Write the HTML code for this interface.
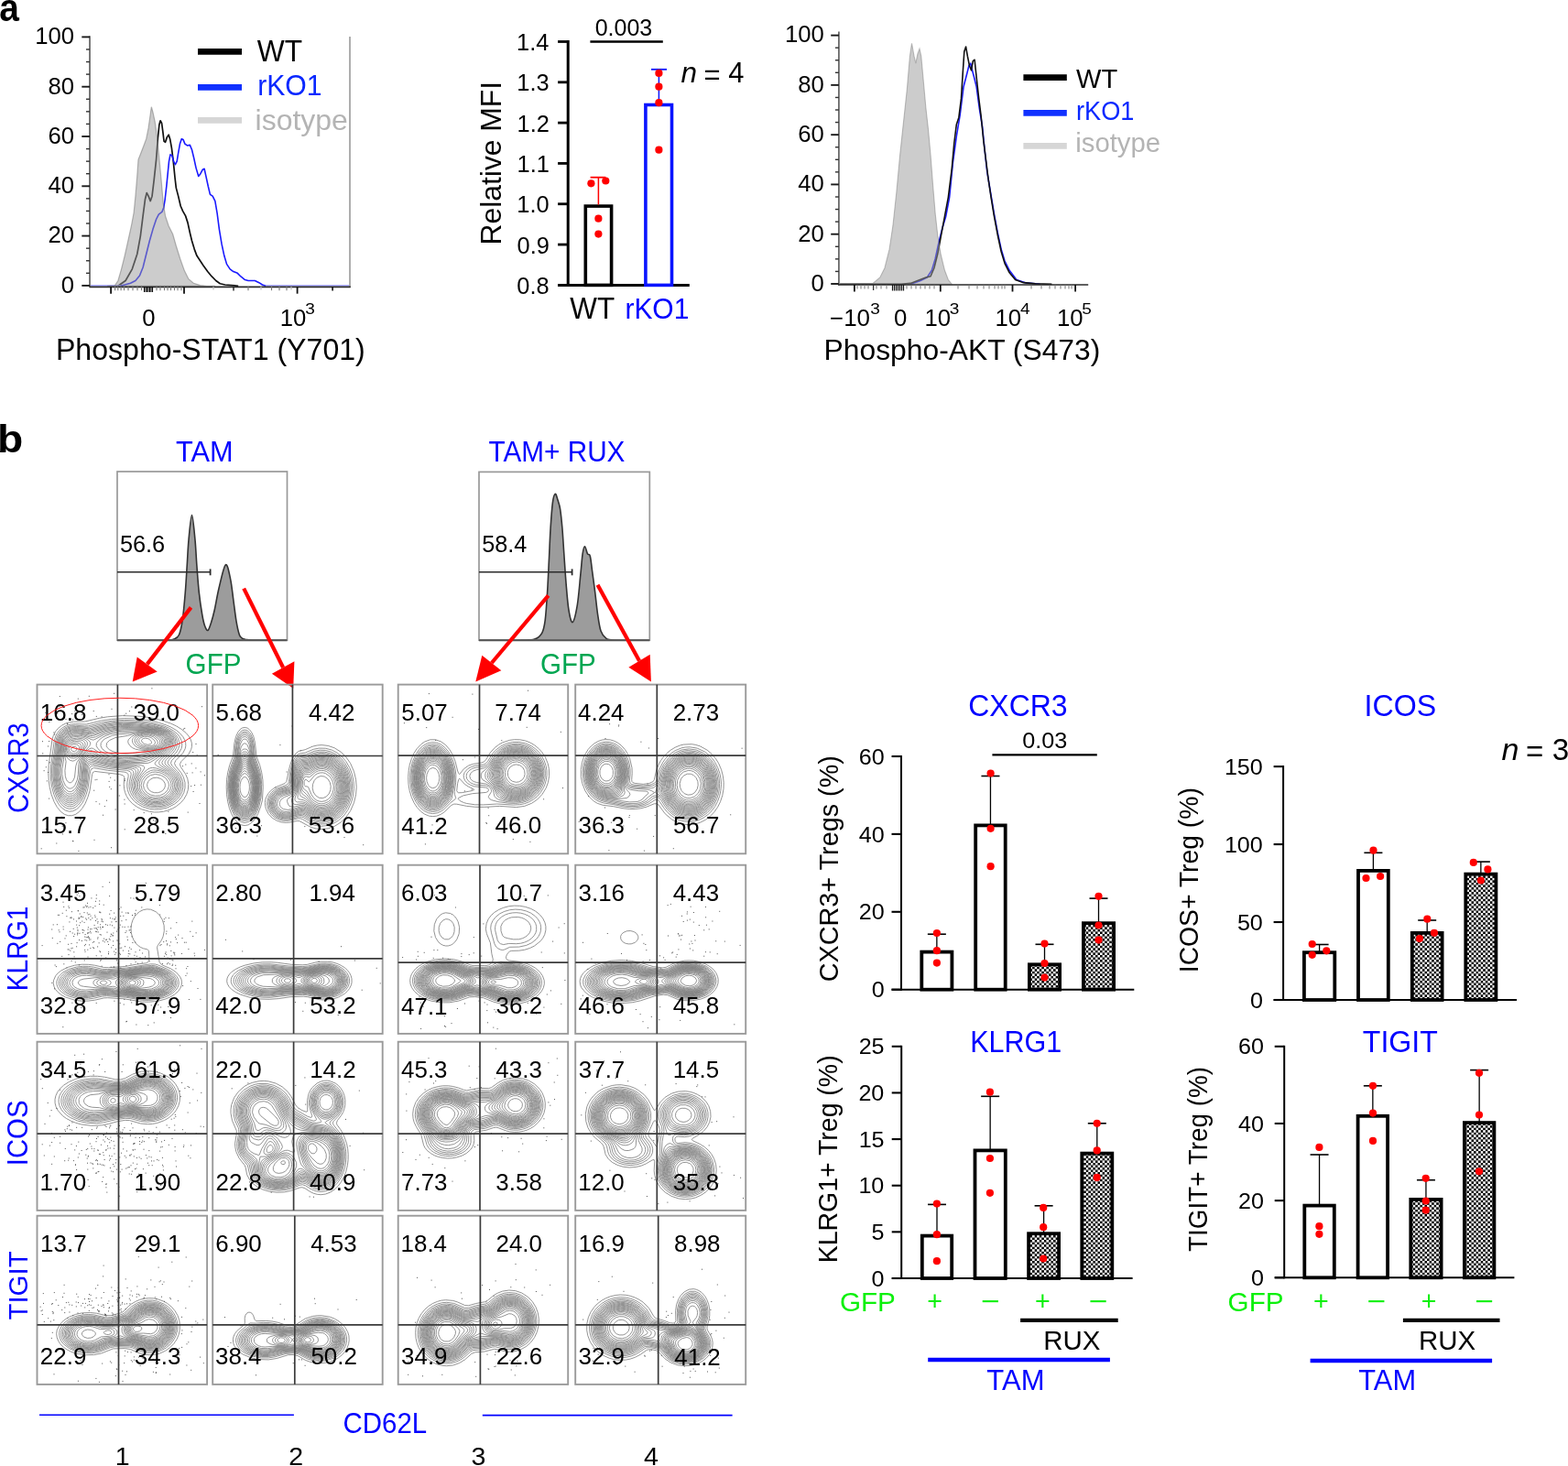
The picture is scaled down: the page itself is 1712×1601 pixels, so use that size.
<!DOCTYPE html>
<html><head><meta charset="utf-8"><title>Figure</title>
<style>
html,body{margin:0;padding:0;background:#fff;}
svg{display:block;}
text{font-family:"Liberation Sans", Arial, Helvetica, sans-serif;}
</style></head>
<body>
<svg width="1712" height="1601" viewBox="0 0 1712 1601">
<defs>
<pattern id="chk" x="0" y="0" width="5.1" height="5.1" patternUnits="userSpaceOnUse">
<rect width="5.1" height="5.1" fill="#fff"/>
<rect width="2.55" height="2.55" fill="#000"/>
<rect x="2.55" y="2.55" width="2.55" height="2.55" fill="#000"/>
</pattern>
</defs>
<rect width="1712" height="1601" fill="#fff"/>
<text transform="translate(-0.85,22.55) scale(0.9259,1)" font-size="42.000" font-weight="bold">a</text>
<path d="M128.93,312.29 L137.08,306.49 L144.32,293.82 L149.75,277.52 L153.37,257.61 L156.09,235.88 L158.44,217.77 L160.25,210.53 L162.06,214.15 L164.24,219.58 L166.05,214.15 L168.22,196.05 L170.57,174.32 L172.38,150.78 L173.83,136.3 L175.1,131.77 L176.55,134.48 L177.81,143.54 L179.08,154.4 L180.53,155.31 L182.34,149.88 L184.15,147.16 L185.6,151.69 L187.41,161.64 L189.22,176.13 L191.03,194.24 L192.3,205.1 L194.65,214.15 L197.19,225.02 L199.54,230.45 L202.62,235.88 L204.97,243.12 L207.33,253.99 L209.5,263.04 L212.22,272.09 L214.93,279.33 L218.55,284.77 L222.17,290.2 L226.7,296.53 L231.23,301.97 L235.75,306.49 L240.28,309.75 L245.71,311.02 L252.95,311.56 L260.2,312.29" fill="none" stroke="#111" stroke-width="1.7" stroke-linejoin="round"/>
<line x1="97.5" y1="311.9" x2="131.64" y2="311.9" stroke="#8c8cff" stroke-width="1.3"/>
<line x1="290.07" y1="311.9" x2="381.5" y2="311.9" stroke="#8c8cff" stroke-width="1.3"/>
<path d="M131.64,312.29 L142.51,309.21 L147.94,306.49 L152.47,301.06 L156.09,292.01 L159.71,277.52 L163.33,263.04 L166.95,250.36 L170.57,239.5 L173.29,234.07 L176.91,231.35 L178.72,226.83 L180.17,217.77 L181.8,203.29 L183.25,188.8 L184.51,176.13 L185.96,168.89 L187.77,169.79 L189.58,176.13 L191.39,179.75 L193.2,176.13 L194.65,167.08 L196.46,157.12 L198.27,151.69 L200.09,152.59 L201.9,157.12 L204.43,158.93 L207.33,158.38 L209.5,163.45 L211.67,172.51 L214.03,183.37 L216.74,192.42 L218.92,189.71 L221.27,185.18 L223.08,184.28 L224.89,192.42 L227.24,203.29 L229.42,212.34 L232.13,214.15 L234.85,219.58 L237.02,232.26 L239.38,250.36 L242.09,266.66 L244.81,279.33 L247.52,288.39 L251.14,293.82 L254.77,296.53 L259.29,298.35 L262.91,301.97 L267.44,305.59 L271.06,306.49 L278.3,306.49 L282.83,308.67 L286.45,311.02 L290.07,312.29" fill="none" stroke="#1a1aff" stroke-width="1.6" stroke-linejoin="round"/>
<path d="M117.16,312.29 L125.31,311.92 L128.93,306.49 L132.55,293.82 L136.17,279.33 L139.79,263.04 L143.41,246.74 L146.13,232.26 L147.94,214.15 L149.75,192.42 L151.02,174.32 L153.73,167.44 L156.99,158.93 L159.71,151.69 L162.06,139.92 L163.87,127.24 L165.32,116.74 L166.95,122.72 L169.12,132.67 L171.48,148.97 L173.65,170.7 L176,196.05 L178.18,221.39 L180.53,235.88 L184.15,246.74 L188.68,255.8 L192.3,268.47 L196.83,282.95 L201.35,295.63 L205.88,304.68 L211.31,309.21 L218.55,311.56 L225.8,312.29 L234.85,312.29 Z" fill="#9a9a9a" fill-opacity="0.5" stroke="#707070" stroke-opacity="0.5" stroke-width="1.2"/>
<line x1="98" y1="39.2" x2="98" y2="313.4" stroke="#6a6a6a" stroke-width="1.8"/>
<line x1="89.3" y1="311.9" x2="98" y2="311.9" stroke="#1a1a1a" stroke-width="1.9"/>
<text transform="translate(66.75,319.77)" font-size="25.700">0</text>
<line x1="94" y1="298.32" x2="98" y2="298.32" stroke="#333" stroke-width="1.4"/>
<line x1="94" y1="284.75" x2="98" y2="284.75" stroke="#333" stroke-width="1.4"/>
<line x1="94" y1="271.17" x2="98" y2="271.17" stroke="#333" stroke-width="1.4"/>
<line x1="89.3" y1="257.6" x2="98" y2="257.6" stroke="#1a1a1a" stroke-width="1.9"/>
<text transform="translate(52.50,265.47)" font-size="25.700">20</text>
<line x1="94" y1="244.02" x2="98" y2="244.02" stroke="#333" stroke-width="1.4"/>
<line x1="94" y1="230.45" x2="98" y2="230.45" stroke="#333" stroke-width="1.4"/>
<line x1="94" y1="216.88" x2="98" y2="216.88" stroke="#333" stroke-width="1.4"/>
<line x1="89.3" y1="203.3" x2="98" y2="203.3" stroke="#1a1a1a" stroke-width="1.9"/>
<text transform="translate(52.50,211.17)" font-size="25.700">40</text>
<line x1="94" y1="189.72" x2="98" y2="189.72" stroke="#333" stroke-width="1.4"/>
<line x1="94" y1="176.15" x2="98" y2="176.15" stroke="#333" stroke-width="1.4"/>
<line x1="94" y1="162.57" x2="98" y2="162.57" stroke="#333" stroke-width="1.4"/>
<line x1="89.3" y1="149" x2="98" y2="149" stroke="#1a1a1a" stroke-width="1.9"/>
<text transform="translate(52.50,156.88)" font-size="25.700">60</text>
<line x1="94" y1="135.42" x2="98" y2="135.42" stroke="#333" stroke-width="1.4"/>
<line x1="94" y1="121.85" x2="98" y2="121.85" stroke="#333" stroke-width="1.4"/>
<line x1="94" y1="108.27" x2="98" y2="108.27" stroke="#333" stroke-width="1.4"/>
<line x1="89.3" y1="94.7" x2="98" y2="94.7" stroke="#1a1a1a" stroke-width="1.9"/>
<text transform="translate(52.50,102.57)" font-size="25.700">80</text>
<line x1="94" y1="81.12" x2="98" y2="81.12" stroke="#333" stroke-width="1.4"/>
<line x1="94" y1="67.55" x2="98" y2="67.55" stroke="#333" stroke-width="1.4"/>
<line x1="94" y1="53.97" x2="98" y2="53.97" stroke="#333" stroke-width="1.4"/>
<line x1="89.3" y1="40.4" x2="98" y2="40.4" stroke="#1a1a1a" stroke-width="1.9"/>
<text transform="translate(38.25,48.27)" font-size="25.700">100</text>
<line x1="382" y1="40" x2="382" y2="314" stroke="#a0a0a0" stroke-width="1.7"/>
<line x1="97.5" y1="313.3" x2="382.8" y2="313.3" stroke="#2a2a2a" stroke-width="1.7"/>
<line x1="121.1" y1="313" x2="121.1" y2="320.7" stroke="#111" stroke-width="1.8"/>
<line x1="201" y1="313" x2="201" y2="320.7" stroke="#111" stroke-width="1.8"/>
<line x1="324.6" y1="313" x2="324.6" y2="320.7" stroke="#111" stroke-width="1.8"/>
<line x1="363.1" y1="313" x2="363.1" y2="317.5" stroke="#111" stroke-width="1.6"/>
<line x1="255" y1="313" x2="255" y2="317.5" stroke="#222" stroke-width="1.4"/>
<line x1="125.6" y1="313" x2="125.6" y2="317.2" stroke="#777" stroke-width="1.1"/>
<line x1="128.8" y1="313" x2="128.8" y2="317.2" stroke="#777" stroke-width="1.1"/>
<line x1="132.1" y1="313" x2="132.1" y2="317.2" stroke="#777" stroke-width="1.1"/>
<line x1="135.5" y1="313" x2="135.5" y2="317.2" stroke="#777" stroke-width="1.1"/>
<line x1="140" y1="313" x2="140" y2="317.2" stroke="#777" stroke-width="1.1"/>
<line x1="145" y1="313" x2="145" y2="317.2" stroke="#777" stroke-width="1.1"/>
<line x1="150" y1="313" x2="150" y2="317.2" stroke="#777" stroke-width="1.1"/>
<line x1="154.5" y1="313" x2="154.5" y2="317.2" stroke="#777" stroke-width="1.1"/>
<line x1="171" y1="313" x2="171" y2="317.2" stroke="#777" stroke-width="1.1"/>
<line x1="175" y1="313" x2="175" y2="317.2" stroke="#777" stroke-width="1.1"/>
<line x1="179.5" y1="313" x2="179.5" y2="317.2" stroke="#777" stroke-width="1.1"/>
<line x1="183" y1="313" x2="183" y2="317.2" stroke="#777" stroke-width="1.1"/>
<line x1="186.5" y1="313" x2="186.5" y2="317.2" stroke="#777" stroke-width="1.1"/>
<line x1="190.5" y1="313" x2="190.5" y2="317.2" stroke="#777" stroke-width="1.1"/>
<line x1="194" y1="313" x2="194" y2="317.2" stroke="#777" stroke-width="1.1"/>
<line x1="198" y1="313" x2="198" y2="317.2" stroke="#777" stroke-width="1.1"/>
<line x1="271" y1="313" x2="271" y2="317.2" stroke="#777" stroke-width="1.1"/>
<line x1="296.5" y1="313" x2="296.5" y2="317.2" stroke="#777" stroke-width="1.1"/>
<line x1="305" y1="313" x2="305" y2="317.2" stroke="#777" stroke-width="1.1"/>
<line x1="313" y1="313" x2="313" y2="317.2" stroke="#777" stroke-width="1.1"/>
<line x1="157.5" y1="313" x2="157.5" y2="319" stroke="#111" stroke-width="1.1"/>
<line x1="159" y1="313" x2="159" y2="319" stroke="#111" stroke-width="1.1"/>
<line x1="160.5" y1="313" x2="160.5" y2="319" stroke="#111" stroke-width="1.1"/>
<line x1="162" y1="313" x2="162" y2="319" stroke="#111" stroke-width="1.1"/>
<line x1="163.5" y1="313" x2="163.5" y2="319" stroke="#111" stroke-width="1.1"/>
<line x1="165" y1="313" x2="165" y2="319" stroke="#111" stroke-width="1.1"/>
<line x1="166.5" y1="313" x2="166.5" y2="319" stroke="#111" stroke-width="1.1"/>
<line x1="233" y1="313" x2="233" y2="316.5" stroke="#bbb" stroke-width="1.1"/>
<line x1="285" y1="313" x2="285" y2="316.5" stroke="#bbb" stroke-width="1.1"/>
<line x1="318" y1="313" x2="318" y2="316.5" stroke="#bbb" stroke-width="1.1"/>
<text transform="translate(155.18,355.95)" font-size="25.700">0</text>
<text transform="translate(305.70,355.95)" font-size="25.700">10</text>
<text transform="translate(333.25,342.85) scale(1.1200,1)" font-size="17.000">3</text>
<text transform="translate(60.92,393.25) scale(0.9771,1)" font-size="32.872">Phospho-STAT1 (Y701)</text>
<line x1="216" y1="56.4" x2="264" y2="56.4" stroke="#000" stroke-width="6.7"/>
<line x1="216" y1="95.4" x2="264" y2="95.4" stroke="#1030ff" stroke-width="6.7"/>
<line x1="216" y1="131.4" x2="264" y2="131.4" stroke="#d6d6d6" stroke-width="6.7"/>
<text transform="translate(280.73,66.65) scale(0.9685,1)" font-size="32.752">WT</text>
<text transform="translate(281.15,104.42) scale(0.9392,1)" font-size="32.141" fill="#0a28ff">rKO1</text>
<text transform="translate(278.55,141.68) scale(1.0351,1)" font-size="30.895" fill="#b4b4b4">isotype</text>
<line x1="620.2" y1="44" x2="620.2" y2="312.8" stroke="#000" stroke-width="3"/>
<line x1="609" y1="311.4" x2="752.8" y2="311.4" stroke="#000" stroke-width="3"/>
<line x1="609.1" y1="311.4" x2="620.2" y2="311.4" stroke="#000" stroke-width="2.8"/>
<text transform="translate(564.35,320.90) scale(0.9730,1)" font-size="26.100">0.8</text>
<line x1="609.1" y1="267.08" x2="620.2" y2="267.08" stroke="#000" stroke-width="2.8"/>
<text transform="translate(564.60,276.58) scale(0.9730,1)" font-size="26.100">0.9</text>
<line x1="609.1" y1="222.76" x2="620.2" y2="222.76" stroke="#000" stroke-width="2.8"/>
<text transform="translate(564.35,232.26) scale(0.9730,1)" font-size="26.100">1.0</text>
<line x1="609.1" y1="178.44" x2="620.2" y2="178.44" stroke="#000" stroke-width="2.8"/>
<text transform="translate(564.60,187.94) scale(0.9730,1)" font-size="26.100">1.1</text>
<line x1="609.1" y1="134.12" x2="620.2" y2="134.12" stroke="#000" stroke-width="2.8"/>
<text transform="translate(564.60,143.75) scale(0.9730,1)" font-size="26.100">1.2</text>
<line x1="609.1" y1="89.8" x2="620.2" y2="89.8" stroke="#000" stroke-width="2.8"/>
<text transform="translate(564.35,99.30) scale(0.9730,1)" font-size="26.100">1.3</text>
<line x1="609.1" y1="45.48" x2="620.2" y2="45.48" stroke="#000" stroke-width="2.8"/>
<text transform="translate(564.10,54.98) scale(0.9730,1)" font-size="26.100">1.4</text>
<rect x="639.3" y="225.1" width="28.3" height="86.3" fill="#fff" stroke="#000" stroke-width="3.6"/>
<rect x="704.9" y="114.5" width="28.6" height="196.9" fill="#fff" stroke="#0a14ff" stroke-width="3.6"/>
<line x1="653.4" y1="223.5" x2="653.4" y2="193.7" stroke="#f00" stroke-width="1.5"/>
<line x1="644.6" y1="193.7" x2="661.3" y2="193.7" stroke="#f00" stroke-width="1.8"/>
<line x1="719.4" y1="112.7" x2="719.4" y2="75.8" stroke="#0a14ff" stroke-width="1.5"/>
<line x1="711" y1="75.8" x2="728" y2="75.8" stroke="#0a14ff" stroke-width="1.8"/>
<circle cx="645.4" cy="200.3" r="4.1" fill="#f00"/>
<circle cx="661.3" cy="197.5" r="4.1" fill="#f00"/>
<circle cx="653.4" cy="238.7" r="4.1" fill="#f00"/>
<circle cx="653.4" cy="255.6" r="4.1" fill="#f00"/>
<circle cx="719.4" cy="79.9" r="4.1" fill="#f00"/>
<circle cx="719.4" cy="94.7" r="4.1" fill="#f00"/>
<circle cx="719.4" cy="112.2" r="4.1" fill="#f00"/>
<circle cx="719.4" cy="163.7" r="4.1" fill="#f00"/>
<line x1="644.4" y1="45.5" x2="723.8" y2="45.5" stroke="#000" stroke-width="2.6"/>
<text transform="translate(649.65,38.98) scale(0.9925,1)" font-size="25.203">0.003</text>
<text transform="translate(546.92,267.40) rotate(-90) scale(1.0199,1)" font-size="31.204">Relative MFI</text>
<text transform="translate(622.27,348.35) scale(0.9595,1)" font-size="32.752">WT</text>
<text transform="translate(682.40,347.98) scale(0.9476,1)" font-size="31.643" fill="#0000ff">rKO1</text>
<text transform="translate(743.40,89.50)" font-size="31.500" font-style="italic">n</text>
<text transform="translate(768.50,91.75)" font-size="31.000">=</text>
<text transform="translate(795.35,89.50)" font-size="30.900">4</text>
<path d="M994.2,310.18 L1004.48,306.84 L1012.19,302.98 L1017.33,295.27 L1021.19,282.42 L1025.04,264.43 L1028.9,249.01 L1032.75,236.16 L1036.61,215.6 L1040.46,177.05 L1044.32,148.78 L1048.17,125.65 L1052.03,94.81 L1055.37,81.96 L1057.94,71.68 L1059.74,69.11 L1061.54,76.82 L1063.59,84.53 L1066.16,94.81 L1069.25,117.94 L1072.59,138.5 L1075.16,164.2 L1077.73,187.33 L1081.58,210.46 L1085.44,233.59 L1089.29,254.15 L1093.15,272.14 L1097,284.99 L1102.14,295.27 L1109.85,305.55 L1120.13,308.89 L1135.55,310.18" fill="none" stroke="#1a1aff" stroke-width="1.6" stroke-linejoin="round"/>
<path d="M917.1,310.18 L983.92,310.18 L994.2,309.41 L1004.48,305.55 L1010.91,302.98 L1016.05,301.7 L1019.9,292.7 L1023.76,277.28 L1027.61,256.72 L1031.47,236.16 L1035.32,215.6 L1039.18,184.76 L1041.75,156.49 L1044.32,135.93 L1046.89,128.22 L1049.46,107.66 L1051.26,79.39 L1052.8,56.26 L1054.6,51.12 L1056.4,61.4 L1058.45,71.68 L1060.51,76.82 L1062.31,66.54 L1064.11,65.26 L1066.16,84.53 L1068.73,107.66 L1071.3,128.22 L1073.87,153.92 L1076.44,174.48 L1079.01,195.04 L1082.1,215.6 L1085.44,236.16 L1089.29,256.72 L1093.15,274.71 L1097,287.56 L1102.14,297.84 L1108.57,305.55 L1117.56,308.64 L1130.41,309.92 L1148.4,310.18" fill="none" stroke="#111" stroke-width="1.6" stroke-linejoin="round"/>
<path d="M917.1,310.18 L953.08,309.41 L960.79,302.98 L965.93,292.7 L971.07,272.14 L974.93,246.44 L978.78,210.46 L982.64,169.34 L986.49,133.36 L990.35,97.38 L993.43,61.4 L995.49,47.27 L998.06,61.4 L999.86,69.11 L1001.91,58.83 L1003.97,53.18 L1005.77,61.4 L1008.34,89.67 L1010.91,117.94 L1013.48,141.07 L1016.05,169.34 L1018.62,202.75 L1021.19,233.59 L1023.76,256.72 L1027.1,277.28 L1031.47,295.27 L1035.32,305.55 L1039.18,310.18 Z" fill="#9a9a9a" fill-opacity="0.5" stroke="#808080" stroke-opacity="0.5" stroke-width="1.1"/>
<line x1="915.9" y1="34.6" x2="915.9" y2="311.5" stroke="#6a6a6a" stroke-width="1.8"/>
<line x1="907.2" y1="310" x2="915.9" y2="310" stroke="#1a1a1a" stroke-width="1.9"/>
<text transform="translate(885.55,317.88)" font-size="25.700">0</text>
<line x1="911.9" y1="296.43" x2="915.9" y2="296.43" stroke="#333" stroke-width="1.4"/>
<line x1="911.9" y1="282.86" x2="915.9" y2="282.86" stroke="#333" stroke-width="1.4"/>
<line x1="911.9" y1="269.29" x2="915.9" y2="269.29" stroke="#333" stroke-width="1.4"/>
<line x1="907.2" y1="255.72" x2="915.9" y2="255.72" stroke="#1a1a1a" stroke-width="1.9"/>
<text transform="translate(871.30,263.60)" font-size="25.700">20</text>
<line x1="911.9" y1="242.15" x2="915.9" y2="242.15" stroke="#333" stroke-width="1.4"/>
<line x1="911.9" y1="228.58" x2="915.9" y2="228.58" stroke="#333" stroke-width="1.4"/>
<line x1="911.9" y1="215.01" x2="915.9" y2="215.01" stroke="#333" stroke-width="1.4"/>
<line x1="907.2" y1="201.44" x2="915.9" y2="201.44" stroke="#1a1a1a" stroke-width="1.9"/>
<text transform="translate(871.30,209.31)" font-size="25.700">40</text>
<line x1="911.9" y1="187.87" x2="915.9" y2="187.87" stroke="#333" stroke-width="1.4"/>
<line x1="911.9" y1="174.3" x2="915.9" y2="174.3" stroke="#333" stroke-width="1.4"/>
<line x1="911.9" y1="160.73" x2="915.9" y2="160.73" stroke="#333" stroke-width="1.4"/>
<line x1="907.2" y1="147.16" x2="915.9" y2="147.16" stroke="#1a1a1a" stroke-width="1.9"/>
<text transform="translate(871.30,155.03)" font-size="25.700">60</text>
<line x1="911.9" y1="133.59" x2="915.9" y2="133.59" stroke="#333" stroke-width="1.4"/>
<line x1="911.9" y1="120.02" x2="915.9" y2="120.02" stroke="#333" stroke-width="1.4"/>
<line x1="911.9" y1="106.45" x2="915.9" y2="106.45" stroke="#333" stroke-width="1.4"/>
<line x1="907.2" y1="92.88" x2="915.9" y2="92.88" stroke="#1a1a1a" stroke-width="1.9"/>
<text transform="translate(871.30,100.75)" font-size="25.700">80</text>
<line x1="911.9" y1="79.31" x2="915.9" y2="79.31" stroke="#333" stroke-width="1.4"/>
<line x1="911.9" y1="65.74" x2="915.9" y2="65.74" stroke="#333" stroke-width="1.4"/>
<line x1="911.9" y1="52.17" x2="915.9" y2="52.17" stroke="#333" stroke-width="1.4"/>
<line x1="907.2" y1="38.6" x2="915.9" y2="38.6" stroke="#1a1a1a" stroke-width="1.9"/>
<text transform="translate(857.05,46.48)" font-size="25.700">100</text>
<line x1="915" y1="311" x2="1188.2" y2="311" stroke="#2a2a2a" stroke-width="1.7"/>
<line x1="932.9" y1="311" x2="932.9" y2="318.5" stroke="#111" stroke-width="1.8"/>
<line x1="1026.8" y1="311" x2="1026.8" y2="318.5" stroke="#111" stroke-width="1.8"/>
<line x1="1105.5" y1="311" x2="1105.5" y2="318.5" stroke="#111" stroke-width="1.8"/>
<line x1="1174.1" y1="311" x2="1174.1" y2="318.5" stroke="#111" stroke-width="1.8"/>
<line x1="953.6" y1="311" x2="953.6" y2="317" stroke="#333" stroke-width="1.3"/>
<line x1="936" y1="311" x2="936" y2="315.5" stroke="#777" stroke-width="1"/>
<line x1="940" y1="311" x2="940" y2="315.5" stroke="#777" stroke-width="1"/>
<line x1="944" y1="311" x2="944" y2="315.5" stroke="#777" stroke-width="1"/>
<line x1="948" y1="311" x2="948" y2="315.5" stroke="#777" stroke-width="1"/>
<line x1="957" y1="311" x2="957" y2="315.5" stroke="#777" stroke-width="1"/>
<line x1="962" y1="311" x2="962" y2="315.5" stroke="#777" stroke-width="1"/>
<line x1="968" y1="311" x2="968" y2="315.5" stroke="#777" stroke-width="1"/>
<line x1="990" y1="311" x2="990" y2="315.5" stroke="#777" stroke-width="1"/>
<line x1="995" y1="311" x2="995" y2="315.5" stroke="#777" stroke-width="1"/>
<line x1="1000" y1="311" x2="1000" y2="315.5" stroke="#777" stroke-width="1"/>
<line x1="1005" y1="311" x2="1005" y2="315.5" stroke="#777" stroke-width="1"/>
<line x1="1010" y1="311" x2="1010" y2="315.5" stroke="#777" stroke-width="1"/>
<line x1="1015" y1="311" x2="1015" y2="315.5" stroke="#777" stroke-width="1"/>
<line x1="1020" y1="311" x2="1020" y2="315.5" stroke="#777" stroke-width="1"/>
<line x1="1046" y1="311" x2="1046" y2="315.5" stroke="#777" stroke-width="1"/>
<line x1="1058" y1="311" x2="1058" y2="315.5" stroke="#777" stroke-width="1"/>
<line x1="1067" y1="311" x2="1067" y2="315.5" stroke="#777" stroke-width="1"/>
<line x1="1074" y1="311" x2="1074" y2="315.5" stroke="#777" stroke-width="1"/>
<line x1="1080" y1="311" x2="1080" y2="315.5" stroke="#777" stroke-width="1"/>
<line x1="1086" y1="311" x2="1086" y2="315.5" stroke="#777" stroke-width="1"/>
<line x1="1090" y1="311" x2="1090" y2="315.5" stroke="#777" stroke-width="1"/>
<line x1="1094" y1="311" x2="1094" y2="315.5" stroke="#777" stroke-width="1"/>
<line x1="1097" y1="311" x2="1097" y2="315.5" stroke="#777" stroke-width="1"/>
<line x1="1126" y1="311" x2="1126" y2="315.5" stroke="#777" stroke-width="1"/>
<line x1="1137" y1="311" x2="1137" y2="315.5" stroke="#777" stroke-width="1"/>
<line x1="1146" y1="311" x2="1146" y2="315.5" stroke="#777" stroke-width="1"/>
<line x1="1152" y1="311" x2="1152" y2="315.5" stroke="#777" stroke-width="1"/>
<line x1="1158" y1="311" x2="1158" y2="315.5" stroke="#777" stroke-width="1"/>
<line x1="1163" y1="311" x2="1163" y2="315.5" stroke="#777" stroke-width="1"/>
<line x1="1167" y1="311" x2="1167" y2="315.5" stroke="#777" stroke-width="1"/>
<line x1="1170" y1="311" x2="1170" y2="315.5" stroke="#777" stroke-width="1"/>
<line x1="974.5" y1="311" x2="974.5" y2="317.5" stroke="#111" stroke-width="1.2"/>
<line x1="976.5" y1="311" x2="976.5" y2="317.5" stroke="#111" stroke-width="1.2"/>
<line x1="978.5" y1="311" x2="978.5" y2="317.5" stroke="#111" stroke-width="1.2"/>
<line x1="980.5" y1="311" x2="980.5" y2="317.5" stroke="#111" stroke-width="1.2"/>
<line x1="982.5" y1="311" x2="982.5" y2="317.5" stroke="#111" stroke-width="1.2"/>
<line x1="984.5" y1="311" x2="984.5" y2="317.5" stroke="#111" stroke-width="1.2"/>
<line x1="986.5" y1="311" x2="986.5" y2="317.5" stroke="#111" stroke-width="1.2"/>
<text transform="translate(906.02,355.70) scale(1.0185,1)" font-size="25.496">−10</text>
<text transform="translate(950.35,343.05) scale(1.1200,1)" font-size="17.000">3</text>
<text transform="translate(976.08,355.70) scale(1.0103,1)" font-size="25.496">0</text>
<text transform="translate(1009.50,355.65)" font-size="25.700">10</text>
<text transform="translate(1036.75,343.05) scale(1.1200,1)" font-size="17.000">3</text>
<text transform="translate(1086.50,355.65)" font-size="25.700">10</text>
<text transform="translate(1114.00,343.30) scale(1.1200,1)" font-size="17.000">4</text>
<text transform="translate(1154.00,355.65)" font-size="25.700">10</text>
<text transform="translate(1181.25,343.05) scale(1.1200,1)" font-size="17.000">5</text>
<text transform="translate(899.58,393.08) scale(1.0123,1)" font-size="31.429">Phospho-AKT (S473)</text>
<line x1="1117.4" y1="84.6" x2="1164.8" y2="84.6" stroke="#000" stroke-width="6.7"/>
<line x1="1117.4" y1="123.4" x2="1164.8" y2="123.4" stroke="#1030ff" stroke-width="6.7"/>
<line x1="1117.4" y1="159.3" x2="1164.8" y2="159.3" stroke="#d6d6d6" stroke-width="6.7"/>
<text transform="translate(1175.03,95.92) scale(0.9569,1)" font-size="30.379">WT</text>
<text transform="translate(1175.03,130.80) scale(0.9169,1)" font-size="29.638" fill="#0a28ff">rKO1</text>
<text transform="translate(1174.22,166.30) scale(1.0156,1)" font-size="28.893" fill="#b4b4b4">isotype</text>
<text transform="translate(-2.97,493.73) scale(1.1066,1)" font-size="41.799" font-weight="bold">b</text>
<path d="M128.5,699.2 C137.08,699.17 169.8,699.18 180,699 C190.2,698.82 187.12,699.05 189.7,698.1 C192.28,697.15 193.88,697.02 195.5,693.3 C197.12,689.58 198.27,683.55 199.4,675.8 C200.53,668.05 201.5,656.47 202.3,646.8 C203.1,637.13 203.57,627.48 204.2,617.8 C204.83,608.12 205.22,597.9 206.1,588.7 C206.98,579.5 208.37,562.6 209.5,562.6 C210.63,562.6 212,579.5 212.9,588.7 C213.8,597.9 214.17,608.12 214.9,617.8 C215.63,627.48 216.33,637.93 217.3,646.8 C218.27,655.67 219.65,664.87 220.7,671 C221.75,677.13 222.55,680.7 223.6,683.6 C224.65,686.5 225.88,688.88 227,688.4 C228.12,687.92 229.1,684.4 230.3,680.7 C231.5,677 232.73,672.65 234.2,666.2 C235.67,659.75 237.08,650.23 239.1,642 C241.12,633.77 244.22,618.42 246.3,616.8 C248.38,615.18 250.15,625.68 251.6,632.3 C253.05,638.92 253.87,648.43 255,656.5 C256.13,664.57 257.18,674.25 258.4,680.7 C259.62,687.15 260.52,692.22 262.3,695.2 C264.08,698.18 266.15,697.95 269.1,698.6 C272.05,699.25 272.68,699 280,699.1 C287.32,699.2 307.5,699.18 313,699.2" fill="#9c9c9c" stroke="#333" stroke-width="1.6"/>
<rect x="128" y="515" width="185.5" height="184.2" fill="none" stroke="#999" stroke-width="1.7"/>
<line x1="128" y1="699.2" x2="313.5" y2="699.2" stroke="#555" stroke-width="2"/>
<line x1="128" y1="624.7" x2="229.6" y2="624.7" stroke="#2a2a2a" stroke-width="1.5"/>
<line x1="229.6" y1="621.4" x2="229.6" y2="628.3" stroke="#2a2a2a" stroke-width="1.8"/>
<text transform="translate(130.88,602.58) scale(0.9797,1)" font-size="25.848">56.6</text>
<text transform="translate(191.93,503.70) scale(0.9859,1)" font-size="31.175" fill="#0000ff">TAM</text>
<text transform="translate(202.62,736.35) scale(0.9508,1)" font-size="31.122" fill="#00a651">GFP</text>
<path d="M523.3,699.3 C529.42,699.3 552.3,699.33 560,699.3 C567.7,699.27 565.57,699.3 569.5,699.1 C573.43,698.9 579.9,699.4 583.6,698.1 C587.3,696.8 589.77,694.77 591.7,691.3 C593.63,687.83 594.22,684.7 595.2,677.3 C596.18,669.9 596.9,657.8 597.6,646.9 C598.3,636 598.82,623.58 599.4,611.9 C599.98,600.22 600.43,587.32 601.1,576.8 C601.77,566.28 602.55,555.03 603.4,548.8 C604.25,542.57 605.27,539.87 606.2,539.4 C607.13,538.93 608.1,543.27 609,546 C609.9,548.73 610.78,550.67 611.6,555.8 C612.42,560.93 613.2,568.62 613.9,576.8 C614.6,584.98 615.1,594.77 615.8,604.9 C616.5,615.03 617.25,627.48 618.1,637.6 C618.95,647.72 619.73,658.6 620.9,665.6 C622.07,672.6 623.53,680.38 625.1,679.6 C626.67,678.82 628.85,669.47 630.3,660.9 C631.75,652.33 632.83,637.53 633.8,628.2 C634.77,618.87 635.32,610.15 636.1,604.9 C636.88,599.65 637.6,596.7 638.5,596.7 C639.4,596.7 640.53,603.15 641.5,604.9 C642.47,606.65 643.45,604.08 644.3,607.2 C645.15,610.32 645.7,616.98 646.6,623.6 C647.5,630.22 648.72,639.12 649.7,646.9 C650.68,654.68 651.45,663.28 652.5,670.3 C653.55,677.32 654.45,684.53 656,689 C657.55,693.47 659.47,695.42 661.8,697.1 C664.13,698.78 662.17,698.73 670,699.1 C677.83,699.47 702.33,699.27 708.8,699.3" fill="#9c9c9c" stroke="#333" stroke-width="1.6"/>
<rect x="523" y="515.4" width="186.3" height="183.8" fill="none" stroke="#999" stroke-width="1.7"/>
<line x1="523" y1="699.2" x2="709.3" y2="699.2" stroke="#555" stroke-width="2"/>
<line x1="523" y1="624.7" x2="624.6" y2="624.7" stroke="#2a2a2a" stroke-width="1.5"/>
<line x1="624.6" y1="621.4" x2="624.6" y2="628.3" stroke="#2a2a2a" stroke-width="1.8"/>
<text transform="translate(526.20,602.85) scale(0.9966,1)" font-size="25.352">58.4</text>
<text transform="translate(533.55,503.52) scale(0.9480,1)" font-size="31.364" fill="#0000ff">TAM+ RUX</text>
<text transform="translate(590.12,736.35) scale(0.9491,1)" font-size="31.122" fill="#00a651">GFP</text>
<line x1="208.5" y1="663.4" x2="160.7" y2="725.4" stroke="#ff0000" stroke-width="4.2"/>
<path d="M144.7,744.4 L149.7,717.4 L171.7,733.4Z" fill="#ff0000"/>
<line x1="266.2" y1="642.6" x2="309.15" y2="729.05" stroke="#ff0000" stroke-width="4.2"/>
<path d="M320.2,751.8 L296.9,735.8 L321.4,722.3Z" fill="#ff0000"/>
<line x1="598.7" y1="650.4" x2="536.8" y2="724" stroke="#ff0000" stroke-width="4.2"/>
<path d="M519.3,744.6 L526.3,715.8 L547.3,732.2Z" fill="#ff0000"/>
<line x1="652.5" y1="638.7" x2="698.05" y2="721.7" stroke="#ff0000" stroke-width="4.2"/>
<path d="M710.9,744.6 L686.4,728.7 L709.7,714.7Z" fill="#ff0000"/>
<g fill="none" stroke="#777" stroke-width="0.8"><path d="M78.5,890.7 74.5,890.7 70.5,889.4 66.5,886.5 62.4,881.6 59.1,875.6 56.1,867.6 54.2,859.6 53.3,852.6 52.8,844.6 53.2,835.6 57.0,807.6 58.2,803.6 60.8,798.6 63.5,795.4 67.5,792.2 71.5,790.1 75.5,788.9 80.5,788.2 92.5,788.0 108.5,784.3 117.5,782.8 133.5,781.6 151.5,782.2 160.5,783.2 170.5,785.1 178.5,787.3 186.5,790.1 192.5,792.9 198.5,796.6 203.3,800.6 206.6,804.6 208.2,807.6 209.4,811.6 209.4,815.6 208.6,818.6 205.9,823.6 197.9,831.6 196.4,834.6 197.4,837.6 202.7,845.6 204.8,850.6 205.8,856.6 205.3,862.6 203.7,867.6 200.9,872.6 197.4,876.6 192.5,880.6 188.5,882.9 183.5,884.9 178.5,886.3 173.5,886.9 168.5,887.0 163.5,886.4 154.5,883.8 149.5,881.2 144.6,877.6 140.9,873.6 138.3,869.6 136.6,865.6 135.6,861.6 135.2,856.6 135.8,849.6 135.5,848.1 134.5,846.9 130.5,845.6 103.5,842.4 101.5,843.5 100.6,845.6 98.0,863.6 95.9,870.6 93.0,877.6 89.9,882.6 86.5,886.5 82.5,889.4 78.5,890.7"/><path d="M79.5,885.8 75.5,886.2 71.5,885.1 67.5,882.3 64.5,878.9 61.3,873.6 58.8,867.6 56.9,860.6 55.7,853.6 55.2,845.6 55.4,837.6 59.3,808.6 60.9,803.6 62.5,800.6 64.8,797.6 68.5,794.5 72.5,792.4 77.5,791.0 82.5,790.7 94.5,791.0 110.5,787.1 121.5,785.4 135.5,784.6 148.5,784.9 165.5,787.3 173.5,789.3 181.5,791.9 186.5,794.0 192.5,797.5 196.3,800.6 199.8,804.6 201.9,808.6 202.7,811.6 202.8,814.6 202.2,817.6 199.6,822.6 191.8,830.6 190.5,833.6 191.7,836.6 197.5,843.6 200.3,848.6 202.0,854.6 202.0,860.6 200.8,865.6 198.1,870.6 194.8,874.6 190.5,878.1 182.5,882.1 173.5,883.9 168.5,884.0 163.5,883.4 155.5,880.9 150.5,878.1 146.5,874.9 142.9,870.6 140.7,866.6 139.3,862.6 138.8,858.6 138.9,854.6 140.2,847.6 139.9,845.6 139.3,844.6 137.7,843.6 135.5,843.1 117.5,841.3 102.5,838.6 99.9,839.6 98.5,842.4 96.1,860.6 94.2,867.6 91.7,873.6 89.4,877.6 86.2,881.6 83.5,883.9 79.5,885.8"/><path d="M79.5,882.9 75.5,883.3 72.5,882.5 68.5,880.0 65.5,876.6 62.4,871.6 60.0,865.6 58.1,858.6 57.1,852.6 56.6,844.6 56.9,836.6 59.5,820.8 60.9,808.6 62.2,804.6 63.7,801.6 66.5,798.1 69.5,795.7 73.5,793.7 78.5,792.4 82.5,792.2 92.5,793.0 96.5,792.8 110.5,789.2 122.5,787.2 135.5,786.4 147.5,786.8 164.5,789.1 179.5,793.1 184.5,795.2 189.5,798.2 193.6,801.6 196.0,804.6 198.0,808.6 198.7,811.6 198.7,814.6 198.0,817.6 195.2,822.6 187.4,830.6 186.5,833.6 188.2,836.6 193.9,842.6 197.4,847.6 199.6,853.6 199.9,859.6 198.8,864.6 196.2,869.6 192.9,873.6 188.5,877.1 181.5,880.4 172.5,882.1 164.5,881.6 156.5,879.2 152.5,877.1 148.1,873.6 144.8,869.6 142.6,865.6 141.6,862.6 141.0,858.6 141.4,853.6 143.2,845.6 142.8,843.6 142.0,842.6 138.5,841.3 118.5,839.5 101.5,836.2 99.5,836.7 98.5,837.5 97.4,839.6 94.9,858.6 93.0,865.6 91.1,870.6 88.5,875.2 85.5,879.0 82.5,881.5 79.5,882.9"/><path d="M171.5,880.6 163.5,879.9 156.5,877.5 150.6,873.6 146.2,868.6 143.8,863.6 142.9,858.6 143.2,853.6 145.8,844.6 145.6,842.6 144.5,841.2 142.5,840.3 139.5,839.7 118.5,837.9 100.5,834.2 98.5,834.8 97.5,835.6 96.4,837.6 95.5,841.6 94.4,854.6 93.1,860.6 90.8,867.6 87.5,873.8 83.5,878.2 80.5,880.1 78.5,880.7 75.5,880.9 73.5,880.5 69.5,878.2 65.4,873.6 61.8,866.6 59.2,857.6 57.9,847.6 58.2,835.6 60.6,821.6 61.7,810.6 63.1,805.6 65.5,801.2 67.9,798.6 70.5,796.6 73.5,795.0 77.5,793.9 83.5,793.5 96.5,794.4 117.5,789.4 126.5,788.3 135.5,787.9 150.5,788.5 167.5,791.2 174.5,792.9 180.5,794.9 188.5,799.4 192.0,802.6 194.6,806.6 195.7,810.6 195.6,814.6 194.8,817.6 193.2,820.6 190.9,823.6 184.6,829.6 183.4,831.6 183.2,833.6 185.2,836.6 192.5,843.6 196.0,848.6 197.9,854.6 198.1,858.6 197.7,861.6 196.4,865.6 194.8,868.6 192.5,871.6 188.5,875.1 184.5,877.5 180.5,879.1 176.5,880.1 171.5,880.6"/><path d="M176.5,878.7 168.5,879.2 161.5,878.0 154.5,874.7 151.5,872.4 148.8,869.6 145.9,864.6 144.5,858.6 145.1,852.6 148.3,843.6 148.2,841.6 146.5,839.7 141.5,838.5 128.5,837.7 119.5,836.7 100.5,832.4 97.5,833.1 95.5,836.0 94.7,839.6 93.7,851.6 92.5,858.6 90.3,865.6 87.2,871.6 83.5,876.0 79.5,878.4 76.5,878.9 74.5,878.7 70.5,876.8 66.4,872.6 62.7,865.6 60.1,856.6 59.0,847.6 59.2,836.6 61.6,822.6 62.6,811.6 63.9,806.6 65.9,802.6 68.4,799.6 71.0,797.6 74.5,795.8 77.5,795.0 83.5,794.6 97.5,795.8 116.5,791.0 125.5,789.7 134.5,789.2 149.5,789.7 167.5,792.4 178.5,795.3 186.5,799.4 190.1,802.6 192.1,805.6 193.4,809.6 193.4,813.6 192.6,816.6 191.0,819.6 187.8,823.6 181.5,829.6 180.2,831.6 180.1,833.6 181.3,835.6 189.5,842.6 193.6,847.6 196.1,853.6 196.4,859.6 194.7,865.6 192.9,868.6 190.4,871.6 184.5,875.9 180.5,877.6 176.5,878.7"/><path d="M175.5,877.6 167.5,877.9 160.5,876.3 153.8,872.6 149.1,867.6 146.7,862.6 146.0,857.6 147.0,851.6 150.8,842.6 150.9,840.6 149.1,838.6 144.5,837.4 128.5,836.6 119.5,835.5 99.5,830.6 96.5,831.7 94.5,834.9 93.7,838.6 92.9,849.6 91.9,856.6 89.9,863.6 87.0,869.6 83.5,873.9 79.5,876.4 75.5,876.9 71.5,875.4 67.5,871.7 64.0,865.6 61.4,857.6 60.0,848.6 60.1,837.6 62.5,823.2 63.4,812.6 64.5,807.6 66.5,803.6 68.5,801.0 71.4,798.6 74.5,797.0 77.5,796.1 83.5,795.6 94.5,797.0 98.5,797.0 116.5,792.2 124.5,791.0 133.5,790.3 148.5,790.8 167.5,793.3 177.5,795.9 185.0,799.6 188.5,802.6 191.0,806.6 191.8,809.6 191.5,813.6 189.9,817.6 187.8,820.6 177.7,830.6 176.9,832.6 177.0,833.6 178.2,835.6 187.5,842.7 191.9,847.6 194.6,853.6 194.9,859.6 193.1,865.6 191.2,868.6 188.5,871.5 182.5,875.4 175.5,877.6"/><path d="M173.5,876.7 166.5,876.5 159.5,874.5 153.5,870.6 149.5,865.6 147.7,860.6 147.5,855.6 148.9,850.6 153.8,840.6 153.5,838.6 152.3,837.6 146.5,836.2 130.5,835.6 120.5,834.5 111.5,832.6 99.5,829.0 96.5,829.6 94.6,831.6 93.7,833.6 92.8,837.6 92.0,849.6 91.1,855.6 89.1,862.6 86.5,868.0 83.5,871.8 79.5,874.5 75.5,875.1 71.5,873.5 67.5,869.5 64.3,863.6 62.1,856.6 60.9,847.6 61.0,837.6 63.4,823.6 64.2,812.6 65.5,807.6 67.5,803.8 69.5,801.4 72.5,799.1 78.5,796.9 84.5,796.7 98.5,798.3 117.5,793.2 125.5,792.0 133.5,791.4 146.5,791.7 167.5,794.1 176.5,796.3 183.5,799.7 187.0,802.6 189.2,805.6 190.3,809.6 189.8,813.6 188.5,816.6 186.5,819.4 183.5,822.6 175.5,829.6 174.0,831.6 173.5,833.6 174.7,835.6 185.5,842.8 190.2,847.6 192.0,850.6 193.1,853.6 193.4,859.6 191.5,865.6 187.5,870.6 181.3,874.6 177.5,875.9 173.5,876.7"/><path d="M177.5,874.6 173.5,875.4 169.5,875.6 165.5,875.1 161.5,874.0 155.5,870.5 152.5,867.6 150.6,864.6 149.0,859.6 149.2,854.6 151.5,848.6 157.4,839.6 157.7,837.6 156.8,836.6 153.8,835.6 150.5,835.2 131.5,834.6 121.5,833.6 112.5,831.7 101.5,827.8 98.5,827.2 96.5,827.6 95.1,828.6 92.8,832.6 91.8,837.6 90.5,853.6 88.7,860.6 86.5,865.6 83.5,869.8 79.5,872.7 75.5,873.2 72.5,872.2 68.5,868.6 65.5,863.5 63.2,856.6 61.8,847.6 61.9,838.6 64.2,824.6 64.9,813.6 65.8,809.6 67.5,805.6 69.5,802.8 72.1,800.6 75.5,798.8 78.5,797.9 84.5,797.6 95.5,799.3 99.5,799.5 116.5,794.6 131.5,792.6 143.5,792.6 165.5,794.5 174.5,796.4 181.8,799.6 185.7,802.6 187.9,805.6 189.0,809.6 188.4,813.6 186.5,817.0 183.5,820.5 170.3,831.6 169.2,833.6 169.2,834.6 171.5,836.6 182.5,842.3 187.5,846.5 189.8,849.6 191.2,852.6 192.0,855.6 192.1,858.6 190.9,863.6 187.6,868.6 183.5,872.0 177.5,874.6"/><path d="M79.5,870.7 76.5,871.4 73.5,870.7 70.5,868.7 68.7,866.6 66.5,862.9 64.8,858.6 62.8,848.6 62.8,838.6 65.0,825.6 66.1,811.6 68.6,805.6 70.5,803.2 73.5,800.9 77.5,799.2 82.5,798.6 87.5,798.9 97.5,800.7 100.5,800.7 113.1,796.6 121.5,794.7 131.5,793.6 142.5,793.6 163.5,795.0 172.5,796.6 177.5,798.3 181.5,800.3 184.4,802.6 186.7,805.6 187.7,808.6 187.7,811.6 186.5,814.6 184.4,817.6 179.5,822.1 169.5,829.2 164.5,832.3 161.5,833.4 138.5,833.8 126.5,833.2 113.1,830.6 99.5,825.6 97.5,825.5 95.5,826.3 92.7,829.6 91.3,833.6 89.8,851.6 87.5,860.6 85.5,864.8 83.5,867.6 79.5,870.7"/><path d="M175.5,873.8 171.5,874.3 167.5,874.1 160.5,872.1 157.5,870.3 154.5,867.7 151.4,862.6 150.6,859.6 150.5,856.6 151.0,853.6 152.2,850.6 154.5,846.9 157.5,843.4 160.5,840.7 163.5,838.9 166.5,838.4 170.5,838.9 179.5,842.2 185.6,846.6 188.1,849.6 189.6,852.6 190.5,856.4 190.4,859.6 189.6,862.6 188.1,865.6 185.6,868.6 183.1,870.6 179.5,872.5 175.5,873.8"/><path d="M79.5,868.7 76.5,869.4 74.5,869.1 71.8,867.6 69.5,865.3 67.5,862.1 65.7,857.6 63.8,847.6 63.8,839.6 66.0,825.6 66.7,812.6 69.1,806.6 71.5,803.7 73.5,802.1 78.5,800.1 83.5,799.6 100.5,802.1 103.5,801.5 113.5,797.8 120.5,796.1 130.5,794.8 140.5,794.5 161.5,795.5 171.5,797.0 176.5,798.6 180.5,800.6 183.1,802.6 185.6,805.6 186.6,808.6 186.5,811.6 185.2,814.6 182.5,817.9 177.5,821.9 168.5,827.6 163.5,830.2 159.5,831.4 153.5,832.2 142.5,832.7 127.5,832.2 120.5,831.1 113.5,829.4 99.5,823.8 97.5,823.8 95.5,824.5 92.5,827.6 90.4,832.6 89.0,849.6 87.0,858.6 83.5,865.3 81.5,867.4 79.5,868.7"/><path d="M173.5,872.7 166.5,872.5 160.5,870.4 155.5,866.4 153.6,863.6 152.5,860.7 152.3,855.6 153.1,852.6 154.5,849.8 156.5,847.1 159.5,844.2 164.5,841.5 167.5,840.9 171.5,841.2 175.5,842.2 179.5,844.0 182.5,845.9 185.4,848.6 187.4,851.6 188.5,854.5 188.9,857.6 188.5,860.6 187.4,863.6 185.5,866.4 183.3,868.6 180.2,870.6 173.5,872.7"/><path d="M78.5,866.9 75.5,867.1 73.5,866.4 71.5,865.0 69.5,862.6 66.3,855.6 64.8,846.6 65.0,838.6 67.0,826.6 66.9,817.6 67.5,812.6 68.5,809.6 70.2,806.6 74.5,802.8 79.5,801.0 84.5,800.7 90.5,801.5 98.5,803.5 101.5,803.6 115.1,798.6 125.5,796.4 136.5,795.6 158.5,796.0 167.5,796.8 174.7,798.6 180.6,801.6 184.4,805.6 185.5,808.6 185.3,811.6 184.0,814.6 181.3,817.6 176.5,821.1 166.5,826.8 161.5,828.9 156.5,830.2 140.5,831.6 126.5,830.9 118.9,829.6 112.5,827.8 100.5,822.1 97.5,822.0 95.5,822.8 91.7,826.6 89.4,831.6 88.7,835.6 87.9,849.6 85.6,858.6 82.5,863.9 80.5,865.8 78.5,866.9"/><path d="M175.5,870.7 169.5,871.3 163.5,870.0 158.5,867.0 155.2,862.6 154.1,857.6 155.2,852.6 158.5,847.8 163.5,844.3 166.5,843.3 169.5,843.1 173.5,843.6 176.5,844.5 181.8,847.6 183.9,849.6 185.8,852.6 186.8,855.6 186.9,858.6 185.3,863.6 181.5,867.8 178.5,869.6 175.5,870.7"/><path d="M76.5,864.6 74.5,864.2 72.5,863.0 69.5,859.3 67.0,852.6 66.0,844.6 66.4,837.6 68.2,827.6 67.7,818.6 68.1,813.6 69.0,810.6 70.7,807.6 72.5,805.6 75.5,803.6 80.5,802.1 85.5,801.9 90.5,802.6 98.5,805.1 101.5,805.5 104.5,804.7 115.5,799.9 125.5,797.6 135.5,796.8 159.5,796.7 167.5,797.4 174.5,799.3 179.5,801.8 183.2,805.6 184.4,808.6 184.2,811.6 182.7,814.6 179.5,817.8 174.5,821.0 163.5,826.3 158.5,828.1 153.5,829.2 138.5,830.5 125.5,829.6 119.5,828.4 113.4,826.6 108.8,824.6 100.5,819.9 98.5,819.8 96.5,820.5 94.5,821.9 91.9,824.6 88.4,830.6 87.4,835.6 86.6,849.6 84.5,857.2 82.7,860.6 81.0,862.6 78.5,864.2 76.5,864.6"/><path d="M174.5,868.8 169.5,869.2 164.5,868.1 160.3,865.6 157.4,861.6 156.5,857.6 157.5,853.2 160.5,849.2 164.4,846.6 169.5,845.5 175.5,846.5 180.5,849.4 183.6,853.6 184.4,856.6 184.4,858.6 183.1,862.6 179.5,866.5 174.5,868.8"/><path d="M78.5,860.7 76.5,861.2 74.5,860.7 71.5,858.1 69.0,852.6 67.8,845.6 67.9,839.6 69.6,829.6 68.6,819.6 68.8,814.6 69.6,811.6 71.3,808.6 73.5,806.3 75.5,805.0 80.5,803.4 87.5,803.3 93.0,804.6 100.5,807.9 102.5,808.0 113.5,802.3 123.5,799.3 133.5,798.1 159.5,797.3 166.5,797.9 173.5,799.6 179.1,802.6 181.3,804.6 182.6,806.6 183.3,809.6 182.7,812.6 180.6,815.6 177.5,818.1 171.5,821.3 160.5,825.7 154.5,827.4 148.5,828.5 135.5,829.1 122.5,827.7 115.5,825.7 110.6,823.6 101.5,817.3 99.5,817.1 97.5,817.9 94.5,820.1 91.5,823.4 86.9,830.6 85.9,834.6 85.3,845.6 84.3,851.6 81.8,857.6 80.5,859.3 78.5,860.7"/><path d="M172.5,865.7 168.5,865.7 165.2,864.6 162.5,862.5 160.9,859.6 160.6,856.6 161.8,853.6 163.5,851.6 167.1,849.6 171.5,849.2 175.5,850.4 178.4,852.6 180.1,855.6 180.4,857.6 180.1,859.6 178.5,862.5 175.8,864.6 172.5,865.7"/><path d="M140.5,827.6 133.5,827.6 126.5,826.8 120.8,825.6 115.1,823.6 110.0,820.6 106.9,817.6 105.2,814.6 105.3,811.6 107.6,808.6 111.4,805.6 115.1,803.6 120.8,801.6 130.5,799.9 144.5,799.2 155.5,798.1 164.5,798.2 171.5,799.7 177.7,802.6 180.0,804.6 181.4,806.6 182.2,809.6 181.5,812.6 179.2,815.6 174.5,818.8 168.5,821.3 154.5,825.6 148.5,826.9 140.5,827.6"/><path d="M77.5,854.7 75.5,854.7 73.5,853.1 72.5,851.6 71.3,847.6 70.9,841.6 72.1,831.6 69.5,820.2 69.4,816.6 69.9,813.6 72.5,808.8 76.5,806.0 79.5,805.0 83.5,804.5 90.5,805.3 93.9,806.6 96.8,808.6 98.4,810.6 98.7,812.6 97.7,814.6 87.8,826.6 84.0,832.6 82.8,836.6 81.5,848.9 79.5,853.1 77.5,854.7"/><path d="M142.5,825.7 130.5,825.5 124.5,824.4 118.8,822.6 114.9,820.6 111.4,817.6 110.0,814.6 110.2,811.6 112.3,808.6 114.9,806.6 122.5,803.3 129.5,801.9 141.5,801.0 156.5,798.7 164.5,798.9 171.5,800.5 176.5,802.9 178.5,804.6 180.1,806.6 181.0,809.6 180.3,812.6 177.8,815.6 174.5,817.8 165.5,821.1 149.9,824.6 142.5,825.7"/><path d="M81.5,830.6 79.5,831.1 76.5,830.4 74.5,828.8 72.5,826.1 71.0,822.6 70.4,819.6 70.3,816.6 70.9,813.6 73.5,809.5 77.5,807.1 84.5,806.0 90.5,806.9 93.6,808.6 95.2,810.6 95.5,812.6 94.9,814.6 87.5,825.2 84.5,828.5 81.5,830.6"/><path d="M144.5,822.6 138.5,823.1 132.5,822.8 127.5,822.0 123.0,820.6 119.3,818.6 117.2,816.6 116.2,814.6 116.6,811.6 119.5,808.5 125.9,805.6 139.5,803.4 150.5,800.4 157.5,799.4 164.7,799.6 171.5,801.3 176.5,804.2 179.2,807.6 179.6,810.6 178.5,813.3 176.3,815.6 172.5,817.8 164.5,820.2 144.5,822.6"/><path d="M82.5,827.7 80.5,828.2 77.5,827.8 75.5,826.8 73.5,824.8 72.2,822.6 71.4,819.6 71.7,814.6 73.5,811.3 75.5,809.6 77.5,808.6 83.5,807.5 88.5,808.1 90.5,808.9 92.4,810.6 93.1,812.6 92.8,814.6 91.0,818.6 88.3,822.6 85.5,825.7 82.5,827.7"/><path d="M159.5,819.6 151.5,819.0 147.5,818.0 144.5,816.6 142.0,814.6 140.1,811.6 139.7,809.6 140.4,807.6 143.5,804.6 147.2,802.6 153.5,800.6 159.5,800.0 164.5,800.3 169.7,801.6 173.8,803.6 177.0,806.6 178.2,809.6 177.9,811.6 176.8,813.6 174.6,815.6 171.5,817.3 167.5,818.6 159.5,819.6"/><path d="M82.5,825.9 78.5,826.2 76.5,825.4 74.5,823.8 72.5,819.7 72.6,815.6 74.5,812.2 77.5,810.2 81.5,809.3 86.5,809.5 88.5,810.3 90.1,811.6 90.8,813.6 90.7,815.6 89.5,818.6 87.5,821.8 85.5,824.0 82.5,825.9"/><path d="M167.5,817.7 163.5,818.3 158.5,818.4 154.5,817.8 150.5,816.5 147.5,814.6 145.1,811.6 144.4,808.6 145.0,806.6 146.8,804.6 149.5,802.9 156.5,801.0 163.5,801.0 166.5,801.6 170.5,803.1 173.0,804.6 175.1,806.6 176.3,808.6 176.5,810.9 175.9,812.6 174.2,814.6 170.7,816.6 167.5,817.7"/><path d="M80.5,824.7 77.5,824.1 74.7,821.6 73.8,819.6 73.6,817.6 74.5,814.6 76.5,812.5 79.5,811.3 83.5,811.0 86.5,811.7 87.7,812.6 88.7,814.6 88.0,818.6 86.5,821.1 84.5,823.2 82.5,824.3 80.5,824.7"/><path d="M167.5,816.7 163.5,817.3 159.5,817.4 155.5,816.7 152.5,815.6 149.5,813.6 147.8,811.6 147.0,808.6 147.5,806.6 149.3,804.6 150.9,803.6 156.5,801.9 162.5,801.9 168.6,803.6 172.8,806.6 174.3,808.6 174.7,810.6 174.1,812.6 172.5,814.3 167.5,816.7"/><path d="M82.5,822.6 80.5,823.0 78.5,822.7 76.8,821.6 75.5,819.7 75.2,817.6 75.5,816.3 76.6,814.6 78.5,813.4 80.5,812.9 83.5,813.0 85.5,813.9 86.5,815.3 86.6,817.6 85.8,819.6 84.5,821.3 82.5,822.6"/><path d="M166.5,815.8 163.5,816.3 159.5,816.2 156.4,815.6 153.5,814.4 151.1,812.6 149.7,810.6 149.2,808.6 149.9,806.6 152.5,804.3 157.5,802.9 162.5,803.0 167.2,804.6 171.0,807.6 172.4,810.6 171.8,812.6 171.0,813.6 166.5,815.8"/><path d="M81.5,820.7 79.3,820.6 77.5,818.6 78.0,816.6 79.5,815.5 82.5,815.4 83.9,816.6 84.1,817.6 83.5,819.3 81.5,820.7"/><path d="M165.5,814.6 160.5,815.0 155.4,813.6 153.5,812.3 152.1,810.6 151.6,808.6 151.8,807.6 153.5,805.6 157.5,804.2 161.5,804.3 165.1,805.6 168.5,808.5 169.5,810.6 169.0,812.6 167.9,813.6 165.5,814.6"/><path d="M164.5,812.6 161.5,813.3 157.8,812.6 155.1,810.6 154.5,808.6 155.0,807.6 156.5,806.5 158.5,806.1 161.6,806.6 163.5,807.7 165.2,809.6 165.5,811.6 164.5,812.6"/></g>
<g fill="#555"><rect x="104.8" y="781.9" width="1" height="1"/><rect x="46.2" y="822.3" width="1" height="1"/><rect x="208.7" y="833.4" width="1" height="1"/><rect x="201.2" y="794.9" width="1" height="1"/><rect x="220.0" y="771.2" width="1" height="1"/><rect x="167.0" y="895.3" width="1" height="1"/><rect x="130.4" y="857.3" width="1" height="1"/><rect x="104.5" y="874.9" width="1" height="1"/><rect x="84.8" y="762.6" width="1" height="1"/><rect x="73.2" y="789.8" width="1" height="1"/><rect x="129.8" y="868.5" width="1" height="1"/><rect x="96.8" y="759.8" width="1" height="1"/><rect x="49.8" y="837.3" width="1" height="1"/><rect x="223.0" y="846.3" width="1" height="1"/><rect x="89.2" y="779.9" width="1" height="1"/><rect x="73.1" y="790.4" width="1" height="1"/><rect x="218.6" y="842.4" width="1" height="1"/><rect x="204.7" y="886.6" width="1" height="1"/><rect x="203.7" y="843.9" width="1" height="1"/><rect x="125.6" y="883.5" width="1" height="1"/><rect x="135.4" y="780.6" width="1" height="1"/><rect x="52.1" y="843.0" width="1" height="1"/><rect x="121.5" y="773.8" width="1" height="1"/><rect x="59.8" y="776.3" width="1" height="1"/><rect x="212.1" y="857.0" width="1" height="1"/><rect x="140.9" y="776.1" width="1" height="1"/><rect x="103.6" y="851.2" width="1" height="1"/><rect x="46.0" y="809.2" width="1" height="1"/><rect x="44.7" y="926.3" width="1" height="1"/><rect x="124.7" y="851.6" width="1" height="1"/><rect x="156.6" y="778.5" width="1" height="1"/><rect x="61.3" y="920.5" width="1" height="1"/><rect x="202.3" y="834.5" width="1" height="1"/><rect x="49.9" y="905.0" width="1" height="1"/><rect x="102.5" y="916.8" width="1" height="1"/><rect x="62.3" y="778.6" width="1" height="1"/><rect x="112.0" y="889.7" width="1" height="1"/><rect x="165.4" y="751.3" width="1" height="1"/><rect x="199.0" y="836.2" width="1" height="1"/><rect x="183.4" y="885.8" width="1" height="1"/><rect x="81.4" y="776.1" width="1" height="1"/><rect x="76.3" y="784.3" width="1" height="1"/><rect x="209.6" y="843.4" width="1" height="1"/><rect x="49.3" y="777.8" width="1" height="1"/><rect x="156.7" y="887.1" width="1" height="1"/><rect x="214.7" y="824.4" width="1" height="1"/><rect x="101.7" y="776.0" width="1" height="1"/><rect x="166.4" y="780.0" width="1" height="1"/><rect x="137.2" y="778.7" width="1" height="1"/><rect x="53.2" y="785.4" width="1" height="1"/><rect x="64.6" y="770.9" width="1" height="1"/><rect x="68.0" y="910.4" width="1" height="1"/><rect x="50.6" y="829.9" width="1" height="1"/><rect x="169.1" y="896.3" width="1" height="1"/><rect x="53.7" y="832.2" width="1" height="1"/><rect x="78.1" y="779.1" width="1" height="1"/><rect x="110.6" y="782.4" width="1" height="1"/><rect x="116.0" y="873.7" width="1" height="1"/><rect x="210.2" y="821.1" width="1" height="1"/><rect x="178.1" y="783.7" width="1" height="1"/><rect x="147.6" y="895.8" width="1" height="1"/><rect x="180.3" y="910.0" width="1" height="1"/><rect x="102.2" y="862.7" width="1" height="1"/><rect x="143.3" y="771.5" width="1" height="1"/><rect x="218.9" y="856.7" width="1" height="1"/><rect x="135.7" y="852.0" width="1" height="1"/><rect x="120.2" y="848.7" width="1" height="1"/><rect x="59.1" y="801.6" width="1" height="1"/><rect x="67.7" y="901.8" width="1" height="1"/><rect x="87.4" y="894.1" width="1" height="1"/><rect x="217.5" y="877.0" width="1" height="1"/><rect x="88.7" y="776.4" width="1" height="1"/><rect x="135.4" y="872.7" width="1" height="1"/><rect x="108.2" y="877.5" width="1" height="1"/><rect x="79.4" y="918.2" width="1" height="1"/><rect x="113.8" y="880.1" width="1" height="1"/><rect x="58.4" y="799.5" width="1" height="1"/><rect x="81.5" y="778.4" width="1" height="1"/><rect x="79.0" y="785.5" width="1" height="1"/><rect x="118.5" y="845.2" width="1" height="1"/><rect x="124.1" y="756.8" width="1" height="1"/><rect x="53.3" y="787.9" width="1" height="1"/><rect x="64.8" y="760.0" width="1" height="1"/><rect x="53.1" y="809.1" width="1" height="1"/><rect x="135.7" y="850.4" width="1" height="1"/><rect x="50.8" y="852.4" width="1" height="1"/><rect x="79.0" y="917.9" width="1" height="1"/><rect x="213.5" y="812.0" width="1" height="1"/><rect x="213.4" y="838.4" width="1" height="1"/><rect x="210.6" y="864.0" width="1" height="1"/><rect x="121.0" y="925.2" width="1" height="1"/><rect x="135.6" y="877.5" width="1" height="1"/><rect x="164.9" y="888.3" width="1" height="1"/><rect x="208.2" y="858.1" width="1" height="1"/><rect x="85.4" y="928.9" width="1" height="1"/><rect x="105.4" y="850.8" width="1" height="1"/><rect x="135.7" y="905.3" width="1" height="1"/><rect x="185.7" y="785.7" width="1" height="1"/><rect x="118.6" y="852.9" width="1" height="1"/><rect x="53.1" y="871.6" width="1" height="1"/><rect x="120.8" y="861.2" width="1" height="1"/><rect x="66.8" y="891.8" width="1" height="1"/><rect x="145.7" y="884.1" width="1" height="1"/><rect x="71.5" y="785.0" width="1" height="1"/><rect x="199.9" y="795.7" width="1" height="1"/><rect x="71.4" y="898.2" width="1" height="1"/><rect x="52.0" y="814.5" width="1" height="1"/><rect x="47.6" y="841.2" width="1" height="1"/><rect x="50.5" y="908.0" width="1" height="1"/><rect x="119.2" y="858.9" width="1" height="1"/></g>
<rect x="40.5" y="747.6" width="185.6" height="184.7" fill="none" stroke="#9a9a9a" stroke-width="1.9"/>
<line x1="128.4" y1="747.6" x2="128.4" y2="932.3" stroke="#3a3a3a" stroke-width="1.7"/>
<line x1="40.5" y1="825.5" x2="226.1" y2="825.5" stroke="#3a3a3a" stroke-width="1.7"/>
<text transform="translate(43.85,786.55) scale(0.9750,1)" font-size="26.600">16.8</text>
<text transform="translate(145.50,786.55) scale(0.9750,1)" font-size="26.600">39.0</text>
<text transform="translate(44.10,910.35) scale(0.9750,1)" font-size="26.600">15.7</text>
<text transform="translate(145.75,910.35) scale(0.9750,1)" font-size="26.600">28.5</text>
<g fill="none" stroke="#777" stroke-width="0.8"><path d="M267.2,901.6 263.2,900.8 259.2,898.1 255.4,893.6 252.7,888.6 250.4,882.6 248.7,875.6 247.5,867.6 247.2,859.6 247.5,851.6 248.7,843.6 250.7,835.6 254.5,825.6 255.9,811.6 257.5,804.6 259.8,799.6 262.2,796.6 264.2,795.1 267.2,794.4 270.2,795.1 272.2,796.6 274.6,799.6 276.9,804.6 278.5,811.6 279.9,825.6 283.7,835.6 285.7,843.6 286.9,851.6 287.2,859.6 286.5,873.6 284.7,880.6 281.7,888.6 279.0,893.6 275.2,898.1 271.2,900.8 267.2,901.6"/><path d="M351.2,905.6 345.2,905.0 339.2,903.3 326.9,896.6 324.2,896.5 316.2,898.1 312.2,898.4 307.2,897.9 302.2,896.2 297.2,893.2 293.0,888.6 290.5,883.6 289.7,880.6 289.4,876.6 289.7,873.6 290.7,870.6 293.0,866.6 295.5,863.6 300.2,860.0 310.9,855.6 312.8,853.6 315.7,839.6 317.7,832.6 320.3,826.6 323.2,822.6 326.2,820.4 333.2,818.7 341.2,815.2 346.2,814.0 351.2,813.6 358.2,814.4 365.2,816.8 372.2,821.2 377.7,826.6 382.6,833.6 386.5,842.6 388.6,851.6 389.2,859.6 388.6,867.6 386.5,876.6 382.6,885.6 377.7,892.6 372.2,898.0 365.2,902.4 358.2,904.8 351.2,905.6"/><path d="M271.2,897.6 267.2,898.6 263.2,897.6 259.2,894.8 256.0,890.6 253.0,884.6 250.7,877.6 249.4,870.6 248.7,862.6 248.8,854.6 249.7,846.6 251.5,838.6 255.9,826.6 256.9,814.6 257.9,808.6 259.6,803.6 261.4,800.6 264.2,797.9 267.2,797.0 270.2,797.9 272.2,799.6 274.3,802.6 275.9,806.6 277.4,813.6 278.3,825.6 283.7,841.6 285.0,848.6 285.7,856.6 285.1,870.6 282.6,881.6 280.6,886.6 277.8,891.6 274.3,895.6 271.2,897.6"/><path d="M357.2,901.6 350.2,902.3 343.2,901.2 338.2,899.3 330.3,894.6 328.2,893.9 325.2,894.0 314.2,896.4 309.2,896.3 305.2,895.3 300.2,892.9 296.2,889.5 293.1,884.6 291.7,879.6 291.7,875.6 292.7,871.6 294.1,868.6 296.3,865.6 299.2,863.0 302.2,861.1 312.2,857.6 314.7,855.6 315.4,853.6 316.8,842.6 318.5,835.6 320.8,829.6 323.2,825.9 325.2,824.1 327.2,823.0 333.2,822.1 342.2,818.3 348.2,817.1 355.2,817.2 362.2,819.0 368.2,822.2 373.2,826.3 377.8,831.6 381.9,838.6 384.5,845.6 386.1,853.6 386.4,861.6 385.5,869.6 383.5,876.6 379.8,884.6 375.2,890.9 369.2,896.3 363.2,899.7 357.2,901.6"/><path d="M270.2,896.0 266.2,896.5 263.2,895.6 259.3,892.6 256.3,888.6 253.8,883.6 251.6,876.6 250.4,870.6 249.6,861.6 249.7,854.6 250.7,846.6 252.7,838.6 256.7,827.6 257.9,814.6 259.0,808.6 260.5,804.6 262.2,801.9 264.2,800.0 267.2,799.0 270.2,800.0 272.2,801.9 273.9,804.6 275.4,808.6 276.5,814.6 277.5,826.6 282.8,842.6 284.0,848.6 284.8,857.6 284.7,864.6 283.9,871.6 281.0,882.6 278.7,887.6 276.2,891.3 273.2,894.3 270.2,896.0"/><path d="M355.2,899.8 349.2,900.0 343.2,898.9 339.2,897.4 331.2,892.7 329.2,892.1 326.2,892.1 318.2,894.4 314.2,895.1 309.2,894.9 305.2,893.9 300.2,891.3 296.5,887.6 294.2,883.6 293.1,878.6 293.3,874.6 294.2,871.6 295.8,868.6 298.3,865.6 303.2,862.1 313.9,858.6 316.0,856.6 316.7,853.6 317.7,843.6 319.0,837.6 321.3,831.6 324.2,827.2 327.2,825.2 334.2,824.1 343.2,820.3 349.2,819.2 355.2,819.4 361.2,821.0 367.2,824.1 372.7,828.6 376.8,833.6 380.7,840.6 383.1,847.6 384.5,855.6 384.5,862.6 383.4,870.6 380.7,878.6 377.5,884.6 372.7,890.6 367.2,895.1 361.2,898.2 355.2,899.8"/><path d="M269.2,894.7 266.2,894.9 262.2,893.3 259.2,890.7 256.4,886.6 253.7,880.6 252.0,874.6 250.8,867.6 250.4,861.6 250.6,853.6 251.5,846.6 253.3,839.6 257.4,828.6 258.8,814.6 259.8,809.6 261.2,805.8 263.2,802.8 265.2,801.2 267.2,800.7 269.2,801.2 271.2,802.8 273.2,805.8 274.6,809.6 275.6,814.6 276.8,827.6 282.4,844.6 283.6,851.6 284.0,857.6 283.9,864.6 283.0,871.6 281.7,877.6 280.0,882.6 277.5,887.6 275.2,890.7 272.2,893.3 269.2,894.7"/><path d="M356.2,897.8 350.2,898.3 344.2,897.4 339.2,895.5 332.2,891.3 329.2,890.4 326.2,890.7 315.2,893.9 310.2,893.9 306.2,893.1 302.2,891.2 298.2,887.9 295.5,883.6 294.4,879.6 294.4,875.6 295.1,872.6 296.5,869.6 299.2,866.3 302.2,864.0 305.2,862.4 314.9,859.6 316.9,857.6 319.4,839.6 321.5,833.6 324.2,829.2 326.2,827.5 328.2,826.6 335.2,825.6 342.2,822.5 348.2,821.1 354.2,821.1 360.2,822.5 366.2,825.4 371.2,829.4 375.6,834.6 379.0,840.6 381.6,847.6 382.9,854.6 383.1,862.6 382.1,869.6 379.9,876.6 376.9,882.6 373.2,887.7 368.2,892.4 362.2,895.9 356.2,897.8"/><path d="M270.2,893.0 266.2,893.5 263.2,892.5 260.2,890.2 257.2,886.3 254.9,881.6 252.9,875.6 251.6,868.6 251.1,861.6 251.2,854.6 252.1,847.6 253.8,840.6 258.2,828.6 260.5,810.6 261.6,807.6 263.2,804.8 265.2,803.1 267.2,802.5 269.2,803.1 271.2,804.8 272.8,807.6 273.9,810.6 276.2,828.4 281.7,844.6 282.8,850.6 283.3,857.6 282.7,869.6 279.9,880.6 277.6,885.6 275.6,888.6 273.2,891.1 270.2,893.0"/><path d="M353.2,896.7 348.2,896.6 343.2,895.5 339.2,893.8 332.2,889.7 330.2,889.1 326.2,889.5 315.2,892.8 311.2,893.0 307.2,892.3 303.1,890.6 299.2,887.4 296.7,883.6 295.4,878.6 295.7,874.6 296.7,871.6 298.2,869.0 300.4,866.6 305.2,863.5 315.2,860.7 317.2,859.2 318.2,856.6 318.9,846.6 320.3,839.6 322.2,834.3 325.2,830.0 328.2,828.1 335.2,827.2 343.2,823.7 350.2,822.4 356.2,822.9 362.2,824.9 367.2,827.9 372.2,832.5 376.0,837.6 378.9,843.6 381.0,850.6 381.9,857.6 381.6,864.6 380.3,871.6 377.6,878.6 374.2,884.2 369.3,889.6 364.2,893.3 359.2,895.5 353.2,896.7"/><path d="M270.2,891.7 266.2,892.2 263.2,891.2 260.2,888.8 257.7,885.6 255.7,881.6 253.6,875.6 252.4,869.6 251.6,861.6 251.8,854.6 252.7,847.6 254.5,840.6 258.6,829.6 261.2,812.0 262.2,809.1 263.7,806.6 265.2,805.1 267.2,804.5 269.2,805.1 270.7,806.6 272.2,809.1 273.2,812.0 275.6,828.6 281.0,844.6 282.3,851.6 282.8,857.6 282.0,869.6 279.5,879.6 277.8,883.6 275.2,887.7 273.2,889.8 270.2,891.7"/><path d="M357.2,894.7 351.2,895.4 345.2,894.7 341.2,893.3 333.2,888.8 330.2,887.8 326.2,888.3 319.2,890.9 315.2,891.9 311.2,892.1 308.2,891.6 304.2,890.1 300.2,887.0 297.8,883.6 296.6,879.6 296.4,876.6 297.0,873.6 298.4,870.6 300.8,867.6 305.2,864.6 315.7,861.6 318.1,859.6 319.0,856.6 319.5,847.6 320.5,841.6 322.6,835.6 325.2,831.7 328.2,829.6 335.2,828.7 343.2,825.1 348.2,824.0 354.2,824.0 359.2,825.1 364.2,827.4 369.2,831.2 373.2,835.6 376.8,841.6 379.1,847.6 380.5,854.6 380.8,861.6 380.0,867.6 378.4,873.6 375.8,879.6 372.2,884.8 367.4,889.6 362.2,892.9 357.2,894.7"/><path d="M269.2,890.9 266.2,891.1 263.2,890.0 260.2,887.5 257.4,883.6 255.6,879.6 253.7,873.6 252.6,867.6 252.2,860.6 252.4,853.6 253.5,846.6 254.8,841.6 259.0,830.6 262.2,813.1 264.2,808.8 265.5,807.6 267.2,807.0 268.9,807.6 270.2,808.8 272.2,813.1 275.4,830.6 279.6,841.6 280.9,846.6 281.9,852.6 282.2,858.6 281.5,869.6 278.8,879.6 277.0,883.6 274.2,887.5 272.2,889.4 269.2,890.9"/><path d="M356.2,893.6 350.2,894.2 345.2,893.4 340.2,891.5 333.2,887.4 330.2,886.6 326.2,887.2 316.2,890.8 312.2,891.2 308.2,890.6 304.2,889.0 301.2,886.6 298.5,882.6 297.5,878.6 297.6,875.6 298.5,872.6 300.2,869.7 302.2,867.6 307.2,864.8 316.2,862.5 318.5,860.6 319.5,857.6 320.2,847.6 321.2,842.0 323.2,836.5 326.0,832.6 329.2,830.6 335.2,830.0 343.2,826.4 348.2,825.2 354.2,825.2 359.2,826.4 364.2,828.8 369.0,832.6 373.2,837.5 376.1,842.6 378.3,848.6 379.5,854.6 379.7,861.6 379.0,867.6 377.3,873.6 374.5,879.6 370.9,884.6 366.2,889.0 361.2,892.0 356.2,893.6"/><path d="M269.2,889.8 266.2,890.0 263.2,888.9 260.5,886.6 258.2,883.5 255.8,878.6 254.3,873.6 253.2,867.6 252.7,861.6 253.1,852.6 254.8,843.6 259.2,832.3 263.2,815.9 265.2,812.7 267.2,811.7 269.2,812.7 270.2,813.9 272.2,818.8 275.0,831.6 280.1,845.6 281.2,851.6 281.7,857.6 281.1,868.6 278.6,878.6 276.7,882.6 274.2,886.3 272.2,888.2 269.2,889.8"/><path d="M355.2,892.6 350.2,893.0 345.2,892.2 340.2,890.2 333.2,886.1 330.2,885.4 326.2,886.2 316.2,889.8 312.2,890.2 308.2,889.6 304.2,887.8 301.7,885.6 299.6,882.6 298.6,878.6 298.7,875.6 299.6,872.6 301.2,870.1 303.2,868.1 307.8,865.6 317.2,863.1 319.2,861.1 320.2,857.8 320.7,848.6 321.8,842.6 323.7,837.6 326.2,834.0 329.2,831.9 336.2,830.9 343.2,827.6 349.2,826.3 354.2,826.4 359.2,827.6 364.2,830.1 368.5,833.6 372.2,837.9 375.4,843.6 377.5,849.6 378.6,855.6 378.7,862.6 377.8,868.6 375.9,874.6 373.2,879.8 369.5,884.6 365.2,888.4 360.2,891.2 355.2,892.6"/><path d="M269.2,888.8 266.2,889.0 263.2,887.8 260.2,885.1 258.2,882.2 256.1,877.6 254.6,872.6 253.2,861.6 253.7,851.6 255.7,842.6 259.4,833.6 263.2,820.5 265.2,818.3 267.2,818.0 269.2,818.3 270.2,819.0 272.2,822.9 274.6,832.6 279.5,845.6 280.7,851.6 281.2,857.6 280.6,868.6 278.2,877.9 276.2,882.2 274.2,885.1 272.2,887.1 269.2,888.8"/><path d="M354.2,891.7 349.2,891.8 344.2,890.7 340.2,889.0 333.2,884.9 330.2,884.3 326.2,885.1 316.2,888.7 312.2,889.1 309.2,888.8 305.2,887.1 302.2,884.6 300.4,881.6 299.7,878.6 300.4,873.6 302.2,870.6 304.2,868.7 308.2,866.5 317.2,864.2 319.3,862.6 320.8,858.6 321.3,849.6 322.4,843.6 324.3,838.6 327.2,834.6 330.2,832.9 336.2,832.2 343.2,828.8 349.2,827.4 354.2,827.5 359.2,828.8 364.2,831.4 368.2,834.7 372.1,839.6 374.8,844.6 376.8,850.6 377.7,856.6 377.7,862.6 376.8,868.6 374.8,874.6 372.1,879.6 368.2,884.5 364.2,887.8 359.2,890.4 354.2,891.7"/><path d="M269.2,887.7 266.2,888.0 263.2,886.8 260.7,884.6 258.6,881.6 256.7,877.6 255.1,872.6 253.7,861.6 254.1,852.6 256.0,843.6 260.1,833.6 263.2,823.5 265.2,821.3 267.2,820.9 269.2,821.3 270.2,822.1 272.2,826.0 274.3,833.6 279.0,845.6 280.2,851.6 280.7,857.6 280.1,868.6 277.7,877.6 274.2,884.0 272.2,886.1 269.2,887.7"/><path d="M353.2,890.7 348.2,890.6 344.2,889.6 340.2,887.8 334.2,884.1 331.2,883.1 327.2,883.6 316.0,887.6 312.2,888.0 309.2,887.5 306.2,886.3 303.2,883.8 301.5,880.6 301.0,877.6 301.2,875.5 302.2,872.9 305.1,869.6 309.2,867.4 317.2,865.3 319.2,864.1 320.2,862.8 321.3,859.6 322.0,849.6 323.0,844.6 324.9,839.6 327.2,836.3 330.2,834.1 336.2,833.4 344.2,829.6 350.2,828.5 355.2,828.8 360.2,830.4 364.2,832.7 368.6,836.6 372.2,841.6 374.6,846.6 376.1,851.6 376.9,857.6 376.7,863.6 375.6,869.6 373.8,874.6 370.9,879.6 367.2,884.0 363.2,887.2 358.2,889.6 353.2,890.7"/><path d="M269.2,886.7 266.2,887.0 264.2,886.3 261.2,884.0 259.2,881.3 257.2,877.3 255.7,872.6 254.2,861.6 254.6,852.6 256.6,843.6 260.4,834.6 263.2,826.0 265.2,823.5 267.2,823.0 269.2,823.5 270.2,824.4 271.8,827.6 274.0,834.6 278.5,845.6 279.7,851.6 280.2,857.6 279.7,867.6 277.5,876.6 274.2,882.8 272.2,885.0 269.2,886.7"/><path d="M352.2,889.7 348.2,889.5 344.2,888.5 340.2,886.6 334.2,882.8 331.2,881.9 327.2,882.4 316.2,886.1 313.2,886.5 310.2,886.2 308.1,885.6 305.2,883.6 303.2,880.6 302.6,877.6 303.7,873.6 306.2,870.6 310.0,868.6 318.2,866.1 320.7,863.6 322.0,859.6 322.6,850.6 323.6,845.6 325.5,840.6 328.2,836.8 331.2,835.0 336.2,834.5 344.2,830.7 350.2,829.5 355.2,829.9 360.2,831.6 364.2,834.0 368.1,837.6 371.7,842.6 374.0,847.6 375.4,852.6 376.0,858.6 375.7,864.6 374.3,870.6 372.2,875.6 369.2,880.3 365.2,884.5 361.2,887.1 357.2,888.8 352.2,889.7"/><path d="M269.2,885.7 266.2,886.0 264.2,885.3 261.2,882.9 259.2,880.1 257.2,875.7 256.0,871.6 254.6,861.6 255.2,851.6 257.2,843.6 263.5,827.6 265.2,825.5 267.2,824.8 269.2,825.5 270.9,827.6 276.9,842.6 278.9,849.6 279.8,857.6 279.2,867.6 277.2,875.7 275.5,879.6 273.4,882.6 271.2,884.7 269.2,885.7"/><path d="M357.2,887.7 352.2,888.6 346.2,888.0 341.2,886.0 334.2,881.5 331.2,880.6 328.2,880.9 319.2,883.6 314.2,884.4 309.4,883.6 307.8,882.6 306.0,880.6 305.3,878.6 305.3,876.6 306.0,874.6 307.2,872.9 310.4,870.6 318.2,867.5 321.2,864.6 322.6,860.6 323.2,851.6 324.5,845.6 327.2,839.8 330.2,836.7 332.2,836.0 337.2,835.4 342.5,832.6 346.2,831.2 350.2,830.6 354.2,830.8 359.2,832.3 364.2,835.2 368.2,839.2 371.2,843.6 373.7,849.6 375.0,856.6 374.9,863.6 373.7,869.6 371.2,875.6 367.2,881.2 362.2,885.4 357.2,887.7"/><path d="M269.2,884.7 266.2,885.0 264.2,884.3 262.0,882.6 259.7,879.6 258.2,876.6 256.5,871.6 255.1,861.6 255.5,852.6 257.4,844.6 264.1,828.6 265.2,827.3 267.2,826.5 269.2,827.3 270.3,828.6 276.6,843.6 278.4,849.6 279.3,857.6 278.7,867.6 276.6,875.6 273.2,881.7 271.2,883.7 269.2,884.7"/><path d="M356.2,886.8 350.2,887.5 345.2,886.5 341.2,884.8 334.2,880.2 331.2,879.2 328.2,879.4 321.2,881.1 317.2,880.9 315.2,879.6 313.6,875.6 313.6,873.6 314.1,872.6 320.2,867.7 322.3,864.6 323.4,860.6 324.6,848.6 326.3,843.6 328.6,839.6 331.2,837.5 337.2,836.7 343.2,833.4 348.2,831.9 353.2,831.8 357.2,832.7 361.2,834.5 365.2,837.4 368.2,840.8 371.1,845.6 372.7,849.6 373.9,854.6 374.2,860.6 373.7,865.6 372.4,870.6 370.2,875.4 367.3,879.6 364.2,882.6 360.2,885.3 356.2,886.8"/><path d="M269.2,883.7 266.2,884.0 264.2,883.2 262.2,881.7 260.2,879.1 257.1,871.6 255.6,861.6 256.0,852.6 258.0,844.6 264.2,830.4 265.2,829.1 267.2,828.2 269.2,829.1 270.2,830.4 276.2,844.1 278.0,850.6 278.8,857.6 278.4,866.6 276.4,874.6 273.2,880.6 271.2,882.6 269.2,883.7"/><path d="M356.2,885.7 351.2,886.4 346.2,885.7 341.4,883.6 335.2,879.3 332.2,877.8 329.2,877.7 323.2,878.6 321.2,878.3 319.2,876.8 318.4,874.6 318.7,872.6 322.2,867.2 323.4,864.6 324.1,861.6 325.3,849.6 326.9,844.6 329.2,840.6 331.7,838.6 337.2,837.9 343.3,834.6 348.2,833.1 352.2,832.8 356.2,833.5 360.2,835.1 364.2,837.9 367.6,841.6 370.1,845.6 371.7,849.6 372.9,854.6 373.3,859.6 372.9,864.6 371.7,869.6 369.5,874.6 366.8,878.6 363.8,881.6 360.2,884.1 356.2,885.7"/><path d="M269.2,882.6 266.2,882.9 264.2,882.1 262.2,880.5 260.2,877.8 257.4,870.6 256.1,861.6 256.4,853.6 258.2,845.8 264.2,832.5 265.2,831.0 267.2,829.9 269.2,831.0 270.2,832.5 275.7,844.6 277.5,850.6 278.3,857.6 278.0,865.6 276.1,873.6 273.2,879.3 271.2,881.4 269.2,882.6"/><path d="M355.2,884.8 350.2,885.2 345.2,884.2 341.2,882.2 333.2,876.5 330.2,875.8 324.2,875.9 322.4,874.6 322.0,873.6 322.1,871.6 324.7,863.6 326.0,850.6 327.5,845.6 329.2,842.3 330.7,840.6 332.2,839.7 337.2,839.3 344.2,835.4 349.2,834.1 353.2,834.1 357.2,835.0 361.2,837.0 364.2,839.4 367.2,842.8 369.4,846.6 371.2,851.2 372.1,855.6 372.4,860.6 371.8,865.6 370.3,870.6 368.4,874.6 365.4,878.6 362.2,881.5 358.6,883.6 355.2,884.8"/><path d="M268.2,881.8 266.2,881.8 264.2,881.0 262.2,879.3 260.2,876.4 257.7,869.6 256.6,860.6 257.1,852.6 258.9,845.6 265.2,833.0 267.2,831.8 269.2,833.0 275.2,844.9 277.1,851.6 277.8,858.6 277.2,867.1 275.2,874.2 272.2,879.3 270.2,881.0 268.2,881.8"/><path d="M354.2,883.7 349.2,883.9 344.2,882.5 340.2,880.1 333.2,874.5 331.2,873.7 326.2,872.8 325.2,871.7 325.0,870.6 326.5,852.6 328.2,846.6 330.2,842.7 332.2,841.1 337.2,840.7 344.2,836.7 349.2,835.3 353.2,835.3 357.2,836.3 360.2,837.8 363.9,840.6 366.4,843.6 368.8,847.6 370.3,851.6 371.2,856.6 371.3,861.6 370.7,865.6 369.2,870.6 367.2,874.5 364.2,878.3 361.2,880.8 357.9,882.6 354.2,883.7"/><path d="M268.2,880.6 266.2,880.6 264.2,879.7 262.2,877.9 260.7,875.6 258.2,869.0 257.2,860.6 257.6,853.6 259.2,846.8 265.2,835.4 267.2,833.9 269.2,835.4 274.7,845.6 276.5,851.6 277.2,858.6 276.8,865.6 275.1,872.6 272.2,877.9 270.2,879.7 268.2,880.6"/><path d="M352.2,882.7 346.2,881.9 341.2,879.3 333.2,872.1 328.4,869.6 327.4,867.6 327.1,864.6 326.9,857.6 327.4,852.6 329.2,846.6 331.0,843.6 333.2,842.2 338.2,841.9 344.2,838.1 350.2,836.5 353.2,836.6 357.2,837.7 360.8,839.6 364.1,842.6 366.4,845.6 368.4,849.6 369.6,853.6 370.3,858.6 370.1,862.6 369.1,867.6 367.5,871.6 365.2,875.3 362.2,878.5 359.2,880.6 356.2,881.9 352.2,882.7"/><path d="M269.2,879.0 267.2,879.4 265.2,879.0 263.2,877.5 261.7,875.6 259.1,869.6 257.8,861.6 258.2,853.7 260.1,846.6 265.2,837.8 267.2,836.4 269.2,837.8 274.2,846.3 275.8,851.6 276.6,857.6 276.3,864.6 275.0,870.6 272.2,876.4 269.2,879.0"/><path d="M355.2,880.7 351.2,881.3 348.2,881.0 345.2,880.0 342.2,878.4 338.9,875.6 334.2,870.2 330.2,867.1 329.2,865.6 328.2,861.8 327.9,856.6 328.3,852.6 329.4,848.6 331.2,845.2 333.2,843.8 338.2,843.7 344.2,839.6 349.2,838.0 353.2,838.0 356.2,838.8 359.2,840.2 362.2,842.5 366.2,847.7 367.9,851.6 368.8,855.6 369.1,859.6 368.8,863.6 367.9,867.6 366.2,871.5 364.2,874.6 361.2,877.6 358.2,879.6 355.2,880.7"/><path d="M268.2,877.8 266.2,877.8 264.2,876.8 261.2,872.9 259.2,867.0 258.5,860.6 258.8,854.6 260.2,848.6 262.2,844.4 264.2,841.5 266.2,839.4 267.2,839.1 268.2,839.4 270.2,841.5 273.2,846.2 275.2,852.2 275.9,858.6 275.6,864.6 274.2,870.6 271.2,875.9 268.2,877.8"/><path d="M352.2,879.7 349.2,879.6 345.8,878.6 343.2,877.2 340.2,874.8 334.8,867.6 330.4,863.6 329.3,860.6 328.9,857.6 329.2,853.6 329.9,850.6 331.1,847.6 332.2,846.2 334.2,845.5 337.2,846.0 338.2,845.8 344.2,841.4 347.2,840.1 350.2,839.5 353.2,839.6 356.6,840.6 359.2,842.0 362.2,844.5 364.5,847.6 366.2,851.0 367.3,854.6 367.8,858.6 367.6,862.6 366.8,866.6 365.2,870.4 363.2,873.5 361.2,875.7 358.2,877.8 355.2,879.1 352.2,879.7"/><path d="M353.2,877.7 350.2,877.8 347.2,877.2 342.2,874.2 339.2,870.8 335.5,864.6 331.2,861.0 330.2,857.6 330.6,852.6 332.3,848.6 334.2,847.8 337.2,848.7 338.2,848.5 344.2,843.5 347.2,842.0 350.2,841.4 353.2,841.5 356.2,842.4 360.8,845.6 364.3,850.6 365.4,853.6 366.2,857.6 365.7,864.6 363.2,870.6 361.2,873.2 358.4,875.6 353.2,877.7"/><path d="M269.2,875.7 266.2,876.1 264.2,875.0 262.9,873.6 261.3,870.6 260.3,867.6 259.3,861.6 259.7,854.6 261.2,848.7 264.2,843.8 266.2,842.1 267.2,841.8 269.2,842.8 272.2,846.6 274.2,851.8 275.1,857.6 274.9,863.6 273.8,868.6 272.1,872.6 269.2,875.7"/><path d="M355.2,874.7 351.2,875.4 348.2,875.0 345.2,873.7 342.7,871.6 339.9,867.6 336.6,859.6 336.2,859.1 333.2,858.7 332.2,857.5 332.1,853.6 333.2,851.5 334.2,851.3 337.2,853.8 338.2,853.2 343.7,846.6 346.2,845.0 349.2,844.0 352.2,843.8 355.2,844.5 359.7,847.6 362.2,851.0 363.6,854.6 364.3,858.6 364.0,862.6 363.2,865.9 361.2,869.8 358.7,872.6 355.2,874.7"/><path d="M268.2,873.9 266.2,873.9 265.2,873.4 263.2,871.4 261.2,866.7 260.3,860.6 260.8,854.6 262.2,849.6 264.2,846.4 266.2,844.9 267.2,844.7 268.2,844.9 270.2,846.4 272.2,849.6 273.4,853.6 274.1,858.6 273.6,864.6 272.2,869.5 270.2,872.6 268.2,873.9"/><path d="M352.2,871.7 348.2,871.2 344.5,868.6 342.2,865.0 341.2,860.6 341.5,856.6 343.2,852.3 346.2,849.1 350.2,847.5 354.2,848.0 357.9,850.6 360.2,854.3 361.2,858.6 360.9,862.6 359.2,866.9 356.2,870.1 352.2,871.7"/><path d="M267.2,870.7 265.2,869.8 263.2,866.8 262.2,863.1 262.0,859.6 262.2,856.1 263.2,852.4 265.2,849.3 267.2,848.4 269.2,849.3 271.2,852.4 272.2,856.1 272.4,859.6 272.2,863.1 271.2,866.8 269.2,869.8 267.2,870.7"/></g>
<g fill="#555"><rect x="257.0" y="904.0" width="1" height="1"/><rect x="327.8" y="819.2" width="1" height="1"/><rect x="237.7" y="823.9" width="1" height="1"/><rect x="300.4" y="859.5" width="1" height="1"/><rect x="312.6" y="842.5" width="1" height="1"/><rect x="305.4" y="813.1" width="1" height="1"/><rect x="332.3" y="902.1" width="1" height="1"/><rect x="285.0" y="901.2" width="1" height="1"/><rect x="318.5" y="792.5" width="1" height="1"/><rect x="280.3" y="912.5" width="1" height="1"/><rect x="375.5" y="914.0" width="1" height="1"/><rect x="396.2" y="922.2" width="1" height="1"/></g>
<rect x="232.2" y="747.6" width="185.5" height="184.7" fill="none" stroke="#9a9a9a" stroke-width="1.9"/>
<line x1="319.4" y1="747.6" x2="319.4" y2="932.3" stroke="#3a3a3a" stroke-width="1.7"/>
<line x1="232.2" y1="825.5" x2="417.7" y2="825.5" stroke="#3a3a3a" stroke-width="1.7"/>
<text transform="translate(235.55,786.55) scale(0.9750,1)" font-size="26.600">5.68</text>
<text transform="translate(337.00,786.80) scale(0.9750,1)" font-size="26.600">4.42</text>
<text transform="translate(235.55,910.35) scale(0.9750,1)" font-size="26.600">36.3</text>
<text transform="translate(336.75,910.35) scale(0.9750,1)" font-size="26.600">53.6</text>
<g fill="none" stroke="#777" stroke-width="0.8"><path d="M472.7,891.6 468.7,891.2 463.7,889.2 459.7,886.4 455.2,881.6 452.0,876.6 449.3,870.6 447.2,863.6 446.0,856.6 445.7,848.6 446.2,841.6 447.2,835.6 449.3,828.6 452.0,822.6 455.2,817.6 459.7,812.8 463.7,810.0 469.7,807.8 475.7,807.8 481.7,810.0 486.7,813.7 490.9,818.6 494.4,824.6 497.1,831.6 499.7,842.0 500.7,844.7 501.7,845.6 506.5,839.6 511.7,836.0 516.7,834.3 525.7,833.0 528.7,831.8 530.6,829.6 535.5,821.6 540.7,816.1 544.7,813.1 548.7,810.9 556.7,808.3 561.7,807.7 567.7,807.8 573.7,809.0 578.7,810.9 583.7,813.8 588.3,817.6 591.9,821.6 595.2,826.6 598.1,833.6 599.4,839.6 599.6,847.6 598.4,854.6 596.2,860.6 591.9,867.6 586.7,873.1 580.7,877.2 572.7,880.4 563.7,881.6 545.7,880.4 528.7,881.4 518.7,881.3 509.7,880.4 498.7,878.2 495.7,878.1 492.5,879.6 485.7,886.4 481.7,889.2 476.7,891.2 472.7,891.6"/><path d="M504.6,865.6 515.3,863.6 517.7,862.6 516.9,861.6 511.7,859.2 507.7,856.7 501.7,850.1 500.7,851.4 499.7,855.3 498.7,863.6 499.7,865.3 500.7,865.8 504.6,865.6"/><path d="M567.7,878.7 560.7,879.1 542.7,878.0 527.7,878.9 518.7,878.8 509.7,877.5 506.5,876.6 502.2,874.6 500.3,872.6 500.5,871.6 505.7,868.9 515.7,866.7 530.7,865.4 532.7,864.5 533.6,862.6 532.7,861.1 530.7,860.1 517.7,858.8 513.7,857.4 510.7,855.6 507.8,852.6 506.4,849.6 506.2,846.6 507.2,843.6 510.7,839.6 514.7,837.4 518.7,836.2 527.7,835.1 530.7,833.7 532.5,831.6 536.6,824.6 540.7,819.7 546.7,815.0 552.7,812.2 559.7,810.5 566.7,810.4 573.7,811.8 580.7,815.0 584.7,817.9 588.5,821.6 591.5,825.6 594.2,830.6 596.2,836.6 597.0,841.6 597.1,846.6 596.4,851.6 595.0,856.6 593.3,860.6 590.1,865.6 586.6,869.6 582.7,872.8 577.7,875.8 572.7,877.7 567.7,878.7"/><path d="M477.7,887.8 472.7,888.6 467.7,887.8 462.7,885.3 458.4,881.6 454.0,875.6 451.2,869.6 449.1,862.6 447.8,854.6 447.7,846.6 448.5,839.6 450.5,831.6 453.5,824.6 457.5,818.6 461.7,814.6 466.7,811.8 471.7,810.7 476.7,811.1 481.7,813.2 485.7,816.3 489.4,820.6 492.9,826.6 495.3,832.6 497.0,839.6 497.9,846.6 497.6,854.6 496.2,864.6 496.5,867.6 497.7,871.6 497.2,872.6 491.7,876.9 484.7,883.8 481.7,886.0 477.7,887.8"/><path d="M569.7,876.6 562.7,877.4 554.7,877.1 543.8,875.6 536.4,873.6 534.8,872.6 533.4,870.6 533.5,869.6 536.5,864.6 536.4,862.6 535.3,860.6 533.7,859.2 530.7,858.0 519.7,857.0 516.7,856.2 513.7,854.8 511.1,852.6 509.7,850.4 509.1,847.6 509.8,844.6 512.1,841.6 515.7,839.3 519.7,838.2 527.7,837.1 531.7,835.3 533.7,833.0 538.0,825.6 541.3,821.6 546.7,817.1 551.7,814.5 558.7,812.5 565.7,812.1 572.7,813.4 578.7,815.9 582.7,818.6 586.7,822.2 590.1,826.6 592.3,830.6 594.1,835.6 595.0,839.6 595.4,844.6 595.0,849.6 594.1,853.6 592.3,858.6 590.1,862.6 586.7,867.0 582.7,870.6 578.7,873.3 574.7,875.1 569.7,876.6"/><path d="M477.7,885.7 472.7,886.5 467.7,885.7 462.7,883.1 458.9,879.6 455.2,874.6 452.3,868.6 450.2,861.6 449.2,854.6 449.0,846.6 449.8,839.6 451.3,833.6 454.1,826.6 457.7,821.0 461.7,816.9 466.7,813.9 471.7,812.7 476.7,813.2 480.7,814.8 484.7,817.7 488.2,821.6 491.3,826.6 493.4,831.6 495.4,838.6 496.4,845.6 496.2,855.6 493.4,871.6 491.4,874.6 484.7,881.5 481.7,883.8 477.7,885.7"/><path d="M566.7,875.7 560.7,876.1 554.7,875.7 548.5,874.6 543.7,872.9 541.7,871.6 539.9,869.6 538.4,862.6 535.4,858.6 530.7,856.1 520.7,854.6 517.5,853.6 515.7,852.6 513.7,850.6 512.8,847.6 513.7,844.6 516.7,842.0 520.5,840.6 528.7,838.8 532.7,836.5 534.7,834.1 540.5,824.6 546.7,818.8 553.7,815.2 560.7,813.6 566.7,813.6 572.7,814.9 577.7,817.0 582.7,820.4 586.9,824.6 590.2,829.6 592.7,835.6 593.8,841.6 593.8,847.6 592.4,854.6 590.2,859.6 586.9,864.6 582.7,868.8 577.7,872.2 572.7,874.4 566.7,875.7"/><path d="M475.7,884.6 471.7,884.9 466.7,883.7 462.7,881.3 458.7,877.4 455.5,872.6 452.8,866.6 451.1,860.6 450.1,852.6 450.1,845.6 451.1,838.6 453.1,831.6 455.5,826.6 458.7,821.8 462.7,817.9 467.7,815.1 471.7,814.3 475.7,814.6 479.7,816.0 483.7,818.7 487.7,823.1 490.5,827.6 493.0,833.6 494.5,839.6 495.4,846.6 494.8,857.6 492.6,868.6 491.5,871.6 488.7,875.6 483.7,880.5 479.7,883.2 475.7,884.6"/><path d="M565.7,874.7 560.7,874.9 554.7,874.4 549.7,873.3 545.7,871.5 542.5,868.6 540.0,862.6 537.7,859.1 534.7,856.3 527.0,851.6 525.7,849.6 525.3,847.6 525.4,845.6 526.2,843.6 534.5,836.6 539.8,827.6 544.7,822.0 548.7,819.0 552.7,816.9 557.7,815.3 561.7,814.8 567.7,815.0 572.7,816.2 577.7,818.4 582.7,822.0 586.9,826.6 589.9,831.6 592.0,837.6 592.7,842.6 592.5,848.6 591.1,854.6 588.9,859.6 585.7,864.2 581.7,868.1 576.7,871.4 571.7,873.4 565.7,874.7"/><path d="M477.7,882.6 473.7,883.5 468.7,883.0 464.7,881.2 460.7,878.0 457.3,873.6 454.2,867.6 452.3,861.6 451.1,854.6 451.0,846.6 451.8,839.6 453.4,833.6 456.1,827.6 459.5,822.6 462.7,819.4 466.7,817.0 471.7,815.7 475.7,816.0 479.7,817.4 483.7,820.3 486.7,823.6 489.3,827.6 492.0,833.6 493.4,838.6 494.3,844.6 494.5,850.6 494.1,856.6 492.1,865.6 490.6,870.6 488.0,874.6 484.7,878.1 480.7,881.2 477.7,882.6"/><path d="M564.7,873.7 558.7,873.7 553.7,873.0 549.3,871.6 546.0,869.6 544.1,867.6 538.7,858.5 531.4,851.6 530.2,849.6 529.7,846.6 530.0,844.6 530.9,842.6 535.7,837.0 540.4,828.6 544.7,823.4 548.7,820.3 552.7,818.1 557.7,816.4 562.7,815.8 568.7,816.2 573.7,817.7 578.7,820.3 582.7,823.4 586.3,827.6 589.2,832.6 590.9,837.6 591.7,843.6 591.3,849.6 590.0,854.6 587.6,859.6 583.9,864.6 579.7,868.3 574.7,871.1 569.7,872.8 564.7,873.7"/><path d="M476.7,881.7 472.7,882.3 468.7,881.7 464.7,879.9 460.7,876.5 457.1,871.6 454.7,866.6 452.9,860.6 451.8,853.6 451.8,846.6 452.5,840.6 454.0,834.6 456.6,828.6 459.7,823.9 463.7,820.0 467.7,817.8 471.7,816.9 475.7,817.2 479.7,818.8 482.7,820.8 486.3,824.6 488.8,828.6 491.0,833.6 492.7,839.6 493.6,845.6 493.7,851.6 493.1,857.6 491.2,865.6 489.4,870.6 487.5,873.6 483.7,877.6 480.7,879.9 476.7,881.7"/><path d="M564.7,872.7 559.7,872.7 554.7,872.1 550.7,870.8 547.7,869.0 545.4,866.6 538.7,856.9 533.9,851.6 532.7,849.6 532.1,846.6 533.2,842.6 536.7,837.5 540.9,829.6 544.9,824.6 548.7,821.5 552.7,819.2 557.7,817.5 562.7,816.8 568.7,817.3 573.7,818.8 578.7,821.5 582.5,824.6 585.8,828.6 588.6,833.6 590.1,838.6 590.7,843.6 590.3,849.6 589.0,854.6 586.5,859.6 583.5,863.6 579.7,867.0 574.7,870.0 569.7,871.8 564.7,872.7"/><path d="M475.7,880.8 471.7,881.1 467.7,880.2 463.7,877.9 460.3,874.6 457.0,869.6 454.8,864.6 453.2,858.6 452.5,852.6 452.5,846.6 453.4,839.6 455.2,833.6 457.5,828.6 460.3,824.6 463.7,821.3 467.7,819.0 471.7,818.1 475.7,818.4 479.7,820.0 482.7,822.1 485.9,825.6 488.4,829.6 490.6,834.6 492.2,840.6 492.9,846.6 492.9,852.6 492.2,858.6 490.3,865.6 488.7,869.8 486.3,873.6 482.7,877.2 479.7,879.3 475.7,880.8"/><path d="M564.7,871.7 559.7,871.7 555.7,871.2 551.7,869.9 548.7,868.0 545.7,864.9 535.8,851.6 534.3,848.6 534.0,846.6 535.0,842.6 540.8,831.6 545.2,825.6 549.7,821.9 553.7,819.8 557.7,818.5 562.7,817.8 567.7,818.0 572.7,819.4 577.7,821.9 581.7,825.1 585.4,829.6 587.5,833.6 589.2,838.6 589.8,843.6 589.5,848.6 588.3,853.6 586.0,858.6 583.1,862.6 579.7,865.8 574.7,869.0 569.7,870.8 564.7,871.7"/><path d="M475.7,879.7 471.7,880.1 467.7,879.1 463.7,876.7 460.7,873.7 457.9,869.6 455.6,864.6 454.0,858.6 453.2,852.6 453.2,846.6 454.0,840.6 455.6,834.6 457.9,829.6 460.7,825.5 463.7,822.5 467.7,820.1 471.7,819.1 475.7,819.5 478.7,820.6 482.7,823.4 485.6,826.6 488.0,830.6 490.1,835.6 491.4,840.6 492.2,846.6 492.2,852.6 491.4,858.6 489.8,864.6 487.8,869.6 485.7,872.9 482.7,876.0 479.7,878.1 475.7,879.7"/><path d="M565.7,870.6 560.7,870.8 556.7,870.3 552.7,869.0 549.7,867.3 545.7,863.1 538.0,852.6 536.3,849.6 535.6,846.6 536.5,842.6 540.8,833.6 543.1,829.6 545.5,826.6 548.7,823.7 552.7,821.2 556.7,819.7 561.7,818.7 566.7,818.8 571.7,820.0 575.7,821.8 579.8,824.6 583.6,828.6 586.1,832.6 588.0,837.6 588.9,842.6 588.8,847.6 587.7,852.6 585.6,857.6 582.8,861.6 579.7,864.7 575.4,867.6 570.7,869.6 565.7,870.6"/><path d="M475.7,878.7 471.7,879.0 467.7,878.0 463.8,875.6 460.9,872.6 458.2,868.6 456.0,863.6 454.7,858.6 453.9,852.6 453.9,846.6 454.7,840.6 456.0,835.6 458.2,830.6 460.9,826.6 464.7,822.9 467.7,821.2 471.7,820.2 475.7,820.5 478.7,821.7 481.7,823.7 484.7,826.8 487.2,830.6 489.4,835.6 490.7,840.6 491.5,846.6 491.5,852.6 490.9,857.6 489.4,863.6 487.4,868.6 485.6,871.6 482.7,874.8 479.7,877.0 475.7,878.7"/><path d="M565.7,869.7 560.7,869.9 556.7,869.3 552.7,867.8 549.7,865.8 544.9,860.6 539.3,852.6 537.7,849.6 537.1,846.6 537.8,842.6 541.3,834.6 543.5,830.6 545.8,827.6 549.0,824.6 552.7,822.2 556.7,820.6 561.7,819.6 566.7,819.7 571.7,820.9 575.7,822.8 579.6,825.6 583.2,829.6 585.6,833.6 587.1,837.6 588.0,842.6 587.9,847.6 586.8,852.6 585.1,856.6 582.5,860.6 578.7,864.4 574.7,867.0 570.7,868.6 565.7,869.7"/><path d="M475.7,877.7 471.7,878.0 468.7,877.4 464.7,875.2 461.7,872.3 459.1,868.6 456.8,863.6 455.3,858.6 454.5,852.6 454.5,846.6 455.1,841.6 456.4,836.6 458.7,831.3 461.7,826.9 464.7,824.0 467.7,822.2 471.7,821.2 475.7,821.5 478.7,822.7 481.7,824.8 484.7,828.1 486.9,831.6 489.0,836.6 490.3,841.6 490.9,846.6 490.9,852.6 490.3,857.6 489.0,862.6 487.0,867.6 485.3,870.6 482.7,873.6 479.7,875.9 475.7,877.7"/><path d="M566.7,868.7 561.7,869.0 557.7,868.5 553.7,867.1 550.7,865.2 546.9,861.6 543.8,857.6 540.0,851.6 538.5,847.6 538.5,844.6 539.7,840.6 542.7,833.6 545.7,829.0 548.7,826.0 552.7,823.2 556.7,821.5 560.7,820.6 565.7,820.5 569.7,821.2 574.7,823.2 578.3,825.6 581.4,828.6 584.1,832.6 585.9,836.6 587.1,841.6 587.2,846.6 586.2,851.6 584.7,855.6 582.2,859.6 578.7,863.2 575.4,865.6 571.0,867.6 566.7,868.7"/><path d="M475.7,876.7 471.7,877.0 468.7,876.4 465.4,874.6 462.1,871.6 459.7,868.2 457.5,863.6 456.0,858.6 455.1,852.6 455.1,846.6 455.8,841.6 457.1,836.6 459.4,831.6 461.7,828.1 464.7,825.1 467.7,823.3 471.7,822.2 475.7,822.5 478.7,823.8 481.7,826.0 484.1,828.6 486.6,832.6 488.3,836.6 489.6,841.6 490.3,846.6 489.8,856.6 488.6,861.6 486.7,866.6 484.3,870.6 481.7,873.4 478.7,875.5 475.7,876.7"/><path d="M567.7,867.6 562.7,868.1 558.7,867.7 554.7,866.4 551.7,864.7 547.7,861.2 544.8,857.6 541.2,851.6 539.7,847.6 539.7,844.6 540.7,840.6 543.2,834.6 545.7,830.4 548.7,827.1 551.7,824.8 555.7,822.8 559.7,821.6 564.7,821.3 568.7,821.8 572.7,823.2 576.7,825.5 580.2,828.6 582.7,831.8 584.7,835.8 586.1,840.6 586.4,845.6 585.9,849.6 584.6,853.6 582.5,857.6 579.7,861.1 575.7,864.4 571.7,866.4 567.7,867.6"/><path d="M475.7,875.7 471.7,876.0 468.7,875.3 465.7,873.7 462.7,871.0 459.7,866.7 457.9,862.6 456.5,857.6 455.8,852.6 455.8,846.6 456.5,841.6 457.9,836.6 459.7,832.6 461.7,829.4 464.7,826.2 467.7,824.3 471.7,823.2 474.7,823.3 477.7,824.3 480.7,826.2 483.7,829.4 485.7,832.6 487.7,837.1 488.9,841.6 489.6,846.6 489.7,851.6 489.1,856.6 487.9,861.6 486.3,865.6 484.0,869.6 481.7,872.2 478.7,874.4 475.7,875.7"/><path d="M567.7,866.7 562.7,867.1 558.7,866.7 554.7,865.3 551.7,863.5 548.4,860.6 545.2,856.6 542.3,851.6 540.9,847.6 541.0,843.6 542.1,839.6 544.1,834.6 546.6,830.6 549.4,827.6 552.7,825.2 556.0,823.6 559.7,822.5 563.7,822.2 567.7,822.5 571.7,823.7 575.7,825.9 579.0,828.6 581.7,831.9 583.7,835.6 585.2,840.6 585.5,845.6 585.0,849.6 583.7,853.6 581.7,857.3 579.0,860.6 575.7,863.3 571.7,865.5 567.7,866.7"/><path d="M475.7,874.7 471.7,875.0 468.7,874.3 465.7,872.6 462.7,869.8 460.5,866.6 458.6,862.6 457.2,857.6 456.4,852.6 456.4,847.6 457.0,842.6 458.3,837.6 460.0,833.6 462.7,829.4 465.7,826.6 468.7,824.9 471.7,824.2 474.7,824.3 477.7,825.3 480.7,827.4 482.8,829.6 484.9,832.6 486.8,836.6 488.2,841.6 489.0,846.6 489.0,851.6 488.4,856.6 485.7,865.2 483.7,868.6 481.7,871.0 478.7,873.4 475.7,874.7"/><path d="M567.7,865.8 563.7,866.2 559.7,865.9 555.7,864.7 552.1,862.6 548.7,859.7 546.3,856.6 543.4,851.6 542.1,847.6 542.0,844.6 542.8,840.6 544.6,835.6 547.0,831.6 549.7,828.6 552.7,826.3 555.9,824.6 559.7,823.5 563.7,823.1 567.7,823.5 571.7,824.7 575.7,826.9 578.7,829.6 581.1,832.6 583.2,836.6 584.3,840.6 584.7,844.6 584.3,848.6 583.2,852.6 581.1,856.6 578.7,859.6 575.2,862.6 571.7,864.5 567.7,865.8"/><path d="M475.7,873.6 472.7,874.1 469.7,873.6 466.7,872.2 463.7,869.6 461.4,866.6 459.4,862.6 457.8,857.6 457.1,852.6 457.0,847.6 457.6,842.6 458.7,838.5 460.7,833.8 462.8,830.6 465.7,827.7 468.7,826.0 471.7,825.2 474.7,825.3 477.7,826.4 480.7,828.5 482.7,830.7 484.7,833.8 486.4,837.6 487.7,842.3 488.3,846.6 487.9,855.6 485.6,863.6 483.7,867.2 481.7,869.8 478.7,872.3 475.7,873.6"/><path d="M567.7,864.8 563.7,865.2 559.7,864.9 555.7,863.6 552.7,861.9 549.7,859.4 546.7,855.6 544.5,851.6 543.2,847.6 543.1,844.6 543.8,840.6 545.2,836.6 547.4,832.6 549.7,829.8 552.7,827.4 555.9,825.6 559.7,824.4 563.7,824.0 567.7,824.4 571.5,825.6 574.7,827.4 577.7,829.8 580.7,833.6 582.2,836.6 583.4,840.6 583.8,844.6 583.4,848.6 582.2,852.6 580.7,855.6 578.4,858.6 575.0,861.6 571.7,863.5 567.7,864.8"/><path d="M474.7,872.8 471.7,872.9 468.7,872.2 465.7,870.3 463.1,867.6 461.2,864.6 459.4,860.6 458.4,856.6 457.7,851.6 458.4,842.6 459.4,838.6 461.2,834.6 463.1,831.6 465.7,828.9 468.7,827.0 471.7,826.3 474.7,826.4 477.7,827.5 480.5,829.6 482.7,832.1 486.0,838.6 487.0,842.6 487.7,847.6 487.0,856.6 486.0,860.6 484.3,864.6 482.4,867.6 479.7,870.4 477.7,871.7 474.7,872.8"/><path d="M567.7,863.8 563.7,864.3 559.7,863.8 556.0,862.6 552.7,860.7 549.7,858.0 547.7,855.4 545.6,851.6 544.4,847.6 544.2,844.6 544.8,840.6 546.2,836.6 547.9,833.6 550.3,830.6 552.7,828.5 556.1,826.6 559.7,825.4 563.7,825.0 566.7,825.2 570.7,826.3 573.7,827.9 577.1,830.6 579.5,833.6 581.1,836.6 582.4,840.6 582.8,844.6 582.4,848.6 581.5,851.6 579.7,855.3 577.7,858.0 574.7,860.7 571.3,862.6 567.7,863.8"/><path d="M474.7,871.7 471.7,871.8 468.7,871.0 465.7,869.0 463.7,866.9 461.6,863.6 459.9,859.6 458.4,851.6 458.5,846.6 459.1,842.6 461.7,835.3 463.7,832.3 466.4,829.6 468.7,828.2 471.7,827.4 474.7,827.5 477.5,828.6 479.7,830.2 482.0,832.6 483.8,835.6 485.5,839.6 487.0,847.6 486.5,855.6 485.5,859.6 483.9,863.6 481.7,867.0 479.7,869.1 477.6,870.6 474.7,871.7"/><path d="M567.7,862.7 563.7,863.2 560.7,862.9 557.7,862.1 554.5,860.6 551.7,858.5 549.1,855.6 546.8,851.6 545.7,848.4 545.3,845.6 545.7,841.6 546.9,837.6 548.5,834.6 550.7,831.7 553.0,829.6 556.4,827.6 559.7,826.5 563.7,826.0 566.7,826.3 570.7,827.5 573.7,829.1 576.6,831.6 578.7,834.2 580.5,837.6 581.4,840.6 581.8,843.6 581.5,847.6 580.7,850.9 578.9,854.6 576.7,857.5 574.4,859.6 571.0,861.6 567.7,862.7"/><path d="M473.7,870.7 471.4,870.6 468.7,869.8 465.7,867.7 463.7,865.4 461.7,861.9 460.4,858.6 459.2,850.6 459.9,842.6 462.7,835.3 464.7,832.6 466.8,830.6 469.7,829.0 472.7,828.5 475.7,829.0 477.7,830.0 481.7,833.8 483.7,837.3 485.0,840.6 486.2,848.6 485.5,856.6 482.7,863.9 478.7,868.6 476.7,869.8 473.7,870.7"/><path d="M566.7,861.8 562.7,862.0 559.7,861.6 556.7,860.5 553.7,858.7 551.4,856.6 549.1,853.6 546.8,847.6 546.9,841.6 548.1,837.6 549.8,834.6 551.7,832.3 554.7,829.8 557.7,828.3 560.7,827.4 564.7,827.2 567.7,827.6 570.7,828.7 573.7,830.5 576.0,832.6 578.2,835.6 580.4,841.6 580.7,844.6 580.2,848.6 579.2,851.6 577.6,854.6 575.7,856.9 572.7,859.4 569.7,860.9 566.7,861.8"/><path d="M475.7,868.9 472.7,869.4 470.7,869.2 467.7,867.8 465.7,866.1 463.7,863.6 461.7,859.6 460.1,852.6 460.4,844.6 462.7,837.3 464.7,834.2 466.7,832.1 469.1,830.6 471.7,829.9 474.7,830.0 476.7,830.8 480.7,834.2 483.7,839.6 485.3,846.6 485.2,853.6 483.3,860.6 481.7,863.6 479.7,866.2 475.7,868.9"/><path d="M565.7,860.6 559.7,860.2 554.4,857.6 551.7,855.1 550.0,852.6 548.7,849.6 548.0,846.6 548.4,840.6 549.5,837.6 551.3,834.6 555.8,830.6 558.7,829.3 561.7,828.6 567.7,829.0 573.0,831.6 575.7,834.2 577.4,836.6 578.7,839.6 579.3,842.6 579.4,845.6 578.7,849.5 576.1,854.6 571.6,858.6 568.7,859.9 565.7,860.6"/><path d="M474.7,867.7 471.7,867.9 469.7,867.3 465.7,864.4 462.7,859.3 461.6,855.6 461.0,851.6 461.6,843.6 463.7,837.7 465.7,834.8 467.7,833.0 471.7,831.3 474.7,831.5 476.7,832.3 480.3,835.6 483.0,840.6 484.4,847.6 484.0,854.6 482.1,860.6 478.7,865.4 474.7,867.7"/><path d="M567.7,858.7 564.7,859.2 561.7,859.1 556.7,857.4 552.4,853.6 549.9,848.6 549.4,845.6 549.5,842.6 551.2,837.6 554.7,833.2 559.7,830.5 562.7,830.0 565.7,830.1 570.7,831.8 575.0,835.6 577.4,840.6 577.9,843.6 577.8,846.6 576.2,851.6 572.7,856.0 567.7,858.7"/><path d="M474.7,865.9 470.7,865.9 468.7,865.0 466.7,863.4 463.7,858.6 462.1,851.6 462.5,844.6 464.7,838.6 467.7,834.9 469.7,833.6 471.7,833.0 475.7,833.6 477.7,834.9 479.7,837.0 482.1,841.6 483.3,847.6 483.1,853.6 481.7,858.6 478.7,863.4 476.7,865.0 474.7,865.9"/><path d="M567.7,856.7 562.7,857.3 557.7,855.7 554.1,852.6 551.9,848.6 551.3,843.6 552.7,838.7 555.7,834.9 559.7,832.5 564.7,831.9 569.7,833.5 573.3,836.6 575.5,840.6 576.0,845.6 574.7,850.5 571.7,854.3 567.7,856.7"/><path d="M474.7,863.7 472.7,864.0 470.7,863.7 467.7,861.8 465.0,857.6 463.6,852.6 463.6,846.6 465.0,841.6 467.7,837.4 469.7,835.9 471.7,835.2 474.7,835.5 477.9,837.6 480.4,841.6 481.8,846.6 481.8,852.6 480.7,857.0 477.9,861.6 474.7,863.7"/><path d="M566.7,853.8 563.7,854.3 559.7,853.4 556.7,851.2 554.7,847.6 554.3,843.6 555.1,840.6 557.1,837.6 560.7,835.4 563.7,834.9 567.7,835.8 570.7,838.0 572.7,841.6 573.1,845.6 572.3,848.6 570.3,851.6 566.7,853.8"/><path d="M472.7,860.7 469.7,859.7 467.7,857.5 466.1,853.6 465.6,849.6 466.1,845.6 467.7,841.7 469.7,839.5 472.7,838.5 475.7,839.5 477.7,841.7 479.3,845.6 479.8,849.6 479.3,853.6 477.7,857.5 475.7,859.7 472.7,860.7"/></g>
<g fill="#555"><rect x="530.4" y="898.0" width="1" height="1"/><rect x="576.0" y="753.7" width="1" height="1"/><rect x="547.3" y="808.2" width="1" height="1"/><rect x="504.9" y="829.2" width="1" height="1"/><rect x="532.6" y="881.8" width="1" height="1"/><rect x="506.9" y="863.4" width="1" height="1"/><rect x="614.0" y="860.1" width="1" height="1"/><rect x="440.9" y="789.2" width="1" height="1"/><rect x="533.2" y="890.2" width="1" height="1"/><rect x="493.6" y="782.8" width="1" height="1"/><rect x="514.7" y="861.7" width="1" height="1"/><rect x="611.8" y="798.9" width="1" height="1"/><rect x="518.1" y="826.5" width="1" height="1"/><rect x="578.4" y="918.9" width="1" height="1"/><rect x="463.9" y="921.4" width="1" height="1"/><rect x="522.1" y="795.9" width="1" height="1"/><rect x="574.7" y="793.8" width="1" height="1"/><rect x="515.4" y="757.6" width="1" height="1"/><rect x="530.9" y="898.9" width="1" height="1"/><rect x="593.1" y="872.3" width="1" height="1"/><rect x="467.9" y="757.1" width="1" height="1"/><rect x="475.2" y="808.0" width="1" height="1"/><rect x="559.8" y="916.0" width="1" height="1"/><rect x="471.5" y="900.4" width="1" height="1"/><rect x="465.2" y="794.1" width="1" height="1"/></g>
<rect x="434.7" y="747.6" width="185.5" height="184.7" fill="none" stroke="#9a9a9a" stroke-width="1.9"/>
<line x1="523.5" y1="747.6" x2="523.5" y2="932.3" stroke="#3a3a3a" stroke-width="1.7"/>
<line x1="434.7" y1="825.1" x2="620.2" y2="825.1" stroke="#3a3a3a" stroke-width="1.7"/>
<text transform="translate(438.30,786.55) scale(0.9750,1)" font-size="26.600">5.07</text>
<text transform="translate(540.35,786.80) scale(0.9750,1)" font-size="26.600">7.74</text>
<text transform="translate(438.30,910.60) scale(0.9750,1)" font-size="26.600">41.2</text>
<text transform="translate(540.60,910.35) scale(0.9750,1)" font-size="26.600">46.0</text>
<g fill="none" stroke="#777" stroke-width="0.8"><path d="M752.2,900.6 747.2,900.2 742.2,899.1 737.2,897.0 733.2,894.7 726.2,888.7 719.2,879.2 717.2,877.7 714.2,877.8 706.2,881.1 699.2,882.9 693.2,883.5 687.2,883.5 681.2,882.9 669.2,880.6 658.2,879.3 652.2,877.3 648.2,874.8 642.8,869.6 638.9,863.6 635.8,855.6 634.4,848.6 634.3,840.6 635.5,832.6 637.9,825.6 642.0,818.6 645.2,815.0 649.2,811.7 653.2,809.5 657.2,808.1 661.2,807.6 666.2,807.9 670.2,809.1 674.2,811.0 678.2,814.0 682.4,818.6 685.5,823.6 687.7,828.6 690.0,838.6 690.2,844.6 689.7,851.6 690.0,853.6 690.9,854.6 693.2,855.4 702.2,856.4 708.5,855.6 713.2,853.5 714.3,851.6 716.8,840.6 718.8,835.6 721.5,830.6 724.4,826.6 728.2,822.5 732.2,819.2 737.2,816.2 742.2,814.1 746.2,813.1 755.2,812.7 759.2,813.3 764.2,814.8 772.2,819.2 777.2,823.5 781.5,828.6 784.6,833.6 787.6,840.6 789.4,847.6 790.2,854.6 790.0,861.6 788.8,868.6 786.5,875.6 783.5,881.6 780.0,886.6 775.2,891.6 770.2,895.4 764.2,898.4 758.2,900.1 752.2,900.6"/><path d="M758.2,896.8 753.2,897.4 747.2,897.0 741.2,895.4 736.2,893.0 732.2,890.2 728.3,886.6 725.0,882.6 720.2,875.3 718.3,873.6 717.2,873.3 715.2,873.6 708.2,878.0 703.2,880.0 697.2,881.4 690.2,881.9 682.2,881.2 669.8,878.6 659.2,877.0 654.2,875.4 650.2,873.2 645.2,868.9 641.4,863.6 638.6,857.6 636.8,850.6 636.2,843.6 636.8,836.6 638.6,829.6 642.0,822.6 645.0,818.6 648.2,815.5 652.2,812.8 656.2,811.1 661.2,810.2 665.2,810.4 669.2,811.4 673.2,813.3 677.2,816.3 681.0,820.6 683.6,824.6 685.8,829.6 687.0,833.6 688.0,839.6 688.1,845.6 687.4,852.6 688.2,855.5 689.9,856.6 692.2,857.1 702.2,858.0 707.2,857.6 711.2,856.7 714.2,855.4 716.2,853.8 717.2,851.6 718.0,846.6 719.8,840.6 723.7,832.6 726.5,828.6 730.2,824.7 737.2,819.7 744.2,816.8 748.2,816.0 753.2,815.8 761.2,817.1 769.2,820.8 774.1,824.6 777.9,828.6 780.7,832.6 783.8,838.6 785.9,844.6 787.1,850.6 787.5,856.6 786.9,863.6 785.6,869.6 783.4,875.6 780.7,880.6 777.0,885.6 773.2,889.4 768.2,893.0 763.2,895.4 758.2,896.8"/><path d="M758.2,894.7 753.2,895.3 747.2,894.9 742.2,893.5 737.2,891.2 733.2,888.4 729.2,884.7 726.0,880.6 721.2,872.8 719.9,871.6 718.2,870.8 716.2,870.7 713.3,871.6 708.2,875.8 703.2,878.4 697.2,880.0 691.2,880.5 683.2,880.0 660.2,875.5 655.2,874.0 651.2,871.9 647.1,868.6 643.1,863.6 640.5,858.6 638.4,851.6 637.6,844.6 638.0,837.6 639.7,830.6 642.5,824.6 645.2,820.7 648.2,817.6 652.2,814.7 656.2,812.9 660.2,812.0 664.2,812.0 668.2,812.9 672.2,814.7 676.2,817.6 679.9,821.6 682.5,825.6 684.7,830.6 686.0,835.6 686.7,840.6 686.7,846.6 685.9,853.6 686.2,855.6 686.8,856.6 688.2,857.6 691.2,858.4 702.2,859.3 712.2,858.3 715.2,856.8 717.8,854.6 718.8,852.6 721.0,842.6 724.7,834.6 730.2,827.5 737.2,822.0 744.2,819.0 752.2,817.9 760.2,819.0 767.2,822.0 771.2,824.8 775.3,828.6 779.1,833.6 781.8,838.6 783.7,843.6 785.1,849.6 785.6,855.6 785.3,861.6 784.5,866.6 782.6,872.6 779.7,878.6 776.2,883.5 772.2,887.6 768.2,890.6 763.2,893.1 758.2,894.7"/><path d="M752.2,893.6 747.2,893.2 743.2,892.1 739.2,890.4 735.2,887.9 732.2,885.5 728.6,881.6 722.2,871.4 720.2,869.9 718.2,869.1 715.2,868.9 712.2,869.9 706.2,875.0 701.2,877.5 696.2,878.8 691.2,879.2 683.2,878.6 661.2,874.4 656.2,873.0 652.2,871.0 647.8,867.6 643.9,862.6 640.9,856.6 639.3,850.6 638.6,843.6 639.3,836.6 640.9,830.6 643.9,824.6 646.2,821.4 649.2,818.4 652.2,816.2 656.2,814.3 660.2,813.4 664.2,813.4 668.2,814.3 671.2,815.6 675.2,818.4 678.4,821.6 681.7,826.6 683.8,831.6 685.6,840.6 685.6,846.6 684.6,854.6 685.7,857.6 688.2,859.1 692.2,859.9 699.2,860.5 711.2,860.7 714.2,860.0 719.5,854.6 722.3,843.6 725.3,836.6 730.2,829.8 736.2,824.6 743.2,821.1 747.2,820.0 751.2,819.6 759.2,820.5 763.2,821.9 767.2,823.9 772.0,827.6 775.8,831.6 779.1,836.6 781.4,841.6 783.2,847.6 784.1,853.6 784.1,859.6 783.2,865.6 781.4,871.6 779.1,876.6 775.8,881.6 772.0,885.6 767.2,889.3 763.2,891.3 758.2,893.0 752.2,893.6"/><path d="M694.2,877.6 685.7,877.6 659.2,872.8 655.2,871.4 651.2,869.0 645.8,863.6 642.8,858.6 640.7,852.6 639.7,846.6 639.8,839.6 641.2,832.6 643.8,826.6 647.2,821.8 651.2,818.2 656.2,815.5 662.2,814.5 668.2,815.5 673.2,818.2 676.2,820.7 679.3,824.6 681.6,828.6 683.5,833.6 684.5,838.6 684.8,843.6 683.6,855.6 684.7,858.6 687.2,860.3 690.2,861.0 708.2,862.4 711.4,863.6 714.7,865.6 708.2,870.1 703.2,874.7 699.1,876.6 694.2,877.6"/><path d="M757.2,891.7 752.2,892.2 747.2,891.7 742.2,890.2 738.2,888.3 734.2,885.4 730.4,881.6 727.4,877.6 723.2,870.5 721.2,868.9 715.5,865.6 717.6,859.6 721.3,853.6 722.7,846.6 724.8,840.6 729.2,833.0 733.2,828.7 738.2,824.9 744.2,822.3 749.2,821.2 755.2,821.2 760.2,822.3 766.2,824.9 771.2,828.7 775.6,833.6 778.7,838.6 781.1,844.6 782.6,851.6 782.9,858.6 781.9,865.6 780.0,871.6 777.0,877.6 773.1,882.6 768.2,887.0 763.2,889.8 757.2,891.7"/><path d="M695.2,875.6 687.2,875.9 660.2,872.0 653.2,869.2 650.2,867.0 646.9,863.6 643.8,858.6 641.5,852.6 640.5,846.6 640.5,840.6 641.5,834.6 643.8,828.6 646.9,823.6 650.9,819.6 654.2,817.5 658.2,816.0 662.2,815.6 665.2,815.8 669.2,817.0 672.2,818.7 677.5,823.6 681.5,830.6 683.5,837.6 684.0,845.6 682.5,855.6 682.8,857.6 683.8,859.6 685.2,861.0 688.2,862.4 697.2,863.7 705.2,864.1 706.9,864.6 708.0,865.6 707.9,866.6 704.3,869.6 701.2,873.0 698.5,874.6 695.2,875.6"/><path d="M755.2,890.7 750.2,890.8 745.2,889.9 740.2,887.9 736.2,885.4 730.2,879.5 724.7,870.6 719.8,865.6 719.3,863.6 719.5,859.6 722.2,854.6 724.8,843.6 727.0,838.6 729.5,834.6 734.0,829.6 739.2,825.8 744.2,823.6 750.2,822.4 756.2,822.6 761.2,824.0 766.2,826.4 771.5,830.6 775.6,835.6 778.4,840.6 780.5,846.6 781.7,853.6 781.6,860.6 780.5,866.6 778.4,872.6 774.9,878.6 771.2,882.9 766.2,886.8 761.2,889.2 755.2,890.7"/><path d="M675.2,872.6 663.2,871.7 658.2,870.4 654.2,868.7 650.2,865.8 647.2,862.6 644.7,858.6 642.6,853.6 641.4,847.6 641.2,841.6 642.1,835.6 643.7,830.6 646.2,826.0 649.2,822.3 653.2,819.1 657.2,817.3 661.2,816.6 665.2,816.8 669.2,818.1 672.2,819.8 675.2,822.3 677.9,825.6 680.2,829.6 681.8,833.6 682.9,838.6 683.2,843.6 681.6,857.6 683.2,861.3 687.1,865.6 687.9,867.6 686.2,870.4 684.2,871.5 675.2,872.6"/><path d="M753.2,889.7 748.2,889.4 744.2,888.4 739.2,886.1 735.2,883.2 730.9,878.6 726.0,870.6 721.8,865.6 720.9,861.6 721.4,858.6 723.3,854.6 725.9,843.6 728.2,838.6 731.2,834.2 735.2,830.0 740.2,826.6 745.2,824.5 751.2,823.5 757.2,824.0 762.2,825.6 767.2,828.5 771.9,832.6 775.6,837.6 778.5,843.6 780.1,849.6 780.8,855.6 780.3,862.6 778.8,868.6 776.7,873.6 773.2,879.0 769.2,883.2 764.2,886.6 759.2,888.7 753.2,889.7"/><path d="M676.2,870.8 671.2,871.4 665.2,871.1 660.2,870.1 655.2,868.2 651.2,865.6 648.2,862.6 645.5,858.6 643.8,854.6 642.4,849.6 641.9,843.6 642.4,837.6 643.8,832.6 646.1,827.6 649.1,823.6 652.2,820.8 656.2,818.6 659.2,817.7 663.2,817.5 667.2,818.3 670.2,819.6 673.2,821.6 676.2,824.6 678.9,828.6 680.6,832.6 681.8,836.6 682.5,841.6 682.3,847.6 680.6,856.6 682.2,865.6 681.4,867.6 680.2,868.9 676.2,870.8"/><path d="M758.2,887.8 753.2,888.5 748.2,888.2 743.2,886.8 738.2,884.1 734.2,880.8 731.2,877.3 726.6,869.6 723.3,865.6 722.3,862.6 722.4,859.6 724.4,854.6 726.3,845.6 728.3,840.6 730.7,836.6 734.2,832.4 738.2,829.1 743.2,826.4 748.2,825.0 753.2,824.7 758.2,825.4 763.2,827.3 768.2,830.6 772.2,834.6 775.6,839.6 777.8,844.6 779.3,850.6 779.8,856.6 779.3,862.6 777.8,868.6 775.2,874.2 772.2,878.6 768.2,882.6 763.2,885.9 758.2,887.8"/><path d="M674.2,869.8 670.2,870.4 665.2,870.1 660.2,869.2 655.2,867.3 651.3,864.6 648.4,861.6 645.9,857.6 644.2,853.6 642.9,848.6 642.6,842.6 643.1,837.6 644.5,832.6 646.4,828.6 649.3,824.6 653.2,821.2 657.2,819.2 660.2,818.5 664.2,818.5 668.2,819.6 671.2,821.2 674.2,823.6 676.7,826.6 680.2,833.6 681.5,838.6 681.8,843.6 681.5,848.6 679.8,856.6 680.0,864.6 678.2,867.6 674.2,869.8"/><path d="M758.2,886.7 753.2,887.4 748.2,887.1 743.2,885.7 738.2,882.9 735.2,880.4 731.9,876.6 727.7,869.6 724.7,865.6 723.6,862.6 723.6,859.6 725.4,854.6 727.0,846.6 728.9,841.6 731.2,837.6 735.2,832.8 739.2,829.7 743.2,827.5 748.2,826.1 753.2,825.8 758.2,826.5 763.2,828.5 767.2,831.1 771.2,835.0 774.5,839.6 776.8,844.6 778.4,850.6 778.9,856.6 778.4,862.6 776.8,868.6 774.5,873.6 771.2,878.2 767.2,882.1 763.2,884.7 758.2,886.7"/><path d="M673.2,868.7 669.2,869.4 664.2,869.1 659.2,868.0 655.2,866.3 652.2,864.3 649.2,861.4 646.7,857.6 644.9,853.6 643.6,848.6 643.2,843.6 643.6,838.6 644.9,833.6 647.2,828.7 650.2,824.7 653.2,822.1 657.2,820.1 660.2,819.3 664.2,819.3 667.2,820.1 670.2,821.5 673.2,823.7 675.8,826.6 677.7,829.6 679.5,833.6 680.8,838.6 681.2,844.6 680.6,849.6 678.9,856.6 678.4,863.6 676.7,866.6 673.2,868.7"/><path d="M757.2,885.8 752.2,886.4 747.2,885.8 742.2,884.1 738.2,881.6 735.2,879.0 732.4,875.6 726.0,865.6 724.8,862.6 724.8,859.6 726.2,855.2 727.9,846.6 729.9,841.6 732.2,837.8 735.8,833.6 739.6,830.6 744.2,828.3 749.2,827.0 754.2,826.9 759.2,827.9 763.2,829.6 767.5,832.6 771.2,836.5 774.2,841.1 776.5,846.6 777.6,851.6 777.9,857.6 777.4,862.6 775.8,868.6 773.4,873.6 770.2,877.9 766.2,881.6 762.2,884.1 757.2,885.8"/><path d="M672.2,867.7 668.2,868.4 664.2,868.2 659.2,867.1 655.2,865.4 651.4,862.6 648.8,859.6 646.4,855.6 645.0,851.6 644.0,846.6 644.0,841.6 644.7,836.6 646.0,832.6 648.2,828.4 651.2,824.8 654.2,822.4 658.2,820.6 661.2,820.1 665.2,820.4 668.2,821.4 671.2,823.1 674.0,825.6 676.2,828.4 679.4,835.6 680.4,840.6 680.4,846.6 677.9,857.6 677.2,862.6 675.5,865.6 672.2,867.7"/><path d="M757.2,884.8 753.2,885.4 748.2,885.0 743.2,883.4 739.2,881.1 736.2,878.6 733.2,875.1 727.2,865.6 726.0,862.6 725.9,859.6 728.6,847.6 730.5,842.6 732.8,838.6 736.2,834.6 740.2,831.4 744.2,829.4 749.2,828.0 754.2,827.9 758.2,828.7 763.2,830.8 767.1,833.6 770.9,837.6 773.4,841.6 775.5,846.6 776.7,851.6 777.0,857.6 776.5,862.6 775.2,867.6 772.9,872.6 770.1,876.6 766.2,880.4 762.2,882.9 757.2,884.8"/><path d="M671.2,866.7 667.2,867.4 663.2,867.1 659.2,866.2 655.2,864.5 652.2,862.3 649.2,858.9 647.2,855.6 645.7,851.6 644.7,846.6 644.6,841.6 645.4,836.6 646.8,832.6 649.0,828.6 651.5,825.6 654.2,823.4 658.2,821.5 661.2,820.9 664.2,821.1 667.2,821.8 670.2,823.4 673.2,825.9 675.4,828.6 677.2,831.6 678.7,835.6 679.8,842.6 679.0,850.6 675.7,862.6 674.2,864.9 671.2,866.7"/><path d="M757.2,883.7 753.2,884.3 748.2,883.9 743.2,882.3 739.2,879.9 736.2,877.2 733.3,873.6 727.9,864.6 727.0,861.6 729.5,847.6 731.0,843.6 733.3,839.6 736.6,835.6 740.2,832.6 744.2,830.5 749.2,829.1 754.2,829.0 758.2,829.7 762.2,831.4 766.2,834.1 769.6,837.6 772.3,841.6 774.5,846.6 775.8,851.6 776.1,857.6 775.6,862.6 774.2,867.6 772.2,871.9 769.2,876.1 765.6,879.6 761.2,882.3 757.2,883.7"/><path d="M670.2,865.8 667.2,866.4 663.2,866.2 659.2,865.3 655.2,863.5 652.2,861.2 649.9,858.6 647.5,854.6 646.1,850.6 645.4,846.6 645.3,841.6 646.1,836.6 647.5,832.6 649.9,828.6 652.2,826.0 655.4,823.6 659.2,822.1 662.2,821.8 665.2,822.1 668.2,823.2 671.2,825.1 675.2,829.6 678.3,836.6 679.2,843.6 678.2,850.9 674.3,862.6 672.5,864.6 670.2,865.8"/><path d="M757.2,882.7 753.2,883.3 748.2,882.9 744.2,881.6 740.2,879.4 736.9,876.6 734.2,873.3 729.1,864.6 728.1,861.6 730.2,848.6 732.1,843.6 734.2,839.9 737.2,836.3 741.2,833.1 745.2,831.2 749.2,830.1 753.2,829.9 757.2,830.5 761.2,832.0 765.3,834.6 768.4,837.6 771.3,841.6 773.6,846.6 774.8,851.6 775.3,856.6 774.8,861.6 773.6,866.6 771.3,871.6 768.4,875.6 765.2,878.6 761.2,881.2 757.2,882.7"/><path d="M669.2,864.8 666.2,865.3 662.2,865.1 658.2,864.0 655.2,862.6 652.2,860.2 650.1,857.6 647.9,853.6 646.6,849.6 646.0,845.6 646.1,840.6 646.8,836.6 648.3,832.6 650.2,829.4 653.2,826.1 656.2,824.1 659.2,823.0 662.2,822.6 665.2,823.0 668.2,824.1 670.5,825.6 673.2,828.1 675.0,830.6 676.5,833.6 677.8,837.6 678.5,844.6 677.2,851.9 673.3,861.6 671.6,863.6 669.2,864.8"/><path d="M756.2,881.8 752.2,882.2 748.2,881.8 744.2,880.5 740.2,878.1 737.2,875.4 734.3,871.6 730.3,864.6 729.3,861.6 731.2,848.6 732.7,844.6 734.9,840.6 738.2,836.8 742.2,833.7 746.2,831.9 750.2,831.1 754.2,831.1 758.2,831.9 762.2,833.7 766.2,836.8 769.2,840.2 771.7,844.6 773.2,848.6 774.2,853.6 774.3,858.6 773.7,862.6 772.2,867.6 770.1,871.6 767.2,875.4 764.2,878.1 760.2,880.5 756.2,881.8"/><path d="M668.2,863.8 665.2,864.3 661.2,863.9 658.2,863.1 655.2,861.5 652.2,859.0 650.2,856.4 648.3,852.6 647.2,849.1 646.6,844.6 646.8,840.6 647.6,836.6 649.2,832.6 651.0,829.6 653.2,827.2 656.2,825.1 659.2,823.9 662.2,823.5 665.2,823.9 670.2,826.4 672.5,828.6 674.7,831.6 677.2,838.1 677.7,845.6 676.2,852.5 672.2,861.0 670.2,862.9 668.2,863.8"/><path d="M756.2,880.7 752.2,881.1 748.2,880.7 744.9,879.6 741.2,877.5 738.2,875.0 735.5,871.6 731.5,864.6 730.5,861.6 731.9,849.6 733.3,845.6 735.5,841.6 738.2,838.2 742.2,835.0 746.2,833.1 750.2,832.2 754.2,832.2 758.2,833.1 762.2,835.0 765.2,837.3 768.2,840.6 770.7,844.6 772.2,848.6 773.2,853.5 773.3,858.6 772.7,862.6 771.2,867.4 769.2,871.2 766.6,874.6 763.2,877.5 759.5,879.6 756.2,880.7"/><path d="M667.2,862.8 664.2,863.2 660.2,862.7 657.2,861.6 654.2,859.7 652.1,857.6 650.1,854.6 648.7,851.6 647.7,847.6 647.3,843.6 647.7,839.6 648.7,835.6 650.1,832.6 652.1,829.6 654.2,827.5 657.2,825.6 660.2,824.7 665.2,824.9 668.2,826.1 670.3,827.6 674.3,832.6 675.7,835.6 676.7,839.6 676.9,846.6 675.2,852.9 671.2,860.3 669.2,862.0 667.2,862.8"/><path d="M755.2,879.7 751.2,879.9 748.2,879.5 744.2,878.0 741.2,876.2 738.4,873.6 736.1,870.6 732.8,864.6 731.8,861.6 731.7,858.6 732.7,850.6 734.0,846.6 736.1,842.6 739.2,838.8 742.2,836.3 746.2,834.3 750.2,833.4 754.2,833.4 758.2,834.3 762.2,836.3 765.0,838.6 767.6,841.6 770.0,845.6 771.4,849.6 772.2,853.6 772.3,858.6 771.7,862.6 770.4,866.6 768.3,870.6 766.0,873.6 762.6,876.6 759.2,878.5 755.2,879.7"/><path d="M666.2,861.7 663.2,862.0 660.2,861.6 655.2,859.3 653.2,857.5 651.0,854.6 649.2,850.6 648.5,847.6 648.3,840.6 649.2,836.7 650.5,833.6 652.2,830.9 654.3,828.6 657.2,826.7 660.2,825.7 665.2,825.9 668.2,827.2 670.2,828.7 673.9,833.6 675.9,839.6 676.1,846.6 674.2,853.1 670.2,859.5 668.2,861.0 666.2,861.7"/><path d="M753.2,878.7 750.2,878.6 746.2,877.6 743.2,876.1 740.2,873.8 737.4,870.6 735.1,866.6 733.4,862.6 732.9,859.6 733.3,853.6 734.1,849.6 735.2,846.5 737.4,842.6 740.2,839.4 744.1,836.6 747.2,835.3 751.2,834.5 754.2,834.6 758.2,835.6 762.0,837.6 765.2,840.4 767.6,843.6 769.6,847.6 770.8,851.6 771.3,855.6 771.1,859.6 770.2,864.0 768.2,868.6 766.2,871.6 763.3,874.6 760.2,876.7 757.2,877.9 753.2,878.7"/><path d="M665.2,860.6 660.2,860.5 657.2,859.3 654.7,857.6 651.2,853.0 649.2,846.6 649.4,839.6 650.2,836.5 652.1,832.6 656.2,828.5 658.2,827.4 661.2,826.7 666.2,827.4 670.2,830.1 673.4,834.6 675.2,840.6 675.2,846.6 673.2,853.1 671.2,856.4 669.2,858.6 665.2,860.6"/><path d="M756.2,876.8 752.2,877.3 749.2,877.1 745.2,875.7 742.2,873.8 739.2,870.9 737.2,868.0 735.1,863.6 734.3,860.6 734.3,855.6 734.8,851.6 736.1,847.6 738.2,843.6 740.8,840.6 743.3,838.6 747.2,836.7 750.2,836.0 753.2,835.9 757.2,836.7 760.2,838.0 763.2,840.2 766.2,843.6 767.9,846.6 769.9,853.6 769.8,860.6 768.7,864.6 767.2,868.0 765.2,870.9 762.5,873.6 759.4,875.6 756.2,876.8"/><path d="M666.2,858.8 664.2,859.4 661.2,859.4 658.5,858.6 656.2,857.3 654.2,855.5 652.2,852.7 650.4,847.6 650.2,840.6 652.2,834.6 655.3,830.6 658.2,828.7 660.2,828.1 662.2,827.9 665.2,828.4 669.1,830.6 672.2,834.5 674.0,839.6 674.3,845.6 673.2,850.6 670.2,855.7 668.2,857.7 666.2,858.8"/><path d="M754.2,875.7 751.2,875.8 748.2,875.3 745.2,874.0 742.2,871.9 740.0,869.6 738.0,866.6 736.3,862.6 735.7,859.6 735.6,855.6 736.2,851.6 737.2,848.4 739.2,844.6 741.8,841.6 744.4,839.6 748.2,837.9 751.2,837.4 754.7,837.6 758.0,838.6 763.2,842.2 766.9,847.6 768.2,851.4 768.7,854.6 768.2,861.8 767.2,864.8 765.2,868.6 763.2,871.0 760.2,873.4 757.2,874.9 754.2,875.7"/><path d="M664.2,857.8 660.2,857.7 656.2,855.6 653.0,851.6 651.2,845.6 651.6,839.6 653.6,834.6 657.2,830.9 661.2,829.4 665.2,829.9 669.2,832.5 671.9,836.6 673.2,841.6 673.0,846.6 671.2,851.9 668.2,855.7 664.2,857.8"/><path d="M755.2,873.7 752.2,874.0 749.2,873.7 746.2,872.6 743.2,870.6 739.3,865.6 737.3,859.6 737.6,852.6 738.4,849.6 740.2,846.1 742.2,843.6 744.5,841.6 747.2,840.2 750.2,839.3 753.2,839.2 756.2,839.8 761.2,842.6 765.1,847.6 767.0,853.6 767.2,857.6 766.8,860.6 764.5,866.6 762.2,869.6 760.2,871.4 755.2,873.7"/><path d="M664.2,855.8 660.2,855.7 656.5,853.6 654.2,850.5 652.7,845.6 652.9,840.6 654.2,836.6 657.2,833.0 661.2,831.3 665.2,831.8 668.2,833.9 670.2,836.7 671.7,841.6 671.5,846.6 670.2,850.5 667.2,854.2 664.2,855.8"/><path d="M753.2,871.7 750.2,871.6 747.2,870.6 743.2,867.6 740.2,862.7 739.1,857.6 739.9,851.6 742.2,846.8 746.2,843.1 751.2,841.5 754.2,841.6 757.2,842.6 761.2,845.6 764.2,850.6 765.3,855.6 764.5,861.6 762.2,866.4 758.2,870.1 753.2,871.7"/><path d="M664.2,852.7 661.2,853.0 658.2,851.6 656.2,849.1 655.0,845.6 655.0,841.6 656.2,838.1 658.2,835.6 661.2,834.2 664.2,834.5 666.2,835.6 668.2,838.1 669.4,841.6 669.4,845.6 668.5,848.6 666.2,851.6 664.2,852.7"/><path d="M755.2,867.7 751.2,868.1 747.2,866.7 744.2,863.6 742.5,859.6 742.2,855.6 743.6,850.6 746.2,847.3 750.2,845.2 754.2,845.2 757.3,846.6 760.2,849.6 761.9,853.6 762.2,857.6 761.2,861.7 758.5,865.6 755.2,867.7"/></g>
<g fill="#555"><rect x="707.9" y="816.5" width="1" height="1"/><rect x="718.1" y="806.0" width="1" height="1"/><rect x="702.9" y="928.6" width="1" height="1"/><rect x="642.1" y="869.0" width="1" height="1"/><rect x="674.9" y="792.5" width="1" height="1"/><rect x="660.0" y="881.5" width="1" height="1"/><rect x="641.7" y="893.6" width="1" height="1"/><rect x="665.1" y="790.2" width="1" height="1"/><rect x="664.4" y="928.2" width="1" height="1"/><rect x="762.1" y="772.3" width="1" height="1"/><rect x="699.4" y="809.7" width="1" height="1"/><rect x="660.5" y="806.0" width="1" height="1"/><rect x="809.6" y="816.7" width="1" height="1"/><rect x="713.1" y="912.9" width="1" height="1"/><rect x="695.1" y="904.7" width="1" height="1"/><rect x="714.7" y="890.1" width="1" height="1"/><rect x="675.2" y="791.4" width="1" height="1"/><rect x="797.2" y="889.3" width="1" height="1"/><rect x="686.8" y="890.0" width="1" height="1"/><rect x="680.3" y="901.5" width="1" height="1"/><rect x="686.5" y="892.1" width="1" height="1"/><rect x="666.9" y="897.7" width="1" height="1"/><rect x="734.8" y="926.2" width="1" height="1"/><rect x="631.7" y="896.9" width="1" height="1"/><rect x="706.6" y="855.6" width="1" height="1"/></g>
<rect x="628.2" y="747.6" width="186" height="184.7" fill="none" stroke="#9a9a9a" stroke-width="1.9"/>
<line x1="717.3" y1="747.6" x2="717.3" y2="932.3" stroke="#3a3a3a" stroke-width="1.7"/>
<line x1="628.2" y1="825.1" x2="814.2" y2="825.1" stroke="#3a3a3a" stroke-width="1.7"/>
<text transform="translate(631.05,786.80) scale(0.9750,1)" font-size="26.600">4.24</text>
<text transform="translate(734.65,786.55) scale(0.9750,1)" font-size="26.600">2.73</text>
<text transform="translate(631.55,910.35) scale(0.9750,1)" font-size="26.600">36.3</text>
<text transform="translate(734.90,910.35) scale(0.9750,1)" font-size="26.600">56.7</text>
<g fill="none" stroke="#777" stroke-width="0.8"><path d="M168.5,1093.7 162.5,1094.2 155.5,1094.1 135.5,1090.8 117.5,1089.7 113.5,1089.9 103.5,1092.2 96.5,1093.1 89.5,1093.2 81.5,1092.2 71.5,1089.0 66.5,1086.2 63.3,1083.7 60.7,1080.7 59.1,1077.7 58.2,1073.7 58.5,1070.7 60.7,1065.7 63.3,1062.7 66.5,1060.2 73.5,1056.5 81.5,1054.2 89.5,1053.2 96.5,1053.3 103.5,1054.2 113.5,1056.5 118.5,1056.7 136.5,1055.5 149.5,1053.0 159.5,1051.8 161.5,1050.8 162.4,1049.7 162.9,1047.7 162.5,1038.5 161.5,1037.2 160.5,1036.7 156.5,1035.8 153.5,1034.5 150.5,1032.4 148.0,1029.7 146.0,1026.7 144.3,1022.7 143.3,1018.7 143.0,1013.7 143.7,1008.7 145.0,1004.7 147.2,1000.7 149.8,997.7 152.5,995.5 156.5,993.6 160.5,992.9 164.5,993.2 170.2,995.7 174.4,999.7 177.4,1004.7 179.1,1010.7 179.3,1016.7 178.1,1022.7 176.4,1026.7 172.2,1032.7 171.5,1034.7 174.1,1050.7 176.7,1053.7 186.5,1057.9 192.5,1061.9 196.6,1066.7 198.0,1069.7 198.5,1072.7 198.0,1076.7 196.6,1079.7 194.4,1082.7 190.5,1086.1 185.5,1089.0 180.5,1091.1 173.5,1093.0 168.5,1093.7"/><path d="M169.5,1091.7 162.5,1092.4 155.5,1092.2 137.5,1089.2 116.5,1087.7 111.5,1088.1 102.5,1090.2 96.5,1091.0 90.5,1091.1 83.5,1090.3 75.5,1088.1 71.5,1086.3 67.5,1083.6 64.6,1080.7 62.8,1077.7 61.9,1074.7 61.9,1071.7 63.9,1066.7 68.5,1062.0 75.5,1058.3 83.5,1056.1 90.5,1055.3 96.5,1055.4 102.5,1056.2 111.5,1058.3 117.5,1058.6 138.5,1057.0 164.5,1052.8 169.5,1053.0 172.5,1053.9 182.5,1058.3 188.5,1061.8 193.2,1066.7 194.7,1069.7 195.2,1072.7 195.0,1075.7 193.8,1078.7 191.7,1081.7 188.3,1084.7 184.5,1087.1 179.5,1089.3 169.5,1091.7"/><path d="M167.5,1090.8 161.5,1091.3 155.5,1091.1 137.5,1088.1 116.5,1086.5 111.5,1086.7 96.5,1089.5 90.5,1089.7 84.5,1089.0 75.5,1086.4 69.4,1082.7 67.3,1080.7 65.3,1077.7 64.3,1074.7 64.3,1071.7 65.3,1068.7 66.5,1066.7 70.7,1062.7 77.5,1059.2 85.5,1057.2 90.5,1056.7 96.5,1056.9 111.5,1059.7 116.5,1059.9 137.5,1058.3 155.5,1055.3 165.5,1054.4 169.5,1054.8 181.5,1059.4 187.5,1063.0 190.2,1065.7 192.1,1068.7 192.8,1070.7 193.2,1073.7 192.5,1076.7 191.0,1079.7 188.5,1082.5 185.5,1084.8 177.5,1088.6 167.5,1090.8"/><path d="M168.5,1089.8 162.5,1090.3 155.5,1090.1 138.5,1087.4 116.5,1085.5 110.5,1085.8 96.5,1088.4 90.5,1088.5 85.5,1088.0 77.3,1085.7 73.5,1083.8 70.6,1081.7 68.7,1079.7 66.9,1076.7 66.2,1073.7 66.3,1071.7 66.9,1069.7 68.5,1067.0 72.5,1063.3 78.5,1060.2 85.5,1058.4 90.5,1057.9 96.5,1058.0 110.5,1060.6 116.5,1060.9 138.5,1059.0 155.5,1056.3 164.5,1055.6 169.5,1056.0 180.5,1060.1 186.3,1063.7 188.5,1065.8 190.4,1068.7 191.2,1070.7 191.5,1073.7 190.9,1076.7 189.9,1078.7 187.5,1081.6 185.0,1083.7 177.5,1087.5 168.5,1089.8"/><path d="M169.5,1088.8 163.5,1089.5 156.5,1089.4 139.3,1086.7 116.5,1084.6 109.5,1084.9 95.5,1087.4 90.5,1087.4 85.5,1086.9 77.5,1084.5 71.7,1080.7 68.8,1076.7 68.2,1074.7 68.2,1071.7 69.9,1067.7 74.3,1063.7 79.5,1061.1 86.5,1059.4 95.5,1059.0 109.5,1061.5 116.5,1061.8 139.3,1059.7 155.5,1057.1 164.5,1056.5 168.5,1056.8 172.5,1057.8 178.5,1060.2 184.5,1063.6 188.4,1067.7 189.4,1069.7 190.1,1072.7 189.8,1075.7 189.0,1077.7 186.8,1080.7 184.6,1082.7 178.5,1086.2 169.5,1088.8"/><path d="M163.5,1088.8 154.5,1088.5 137.5,1085.8 117.5,1083.8 109.5,1084.0 94.5,1086.4 85.5,1085.8 78.7,1083.7 73.5,1080.4 70.5,1076.4 69.8,1073.7 70.0,1071.7 71.9,1067.7 73.8,1065.7 76.7,1063.7 83.5,1061.1 90.5,1060.0 97.5,1060.3 109.5,1062.4 117.5,1062.6 137.5,1060.6 154.5,1057.9 165.5,1057.3 169.5,1057.8 173.5,1059.0 179.7,1061.7 184.3,1064.7 187.0,1067.7 188.7,1071.7 188.5,1075.7 186.3,1079.7 182.5,1083.1 176.5,1086.1 170.5,1087.8 163.5,1088.8"/><path d="M166.5,1087.8 161.5,1088.2 155.5,1087.9 127.5,1083.9 118.5,1083.0 108.5,1083.2 94.5,1085.3 86.5,1084.9 79.5,1082.7 74.9,1079.7 72.1,1075.7 71.8,1071.7 73.9,1067.7 77.5,1064.7 81.9,1062.7 87.5,1061.4 94.5,1061.1 108.5,1063.2 118.5,1063.4 127.5,1062.5 155.5,1058.4 164.5,1058.0 168.5,1058.4 176.5,1061.1 182.8,1064.7 186.4,1068.7 187.2,1070.7 187.6,1073.7 186.9,1076.7 185.7,1078.7 181.5,1082.7 174.5,1086.0 166.5,1087.8"/><path d="M168.5,1086.9 162.5,1087.5 155.5,1087.3 126.5,1082.9 119.5,1082.2 107.5,1082.3 94.5,1084.2 87.5,1083.8 81.5,1082.2 77.2,1079.7 74.5,1076.7 73.8,1074.7 73.6,1072.7 74.5,1069.7 77.5,1066.5 82.5,1063.8 87.5,1062.6 94.5,1062.2 107.5,1064.1 120.5,1064.1 154.5,1059.2 162.5,1058.7 167.5,1058.9 174.5,1061.0 181.4,1064.7 185.2,1068.7 186.5,1072.7 186.1,1075.7 185.2,1077.7 181.5,1081.6 175.5,1084.9 168.5,1086.9"/><path d="M164.5,1086.8 154.5,1086.6 121.5,1081.4 106.5,1081.4 94.5,1082.9 88.5,1082.6 82.5,1081.0 78.8,1078.7 76.4,1075.7 75.9,1072.7 77.0,1069.7 80.1,1066.7 84.4,1064.7 88.5,1063.8 94.5,1063.5 106.5,1065.0 121.5,1065.0 154.5,1059.8 162.5,1059.4 167.5,1059.6 174.5,1061.8 178.5,1063.7 181.3,1065.7 184.5,1069.7 185.3,1073.7 184.0,1077.7 182.4,1079.7 179.5,1082.0 172.5,1085.2 164.5,1086.8"/><path d="M167.5,1085.7 161.5,1086.3 154.5,1085.9 136.5,1083.3 122.5,1080.4 103.5,1080.3 93.5,1081.1 88.5,1080.8 84.6,1079.7 81.2,1077.7 79.5,1075.7 78.9,1072.7 80.2,1069.7 82.5,1067.8 85.5,1066.4 89.5,1065.4 94.5,1065.3 103.5,1066.1 122.5,1066.0 136.5,1063.1 153.5,1060.6 161.5,1060.0 167.5,1060.3 173.5,1062.1 179.5,1065.4 182.8,1068.7 184.2,1072.7 183.4,1076.7 180.0,1080.7 174.5,1083.8 167.5,1085.7"/><path d="M168.5,1084.9 162.5,1085.6 155.5,1085.4 136.5,1082.7 124.5,1079.2 111.5,1079.5 91.5,1077.3 88.6,1076.7 86.8,1075.7 85.5,1073.9 85.4,1072.7 85.9,1071.7 87.5,1070.3 91.5,1069.1 111.5,1066.9 123.5,1067.3 134.5,1064.1 140.5,1063.0 156.5,1060.9 166.5,1060.9 172.5,1062.5 178.6,1065.7 181.6,1068.7 183.1,1072.7 182.2,1076.7 179.5,1079.9 175.2,1082.7 168.5,1084.9"/><path d="M165.5,1084.7 156.5,1084.9 139.5,1082.7 132.5,1080.9 125.5,1077.6 123.5,1077.2 114.5,1078.5 108.5,1078.1 105.5,1077.2 103.0,1075.7 102.2,1074.7 101.9,1072.7 103.0,1070.7 104.4,1069.7 109.5,1068.2 115.5,1067.9 123.5,1069.2 125.5,1068.8 132.5,1065.5 139.5,1063.7 157.5,1061.5 167.5,1061.7 173.4,1063.7 178.4,1066.7 181.0,1069.7 181.7,1071.7 181.9,1073.7 181.4,1075.7 180.3,1077.7 177.1,1080.7 171.5,1083.3 165.5,1084.7"/><path d="M166.5,1083.8 161.5,1084.3 156.5,1084.2 141.5,1082.5 135.5,1081.2 131.8,1079.7 127.9,1076.7 126.4,1073.7 126.7,1071.7 127.9,1069.7 130.1,1067.7 134.0,1065.7 138.5,1064.5 158.5,1062.1 165.5,1062.2 169.5,1063.0 174.5,1065.2 178.0,1067.7 180.2,1070.7 180.6,1073.7 179.6,1076.7 176.5,1080.0 171.5,1082.5 166.5,1083.8"/><path d="M116.5,1076.9 111.5,1077.2 107.5,1075.9 106.1,1074.7 105.7,1073.7 106.1,1071.7 108.5,1070.0 111.5,1069.2 115.5,1069.3 118.5,1070.2 120.6,1071.7 121.2,1073.7 119.5,1075.7 116.5,1076.9"/><path d="M167.5,1082.8 162.5,1083.5 157.5,1083.5 142.5,1082.1 136.5,1080.8 132.1,1078.7 130.1,1076.7 129.2,1074.7 129.2,1071.7 130.1,1069.7 132.1,1067.7 135.5,1065.9 139.5,1064.8 158.5,1062.8 164.5,1062.9 168.9,1063.7 173.5,1065.7 176.5,1067.7 178.8,1070.7 179.3,1073.7 178.2,1076.7 175.5,1079.5 171.5,1081.6 167.5,1082.8"/><path d="M115.5,1074.9 113.5,1075.4 111.5,1075.2 109.5,1073.9 109.4,1072.7 110.2,1071.7 111.5,1071.2 113.5,1071.0 115.5,1071.5 116.7,1072.7 116.7,1073.7 115.5,1074.9"/><path d="M162.5,1082.7 144.5,1081.7 136.5,1080.1 133.7,1078.7 131.7,1076.7 130.7,1073.7 131.2,1070.7 133.7,1067.7 138.3,1065.7 144.1,1064.7 156.5,1063.8 163.3,1063.7 167.5,1064.3 171.4,1065.7 174.6,1067.7 176.6,1069.7 177.6,1071.7 177.6,1074.7 176.5,1076.8 174.6,1078.7 171.2,1080.7 167.5,1081.9 162.5,1082.7"/><path d="M162.5,1081.7 144.5,1081.1 137.4,1079.7 134.1,1077.7 132.6,1075.7 132.1,1073.7 132.6,1070.7 134.1,1068.7 137.4,1066.7 141.1,1065.7 145.5,1065.2 163.5,1064.7 168.4,1065.7 172.4,1067.7 174.6,1069.7 175.7,1071.7 175.7,1074.7 174.6,1076.7 170.5,1079.7 167.5,1080.8 162.5,1081.7"/><path d="M165.5,1079.9 160.5,1080.5 148.5,1080.7 139.6,1079.7 137.1,1078.7 134.6,1076.7 133.6,1074.7 133.6,1071.7 134.6,1069.7 136.5,1068.0 139.5,1066.7 142.5,1066.1 159.5,1065.8 166.5,1066.7 169.2,1067.7 172.0,1069.7 173.3,1071.7 173.6,1073.7 172.8,1075.7 170.8,1077.7 165.5,1079.9"/><path d="M150.5,1079.7 143.0,1079.7 137.5,1077.9 136.0,1076.7 134.9,1074.7 134.7,1072.7 135.3,1070.7 137.1,1068.7 139.5,1067.5 143.0,1066.7 147.5,1066.5 164.3,1068.7 166.7,1069.7 168.9,1071.7 169.3,1073.7 168.9,1074.7 166.5,1076.8 162.5,1078.1 150.5,1079.7"/><path d="M149.5,1078.8 143.5,1079.0 138.5,1077.5 136.2,1074.7 136.0,1072.7 136.7,1070.7 139.5,1068.4 144.5,1067.3 150.4,1067.7 155.4,1069.7 156.4,1070.7 157.0,1072.7 156.4,1075.7 153.7,1077.7 149.5,1078.8"/><path d="M148.5,1077.9 143.5,1078.2 139.2,1076.7 138.2,1075.7 137.3,1073.7 138.2,1070.7 141.3,1068.7 144.5,1068.2 148.5,1068.5 151.5,1069.7 153.2,1071.7 153.2,1074.7 151.5,1076.7 148.5,1077.9"/><path d="M147.5,1076.9 143.5,1077.1 140.5,1076.0 138.9,1073.7 139.2,1071.7 141.5,1069.8 143.5,1069.3 146.5,1069.3 149.5,1070.5 150.5,1071.7 150.9,1073.7 149.7,1075.7 147.5,1076.9"/><path d="M145.5,1075.7 143.5,1075.7 141.5,1074.7 140.9,1073.7 141.5,1071.7 144.5,1070.6 147.6,1071.7 148.1,1073.7 147.5,1074.8 145.5,1075.7"/></g>
<g fill="#555"><rect x="157.9" y="1099.7" width="1" height="1"/><rect x="137.9" y="1114.9" width="1" height="1"/><rect x="184.8" y="1052.3" width="1" height="1"/><rect x="175.1" y="1099.5" width="1" height="1"/><rect x="161.3" y="1119.1" width="1" height="1"/><rect x="76.3" y="1037.7" width="1" height="1"/><rect x="185.2" y="1047.0" width="1" height="1"/><rect x="202.4" y="1064.9" width="1" height="1"/><rect x="169.1" y="1095.8" width="1" height="1"/><rect x="128.2" y="1051.5" width="1" height="1"/><rect x="60.9" y="1055.1" width="1" height="1"/><rect x="59.6" y="1053.5" width="1" height="1"/><rect x="124.3" y="1055.6" width="1" height="1"/><rect x="203.7" y="1062.5" width="1" height="1"/><rect x="120.7" y="1055.6" width="1" height="1"/><rect x="167.7" y="1116.4" width="1" height="1"/><rect x="215.5" y="1079.0" width="1" height="1"/><rect x="121.2" y="1034.4" width="1" height="1"/><rect x="59.0" y="1079.3" width="1" height="1"/><rect x="158.3" y="1098.0" width="1" height="1"/><rect x="218.4" y="1090.9" width="1" height="1"/><rect x="190.3" y="1042.4" width="1" height="1"/><rect x="110.3" y="1043.4" width="1" height="1"/><rect x="77.6" y="1048.9" width="1" height="1"/><rect x="56.3" y="1072.9" width="1" height="1"/><rect x="181.9" y="1052.3" width="1" height="1"/><rect x="104.7" y="1094.9" width="1" height="1"/><rect x="207.8" y="1071.1" width="1" height="1"/><rect x="191.2" y="1053.8" width="1" height="1"/><rect x="150.0" y="1051.7" width="1" height="1"/><rect x="134.7" y="1096.5" width="1" height="1"/><rect x="204.4" y="1055.0" width="1" height="1"/><rect x="68.3" y="1121.1" width="1" height="1"/><rect x="69.4" y="1090.0" width="1" height="1"/><rect x="110.0" y="1047.6" width="1" height="1"/><rect x="199.1" y="1076.1" width="1" height="1"/><rect x="164.7" y="1097.4" width="1" height="1"/><rect x="142.2" y="1091.7" width="1" height="1"/><rect x="124.4" y="1092.7" width="1" height="1"/><rect x="78.4" y="1094.7" width="1" height="1"/><rect x="148.9" y="1043.8" width="1" height="1"/><rect x="143.2" y="1094.4" width="1" height="1"/><rect x="203.1" y="1057.2" width="1" height="1"/><rect x="188.4" y="1048.4" width="1" height="1"/><rect x="180.6" y="1039.4" width="1" height="1"/><rect x="182.1" y="1030.3" width="1" height="1"/><rect x="109.0" y="1048.6" width="1" height="1"/><rect x="130.7" y="1094.9" width="1" height="1"/><rect x="81.8" y="1050.4" width="1" height="1"/><rect x="172.3" y="1096.8" width="1" height="1"/><rect x="205.9" y="1091.0" width="1" height="1"/><rect x="135.3" y="1091.0" width="1" height="1"/><rect x="81.4" y="1046.4" width="1" height="1"/><rect x="148.4" y="1118.5" width="1" height="1"/><rect x="186.0" y="1111.0" width="1" height="1"/><rect x="88.3" y="1099.8" width="1" height="1"/><rect x="159.0" y="1098.6" width="1" height="1"/><rect x="137.3" y="1115.3" width="1" height="1"/><rect x="172.1" y="1102.8" width="1" height="1"/><rect x="191.5" y="1057.3" width="1" height="1"/><rect x="119.2" y="997.7" width="1" height="1"/><rect x="101.1" y="1034.3" width="1" height="1"/><rect x="132.6" y="995.6" width="1" height="1"/><rect x="94.2" y="990.2" width="1" height="1"/><rect x="105.8" y="1014.8" width="1" height="1"/><rect x="94.1" y="1003.7" width="1" height="1"/><rect x="93.2" y="1002.5" width="1" height="1"/><rect x="115.2" y="1045.5" width="1" height="1"/><rect x="56.2" y="1014.5" width="1" height="1"/><rect x="92.5" y="1026.1" width="1" height="1"/><rect x="79.7" y="1013.9" width="1" height="1"/><rect x="77.5" y="1029.9" width="1" height="1"/><rect x="104.9" y="1013.6" width="1" height="1"/><rect x="111.4" y="1012.0" width="1" height="1"/><rect x="65.2" y="1028.0" width="1" height="1"/><rect x="109.4" y="1013.8" width="1" height="1"/><rect x="126.1" y="1039.9" width="1" height="1"/><rect x="76.3" y="1001.9" width="1" height="1"/><rect x="139.6" y="1043.7" width="1" height="1"/><rect x="84.8" y="994.3" width="1" height="1"/><rect x="87.2" y="1007.2" width="1" height="1"/><rect x="64.5" y="1017.3" width="1" height="1"/><rect x="71.8" y="993.7" width="1" height="1"/><rect x="124.5" y="1003.7" width="1" height="1"/><rect x="100.8" y="1028.7" width="1" height="1"/><rect x="122.0" y="1010.3" width="1" height="1"/><rect x="103.6" y="1001.0" width="1" height="1"/><rect x="144.4" y="1029.0" width="1" height="1"/><rect x="76.0" y="1016.8" width="1" height="1"/><rect x="119.6" y="1025.8" width="1" height="1"/><rect x="146.4" y="1042.8" width="1" height="1"/><rect x="89.6" y="1015.0" width="1" height="1"/><rect x="71.7" y="1021.4" width="1" height="1"/><rect x="104.8" y="976.9" width="1" height="1"/><rect x="86.4" y="1018.8" width="1" height="1"/><rect x="72.4" y="1000.2" width="1" height="1"/><rect x="93.7" y="1023.2" width="1" height="1"/><rect x="98.5" y="999.8" width="1" height="1"/><rect x="121.4" y="1006.4" width="1" height="1"/><rect x="90.5" y="990.5" width="1" height="1"/><rect x="83.6" y="1029.1" width="1" height="1"/><rect x="63.7" y="1015.3" width="1" height="1"/><rect x="119.7" y="1009.5" width="1" height="1"/><rect x="108.3" y="995.5" width="1" height="1"/><rect x="133.9" y="1037.6" width="1" height="1"/><rect x="108.2" y="983.4" width="1" height="1"/><rect x="77.4" y="1035.3" width="1" height="1"/><rect x="143.6" y="1022.3" width="1" height="1"/><rect x="132.4" y="1005.2" width="1" height="1"/><rect x="98.0" y="1016.7" width="1" height="1"/><rect x="112.7" y="987.7" width="1" height="1"/><rect x="125.1" y="1041.8" width="1" height="1"/><rect x="74.9" y="990.9" width="1" height="1"/><rect x="110.9" y="1004.3" width="1" height="1"/><rect x="45.6" y="1032.1" width="1" height="1"/><rect x="106.2" y="1007.6" width="1" height="1"/><rect x="84.4" y="1018.6" width="1" height="1"/><rect x="77.5" y="1002.2" width="1" height="1"/><rect x="111.8" y="1006.2" width="1" height="1"/><rect x="91.7" y="1048.4" width="1" height="1"/><rect x="123.1" y="1032.0" width="1" height="1"/><rect x="115.2" y="1025.9" width="1" height="1"/><rect x="137.5" y="1016.3" width="1" height="1"/><rect x="147.0" y="998.6" width="1" height="1"/><rect x="96.4" y="990.5" width="1" height="1"/><rect x="94.2" y="1026.6" width="1" height="1"/><rect x="137.3" y="1004.1" width="1" height="1"/><rect x="102.6" y="1009.9" width="1" height="1"/><rect x="84.8" y="994.1" width="1" height="1"/><rect x="104.0" y="983.8" width="1" height="1"/><rect x="105.2" y="1017.1" width="1" height="1"/><rect x="86.7" y="997.5" width="1" height="1"/><rect x="69.3" y="1052.3" width="1" height="1"/><rect x="70.3" y="1046.3" width="1" height="1"/><rect x="116.9" y="1009.8" width="1" height="1"/><rect x="74.7" y="1036.5" width="1" height="1"/><rect x="144.0" y="999.0" width="1" height="1"/><rect x="95.3" y="1036.7" width="1" height="1"/><rect x="110.6" y="1054.7" width="1" height="1"/><rect x="88.8" y="1027.0" width="1" height="1"/><rect x="72.5" y="1056.5" width="1" height="1"/><rect x="85.0" y="974.7" width="1" height="1"/><rect x="99.5" y="1014.1" width="1" height="1"/><rect x="102.2" y="1028.0" width="1" height="1"/><rect x="140.6" y="1015.5" width="1" height="1"/><rect x="127.4" y="1026.5" width="1" height="1"/><rect x="95.4" y="1018.2" width="1" height="1"/><rect x="103.2" y="999.3" width="1" height="1"/><rect x="131.6" y="990.4" width="1" height="1"/><rect x="130.6" y="1034.8" width="1" height="1"/><rect x="100.3" y="1002.2" width="1" height="1"/><rect x="97.1" y="1025.7" width="1" height="1"/><rect x="120.3" y="1022.2" width="1" height="1"/><rect x="126.3" y="1006.1" width="1" height="1"/><rect x="108.1" y="986.9" width="1" height="1"/><rect x="120.8" y="1019.6" width="1" height="1"/><rect x="92.5" y="1038.8" width="1" height="1"/><rect x="119.1" y="963.2" width="1" height="1"/><rect x="103.5" y="989.1" width="1" height="1"/><rect x="90.1" y="1018.1" width="1" height="1"/><rect x="96.5" y="1023.4" width="1" height="1"/><rect x="118.0" y="1041.2" width="1" height="1"/><rect x="78.8" y="1046.6" width="1" height="1"/><rect x="80.1" y="1022.0" width="1" height="1"/><rect x="130.3" y="1030.3" width="1" height="1"/><rect x="80.0" y="1003.4" width="1" height="1"/><rect x="91.4" y="1015.7" width="1" height="1"/><rect x="130.0" y="992.2" width="1" height="1"/><rect x="113.7" y="1028.3" width="1" height="1"/><rect x="115.9" y="1025.6" width="1" height="1"/><rect x="138.9" y="1026.0" width="1" height="1"/><rect x="123.1" y="1027.4" width="1" height="1"/><rect x="145.5" y="980.6" width="1" height="1"/><rect x="133.3" y="1011.7" width="1" height="1"/><rect x="95.8" y="998.3" width="1" height="1"/><rect x="57.7" y="1009.4" width="1" height="1"/><rect x="86.0" y="1026.1" width="1" height="1"/><rect x="67.2" y="1043.9" width="1" height="1"/><rect x="109.0" y="1012.0" width="1" height="1"/><rect x="85.5" y="1001.7" width="1" height="1"/><rect x="75.4" y="1006.4" width="1" height="1"/><rect x="102.6" y="1013.3" width="1" height="1"/><rect x="68.6" y="1011.6" width="1" height="1"/><rect x="81.1" y="1019.7" width="1" height="1"/><rect x="147.3" y="1028.6" width="1" height="1"/><rect x="95.0" y="985.8" width="1" height="1"/><rect x="68.5" y="984.7" width="1" height="1"/><rect x="119.9" y="1002.2" width="1" height="1"/><rect x="104.0" y="1004.9" width="1" height="1"/><rect x="104.7" y="1043.3" width="1" height="1"/><rect x="86.1" y="1010.2" width="1" height="1"/><rect x="83.1" y="1033.3" width="1" height="1"/><rect x="77.9" y="995.2" width="1" height="1"/><rect x="69.2" y="989.9" width="1" height="1"/><rect x="78.6" y="1034.8" width="1" height="1"/><rect x="108.5" y="995.8" width="1" height="1"/><rect x="95.9" y="1012.3" width="1" height="1"/><rect x="85.9" y="1053.4" width="1" height="1"/><rect x="56.8" y="1023.9" width="1" height="1"/><rect x="110.5" y="1005.7" width="1" height="1"/><rect x="106.1" y="1033.4" width="1" height="1"/><rect x="106.2" y="1024.6" width="1" height="1"/><rect x="119.1" y="978.1" width="1" height="1"/><rect x="126.0" y="1036.0" width="1" height="1"/><rect x="68.7" y="1014.4" width="1" height="1"/><rect x="83.0" y="1005.5" width="1" height="1"/><rect x="125.7" y="1001.4" width="1" height="1"/><rect x="99.4" y="980.4" width="1" height="1"/><rect x="98.7" y="1018.4" width="1" height="1"/><rect x="85.6" y="1003.0" width="1" height="1"/><rect x="147.8" y="993.7" width="1" height="1"/><rect x="77.3" y="1001.3" width="1" height="1"/><rect x="131.3" y="1056.6" width="1" height="1"/><rect x="110.5" y="1003.1" width="1" height="1"/><rect x="92.2" y="1036.9" width="1" height="1"/><rect x="80.6" y="1044.3" width="1" height="1"/><rect x="136.5" y="1018.0" width="1" height="1"/><rect x="118.0" y="1030.9" width="1" height="1"/><rect x="139.8" y="996.7" width="1" height="1"/><rect x="130.8" y="1009.6" width="1" height="1"/><rect x="84.1" y="1018.7" width="1" height="1"/><rect x="97.4" y="997.9" width="1" height="1"/><rect x="64.2" y="998.8" width="1" height="1"/><rect x="137.4" y="1054.0" width="1" height="1"/><rect x="118.1" y="1039.2" width="1" height="1"/><rect x="90.1" y="1015.2" width="1" height="1"/><rect x="109.3" y="996.2" width="1" height="1"/><rect x="78.7" y="1018.5" width="1" height="1"/><rect x="94.8" y="996.5" width="1" height="1"/><rect x="111.8" y="1011.7" width="1" height="1"/><rect x="127.0" y="1016.6" width="1" height="1"/><rect x="95.3" y="1019.1" width="1" height="1"/><rect x="98.4" y="1004.0" width="1" height="1"/><rect x="92.9" y="1030.9" width="1" height="1"/><rect x="118.0" y="1041.1" width="1" height="1"/><rect x="61.9" y="1009.2" width="1" height="1"/><rect x="92.6" y="1020.0" width="1" height="1"/><rect x="91.6" y="1006.9" width="1" height="1"/><rect x="121.3" y="1020.1" width="1" height="1"/><rect x="74.5" y="1042.1" width="1" height="1"/><rect x="126.4" y="1005.8" width="1" height="1"/><rect x="122.5" y="1002.7" width="1" height="1"/><rect x="129.5" y="1012.6" width="1" height="1"/><rect x="83.2" y="1009.6" width="1" height="1"/><rect x="84.1" y="1020.4" width="1" height="1"/><rect x="106.7" y="1017.4" width="1" height="1"/><rect x="104.7" y="980.7" width="1" height="1"/><rect x="108.4" y="1038.2" width="1" height="1"/><rect x="109.1" y="1009.3" width="1" height="1"/><rect x="98.2" y="1014.2" width="1" height="1"/><rect x="89.3" y="1005.6" width="1" height="1"/><rect x="80.3" y="1039.3" width="1" height="1"/><rect x="102.1" y="1034.9" width="1" height="1"/><rect x="96.5" y="1018.1" width="1" height="1"/><rect x="98.4" y="1025.5" width="1" height="1"/><rect x="122.3" y="1021.3" width="1" height="1"/><rect x="86.3" y="1001.9" width="1" height="1"/><rect x="142.3" y="1011.4" width="1" height="1"/><rect x="95.5" y="1044.5" width="1" height="1"/><rect x="128.6" y="1026.8" width="1" height="1"/><rect x="111.9" y="1027.1" width="1" height="1"/><rect x="98.4" y="989.8" width="1" height="1"/><rect x="70.5" y="1024.4" width="1" height="1"/><rect x="111.9" y="1012.1" width="1" height="1"/><rect x="74.4" y="989.3" width="1" height="1"/><rect x="94.6" y="989.0" width="1" height="1"/><rect x="124.1" y="1038.6" width="1" height="1"/><rect x="88.3" y="1000.1" width="1" height="1"/><rect x="98.3" y="1035.1" width="1" height="1"/><rect x="117.2" y="1027.9" width="1" height="1"/><rect x="107.6" y="1029.3" width="1" height="1"/><rect x="137.2" y="996.5" width="1" height="1"/><rect x="91.5" y="990.3" width="1" height="1"/><rect x="141.3" y="1041.3" width="1" height="1"/><rect x="120.6" y="993.9" width="1" height="1"/><rect x="106.7" y="1012.2" width="1" height="1"/><rect x="104.4" y="1013.1" width="1" height="1"/><rect x="115.0" y="1009.2" width="1" height="1"/><rect x="123.0" y="1021.3" width="1" height="1"/><rect x="95.5" y="1014.6" width="1" height="1"/><rect x="91.9" y="1032.2" width="1" height="1"/><rect x="96.0" y="1022.3" width="1" height="1"/><rect x="93.1" y="988.5" width="1" height="1"/><rect x="124.2" y="996.6" width="1" height="1"/><rect x="118.8" y="1024.7" width="1" height="1"/><rect x="62.8" y="998.8" width="1" height="1"/><rect x="90.2" y="1001.1" width="1" height="1"/><rect x="74.1" y="1030.8" width="1" height="1"/><rect x="96.8" y="1024.0" width="1" height="1"/><rect x="92.2" y="1022.5" width="1" height="1"/><rect x="84.5" y="1016.2" width="1" height="1"/><rect x="116.5" y="1017.6" width="1" height="1"/><rect x="91.5" y="996.1" width="1" height="1"/><rect x="106.5" y="1023.3" width="1" height="1"/><rect x="96.3" y="1002.1" width="1" height="1"/><rect x="95.2" y="1023.1" width="1" height="1"/><rect x="111.6" y="967.9" width="1" height="1"/><rect x="105.5" y="1003.3" width="1" height="1"/><rect x="135.7" y="1011.9" width="1" height="1"/><rect x="83.8" y="1012.5" width="1" height="1"/><rect x="106.5" y="1006.1" width="1" height="1"/><rect x="101.2" y="991.0" width="1" height="1"/><rect x="97.1" y="1031.4" width="1" height="1"/><rect x="109.0" y="1039.2" width="1" height="1"/><rect x="127.0" y="1048.3" width="1" height="1"/><rect x="128.5" y="1014.5" width="1" height="1"/><rect x="108.7" y="1020.1" width="1" height="1"/><rect x="109.8" y="1020.5" width="1" height="1"/><rect x="83.7" y="976.7" width="1" height="1"/><rect x="86.4" y="978.2" width="1" height="1"/><rect x="104.1" y="1016.8" width="1" height="1"/><rect x="62.3" y="1029.8" width="1" height="1"/><rect x="123.3" y="1018.5" width="1" height="1"/><rect x="142.5" y="1052.3" width="1" height="1"/><rect x="73.6" y="1036.4" width="1" height="1"/><rect x="113.1" y="1024.6" width="1" height="1"/><rect x="124.9" y="1003.0" width="1" height="1"/><rect x="88.3" y="1001.0" width="1" height="1"/><rect x="84.4" y="1014.8" width="1" height="1"/><rect x="67.7" y="996.8" width="1" height="1"/><rect x="178.2" y="1028.1" width="1" height="1"/><rect x="173.9" y="988.1" width="1" height="1"/><rect x="186.0" y="1028.4" width="1" height="1"/><rect x="181.1" y="1019.3" width="1" height="1"/><rect x="190.2" y="1039.8" width="1" height="1"/><rect x="176.9" y="1052.0" width="1" height="1"/><rect x="186.3" y="1038.0" width="1" height="1"/><rect x="184.8" y="1032.3" width="1" height="1"/><rect x="193.1" y="1029.1" width="1" height="1"/><rect x="211.7" y="1040.6" width="1" height="1"/><rect x="131.0" y="1041.7" width="1" height="1"/><rect x="142.3" y="980.3" width="1" height="1"/><rect x="156.3" y="982.6" width="1" height="1"/><rect x="123.5" y="1055.5" width="1" height="1"/><rect x="189.8" y="1041.3" width="1" height="1"/><rect x="152.5" y="1045.3" width="1" height="1"/><rect x="154.3" y="990.4" width="1" height="1"/><rect x="210.2" y="1022.0" width="1" height="1"/><rect x="152.1" y="1037.2" width="1" height="1"/><rect x="131.2" y="999.9" width="1" height="1"/><rect x="155.1" y="1040.5" width="1" height="1"/><rect x="178.7" y="1005.9" width="1" height="1"/><rect x="188.9" y="1039.7" width="1" height="1"/><rect x="181.0" y="1027.1" width="1" height="1"/><rect x="147.6" y="1050.1" width="1" height="1"/><rect x="181.4" y="1016.6" width="1" height="1"/><rect x="191.1" y="1023.1" width="1" height="1"/><rect x="198.5" y="1024.0" width="1" height="1"/><rect x="200.9" y="1028.7" width="1" height="1"/><rect x="194.2" y="1020.6" width="1" height="1"/><rect x="158.8" y="963.9" width="1" height="1"/><rect x="187.5" y="1047.7" width="1" height="1"/><rect x="183.1" y="1051.2" width="1" height="1"/><rect x="202.7" y="1028.7" width="1" height="1"/><rect x="186.1" y="1013.3" width="1" height="1"/><rect x="147.5" y="1039.3" width="1" height="1"/><rect x="132.2" y="1034.6" width="1" height="1"/><rect x="178.9" y="1043.8" width="1" height="1"/><rect x="138.5" y="1022.6" width="1" height="1"/><rect x="187.6" y="1054.0" width="1" height="1"/><rect x="174.4" y="1032.1" width="1" height="1"/><rect x="183.9" y="1002.2" width="1" height="1"/><rect x="141.1" y="1034.4" width="1" height="1"/><rect x="174.2" y="998.5" width="1" height="1"/><rect x="139.1" y="996.5" width="1" height="1"/><rect x="212.1" y="1043.3" width="1" height="1"/><rect x="146.3" y="1047.4" width="1" height="1"/><rect x="146.9" y="997.0" width="1" height="1"/><rect x="222.9" y="1036.9" width="1" height="1"/><rect x="181.2" y="1042.1" width="1" height="1"/><rect x="205.4" y="1036.0" width="1" height="1"/><rect x="192.3" y="1007.1" width="1" height="1"/><rect x="197.9" y="1040.9" width="1" height="1"/><rect x="180.0" y="1040.8" width="1" height="1"/><rect x="176.6" y="1046.1" width="1" height="1"/><rect x="139.8" y="1040.9" width="1" height="1"/><rect x="213.6" y="1018.3" width="1" height="1"/><rect x="162.7" y="1049.3" width="1" height="1"/><rect x="186.6" y="1043.4" width="1" height="1"/><rect x="129.9" y="1040.7" width="1" height="1"/><rect x="139.5" y="1011.6" width="1" height="1"/><rect x="183.3" y="1099.0" width="1" height="1"/><rect x="182.6" y="1045.6" width="1" height="1"/><rect x="142.1" y="1018.0" width="1" height="1"/><rect x="141.5" y="1015.2" width="1" height="1"/><rect x="134.3" y="999.7" width="1" height="1"/><rect x="175.5" y="1031.0" width="1" height="1"/><rect x="188.1" y="1052.7" width="1" height="1"/><rect x="158.0" y="1044.4" width="1" height="1"/><rect x="191.8" y="1025.0" width="1" height="1"/><rect x="139.9" y="1038.1" width="1" height="1"/><rect x="124.4" y="1012.6" width="1" height="1"/><rect x="182.0" y="1031.4" width="1" height="1"/><rect x="154.7" y="1050.6" width="1" height="1"/><rect x="142.7" y="1036.0" width="1" height="1"/><rect x="207.3" y="1016.8" width="1" height="1"/><rect x="209.3" y="1005.6" width="1" height="1"/><rect x="178.8" y="1003.3" width="1" height="1"/><rect x="136.0" y="1033.2" width="1" height="1"/><rect x="180.4" y="1001.7" width="1" height="1"/></g>
<rect x="40.5" y="944.7" width="185.6" height="184.2" fill="none" stroke="#9a9a9a" stroke-width="1.9"/>
<line x1="129.5" y1="944.7" x2="129.5" y2="1128.9" stroke="#3a3a3a" stroke-width="1.7"/>
<line x1="40.5" y1="1046.8" x2="226.1" y2="1046.8" stroke="#3a3a3a" stroke-width="1.7"/>
<text transform="translate(43.85,983.65) scale(0.9750,1)" font-size="26.600">3.45</text>
<text transform="translate(146.85,983.65) scale(0.9750,1)" font-size="26.600">5.79</text>
<text transform="translate(43.85,1107.45) scale(0.9750,1)" font-size="26.600">32.8</text>
<text transform="translate(146.85,1107.45) scale(0.9750,1)" font-size="26.600">57.9</text>
<g fill="none" stroke="#777" stroke-width="0.8"><path d="M359.2,1091.7 354.2,1092.0 348.2,1091.6 335.8,1088.7 331.2,1088.2 317.1,1088.7 304.2,1090.6 294.2,1091.3 284.2,1091.0 273.2,1089.4 262.2,1086.0 257.2,1083.5 253.2,1080.8 250.2,1077.7 248.4,1074.7 247.7,1071.7 248.0,1068.7 248.7,1066.7 250.7,1063.7 253.2,1061.2 257.2,1058.5 262.2,1056.0 267.2,1054.2 277.2,1051.9 286.2,1050.9 296.2,1050.8 303.2,1051.3 318.2,1053.3 330.2,1053.8 335.2,1053.4 344.2,1051.1 350.2,1050.1 357.2,1050.1 363.2,1050.9 368.2,1052.4 372.2,1054.2 376.2,1056.7 379.2,1059.4 381.8,1062.7 383.2,1065.7 384.0,1068.7 384.1,1072.7 383.5,1075.7 381.5,1079.7 379.1,1082.7 376.2,1085.3 369.2,1089.2 363.2,1091.1 359.2,1091.7"/><path d="M360.2,1089.7 355.2,1090.2 350.2,1090.0 335.2,1086.8 330.2,1086.4 316.2,1086.9 295.2,1089.3 286.2,1089.1 277.2,1088.0 266.2,1084.9 258.3,1080.7 255.9,1078.7 253.5,1075.7 252.3,1072.7 252.3,1069.7 252.8,1067.7 254.6,1064.7 257.2,1062.1 260.2,1060.0 268.2,1056.3 278.2,1053.9 286.2,1052.9 295.2,1052.8 315.2,1055.0 330.2,1055.6 336.2,1055.0 350.2,1052.0 356.2,1051.9 361.2,1052.4 369.2,1054.9 373.2,1057.2 376.3,1059.7 378.9,1062.7 380.5,1065.7 381.4,1068.7 381.6,1071.7 381.1,1074.7 379.9,1077.7 377.8,1080.7 375.2,1083.3 372.2,1085.5 368.2,1087.5 360.2,1089.7"/><path d="M358.2,1088.8 349.2,1088.7 335.5,1085.7 330.2,1085.2 315.2,1085.7 295.2,1087.9 287.2,1087.8 279.2,1086.9 269.2,1084.3 261.2,1080.3 258.2,1077.8 256.5,1075.7 255.3,1072.7 255.2,1069.7 255.8,1067.7 257.7,1064.7 262.7,1060.7 270.2,1057.3 280.2,1054.9 287.2,1054.2 295.2,1054.1 314.2,1056.2 330.2,1056.8 336.2,1056.2 350.2,1053.2 355.2,1053.0 360.2,1053.5 364.2,1054.4 369.2,1056.4 375.2,1060.6 378.8,1065.7 379.7,1068.7 379.9,1071.7 379.4,1074.7 378.1,1077.7 375.9,1080.7 373.2,1083.1 366.2,1086.9 358.2,1088.8"/><path d="M359.2,1087.7 350.2,1087.9 335.2,1084.8 329.2,1084.3 313.2,1084.9 294.2,1086.8 287.2,1086.7 280.2,1085.9 270.2,1083.3 263.1,1079.7 260.7,1077.7 258.4,1074.7 257.6,1072.7 257.6,1069.7 258.7,1066.7 260.2,1064.8 265.2,1061.0 272.2,1058.0 281.2,1055.9 288.2,1055.2 295.2,1055.2 313.2,1057.1 329.2,1057.8 336.2,1057.0 350.2,1054.1 355.2,1053.9 360.2,1054.4 368.2,1057.0 373.7,1060.7 377.4,1065.7 378.4,1068.7 378.6,1071.7 377.2,1076.7 375.2,1079.7 373.2,1081.7 367.2,1085.5 359.2,1087.7"/><path d="M360.2,1086.7 355.2,1087.3 350.2,1087.1 335.2,1084.0 329.2,1083.4 312.2,1084.1 294.2,1085.9 288.2,1085.8 281.2,1085.0 271.2,1082.4 264.3,1078.7 260.6,1074.7 259.8,1072.7 259.7,1069.7 261.7,1065.7 266.7,1061.7 273.8,1058.7 282.2,1056.8 288.2,1056.2 295.2,1056.2 311.2,1057.8 329.2,1058.6 336.2,1057.8 350.2,1054.9 355.2,1054.7 360.2,1055.2 367.2,1057.5 372.2,1060.7 374.2,1062.7 376.2,1065.7 377.5,1070.7 376.5,1075.7 374.7,1078.7 372.9,1080.7 367.2,1084.5 360.2,1086.7"/><path d="M361.2,1085.8 356.2,1086.5 350.2,1086.4 335.2,1083.3 329.2,1082.6 310.2,1083.4 294.2,1085.0 282.2,1084.2 273.2,1082.0 266.6,1078.7 262.7,1074.7 261.8,1072.7 261.7,1069.7 262.4,1067.7 263.9,1065.7 268.2,1062.3 275.2,1059.4 283.2,1057.6 295.2,1057.1 310.2,1058.6 329.2,1059.4 335.2,1058.7 350.2,1055.6 355.2,1055.4 359.2,1055.8 366.2,1057.9 371.2,1060.9 373.2,1062.9 375.1,1065.7 376.5,1070.7 375.4,1075.7 372.7,1079.7 368.2,1083.1 361.2,1085.8"/><path d="M357.2,1085.8 349.2,1085.6 335.2,1082.7 329.2,1081.9 309.2,1082.7 294.2,1084.0 282.2,1083.2 274.2,1081.2 267.6,1077.7 265.5,1075.7 264.2,1073.7 263.6,1071.7 263.7,1069.7 264.5,1067.7 266.0,1065.7 270.1,1062.7 276.2,1060.2 284.2,1058.4 295.2,1058.0 308.2,1059.2 328.2,1060.2 333.2,1059.7 350.2,1056.3 355.2,1056.1 359.2,1056.5 366.2,1058.7 371.2,1062.0 374.6,1066.7 375.5,1071.7 373.9,1076.7 370.2,1080.8 364.2,1084.2 357.2,1085.8"/><path d="M359.2,1084.8 355.2,1085.3 350.2,1085.1 333.2,1081.6 328.2,1081.1 294.2,1083.1 283.2,1082.4 276.2,1080.7 270.0,1077.7 267.7,1075.7 266.3,1073.7 265.6,1071.7 265.7,1069.7 267.3,1066.7 271.2,1063.5 277.2,1061.0 284.2,1059.4 294.2,1058.9 328.2,1060.9 333.2,1060.4 350.2,1056.9 355.2,1056.7 359.2,1057.2 365.2,1059.0 370.2,1062.2 373.2,1065.9 374.6,1070.7 374.2,1073.7 373.4,1075.7 370.3,1079.7 365.2,1083.0 359.2,1084.8"/><path d="M361.2,1083.7 356.2,1084.6 350.2,1084.4 328.2,1080.3 294.2,1082.1 285.2,1081.7 278.2,1080.1 272.7,1077.7 269.1,1074.7 268.0,1072.7 267.8,1070.7 268.9,1067.7 272.2,1064.6 278.2,1061.9 284.2,1060.5 294.2,1059.9 328.2,1061.7 349.2,1057.7 354.2,1057.4 358.2,1057.7 364.2,1059.3 368.4,1061.7 372.1,1065.7 373.6,1069.7 373.3,1073.7 371.2,1077.7 367.2,1081.1 361.2,1083.7"/><path d="M357.2,1083.8 353.2,1084.0 348.2,1083.6 328.2,1079.5 315.2,1080.5 304.2,1080.4 293.2,1081.0 286.2,1080.7 279.2,1079.1 274.1,1076.7 271.0,1073.7 270.2,1070.7 271.4,1067.7 275.1,1064.7 279.8,1062.7 285.2,1061.5 293.2,1061.0 304.2,1061.6 316.2,1061.6 328.2,1062.5 348.2,1058.4 353.2,1058.0 358.2,1058.3 364.2,1060.1 369.2,1063.4 372.2,1067.7 372.7,1071.7 371.5,1075.7 368.0,1079.7 363.2,1082.4 357.2,1083.8"/><path d="M359.2,1082.8 354.2,1083.4 348.2,1083.0 327.2,1078.5 314.2,1079.8 302.2,1079.3 291.2,1079.7 286.2,1079.2 280.2,1077.7 276.2,1075.7 274.2,1073.7 273.2,1070.7 274.7,1067.7 277.2,1065.7 282.0,1063.7 286.7,1062.7 314.2,1062.2 328.2,1063.4 347.2,1059.2 352.2,1058.6 357.2,1058.8 363.2,1060.4 367.3,1062.7 370.7,1066.7 371.8,1070.7 371.0,1074.7 368.2,1078.5 364.2,1081.2 359.2,1082.8"/><path d="M354.2,1082.7 349.2,1082.5 342.2,1081.4 327.2,1077.5 318.2,1078.8 313.2,1079.0 300.2,1077.8 287.2,1077.2 283.2,1076.1 280.2,1074.7 278.2,1072.7 277.8,1070.7 278.7,1068.7 281.2,1066.7 287.8,1064.7 299.2,1064.3 314.2,1062.9 327.2,1064.5 339.2,1061.3 346.2,1059.9 353.2,1059.3 358.2,1059.7 364.2,1061.7 368.2,1064.7 370.6,1068.7 370.7,1072.7 368.8,1076.7 365.2,1079.8 360.2,1081.9 354.2,1082.7"/><path d="M357.2,1081.8 351.2,1082.0 342.2,1080.8 337.2,1079.6 327.2,1076.2 316.2,1078.2 307.8,1077.7 303.7,1076.7 299.2,1074.7 297.4,1072.7 297.3,1069.7 298.6,1067.7 300.2,1066.7 304.2,1065.2 309.2,1064.1 317.2,1063.9 327.2,1065.8 337.2,1062.4 343.2,1061.0 352.2,1060.0 358.2,1060.4 363.2,1062.0 367.0,1064.7 369.1,1067.7 369.8,1071.7 368.9,1074.7 366.2,1078.0 362.2,1080.4 357.2,1081.8"/><path d="M358.2,1080.8 351.2,1081.3 341.2,1080.1 335.2,1078.3 327.2,1074.3 325.2,1074.5 320.2,1076.5 317.2,1077.2 310.2,1077.1 306.2,1076.0 303.8,1074.7 302.2,1072.7 301.9,1070.7 302.5,1068.7 304.7,1066.7 310.2,1064.9 317.2,1064.8 320.9,1065.7 325.2,1067.5 327.2,1067.6 335.3,1063.7 341.2,1061.9 350.2,1060.7 357.2,1061.0 362.2,1062.5 365.6,1064.7 367.9,1067.7 368.7,1070.7 368.2,1073.7 366.2,1076.7 362.2,1079.5 358.2,1080.8"/><path d="M358.2,1079.9 353.2,1080.5 348.2,1080.4 342.2,1079.7 338.2,1078.7 333.7,1076.7 331.0,1074.7 328.9,1071.7 329.1,1069.7 330.6,1067.7 333.0,1065.7 337.0,1063.7 340.3,1062.7 346.2,1061.7 352.2,1061.5 356.2,1061.7 360.2,1062.7 363.9,1064.7 365.9,1066.7 367.2,1069.2 367.4,1071.7 366.4,1074.7 364.7,1076.7 361.6,1078.7 358.2,1079.9"/><path d="M318.2,1075.9 313.2,1076.4 308.2,1075.3 306.2,1074.0 305.1,1072.7 304.9,1069.7 307.2,1067.2 311.2,1065.8 316.2,1065.7 319.8,1066.7 322.6,1068.7 323.6,1070.7 323.5,1071.7 321.2,1074.5 318.2,1075.9"/><path d="M351.2,1079.7 342.2,1079.1 338.2,1078.1 335.2,1076.7 332.7,1074.7 331.3,1072.7 331.0,1070.7 331.6,1068.7 333.3,1066.7 336.4,1064.7 340.2,1063.3 345.2,1062.5 351.2,1062.3 355.9,1062.7 359.6,1063.7 363.1,1065.7 365.2,1068.3 365.9,1070.7 365.6,1072.7 364.2,1075.2 361.2,1077.6 358.5,1078.7 351.2,1079.7"/><path d="M317.2,1074.7 313.2,1075.2 309.2,1074.0 307.4,1071.7 307.6,1069.7 309.8,1067.7 312.2,1066.9 315.2,1066.8 318.2,1067.7 320.2,1069.7 320.4,1071.7 319.1,1073.7 317.2,1074.7"/><path d="M351.2,1078.8 343.2,1078.6 336.8,1076.7 334.1,1074.7 332.8,1072.7 332.5,1070.7 333.1,1068.7 334.7,1066.7 338.1,1064.7 341.2,1063.7 345.2,1063.2 354.5,1063.7 358.1,1064.7 361.5,1066.7 363.2,1068.7 363.7,1070.7 363.4,1072.7 362.2,1074.7 359.4,1076.7 357.2,1077.6 351.2,1078.8"/><path d="M316.2,1072.8 314.2,1073.3 312.2,1073.0 310.5,1071.7 310.4,1070.7 310.9,1069.7 312.2,1068.9 315.2,1068.8 316.8,1069.7 317.3,1070.7 317.2,1071.7 316.2,1072.8"/><path d="M350.2,1077.8 343.2,1078.0 340.2,1077.3 337.2,1076.0 335.5,1074.7 334.2,1072.7 333.9,1070.7 334.4,1068.7 336.1,1066.7 337.7,1065.7 343.2,1064.1 349.2,1064.1 355.0,1065.7 356.7,1066.7 358.7,1068.7 359.4,1070.7 359.1,1072.7 356.1,1075.7 350.2,1077.8"/><path d="M349.2,1076.7 343.2,1077.2 338.3,1075.7 336.9,1074.7 335.5,1072.7 335.1,1070.7 335.8,1068.7 338.2,1066.4 342.2,1065.0 347.2,1064.9 351.2,1066.1 353.6,1068.7 353.8,1072.7 352.8,1074.7 349.2,1076.7"/><path d="M347.2,1076.0 342.2,1076.2 338.5,1074.7 337.2,1073.3 336.5,1071.7 337.1,1068.7 339.5,1066.7 343.0,1065.7 346.2,1065.8 349.2,1067.0 350.2,1067.9 351.1,1069.7 351.0,1072.7 349.7,1074.7 347.2,1076.0"/><path d="M346.2,1074.8 342.2,1075.1 339.2,1073.7 338.0,1071.7 338.1,1069.7 338.8,1068.7 340.2,1067.6 343.2,1066.8 345.2,1066.9 347.2,1067.7 348.7,1069.7 348.9,1071.7 347.9,1073.7 346.2,1074.8"/><path d="M343.2,1073.7 340.5,1072.7 339.8,1070.7 341.2,1068.8 343.2,1068.3 345.2,1068.8 346.4,1070.7 345.8,1072.7 343.2,1073.7"/></g>
<g fill="#555"><rect x="372.0" y="1033.2" width="1" height="1"/><rect x="276.5" y="1047.2" width="1" height="1"/><rect x="394.7" y="1080.7" width="1" height="1"/><rect x="264.2" y="1038.4" width="1" height="1"/><rect x="245.9" y="1025.8" width="1" height="1"/><rect x="316.9" y="1047.7" width="1" height="1"/><rect x="347.6" y="1049.6" width="1" height="1"/><rect x="410.7" y="1056.8" width="1" height="1"/><rect x="355.6" y="1102.5" width="1" height="1"/><rect x="414.7" y="1073.4" width="1" height="1"/><rect x="321.9" y="1094.1" width="1" height="1"/><rect x="387.0" y="1048.5" width="1" height="1"/><rect x="368.7" y="1108.0" width="1" height="1"/><rect x="332.8" y="1094.7" width="1" height="1"/><rect x="330.3" y="1103.8" width="1" height="1"/></g>
<rect x="232.2" y="944.7" width="185.5" height="184.2" fill="none" stroke="#9a9a9a" stroke-width="1.9"/>
<line x1="320.6" y1="944.7" x2="320.6" y2="1128.9" stroke="#3a3a3a" stroke-width="1.7"/>
<line x1="232.2" y1="1046.8" x2="417.7" y2="1046.8" stroke="#3a3a3a" stroke-width="1.7"/>
<text transform="translate(235.30,983.65) scale(0.9750,1)" font-size="26.600">2.80</text>
<text transform="translate(337.45,983.65) scale(0.9750,1)" font-size="26.600">1.94</text>
<text transform="translate(235.30,1107.45) scale(0.9750,1)" font-size="26.600">42.0</text>
<text transform="translate(338.20,1107.45) scale(0.9750,1)" font-size="26.600">53.2</text>
<g fill="none" stroke="#777" stroke-width="0.8"><path d="M561.7,1096.8 554.7,1097.0 546.7,1096.2 538.7,1094.1 527.6,1089.7 518.7,1088.6 512.7,1088.9 500.7,1093.1 490.7,1094.8 481.7,1094.9 470.7,1093.1 465.7,1091.4 460.7,1089.1 456.7,1086.5 452.5,1082.7 449.7,1078.7 448.1,1074.7 447.7,1070.7 448.3,1066.7 449.5,1063.7 451.4,1060.7 454.0,1057.7 457.7,1054.8 461.7,1052.4 466.7,1050.2 475.7,1047.8 485.7,1047.0 495.7,1047.8 504.7,1050.2 513.0,1053.7 517.7,1054.6 529.7,1054.6 533.7,1053.8 535.8,1052.7 537.7,1050.7 538.3,1047.7 536.9,1041.7 535.4,1029.7 531.4,1019.7 530.4,1014.7 531.1,1008.7 533.2,1003.7 536.2,999.7 539.7,996.5 544.7,993.4 549.7,991.3 555.7,989.7 561.7,989.1 567.7,989.3 573.7,990.4 579.7,992.4 584.7,995.1 589.2,998.7 592.6,1002.7 595.0,1007.7 595.9,1011.7 595.9,1015.7 594.7,1020.7 592.6,1024.7 590.2,1027.7 583.7,1032.9 578.7,1035.4 572.7,1037.3 566.7,1038.2 558.7,1038.4 556.7,1038.9 554.7,1040.6 553.4,1042.7 552.6,1044.7 552.6,1046.7 553.7,1048.1 555.7,1049.0 566.7,1050.2 574.7,1052.3 579.7,1054.4 584.7,1057.3 589.6,1061.7 592.4,1065.7 594.2,1070.7 594.3,1074.7 593.3,1078.7 591.2,1082.7 588.7,1085.7 584.7,1089.1 579.7,1092.0 574.7,1094.1 567.7,1096.0 561.7,1096.8"/><path d="M489.7,1032.9 486.7,1033.0 483.7,1032.3 480.8,1030.7 478.7,1028.8 475.5,1023.7 473.8,1016.7 474.3,1009.7 476.7,1003.7 480.7,999.2 483.7,997.5 486.7,996.8 491.7,997.5 494.7,999.2 496.7,1001.0 498.7,1003.7 500.2,1006.7 501.6,1012.7 501.2,1019.7 498.9,1025.7 496.8,1028.7 494.7,1030.6 492.7,1031.9 489.7,1032.9"/><path d="M550.7,1037.1 548.7,1037.5 546.7,1037.2 543.7,1035.8 541.7,1034.1 539.9,1030.7 536.5,1018.7 535.7,1013.7 536.2,1009.7 537.9,1005.7 540.9,1001.7 545.7,997.8 550.7,995.4 556.7,993.7 562.7,993.1 568.7,993.5 574.7,995.0 579.7,997.2 584.5,1000.7 587.2,1003.7 589.0,1006.7 590.2,1009.7 590.6,1012.7 590.4,1016.7 589.5,1019.7 587.9,1022.7 585.5,1025.7 580.7,1029.6 574.7,1032.4 566.7,1034.1 556.7,1034.3 550.7,1037.1"/><path d="M489.7,1025.8 485.7,1025.8 482.7,1024.0 480.3,1020.7 479.2,1016.7 479.2,1012.7 480.7,1008.3 483.7,1005.0 486.7,1003.7 489.7,1004.0 492.7,1005.7 494.9,1008.7 496.2,1012.7 496.0,1017.7 494.7,1021.5 492.7,1024.0 489.7,1025.8"/><path d="M563.7,1094.7 555.7,1095.2 547.7,1094.5 539.7,1092.4 528.7,1088.2 517.7,1086.9 510.7,1087.5 500.7,1091.2 491.7,1093.0 482.7,1093.2 473.7,1092.0 467.7,1090.2 463.7,1088.4 459.7,1086.0 455.7,1082.7 453.2,1079.7 451.2,1075.7 450.5,1071.7 450.8,1067.7 452.4,1063.7 454.4,1060.7 457.4,1057.7 460.7,1055.3 464.7,1053.1 469.7,1051.1 478.7,1049.1 486.7,1048.7 494.7,1049.5 501.7,1051.1 512.7,1055.5 518.7,1056.3 528.7,1056.3 533.7,1055.7 536.7,1054.7 542.7,1051.3 546.7,1050.2 561.7,1051.4 568.7,1052.5 573.7,1054.0 578.7,1056.1 585.7,1061.0 588.1,1063.7 590.4,1067.7 591.3,1070.7 591.4,1074.7 590.4,1078.7 588.8,1081.7 586.4,1084.7 582.7,1087.8 578.7,1090.3 573.7,1092.4 563.7,1094.7"/><path d="M563.7,1030.7 555.7,1030.4 549.7,1031.6 546.5,1030.7 544.7,1029.3 543.2,1026.7 540.6,1015.7 540.6,1012.7 541.2,1009.7 542.5,1006.7 544.9,1003.7 547.7,1001.3 551.7,999.0 555.7,997.6 559.7,996.9 563.9,996.7 568.7,997.2 572.7,998.3 576.7,1000.0 579.7,1002.0 582.7,1005.0 584.7,1008.3 585.7,1011.7 585.7,1015.7 584.9,1018.7 583.2,1021.7 580.5,1024.7 576.7,1027.4 572.7,1029.1 568.7,1030.2 563.7,1030.7"/><path d="M561.7,1093.7 554.7,1094.0 547.7,1093.2 540.7,1091.4 529.7,1087.2 516.7,1085.7 510.7,1086.3 499.7,1090.2 491.7,1091.8 483.7,1092.1 474.7,1090.9 468.7,1089.2 464.7,1087.4 460.7,1085.0 456.9,1081.7 454.6,1078.7 452.8,1074.7 452.3,1070.7 452.7,1067.7 453.8,1064.7 455.7,1061.7 458.5,1058.7 461.7,1056.3 469.7,1052.5 479.7,1050.2 487.7,1049.9 495.7,1050.9 501.7,1052.5 511.7,1056.5 517.7,1057.4 528.7,1057.4 533.7,1056.9 537.7,1055.8 543.7,1053.1 548.7,1052.2 560.7,1052.6 568.7,1053.8 577.7,1057.2 581.7,1059.7 585.1,1062.7 587.4,1065.7 588.8,1068.7 589.5,1071.7 589.4,1075.7 588.4,1078.7 586.7,1081.7 584.1,1084.7 580.7,1087.4 572.7,1091.4 566.7,1093.0 561.7,1093.7"/><path d="M566.7,1025.8 560.7,1025.9 554.3,1024.7 550.7,1023.6 548.7,1021.7 547.0,1016.7 546.9,1011.7 548.7,1007.7 551.8,1004.7 555.6,1002.7 558.7,1001.8 565.7,1001.5 569.7,1002.3 572.7,1003.6 575.7,1005.6 577.7,1007.8 579.2,1010.7 579.7,1013.3 579.5,1015.7 578.3,1018.7 576.7,1020.8 573.7,1023.2 570.7,1024.7 566.7,1025.8"/><path d="M561.7,1092.8 554.7,1093.0 547.7,1092.2 541.7,1090.6 530.7,1086.5 517.7,1084.8 513.7,1084.9 509.7,1085.5 499.7,1089.2 491.7,1090.8 482.7,1091.1 474.7,1090.0 469.7,1088.5 464.7,1086.2 460.9,1083.7 457.7,1080.7 455.6,1077.7 454.3,1074.7 453.8,1071.7 454.2,1067.7 455.3,1064.7 457.3,1061.7 462.7,1057.0 470.7,1053.2 479.7,1051.2 487.7,1050.8 494.7,1051.6 500.7,1053.2 511.7,1057.6 517.7,1058.4 533.7,1057.9 537.7,1056.9 544.7,1054.2 549.7,1053.4 559.7,1053.4 566.7,1054.4 575.7,1057.4 579.7,1059.7 582.7,1062.1 585.1,1064.7 586.9,1067.7 588.0,1071.7 588.0,1074.7 586.9,1078.7 585.1,1081.7 582.7,1084.3 579.7,1086.7 575.7,1089.0 571.7,1090.6 566.7,1092.0 561.7,1092.8"/><path d="M562.7,1091.8 555.7,1092.2 548.7,1091.5 542.7,1090.0 531.0,1085.7 517.7,1084.0 509.7,1084.6 499.7,1088.3 491.7,1090.0 483.7,1090.4 475.7,1089.4 466.7,1086.2 462.7,1083.9 459.7,1081.3 457.5,1078.7 455.9,1075.7 455.1,1072.7 455.2,1068.7 456.1,1065.7 457.9,1062.7 460.7,1059.7 463.3,1057.7 470.7,1054.1 479.7,1052.0 486.7,1051.6 494.7,1052.4 500.7,1054.1 510.7,1058.2 518.7,1059.3 533.9,1058.7 538.1,1057.7 544.7,1055.3 549.7,1054.4 558.7,1054.2 566.7,1055.3 575.7,1058.5 581.8,1062.7 584.4,1065.7 585.9,1068.7 586.7,1071.7 586.7,1074.7 585.9,1077.7 584.4,1080.7 579.4,1085.7 575.7,1087.9 571.7,1089.7 562.7,1091.8"/><path d="M564.7,1090.7 557.7,1091.5 549.7,1090.9 543.7,1089.5 531.7,1085.1 524.7,1083.8 517.7,1083.2 509.7,1083.9 498.7,1087.8 491.7,1089.3 483.7,1089.7 476.7,1088.8 467.7,1085.8 464.0,1083.7 460.7,1081.0 458.1,1077.7 456.7,1074.7 456.1,1071.7 456.3,1068.7 457.3,1065.7 459.2,1062.7 461.7,1060.1 464.7,1057.8 472.7,1054.2 480.7,1052.6 487.7,1052.3 494.7,1053.2 500.7,1054.9 510.7,1059.0 518.7,1060.0 527.7,1059.9 534.7,1059.3 545.7,1056.0 550.7,1055.1 558.7,1055.0 565.7,1055.8 573.7,1058.4 580.4,1062.7 584.3,1067.7 585.3,1070.7 585.6,1073.7 585.1,1076.7 583.7,1079.7 579.7,1084.3 572.7,1088.4 564.7,1090.7"/><path d="M558.7,1090.7 552.7,1090.6 547.7,1089.8 532.7,1084.7 524.7,1083.1 518.7,1082.5 509.7,1083.1 498.7,1087.1 491.7,1088.6 483.7,1089.0 476.7,1088.1 471.7,1086.7 467.7,1085.0 461.6,1080.7 459.2,1077.7 457.7,1074.7 457.2,1071.7 457.4,1068.7 459.6,1063.7 461.7,1061.2 464.8,1058.7 471.7,1055.3 480.7,1053.2 487.7,1053.0 494.7,1053.9 499.7,1055.3 510.7,1059.7 519.7,1060.9 534.7,1060.0 545.7,1056.8 550.7,1055.9 558.7,1055.7 565.7,1056.6 573.7,1059.3 576.7,1061.0 580.1,1063.7 582.5,1066.7 584.0,1069.7 584.5,1072.7 584.2,1075.7 583.1,1078.7 581.0,1081.7 575.7,1086.0 567.7,1089.3 558.7,1090.7"/><path d="M561.7,1089.8 554.7,1090.1 548.7,1089.3 543.7,1088.0 532.7,1084.0 523.7,1082.2 518.7,1081.7 513.7,1081.9 508.7,1082.7 498.7,1086.4 491.7,1088.0 483.7,1088.4 476.7,1087.5 471.7,1086.0 467.7,1084.2 464.7,1082.3 461.8,1079.7 458.7,1074.7 458.1,1071.7 458.3,1068.7 460.6,1063.7 465.7,1059.0 472.7,1055.6 480.7,1053.9 486.7,1053.6 493.7,1054.3 499.7,1056.0 509.7,1060.1 519.7,1061.6 534.7,1060.6 546.7,1057.3 551.7,1056.5 558.7,1056.3 564.7,1057.1 572.7,1059.6 578.7,1063.6 580.7,1065.7 582.5,1068.7 583.5,1073.7 582.9,1076.7 581.4,1079.7 576.7,1084.4 569.7,1088.0 561.7,1089.8"/><path d="M563.7,1088.9 556.7,1089.5 549.7,1088.9 544.7,1087.6 533.7,1083.6 523.7,1081.4 518.7,1080.9 508.7,1082.0 497.7,1086.0 491.7,1087.4 484.7,1087.8 477.7,1087.1 469.7,1084.5 465.7,1082.1 462.9,1079.7 461.2,1077.7 459.7,1074.7 459.1,1071.7 459.3,1068.7 461.7,1063.7 466.7,1059.2 473.7,1056.0 481.7,1054.3 487.7,1054.2 493.7,1054.9 498.7,1056.3 509.7,1060.8 520.7,1062.5 536.7,1060.9 550.7,1057.3 557.7,1056.9 563.7,1057.5 570.7,1059.5 576.7,1063.0 578.7,1064.7 580.9,1067.7 582.4,1072.7 581.5,1077.7 579.7,1080.5 577.6,1082.7 571.7,1086.4 563.7,1088.9"/><path d="M559.7,1088.7 553.7,1088.7 548.7,1088.0 534.7,1083.2 523.7,1080.6 519.7,1080.0 508.7,1081.4 497.7,1085.4 491.7,1086.8 484.7,1087.3 477.7,1086.5 469.7,1083.7 463.9,1079.7 462.2,1077.7 460.6,1074.7 460.0,1071.7 460.2,1068.7 461.4,1065.7 462.7,1063.7 467.2,1059.7 473.7,1056.6 481.7,1054.9 487.7,1054.8 493.7,1055.5 498.7,1057.0 508.7,1061.2 520.7,1063.4 524.7,1063.3 536.7,1061.6 547.7,1058.5 551.7,1057.8 558.7,1057.6 564.7,1058.4 571.7,1060.8 577.5,1064.7 579.2,1066.7 580.8,1069.7 581.3,1071.7 581.3,1074.7 580.4,1077.7 579.2,1079.7 574.7,1083.9 567.7,1087.2 559.7,1088.7"/><path d="M562.7,1087.7 555.7,1088.2 549.7,1087.5 535.7,1082.8 522.7,1079.3 519.7,1079.0 507.7,1081.0 497.7,1084.8 492.7,1086.1 485.7,1086.7 478.7,1086.1 471.1,1083.7 465.0,1079.7 463.2,1077.7 461.5,1074.7 461.0,1072.7 460.9,1069.7 461.7,1067.0 462.9,1064.7 464.7,1062.6 467.7,1060.2 473.7,1057.3 481.7,1055.5 487.7,1055.4 493.7,1056.1 498.7,1057.6 508.7,1061.8 521.7,1064.5 538.7,1061.8 550.7,1058.6 556.7,1058.2 562.8,1058.7 569.9,1060.7 575.7,1064.2 579.4,1068.7 580.1,1070.7 580.5,1073.7 579.8,1076.7 578.8,1078.7 575.1,1082.7 569.7,1085.8 562.7,1087.7"/><path d="M563.7,1086.9 556.7,1087.6 549.7,1086.9 537.7,1082.8 520.7,1077.8 506.7,1080.6 497.7,1084.1 492.7,1085.5 486.7,1086.1 479.7,1085.6 471.7,1083.3 466.1,1079.7 464.2,1077.7 462.5,1074.7 461.9,1072.7 461.8,1069.7 462.7,1066.8 463.9,1064.7 468.2,1060.7 474.3,1057.7 481.7,1056.1 488.7,1056.0 494.7,1057.0 507.7,1062.2 521.7,1065.9 530.9,1063.7 539.7,1062.2 550.7,1059.3 556.7,1058.8 562.7,1059.3 569.7,1061.4 574.7,1064.4 578.3,1068.7 579.4,1072.7 579.1,1075.7 578.3,1077.7 575.0,1081.7 570.3,1084.7 563.7,1086.9"/><path d="M559.7,1086.8 553.7,1086.8 547.7,1085.7 538.7,1082.4 529.0,1079.7 522.7,1076.3 520.7,1075.8 513.7,1078.2 505.7,1080.2 493.7,1084.7 486.7,1085.5 479.7,1085.1 472.0,1082.7 466.7,1079.2 463.4,1074.7 462.8,1072.7 462.7,1069.7 463.3,1067.7 464.7,1065.0 468.7,1061.2 474.7,1058.2 481.7,1056.7 488.7,1056.6 495.1,1057.7 505.7,1062.2 514.0,1064.7 521.7,1068.0 529.8,1064.7 540.7,1062.7 549.7,1060.2 556.7,1059.5 562.7,1060.0 568.7,1061.8 573.7,1064.7 577.2,1068.7 578.0,1070.7 578.4,1073.7 577.7,1076.7 576.6,1078.7 572.7,1082.5 566.7,1085.4 559.7,1086.8"/><path d="M489.7,1084.7 482.7,1084.8 476.7,1083.8 471.5,1081.7 467.2,1078.7 464.9,1075.7 463.6,1071.7 464.2,1067.7 466.7,1063.8 470.7,1060.7 476.7,1058.2 482.7,1057.2 489.7,1057.3 496.2,1058.7 505.7,1062.9 514.1,1065.7 517.2,1067.7 518.7,1069.7 519.2,1071.7 518.6,1073.7 515.0,1076.7 504.7,1079.9 495.7,1083.5 489.7,1084.7"/><path d="M561.7,1085.8 555.7,1086.2 550.7,1085.7 529.7,1079.1 527.0,1077.7 524.9,1075.7 523.9,1073.7 524.1,1070.7 526.2,1067.7 529.7,1065.6 541.7,1063.2 550.7,1060.7 559.7,1060.3 567.7,1062.2 572.3,1064.7 575.4,1067.7 577.2,1071.7 576.9,1075.7 574.7,1079.6 571.7,1082.1 566.7,1084.6 561.7,1085.8"/><path d="M491.7,1083.8 485.7,1084.4 479.7,1083.8 474.7,1082.4 469.7,1079.8 466.6,1076.7 464.7,1072.7 464.8,1068.7 466.3,1065.7 469.7,1062.3 474.7,1059.6 480.7,1058.0 487.7,1057.7 492.7,1058.4 497.0,1059.7 504.7,1063.3 512.7,1066.1 516.1,1068.7 516.8,1070.7 516.7,1072.7 515.6,1074.7 514.5,1075.7 511.7,1077.1 504.7,1079.1 496.0,1082.7 491.7,1083.8"/><path d="M562.7,1084.9 556.7,1085.5 550.7,1084.9 530.7,1078.7 528.7,1077.6 526.8,1075.7 526.0,1073.7 526.2,1070.7 528.2,1067.7 531.7,1065.8 541.7,1063.9 550.7,1061.5 558.7,1061.0 562.7,1061.5 566.8,1062.7 570.8,1064.7 574.1,1067.7 575.8,1070.7 576.0,1074.7 574.7,1077.9 571.7,1081.0 567.7,1083.3 562.7,1084.9"/><path d="M486.7,1083.7 480.7,1083.3 475.7,1082.0 471.0,1079.7 467.7,1076.7 466.0,1073.7 465.6,1069.7 466.7,1066.7 469.2,1063.7 473.7,1060.8 478.7,1059.1 483.7,1058.3 489.7,1058.5 495.7,1059.9 504.7,1064.1 510.7,1066.1 513.4,1067.7 514.9,1069.7 515.2,1071.7 514.6,1073.7 511.7,1076.1 502.7,1079.1 494.7,1082.4 486.7,1083.7"/><path d="M556.7,1084.7 549.3,1083.7 530.7,1077.7 529.2,1076.7 527.8,1074.7 527.5,1072.7 528.2,1069.7 529.9,1067.7 532.7,1066.3 542.7,1064.5 553.7,1061.9 557.7,1061.7 562.7,1062.4 567.0,1063.7 570.5,1065.7 573.4,1068.7 574.8,1071.7 574.8,1074.7 573.4,1077.7 570.5,1080.7 567.0,1082.7 561.7,1084.2 556.7,1084.7"/><path d="M489.7,1082.8 484.7,1083.0 479.7,1082.4 474.7,1080.9 470.7,1078.4 468.1,1075.7 466.8,1072.7 467.0,1068.7 468.6,1065.7 471.9,1062.7 476.7,1060.4 482.7,1059.1 488.7,1059.1 495.7,1060.7 503.7,1064.5 509.8,1066.7 511.7,1067.8 513.3,1069.7 513.4,1072.7 512.0,1074.7 510.7,1075.5 502.7,1078.2 494.7,1081.6 489.7,1082.8"/><path d="M558.7,1083.7 554.7,1083.7 550.7,1083.1 542.7,1080.3 532.6,1077.7 530.7,1076.5 529.3,1074.7 528.9,1072.7 529.2,1070.7 530.7,1068.5 533.7,1066.8 543.7,1065.2 552.7,1062.9 559.7,1062.8 566.7,1064.7 569.9,1066.7 572.5,1069.7 573.5,1072.7 573.0,1075.7 571.0,1078.7 567.7,1081.2 563.7,1082.8 558.7,1083.7"/><path d="M490.7,1081.9 485.7,1082.3 479.9,1081.7 475.7,1080.4 471.7,1078.1 468.8,1074.7 467.8,1071.7 468.2,1068.7 469.7,1065.9 473.5,1062.7 477.7,1060.9 482.7,1059.8 487.7,1059.8 491.7,1060.3 496.0,1061.7 502.7,1065.1 509.4,1067.7 511.7,1069.7 512.0,1070.7 511.8,1072.7 509.9,1074.7 502.7,1077.3 495.0,1080.7 490.7,1081.9"/><path d="M557.7,1082.7 551.7,1082.2 542.7,1079.2 533.7,1077.2 531.7,1075.9 530.7,1074.7 530.2,1072.7 530.6,1070.7 532.1,1068.7 534.7,1067.4 544.7,1066.1 553.7,1063.9 559.7,1063.9 566.0,1065.7 569.0,1067.7 570.7,1069.7 571.8,1072.7 571.2,1075.7 569.0,1078.7 566.0,1080.7 562.7,1081.9 557.7,1082.7"/><path d="M491.7,1080.8 486.7,1081.5 481.7,1081.2 476.7,1079.8 473.7,1078.2 470.9,1075.7 469.3,1072.7 469.2,1069.7 470.6,1066.7 473.7,1063.8 477.7,1061.8 482.7,1060.7 487.7,1060.6 491.7,1061.2 495.7,1062.6 502.7,1066.2 507.7,1068.2 509.7,1069.7 510.3,1071.7 508.7,1073.9 491.7,1080.8"/><path d="M560.7,1080.9 553.7,1081.1 544.7,1078.2 535.3,1076.7 532.3,1074.7 531.8,1073.7 531.7,1071.7 532.7,1069.9 533.7,1069.0 536.7,1067.9 545.7,1067.3 554.7,1065.2 561.7,1065.7 564.7,1066.9 567.4,1068.7 568.9,1070.7 569.5,1073.7 568.7,1076.1 566.7,1078.3 564.4,1079.7 560.7,1080.9"/><path d="M491.7,1079.7 486.7,1080.5 482.7,1080.3 478.7,1079.4 475.0,1077.7 472.6,1075.7 470.9,1072.7 470.7,1070.3 471.6,1067.7 474.4,1064.7 478.4,1062.7 482.7,1061.7 487.7,1061.6 491.7,1062.3 495.4,1063.7 506.7,1069.5 507.8,1070.7 507.8,1071.7 507.2,1072.7 505.7,1073.6 491.7,1079.7"/><path d="M558.7,1078.7 554.4,1078.7 545.7,1076.1 536.7,1075.8 534.7,1074.9 533.7,1073.9 533.5,1071.7 535.2,1069.7 537.7,1069.0 546.7,1069.5 554.7,1067.7 559.7,1067.9 563.8,1069.7 565.4,1071.7 565.7,1073.7 564.8,1075.7 563.7,1076.8 561.7,1077.9 558.7,1078.7"/><path d="M489.7,1078.9 482.7,1079.0 478.7,1078.0 476.2,1076.7 474.0,1074.7 472.9,1072.7 472.7,1070.2 473.7,1067.7 475.7,1065.7 479.6,1063.7 483.7,1062.8 487.7,1062.8 491.7,1063.7 494.2,1064.7 502.8,1070.7 502.8,1071.7 501.8,1072.7 497.1,1075.7 493.4,1077.7 489.7,1078.9"/><path d="M539.7,1074.0 536.7,1073.7 536.0,1072.7 536.3,1071.7 538.7,1070.9 541.0,1071.7 541.4,1072.7 539.7,1074.0"/><path d="M489.7,1076.8 483.7,1077.2 479.0,1075.7 477.6,1074.7 476.1,1072.7 475.7,1070.7 476.4,1068.7 479.7,1066.0 483.7,1064.8 488.7,1065.0 493.2,1066.7 496.3,1069.7 496.6,1071.7 494.1,1074.7 489.7,1076.8"/></g>
<g fill="#555"><rect x="516.7" y="1051.0" width="1" height="1"/><rect x="511.7" y="1042.1" width="1" height="1"/><rect x="528.6" y="1094.4" width="1" height="1"/><rect x="455.7" y="1038.8" width="1" height="1"/><rect x="584.9" y="1106.7" width="1" height="1"/><rect x="531.5" y="1096.6" width="1" height="1"/><rect x="603.1" y="1027.6" width="1" height="1"/><rect x="454.1" y="1047.5" width="1" height="1"/><rect x="615.7" y="1008.2" width="1" height="1"/><rect x="522.6" y="1092.6" width="1" height="1"/><rect x="546.3" y="1097.1" width="1" height="1"/><rect x="600.9" y="1081.4" width="1" height="1"/><rect x="458.9" y="1094.6" width="1" height="1"/><rect x="575.7" y="1094.9" width="1" height="1"/><rect x="612.3" y="1095.9" width="1" height="1"/><rect x="459.6" y="1103.8" width="1" height="1"/><rect x="483.1" y="1045.7" width="1" height="1"/><rect x="597.8" y="977.4" width="1" height="1"/><rect x="457.4" y="1088.4" width="1" height="1"/><rect x="485.0" y="1120.0" width="1" height="1"/><rect x="593.4" y="1099.6" width="1" height="1"/><rect x="596.8" y="1085.5" width="1" height="1"/><rect x="503.4" y="1041.1" width="1" height="1"/><rect x="525.2" y="1043.6" width="1" height="1"/><rect x="538.3" y="1121.6" width="1" height="1"/><rect x="503.3" y="1044.1" width="1" height="1"/><rect x="455.9" y="1043.8" width="1" height="1"/><rect x="590.7" y="1039.5" width="1" height="1"/><rect x="609.6" y="1012.5" width="1" height="1"/><rect x="540.9" y="1104.6" width="1" height="1"/><rect x="616.4" y="1070.0" width="1" height="1"/><rect x="516.7" y="1040.3" width="1" height="1"/><rect x="542.6" y="1123.1" width="1" height="1"/><rect x="563.4" y="1105.6" width="1" height="1"/><rect x="486.1" y="1120.8" width="1" height="1"/><rect x="492.5" y="1117.1" width="1" height="1"/><rect x="488.8" y="1046.8" width="1" height="1"/><rect x="459.1" y="1122.9" width="1" height="1"/><rect x="462.7" y="1039.8" width="1" height="1"/><rect x="532.0" y="1116.3" width="1" height="1"/><rect x="473.4" y="1037.1" width="1" height="1"/><rect x="490.6" y="1047.3" width="1" height="1"/><rect x="477.3" y="1037.1" width="1" height="1"/><rect x="591.8" y="1056.1" width="1" height="1"/><rect x="473.9" y="977.2" width="1" height="1"/><rect x="484.9" y="1109.2" width="1" height="1"/><rect x="498.9" y="1101.0" width="1" height="1"/><rect x="472.7" y="1045.9" width="1" height="1"/><rect x="449.5" y="1101.5" width="1" height="1"/><rect x="439.1" y="1045.1" width="1" height="1"/><rect x="571.7" y="978.0" width="1" height="1"/><rect x="527.4" y="1008.4" width="1" height="1"/><rect x="496.9" y="990.5" width="1" height="1"/><rect x="461.5" y="1098.8" width="1" height="1"/><rect x="539.4" y="1102.1" width="1" height="1"/><rect x="615.8" y="1040.4" width="1" height="1"/><rect x="507.0" y="1095.5" width="1" height="1"/><rect x="531.3" y="1103.1" width="1" height="1"/><rect x="516.8" y="1023.1" width="1" height="1"/><rect x="470.5" y="1022.7" width="1" height="1"/></g>
<rect x="434.7" y="944.7" width="185.5" height="184.2" fill="none" stroke="#9a9a9a" stroke-width="1.9"/>
<line x1="524" y1="944.7" x2="524" y2="1128.9" stroke="#3a3a3a" stroke-width="1.7"/>
<line x1="434.7" y1="1051.2" x2="620.2" y2="1051.2" stroke="#3a3a3a" stroke-width="1.7"/>
<text transform="translate(438.05,983.65) scale(0.9750,1)" font-size="26.600">6.03</text>
<text transform="translate(541.60,983.65) scale(0.9750,1)" font-size="26.600">10.7</text>
<text transform="translate(438.05,1107.70) scale(0.9750,1)" font-size="26.600">47.1</text>
<text transform="translate(541.60,1107.45) scale(0.9750,1)" font-size="26.600">36.2</text>
<g fill="none" stroke="#777" stroke-width="0.8"><path d="M689.2,1030.8 686.2,1030.9 683.2,1030.3 681.2,1029.4 679.1,1027.7 677.9,1025.7 677.6,1022.7 678.4,1020.7 680.2,1018.7 684.2,1016.8 688.2,1016.5 692.2,1017.5 695.3,1019.7 696.8,1022.7 696.8,1024.7 696.0,1026.7 693.2,1029.4 689.2,1030.8"/><path d="M690.2,1094.8 679.2,1095.6 668.2,1095.1 657.2,1092.9 647.2,1089.2 643.2,1086.9 639.2,1083.9 634.9,1078.7 633.6,1075.7 633.1,1071.7 633.6,1068.7 634.8,1065.7 636.9,1062.7 639.9,1059.7 647.2,1055.0 657.2,1051.3 667.2,1049.3 678.2,1048.6 689.2,1049.3 699.2,1051.3 713.2,1055.6 723.2,1056.9 727.2,1056.3 735.2,1052.3 741.2,1050.3 747.2,1049.2 752.2,1049.0 757.2,1049.2 763.2,1050.3 769.2,1052.3 773.2,1054.4 777.2,1057.2 779.7,1059.7 781.9,1062.7 783.6,1066.7 784.2,1069.7 784.0,1073.7 782.7,1077.7 780.9,1080.7 778.2,1083.8 774.2,1087.0 770.2,1089.2 765.2,1091.1 755.2,1092.9 746.2,1092.6 739.2,1091.1 728.8,1086.7 724.2,1086.2 715.0,1087.7 699.2,1092.9 690.2,1094.8"/><path d="M681.2,1093.7 671.2,1093.5 662.2,1092.1 653.2,1089.4 645.2,1085.3 640.1,1080.7 637.2,1075.7 636.7,1072.7 636.9,1069.7 639.2,1064.7 643.2,1060.4 650.2,1056.1 658.2,1053.1 668.2,1051.0 678.2,1050.4 688.2,1051.0 697.2,1052.8 709.8,1056.7 724.2,1058.5 728.7,1057.7 735.2,1054.2 741.2,1052.0 747.2,1050.9 753.2,1050.6 758.2,1051.0 763.2,1052.0 771.2,1055.3 774.7,1057.7 777.8,1060.7 779.9,1063.7 781.5,1067.7 781.9,1071.7 781.4,1074.7 779.7,1078.7 777.5,1081.7 774.2,1084.7 770.2,1087.3 762.2,1090.2 754.2,1091.4 746.2,1091.0 739.2,1089.4 729.2,1085.0 725.2,1084.6 711.7,1086.7 693.2,1092.3 681.2,1093.7"/><path d="M688.2,1091.9 678.2,1092.5 668.2,1091.9 659.2,1090.0 650.2,1086.4 644.2,1082.2 640.6,1077.7 639.4,1074.7 639.1,1071.7 640.5,1066.7 644.5,1061.7 651.2,1057.3 659.2,1054.2 668.2,1052.3 678.2,1051.7 687.2,1052.2 696.2,1054.0 708.8,1057.7 724.2,1059.6 729.2,1058.8 736.2,1055.1 741.2,1053.2 746.2,1052.1 752.2,1051.7 757.2,1051.9 762.2,1052.9 770.2,1056.1 773.9,1058.7 776.9,1061.7 778.8,1064.7 779.9,1067.7 780.3,1070.7 779.8,1074.7 778.6,1077.7 776.6,1080.7 773.4,1083.7 770.2,1085.9 762.2,1089.1 754.2,1090.3 746.2,1089.9 739.2,1088.2 730.2,1084.1 725.2,1083.5 709.2,1086.1 696.2,1090.2 688.2,1091.9"/><path d="M688.2,1090.8 679.2,1091.5 669.2,1091.0 660.2,1089.1 652.2,1086.0 645.9,1081.7 642.0,1076.7 641.0,1071.7 642.5,1066.7 646.2,1062.2 652.2,1058.2 660.2,1055.1 669.2,1053.2 678.2,1052.7 687.2,1053.2 694.2,1054.6 707.2,1058.3 725.2,1060.5 729.4,1059.7 736.2,1056.1 741.2,1054.1 746.2,1052.9 752.2,1052.5 761.2,1053.6 769.2,1056.7 772.3,1058.7 775.5,1061.7 777.5,1064.7 778.7,1067.7 779.1,1070.7 778.8,1073.7 777.8,1076.7 776.0,1079.7 773.2,1082.6 770.2,1084.8 766.2,1086.8 762.2,1088.2 754.2,1089.5 746.2,1089.1 739.2,1087.2 730.2,1083.2 725.2,1082.6 707.2,1085.5 696.2,1089.1 688.2,1090.8"/><path d="M689.2,1089.7 680.2,1090.6 670.2,1090.2 661.2,1088.4 654.2,1085.8 648.2,1082.0 644.3,1077.7 643.3,1075.7 642.7,1072.7 643.0,1069.7 643.7,1067.7 645.6,1064.7 647.6,1062.7 653.2,1058.9 660.2,1056.1 669.2,1054.2 678.2,1053.6 687.2,1054.2 694.2,1055.5 705.2,1058.8 725.2,1061.3 730.2,1060.3 737.2,1056.5 742.2,1054.6 747.2,1053.5 752.2,1053.2 760.2,1054.1 768.2,1057.0 771.2,1058.9 774.2,1061.7 776.4,1064.7 777.6,1067.7 778.1,1070.7 777.8,1073.7 776.7,1076.7 774.8,1079.7 771.7,1082.7 768.2,1085.0 760.2,1087.9 752.2,1088.8 745.2,1088.1 739.2,1086.4 731.2,1082.6 726.2,1081.8 706.9,1084.7 695.2,1088.4 689.2,1089.7"/><path d="M682.2,1089.7 673.2,1089.7 665.2,1088.5 658.2,1086.5 652.2,1083.5 647.5,1079.7 644.9,1075.7 644.3,1073.7 644.3,1070.7 645.8,1066.7 649.4,1062.7 655.2,1059.0 662.2,1056.4 670.2,1054.9 678.2,1054.3 686.2,1054.9 693.2,1056.2 705.2,1059.6 725.2,1062.0 730.2,1061.1 737.2,1057.3 742.2,1055.3 747.2,1054.2 753.2,1053.9 758.2,1054.4 762.2,1055.3 769.2,1058.5 774.2,1063.0 775.9,1065.7 776.9,1068.7 777.1,1071.7 776.5,1074.7 773.7,1079.7 768.2,1084.1 764.2,1086.0 760.2,1087.2 753.2,1088.1 746.2,1087.6 740.2,1086.0 730.7,1081.7 725.2,1081.1 706.2,1084.1 692.2,1088.3 682.2,1089.7"/><path d="M684.2,1088.8 675.2,1089.0 667.2,1088.1 659.2,1085.9 653.2,1083.0 649.1,1079.7 646.4,1075.7 645.8,1073.7 645.7,1070.7 647.3,1066.7 651.1,1062.7 656.2,1059.6 663.2,1057.0 671.2,1055.5 679.2,1055.1 686.2,1055.6 692.2,1056.8 703.2,1059.9 725.2,1062.8 730.5,1061.7 738.2,1057.5 742.2,1056.0 747.2,1054.8 753.2,1054.5 761.2,1055.7 768.2,1058.7 773.2,1062.9 775.0,1065.7 776.0,1068.7 776.2,1071.7 775.7,1074.7 772.7,1079.7 767.2,1083.9 763.2,1085.7 759.2,1086.8 753.2,1087.5 746.2,1087.0 740.2,1085.3 731.2,1081.1 725.2,1080.3 704.4,1083.7 692.2,1087.4 684.2,1088.8"/><path d="M686.2,1087.8 678.2,1088.4 670.2,1087.8 662.2,1086.1 656.2,1083.6 651.7,1080.7 648.2,1076.5 647.2,1073.7 647.0,1071.7 648.2,1067.7 651.5,1063.7 656.2,1060.6 663.2,1057.8 671.2,1056.2 679.2,1055.8 686.2,1056.4 692.2,1057.6 703.2,1060.7 724.2,1063.5 730.2,1062.5 738.2,1058.2 743.2,1056.3 747.2,1055.4 752.2,1055.0 760.2,1056.0 767.2,1058.8 770.2,1060.9 772.9,1063.7 775.2,1068.7 775.4,1071.7 774.8,1074.7 773.3,1077.7 771.7,1079.7 766.2,1083.7 759.2,1086.2 753.2,1087.0 746.2,1086.4 740.2,1084.7 731.2,1080.4 725.2,1079.6 703.2,1083.2 692.2,1086.6 686.2,1087.8"/><path d="M688.2,1086.8 680.2,1087.6 672.2,1087.3 665.2,1086.1 658.3,1083.7 653.3,1080.7 649.7,1076.7 648.4,1072.7 649.1,1068.7 651.9,1064.7 657.2,1061.0 663.2,1058.6 671.2,1057.0 679.2,1056.5 686.2,1057.1 691.2,1058.1 701.2,1061.0 724.2,1064.3 728.2,1063.8 731.2,1062.8 739.2,1058.4 743.2,1056.9 747.2,1056.0 752.2,1055.6 760.2,1056.6 767.2,1059.5 772.0,1063.7 773.3,1065.7 774.4,1068.7 774.6,1071.7 774.0,1074.7 772.4,1077.7 770.7,1079.7 765.2,1083.6 758.2,1085.9 751.2,1086.4 745.2,1085.7 740.2,1084.1 731.2,1079.8 725.2,1078.8 702.2,1082.7 688.2,1086.8"/><path d="M683.2,1086.7 675.2,1086.9 668.2,1086.0 662.2,1084.4 656.5,1081.7 652.7,1078.7 650.2,1074.7 649.8,1070.7 651.0,1067.7 654.2,1064.1 659.2,1061.0 665.2,1058.9 672.2,1057.6 679.2,1057.3 686.2,1057.8 700.2,1061.5 711.2,1062.8 723.2,1065.2 727.2,1064.7 731.2,1063.5 739.2,1059.1 743.2,1057.4 747.2,1056.5 752.2,1056.1 759.2,1056.9 766.2,1059.6 771.1,1063.7 772.5,1065.7 773.6,1068.7 773.5,1073.7 772.2,1076.7 770.8,1078.7 768.2,1081.1 765.2,1082.9 758.2,1085.3 751.2,1085.9 745.2,1085.1 740.2,1083.4 731.2,1079.1 724.2,1078.0 721.2,1078.3 712.2,1080.6 701.2,1082.2 690.2,1085.6 683.2,1086.7"/><path d="M685.2,1085.8 678.2,1086.2 671.2,1085.8 665.2,1084.5 659.2,1082.2 655.2,1079.6 652.0,1075.7 651.1,1072.7 651.9,1068.7 655.1,1064.7 659.2,1062.0 665.2,1059.7 672.2,1058.3 679.2,1058.0 686.2,1058.6 699.2,1062.0 711.2,1063.5 720.2,1066.0 723.2,1066.2 731.2,1064.2 739.2,1059.7 743.2,1058.0 747.2,1057.0 752.2,1056.6 760.2,1057.7 766.2,1060.3 770.2,1063.7 771.7,1065.7 772.9,1068.7 773.1,1071.7 772.8,1073.7 771.4,1076.7 769.9,1078.7 765.2,1082.3 758.2,1084.8 752.2,1085.4 745.8,1084.7 741.2,1083.2 731.2,1078.4 723.2,1076.9 720.2,1077.4 712.2,1080.0 700.2,1081.7 690.5,1084.7 685.2,1085.8"/><path d="M755.2,1084.7 749.2,1084.7 744.2,1083.7 732.2,1078.1 722.2,1075.4 720.2,1075.8 712.2,1079.2 699.2,1081.1 686.9,1084.7 679.2,1085.5 671.2,1085.0 663.2,1083.0 657.1,1079.7 653.5,1075.7 652.7,1073.7 652.7,1070.7 654.7,1066.7 659.2,1063.1 664.8,1060.7 672.2,1059.1 679.2,1058.7 686.2,1059.4 698.2,1062.6 712.2,1064.4 719.2,1067.3 722.2,1067.7 731.2,1064.9 740.2,1059.8 744.2,1058.3 750.2,1057.2 756.2,1057.4 763.2,1059.4 768.2,1062.6 771.4,1066.7 772.1,1068.7 772.3,1071.7 771.6,1074.7 770.6,1076.7 767.2,1080.3 762.2,1083.0 755.2,1084.7"/><path d="M757.2,1083.9 750.2,1084.3 742.9,1082.7 734.2,1078.3 725.7,1074.7 723.2,1072.7 722.7,1071.7 722.9,1070.7 723.6,1069.7 726.6,1067.7 733.2,1064.7 740.2,1060.5 744.7,1058.7 749.2,1057.8 753.2,1057.7 758.2,1058.3 762.2,1059.6 766.1,1061.7 769.3,1064.7 771.3,1068.7 771.5,1072.7 769.7,1076.7 766.9,1079.7 762.2,1082.4 757.2,1083.9"/><path d="M687.2,1083.8 680.2,1084.6 674.2,1084.5 668.2,1083.5 662.6,1081.7 659.0,1079.7 655.7,1076.7 654.3,1073.7 654.1,1071.7 654.5,1069.7 655.6,1067.7 657.4,1065.7 663.2,1062.3 671.2,1060.1 679.2,1059.5 687.2,1060.4 698.2,1063.4 711.2,1065.0 713.4,1065.7 716.6,1067.7 718.8,1070.7 718.9,1072.7 717.8,1074.7 715.7,1076.7 713.2,1078.0 708.2,1079.4 698.2,1080.5 687.2,1083.8"/><path d="M754.2,1083.7 748.2,1083.5 741.9,1081.7 728.2,1074.7 726.1,1072.7 725.9,1070.7 727.4,1068.7 728.9,1067.7 741.1,1060.7 745.2,1059.1 749.2,1058.4 754.2,1058.3 758.2,1058.9 762.2,1060.2 766.4,1062.7 769.2,1065.8 770.7,1069.7 770.4,1073.7 768.1,1077.7 764.4,1080.7 759.8,1082.7 754.2,1083.7"/><path d="M681.2,1083.7 675.2,1083.7 670.2,1083.0 665.3,1081.7 661.1,1079.7 658.2,1077.4 656.3,1074.7 655.8,1071.7 656.7,1068.7 659.4,1065.7 664.8,1062.7 672.2,1060.8 679.2,1060.4 686.2,1061.2 697.2,1064.2 709.2,1065.3 713.0,1066.7 714.3,1067.7 715.6,1069.7 716.0,1072.7 715.4,1074.7 713.5,1076.7 711.7,1077.7 707.2,1078.8 697.2,1079.8 687.8,1082.7 681.2,1083.7"/><path d="M757.2,1082.8 750.2,1083.2 743.2,1081.6 730.3,1074.7 728.1,1072.7 727.9,1070.7 729.2,1068.8 730.8,1067.7 740.5,1061.7 745.2,1059.7 749.2,1058.9 753.2,1058.8 757.2,1059.2 761.2,1060.4 765.3,1062.7 768.3,1065.7 769.7,1068.7 769.8,1072.7 768.7,1075.7 766.1,1078.7 762.2,1081.1 757.2,1082.8"/><path d="M681.2,1082.7 675.2,1082.7 670.2,1082.0 665.9,1080.7 662.2,1078.8 659.6,1076.7 657.9,1073.7 657.8,1070.7 658.7,1068.7 661.7,1065.7 666.2,1063.4 673.1,1061.7 679.2,1061.4 686.2,1062.2 696.2,1065.0 708.2,1065.8 712.2,1067.6 713.7,1069.7 714.0,1072.7 713.4,1074.7 712.2,1076.1 710.2,1077.3 706.2,1078.3 696.2,1079.0 687.4,1081.7 681.2,1082.7"/><path d="M758.2,1081.9 754.2,1082.6 750.2,1082.6 743.2,1080.9 730.8,1073.7 730.0,1072.7 729.7,1070.7 730.2,1069.7 732.5,1067.7 740.2,1062.7 744.2,1060.7 748.2,1059.7 752.2,1059.3 756.2,1059.7 760.2,1060.7 764.1,1062.7 767.2,1065.5 768.8,1068.7 769.2,1071.7 768.3,1074.7 766.1,1077.7 762.2,1080.4 758.2,1081.9"/><path d="M685.2,1080.9 680.2,1081.6 675.2,1081.5 670.3,1080.7 666.2,1079.3 663.2,1077.5 660.6,1074.7 660.0,1072.7 660.5,1069.7 663.1,1066.7 666.7,1064.7 672.2,1063.1 678.2,1062.6 685.2,1063.3 695.2,1066.1 703.2,1066.0 707.2,1066.5 710.3,1067.7 712.0,1069.7 712.4,1071.7 712.1,1073.7 710.8,1075.7 709.1,1076.7 704.4,1077.7 694.2,1078.1 685.2,1080.9"/><path d="M756.2,1081.7 749.2,1081.9 743.2,1080.2 732.7,1073.7 731.8,1072.7 731.5,1070.7 733.0,1068.7 739.9,1063.7 746.2,1060.7 753.2,1060.0 757.2,1060.5 760.9,1061.7 764.3,1063.7 767.0,1066.7 768.2,1069.7 768.1,1072.7 766.7,1075.7 763.7,1078.7 760.2,1080.6 756.2,1081.7"/><path d="M682.2,1079.7 674.2,1079.7 667.5,1077.7 664.7,1075.7 663.3,1073.7 663.0,1071.7 663.8,1069.7 665.6,1067.7 669.3,1065.7 673.2,1064.6 679.2,1064.2 684.2,1064.8 693.2,1067.6 702.2,1066.9 706.2,1067.2 709.4,1068.7 710.6,1070.7 710.7,1072.7 710.2,1074.1 708.6,1075.7 707.2,1076.3 703.2,1076.9 693.2,1076.4 682.2,1079.7"/><path d="M757.2,1080.8 750.2,1081.3 743.9,1079.7 734.7,1073.7 733.3,1071.7 733.3,1070.7 734.8,1068.7 739.9,1064.7 745.5,1061.7 749.2,1060.8 753.2,1060.6 757.2,1061.2 760.2,1062.2 763.2,1063.9 765.9,1066.7 767.2,1069.7 767.2,1072.1 766.2,1074.9 763.7,1077.7 760.4,1079.7 757.2,1080.8"/><path d="M683.2,1075.7 678.2,1076.5 673.2,1075.7 670.2,1073.7 669.7,1071.7 671.2,1069.6 675.2,1068.0 679.2,1067.7 683.2,1068.5 685.6,1069.7 687.5,1071.7 687.4,1072.7 686.6,1073.7 683.2,1075.7"/><path d="M704.2,1075.8 700.8,1075.7 697.1,1074.7 693.8,1072.7 693.6,1071.7 695.8,1069.7 699.2,1068.4 703.2,1067.9 706.2,1068.4 708.3,1069.7 708.8,1070.7 709.0,1072.7 707.6,1074.7 704.2,1075.8"/><path d="M757.2,1080.0 753.2,1080.6 750.2,1080.5 744.2,1078.9 740.5,1076.7 736.7,1073.7 735.4,1071.7 735.4,1070.7 736.7,1068.7 740.1,1065.7 743.0,1063.7 746.2,1062.3 749.2,1061.6 753.2,1061.4 759.3,1062.7 762.8,1064.7 764.7,1066.7 765.8,1068.7 766.1,1071.7 765.2,1074.5 763.5,1076.7 760.6,1078.7 757.2,1080.0"/><path d="M705.2,1074.1 703.2,1074.5 700.2,1073.9 698.7,1072.7 698.5,1071.7 699.0,1070.7 700.6,1069.7 703.2,1069.3 705.2,1069.6 706.6,1070.7 706.9,1071.7 706.8,1072.7 705.2,1074.1"/><path d="M752.2,1079.7 748.2,1079.2 744.2,1077.8 741.0,1075.7 738.0,1072.7 737.6,1070.7 738.7,1068.7 741.9,1065.7 745.2,1063.7 750.2,1062.4 756.2,1062.7 761.2,1064.9 763.2,1066.7 764.4,1068.7 764.9,1070.7 764.6,1072.7 763.7,1074.7 762.2,1076.3 758.1,1078.7 752.2,1079.7"/><path d="M757.2,1077.7 751.2,1078.5 748.2,1078.0 745.2,1076.9 742.1,1074.7 740.5,1072.7 740.1,1071.7 740.4,1069.7 741.9,1067.7 744.2,1065.7 748.2,1064.0 753.2,1063.5 758.3,1064.7 760.2,1065.8 762.1,1067.7 763.0,1069.7 763.2,1071.7 762.5,1073.7 761.2,1075.3 757.2,1077.7"/><path d="M753.2,1076.8 748.2,1076.1 744.5,1073.7 743.3,1071.7 743.3,1070.7 745.1,1067.7 748.8,1065.7 752.2,1065.2 755.6,1065.7 759.2,1067.8 760.6,1070.7 759.6,1073.7 757.2,1075.7 753.2,1076.8"/></g>
<g fill="#555"><rect x="807.6" y="1031.9" width="1" height="1"/><rect x="662.5" y="1096.2" width="1" height="1"/><rect x="725.6" y="1047.9" width="1" height="1"/><rect x="645.4" y="1046.6" width="1" height="1"/><rect x="702.4" y="1029.8" width="1" height="1"/><rect x="801.3" y="1118.3" width="1" height="1"/><rect x="684.0" y="1048.1" width="1" height="1"/><rect x="635.8" y="1086.7" width="1" height="1"/><rect x="790.8" y="1027.6" width="1" height="1"/><rect x="698.6" y="1107.1" width="1" height="1"/><rect x="643.4" y="1107.2" width="1" height="1"/><rect x="768.2" y="1015.3" width="1" height="1"/><rect x="766.0" y="1106.8" width="1" height="1"/><rect x="662.8" y="1019.0" width="1" height="1"/><rect x="669.1" y="1099.1" width="1" height="1"/><rect x="744.2" y="1020.8" width="1" height="1"/><rect x="671.6" y="1103.4" width="1" height="1"/><rect x="701.5" y="1115.2" width="1" height="1"/><rect x="736.3" y="1051.1" width="1" height="1"/><rect x="641.3" y="1057.9" width="1" height="1"/><rect x="636.0" y="1028.8" width="1" height="1"/><rect x="719.4" y="1113.2" width="1" height="1"/><rect x="741.0" y="1021.5" width="1" height="1"/><rect x="705.3" y="1037.1" width="1" height="1"/><rect x="633.7" y="1090.4" width="1" height="1"/><rect x="742.2" y="1113.9" width="1" height="1"/><rect x="693.9" y="1102.0" width="1" height="1"/><rect x="701.6" y="1049.5" width="1" height="1"/><rect x="704.3" y="1031.0" width="1" height="1"/><rect x="724.1" y="1045.3" width="1" height="1"/><rect x="721.1" y="1057.4" width="1" height="1"/><rect x="720.0" y="1043.3" width="1" height="1"/><rect x="678.0" y="1040.9" width="1" height="1"/><rect x="634.9" y="1096.2" width="1" height="1"/><rect x="710.8" y="1109.9" width="1" height="1"/><rect x="706.9" y="1122.1" width="1" height="1"/><rect x="709.0" y="1048.0" width="1" height="1"/><rect x="649.5" y="1051.5" width="1" height="1"/><rect x="720.2" y="1099.2" width="1" height="1"/><rect x="700.6" y="1020.4" width="1" height="1"/><rect x="728.6" y="988.1" width="1" height="1"/><rect x="734.1" y="1039.5" width="1" height="1"/><rect x="752.9" y="1035.5" width="1" height="1"/><rect x="769.9" y="990.0" width="1" height="1"/><rect x="749.9" y="1004.6" width="1" height="1"/><rect x="755.4" y="1029.9" width="1" height="1"/><rect x="733.2" y="1040.3" width="1" height="1"/><rect x="756.8" y="1006.6" width="1" height="1"/><rect x="770.1" y="1001.3" width="1" height="1"/><rect x="770.9" y="1009.7" width="1" height="1"/><rect x="756.9" y="996.0" width="1" height="1"/><rect x="740.4" y="1036.4" width="1" height="1"/><rect x="762.8" y="1010.0" width="1" height="1"/><rect x="774.7" y="1039.4" width="1" height="1"/><rect x="737.7" y="1044.6" width="1" height="1"/><rect x="729.0" y="1021.5" width="1" height="1"/><rect x="744.0" y="999.8" width="1" height="1"/><rect x="757.9" y="1021.0" width="1" height="1"/><rect x="754.4" y="1027.5" width="1" height="1"/><rect x="785.2" y="994.8" width="1" height="1"/><rect x="742.5" y="1021.3" width="1" height="1"/><rect x="752.8" y="1003.6" width="1" height="1"/><rect x="758.5" y="1026.5" width="1" height="1"/><rect x="782.7" y="1041.2" width="1" height="1"/><rect x="777.4" y="1005.5" width="1" height="1"/><rect x="781.2" y="1027.3" width="1" height="1"/><rect x="738.7" y="1041.9" width="1" height="1"/><rect x="743.0" y="1025.6" width="1" height="1"/><rect x="769.9" y="1039.2" width="1" height="1"/><rect x="768.2" y="1043.7" width="1" height="1"/><rect x="731.8" y="986.9" width="1" height="1"/><rect x="739.9" y="1019.2" width="1" height="1"/><rect x="753.6" y="989.7" width="1" height="1"/><rect x="740.3" y="1019.5" width="1" height="1"/><rect x="752.3" y="1030.5" width="1" height="1"/><rect x="756.2" y="1037.4" width="1" height="1"/><rect x="773.7" y="1014.4" width="1" height="1"/><rect x="749.7" y="997.5" width="1" height="1"/><rect x="745.7" y="1006.0" width="1" height="1"/><rect x="749.9" y="995.4" width="1" height="1"/></g>
<rect x="628.2" y="944.7" width="186" height="184.2" fill="none" stroke="#9a9a9a" stroke-width="1.9"/>
<line x1="717.3" y1="944.7" x2="717.3" y2="1128.9" stroke="#3a3a3a" stroke-width="1.7"/>
<line x1="628.2" y1="1051.2" x2="814.2" y2="1051.2" stroke="#3a3a3a" stroke-width="1.7"/>
<text transform="translate(631.55,983.65) scale(0.9750,1)" font-size="26.600">3.16</text>
<text transform="translate(734.65,983.65) scale(0.9750,1)" font-size="26.600">4.43</text>
<text transform="translate(631.55,1107.45) scale(0.9750,1)" font-size="26.600">46.6</text>
<text transform="translate(734.65,1107.45) scale(0.9750,1)" font-size="26.600">45.8</text>
<g fill="none" stroke="#777" stroke-width="0.8"><path d="M111.5,1228.8 99.5,1229.3 88.5,1227.9 82.5,1226.2 77.5,1224.2 72.5,1221.5 68.6,1218.7 63.2,1212.7 61.1,1208.7 60.1,1204.7 60.0,1200.7 60.9,1196.7 62.7,1192.7 64.8,1189.7 69.5,1185.2 75.5,1181.4 82.5,1178.4 89.5,1176.5 98.5,1175.3 106.5,1175.3 114.5,1176.3 125.5,1178.8 131.5,1179.0 136.4,1177.7 144.5,1173.3 149.5,1171.4 154.5,1170.2 160.5,1169.7 166.5,1170.0 171.5,1170.9 175.5,1172.1 180.5,1174.3 184.5,1176.8 188.5,1180.2 191.5,1183.7 193.9,1187.7 195.8,1192.7 196.5,1197.7 196.2,1202.7 194.8,1207.7 192.2,1212.7 189.0,1216.7 184.5,1220.6 179.5,1223.6 171.5,1226.5 166.5,1227.4 161.5,1227.7 153.5,1227.0 141.5,1223.6 136.5,1223.4 128.5,1224.7 118.5,1227.4 111.5,1228.8"/><path d="M105.5,1226.7 94.5,1226.3 84.5,1224.0 76.5,1220.4 72.6,1217.7 69.3,1214.7 67.0,1211.7 65.0,1207.7 64.1,1203.7 64.1,1200.7 65.0,1196.7 66.5,1193.7 68.6,1190.7 71.5,1187.8 75.5,1184.8 80.5,1182.2 86.5,1180.0 93.5,1178.5 100.5,1177.8 107.5,1178.0 124.5,1181.0 131.5,1181.3 137.5,1179.8 146.5,1175.2 151.5,1173.4 157.5,1172.3 162.5,1172.1 171.5,1173.4 176.5,1175.2 180.5,1177.3 187.1,1182.7 190.1,1186.7 191.7,1189.7 193.0,1193.7 193.6,1198.7 193.0,1203.7 191.2,1208.7 188.8,1212.7 185.5,1216.3 181.5,1219.5 176.5,1222.2 169.5,1224.4 160.5,1225.3 153.5,1224.5 142.5,1221.5 136.5,1221.3 126.5,1222.7 112.5,1226.0 105.5,1226.7"/><path d="M108.5,1224.7 98.5,1224.9 88.5,1223.3 80.5,1220.3 73.5,1215.6 70.7,1212.7 68.7,1209.7 67.4,1206.7 66.8,1203.7 66.9,1199.7 67.8,1196.7 69.4,1193.7 71.7,1190.7 75.5,1187.4 80.5,1184.3 86.5,1181.9 92.5,1180.4 99.5,1179.6 105.5,1179.6 111.5,1180.2 123.5,1182.5 131.6,1182.7 137.5,1181.4 146.5,1177.0 151.5,1175.1 156.5,1174.0 161.5,1173.7 170.5,1174.8 178.5,1178.0 182.5,1180.7 185.7,1183.7 188.0,1186.7 190.1,1190.7 191.3,1194.7 191.7,1199.7 190.8,1204.7 189.2,1208.7 186.5,1212.7 183.5,1215.8 179.5,1218.8 174.5,1221.3 167.5,1223.2 159.5,1223.7 154.5,1223.0 143.5,1220.2 137.5,1219.8 124.5,1221.5 108.5,1224.7"/><path d="M112.5,1222.7 103.5,1223.7 93.5,1222.9 84.5,1220.3 77.5,1216.6 72.3,1211.7 70.5,1208.7 69.3,1205.7 68.9,1202.7 69.2,1199.7 70.1,1196.7 71.8,1193.7 75.4,1189.7 79.6,1186.7 85.5,1183.9 91.5,1182.1 97.5,1181.2 104.5,1181.0 122.5,1183.6 132.5,1183.7 138.5,1182.3 151.5,1176.4 156.5,1175.3 160.5,1174.9 165.5,1175.1 169.5,1175.9 177.5,1179.0 183.8,1183.7 186.3,1186.7 188.5,1190.7 189.8,1194.7 190.2,1199.7 189.6,1203.7 188.1,1207.7 185.5,1211.7 182.5,1214.9 178.5,1217.9 174.5,1219.9 167.5,1222.0 160.5,1222.5 154.5,1221.8 143.5,1219.0 137.5,1218.7 122.5,1220.6 112.5,1222.7"/><path d="M110.5,1221.8 101.5,1222.4 92.5,1221.4 84.5,1218.8 78.5,1215.4 73.8,1210.7 72.0,1207.7 71.1,1204.7 70.9,1201.7 71.4,1198.7 73.9,1193.7 77.5,1190.0 81.5,1187.3 86.5,1184.9 92.5,1183.2 98.5,1182.3 104.5,1182.2 121.5,1184.6 132.5,1184.7 139.5,1183.0 152.5,1177.2 160.5,1176.0 165.5,1176.2 169.5,1177.0 173.5,1178.3 177.5,1180.2 183.5,1185.1 186.1,1188.7 187.6,1191.7 188.7,1195.7 188.9,1199.7 188.3,1203.7 186.7,1207.7 184.5,1211.1 181.5,1214.2 177.5,1217.2 173.5,1219.1 167.5,1220.9 160.5,1221.4 155.5,1220.9 144.5,1218.2 137.5,1217.8 121.5,1219.6 110.5,1221.8"/><path d="M109.5,1220.7 100.5,1221.2 92.5,1220.2 85.1,1217.7 78.7,1213.7 74.5,1208.7 72.8,1203.7 73.2,1198.7 75.9,1193.7 78.9,1190.7 83.5,1187.7 88.5,1185.6 93.5,1184.2 98.5,1183.5 104.5,1183.4 120.5,1185.5 132.5,1185.5 140.2,1183.7 152.5,1178.2 156.5,1177.3 161.5,1176.9 166.5,1177.3 170.5,1178.2 177.5,1181.4 180.5,1183.7 183.4,1186.7 186.8,1192.7 187.7,1196.7 187.7,1200.7 186.8,1204.7 185.4,1207.7 183.4,1210.7 180.5,1213.7 176.5,1216.6 172.5,1218.5 166.5,1220.1 160.5,1220.5 155.5,1219.9 144.5,1217.3 137.5,1217.0 120.5,1218.7 109.5,1220.7"/><path d="M108.5,1219.7 100.5,1220.1 92.5,1218.9 85.5,1216.5 79.8,1212.7 76.4,1208.7 74.6,1203.7 75.1,1198.7 78.0,1193.7 81.2,1190.7 84.5,1188.7 89.5,1186.5 94.5,1185.2 103.5,1184.5 118.5,1186.3 132.5,1186.3 139.8,1184.7 153.5,1178.9 161.5,1177.8 169.5,1178.9 176.5,1181.9 182.1,1186.7 184.2,1189.7 185.6,1192.7 186.6,1196.7 186.6,1200.7 185.6,1204.7 184.2,1207.7 182.1,1210.7 179.0,1213.7 175.5,1216.1 171.5,1217.9 165.5,1219.3 159.5,1219.5 145.5,1216.7 137.5,1216.2 118.5,1218.0 108.5,1219.7"/><path d="M162.5,1218.7 157.5,1218.5 146.5,1216.0 139.5,1215.4 117.5,1217.1 104.5,1218.9 98.5,1218.8 93.5,1217.9 85.5,1215.0 79.9,1210.7 78.3,1208.7 76.9,1205.7 76.3,1202.7 76.6,1199.7 78.5,1195.7 82.3,1191.7 87.4,1188.7 93.5,1186.7 102.5,1185.6 117.5,1187.1 132.5,1187.0 140.5,1185.3 150.5,1180.8 155.5,1179.3 161.5,1178.7 167.5,1179.3 171.5,1180.5 175.5,1182.4 178.8,1184.7 181.5,1187.5 183.7,1190.7 184.9,1193.7 185.5,1196.7 185.5,1200.7 184.6,1204.7 183.1,1207.7 178.5,1212.9 175.5,1215.0 171.5,1216.9 167.5,1218.1 162.5,1218.7"/><path d="M164.5,1217.7 158.5,1217.7 146.5,1215.3 138.5,1214.7 115.5,1216.3 104.5,1217.7 95.5,1217.1 88.0,1214.7 82.1,1210.7 80.4,1208.7 78.8,1205.7 78.3,1203.7 78.3,1200.7 79.9,1196.7 83.5,1192.7 88.4,1189.7 94.5,1187.7 102.5,1186.8 116.5,1188.1 132.5,1187.8 141.5,1185.7 151.5,1181.4 155.5,1180.2 160.5,1179.5 166.5,1180.0 173.5,1182.3 176.5,1184.1 179.6,1186.7 182.0,1189.7 183.5,1192.7 184.4,1195.7 184.6,1199.7 183.1,1205.7 181.3,1208.7 178.5,1211.7 175.5,1214.0 172.2,1215.7 168.5,1217.0 164.5,1217.7"/><path d="M165.5,1216.8 158.5,1216.9 147.4,1214.7 138.5,1214.0 124.5,1215.1 114.5,1215.2 103.5,1216.4 95.5,1215.7 89.4,1213.7 85.9,1211.7 83.6,1209.7 81.0,1205.7 80.4,1203.7 80.4,1200.7 82.1,1196.7 84.9,1193.7 89.8,1190.7 95.5,1188.9 102.5,1188.2 114.5,1189.1 132.5,1188.5 141.5,1186.4 155.5,1181.0 160.5,1180.4 166.5,1180.8 173.5,1183.3 178.5,1186.9 180.8,1189.7 182.4,1192.7 183.4,1195.7 183.7,1198.7 183.4,1201.7 182.4,1204.7 180.8,1207.7 178.5,1210.5 175.8,1212.7 172.5,1214.6 165.5,1216.8"/><path d="M166.5,1215.7 159.5,1216.2 147.5,1214.0 137.5,1213.2 123.5,1214.3 112.5,1214.0 102.5,1214.9 97.5,1214.5 91.4,1212.7 86.5,1209.7 83.5,1205.7 82.7,1202.7 82.9,1200.7 84.1,1197.7 86.7,1194.7 90.5,1192.3 95.5,1190.5 101.5,1189.7 112.5,1190.3 132.5,1189.3 142.5,1186.9 152.5,1182.8 156.3,1181.7 161.5,1181.2 166.5,1181.7 172.5,1183.7 178.0,1187.7 181.4,1192.7 182.3,1195.7 182.7,1198.7 182.3,1201.7 181.4,1204.7 178.0,1209.7 172.5,1213.7 166.5,1215.7"/><path d="M166.5,1214.8 159.5,1215.3 148.5,1213.4 137.5,1212.5 123.5,1213.5 111.5,1212.5 102.5,1212.9 98.5,1212.6 92.5,1210.8 88.5,1208.0 86.3,1204.7 86.1,1200.7 87.5,1197.7 89.5,1195.7 92.8,1193.7 96.5,1192.4 101.5,1191.7 110.5,1191.9 121.5,1190.5 132.5,1190.0 143.5,1187.3 155.8,1182.7 160.5,1182.1 165.5,1182.4 171.5,1184.2 176.6,1187.7 180.3,1192.7 181.3,1195.7 181.6,1198.7 180.7,1203.7 177.5,1208.8 172.5,1212.7 166.5,1214.8"/><path d="M166.5,1213.9 159.5,1214.4 149.5,1212.8 136.5,1211.6 124.5,1212.7 118.5,1212.3 108.5,1209.7 100.5,1209.2 96.5,1208.2 92.9,1205.7 91.7,1203.7 91.5,1201.7 92.3,1199.7 94.2,1197.7 98.7,1195.7 107.5,1194.8 119.5,1191.6 134.5,1190.5 144.6,1187.7 157.5,1183.3 161.5,1182.9 165.5,1183.3 171.5,1185.3 176.2,1188.7 179.6,1193.7 180.5,1198.7 179.6,1203.7 176.5,1208.4 172.3,1211.7 166.5,1213.9"/><path d="M166.5,1212.9 159.5,1213.4 150.5,1212.1 135.5,1210.7 124.5,1211.8 119.5,1211.4 114.4,1209.7 111.5,1207.7 109.5,1204.7 109.2,1200.7 110.3,1197.7 112.2,1195.7 115.5,1193.8 118.5,1192.8 122.5,1192.1 130.5,1191.9 134.5,1191.3 157.5,1184.3 162.5,1183.9 166.5,1184.5 171.5,1186.4 175.7,1189.7 178.3,1193.7 179.4,1198.7 178.3,1203.7 175.7,1207.7 171.5,1211.0 166.5,1212.9"/><path d="M166.5,1211.8 159.5,1212.4 134.5,1209.7 124.5,1210.9 120.5,1210.6 116.5,1209.2 113.5,1206.7 112.2,1203.7 112.1,1200.7 112.6,1198.7 114.0,1196.7 116.5,1194.8 119.1,1193.7 122.5,1193.1 130.5,1192.9 133.5,1192.5 157.5,1185.4 161.5,1185.0 165.5,1185.4 170.5,1187.2 174.5,1190.2 177.4,1194.7 178.1,1198.7 177.4,1202.7 175.0,1206.7 171.5,1209.7 166.5,1211.8"/><path d="M165.5,1210.8 160.5,1211.2 144.5,1210.1 133.5,1208.5 125.5,1209.7 121.5,1209.6 118.5,1208.7 115.8,1206.7 114.2,1203.7 114.1,1200.7 114.8,1198.7 116.3,1196.7 120.5,1194.5 132.5,1193.8 141.5,1190.9 158.5,1186.4 162.5,1186.2 165.5,1186.6 170.5,1188.6 173.5,1191.1 175.8,1194.7 176.6,1198.7 175.8,1202.7 173.5,1206.3 170.5,1208.8 165.5,1210.8"/><path d="M162.5,1209.7 144.5,1209.4 132.5,1206.9 125.5,1208.4 121.5,1208.3 119.5,1207.6 117.1,1205.7 116.1,1203.7 116.0,1200.7 117.5,1197.7 119.5,1196.3 121.5,1195.5 131.5,1195.4 143.5,1191.2 158.5,1187.9 164.5,1188.0 169.2,1189.7 172.5,1192.5 174.3,1195.7 174.7,1199.7 173.4,1203.7 170.7,1206.7 167.1,1208.7 162.5,1209.7"/><path d="M155.5,1207.7 147.5,1208.6 143.5,1208.4 140.1,1207.7 133.5,1205.0 131.5,1204.6 125.5,1206.7 122.5,1206.9 120.5,1206.2 118.7,1204.7 117.9,1202.7 118.0,1200.7 119.1,1198.7 121.5,1197.2 124.5,1196.9 129.5,1197.7 131.5,1197.6 139.5,1193.3 145.5,1191.7 161.5,1189.8 166.1,1190.7 169.4,1192.7 171.5,1195.5 172.1,1197.7 171.9,1200.7 170.4,1203.7 168.1,1205.7 164.5,1207.2 155.5,1207.7"/><path d="M151.5,1206.8 145.5,1207.6 142.5,1207.3 139.5,1206.3 136.8,1204.7 134.9,1202.7 134.2,1200.7 134.7,1198.7 136.2,1196.7 139.0,1194.7 141.5,1193.6 145.5,1192.7 152.5,1193.2 156.5,1194.3 159.2,1195.7 160.1,1196.7 160.6,1198.7 160.3,1201.7 156.5,1204.7 151.5,1206.8"/><path d="M124.5,1204.1 122.5,1204.2 121.5,1203.7 120.8,1202.7 121.0,1200.7 122.2,1199.7 124.5,1199.6 126.0,1200.7 126.1,1202.7 124.5,1204.1"/><path d="M149.5,1205.9 144.5,1206.5 141.5,1205.8 139.4,1204.7 137.0,1201.7 136.8,1199.7 137.6,1197.7 140.5,1195.2 144.5,1194.0 148.5,1194.1 152.1,1195.7 154.0,1198.7 154.0,1201.7 152.9,1203.7 149.5,1205.9"/><path d="M147.5,1205.0 143.5,1205.0 141.5,1204.2 139.8,1202.7 139.0,1199.7 139.8,1197.7 140.9,1196.7 143.5,1195.5 146.5,1195.3 148.5,1195.9 150.5,1197.6 151.3,1199.7 151.2,1201.7 149.8,1203.7 147.5,1205.0"/><path d="M147.5,1202.7 145.5,1203.5 142.7,1202.7 141.4,1200.7 141.8,1198.7 142.8,1197.7 144.5,1197.1 147.2,1197.7 148.7,1199.7 148.4,1201.7 147.5,1202.7"/></g>
<g fill="#555"><rect x="53.8" y="1218.4" width="1" height="1"/><rect x="189.8" y="1167.5" width="1" height="1"/><rect x="196.1" y="1141.3" width="1" height="1"/><rect x="201.4" y="1187.9" width="1" height="1"/><rect x="221.8" y="1230.1" width="1" height="1"/><rect x="84.3" y="1170.8" width="1" height="1"/><rect x="206.7" y="1204.1" width="1" height="1"/><rect x="198.1" y="1182.0" width="1" height="1"/><rect x="45.7" y="1249.3" width="1" height="1"/><rect x="210.3" y="1189.4" width="1" height="1"/><rect x="215.1" y="1201.4" width="1" height="1"/><rect x="145.2" y="1248.8" width="1" height="1"/><rect x="149.7" y="1144.9" width="1" height="1"/><rect x="133.8" y="1162.3" width="1" height="1"/><rect x="190.2" y="1228.4" width="1" height="1"/><rect x="96.0" y="1261.8" width="1" height="1"/><rect x="107.9" y="1162.6" width="1" height="1"/><rect x="156.7" y="1232.8" width="1" height="1"/><rect x="205.9" y="1187.0" width="1" height="1"/><rect x="219.3" y="1192.9" width="1" height="1"/><rect x="123.9" y="1253.7" width="1" height="1"/><rect x="204.6" y="1186.0" width="1" height="1"/><rect x="190.6" y="1252.0" width="1" height="1"/><rect x="190.8" y="1217.0" width="1" height="1"/><rect x="196.7" y="1197.0" width="1" height="1"/><rect x="195.9" y="1191.1" width="1" height="1"/><rect x="108.2" y="1162.1" width="1" height="1"/><rect x="213.7" y="1237.1" width="1" height="1"/><rect x="161.2" y="1169.9" width="1" height="1"/><rect x="44.2" y="1178.2" width="1" height="1"/><rect x="72.8" y="1232.2" width="1" height="1"/><rect x="162.4" y="1262.7" width="1" height="1"/><rect x="105.0" y="1243.0" width="1" height="1"/><rect x="126.4" y="1147.9" width="1" height="1"/><rect x="187.9" y="1172.1" width="1" height="1"/><rect x="218.6" y="1229.6" width="1" height="1"/><rect x="104.9" y="1231.6" width="1" height="1"/><rect x="126.9" y="1235.5" width="1" height="1"/><rect x="132.6" y="1170.0" width="1" height="1"/><rect x="65.1" y="1189.7" width="1" height="1"/><rect x="110.9" y="1156.2" width="1" height="1"/><rect x="141.8" y="1238.7" width="1" height="1"/><rect x="101.6" y="1173.4" width="1" height="1"/><rect x="78.5" y="1173.4" width="1" height="1"/><rect x="114.2" y="1170.0" width="1" height="1"/><rect x="181.6" y="1228.4" width="1" height="1"/><rect x="171.2" y="1170.1" width="1" height="1"/><rect x="143.1" y="1226.6" width="1" height="1"/><rect x="148.0" y="1159.7" width="1" height="1"/><rect x="191.3" y="1219.0" width="1" height="1"/><rect x="161.0" y="1164.6" width="1" height="1"/><rect x="179.1" y="1244.9" width="1" height="1"/><rect x="55.6" y="1212.1" width="1" height="1"/><rect x="169.1" y="1244.3" width="1" height="1"/><rect x="119.6" y="1229.5" width="1" height="1"/><rect x="96.1" y="1240.5" width="1" height="1"/><rect x="219.5" y="1144.9" width="1" height="1"/><rect x="71.0" y="1234.9" width="1" height="1"/><rect x="78.1" y="1233.7" width="1" height="1"/><rect x="47.8" y="1261.5" width="1" height="1"/><rect x="155.3" y="1241.0" width="1" height="1"/><rect x="170.3" y="1230.7" width="1" height="1"/><rect x="87.4" y="1161.7" width="1" height="1"/><rect x="214.5" y="1171.6" width="1" height="1"/><rect x="91.1" y="1150.7" width="1" height="1"/><rect x="144.5" y="1231.3" width="1" height="1"/><rect x="150.2" y="1159.5" width="1" height="1"/><rect x="91.8" y="1175.2" width="1" height="1"/><rect x="51.8" y="1175.7" width="1" height="1"/><rect x="45.8" y="1188.2" width="1" height="1"/><rect x="61.4" y="1210.0" width="1" height="1"/><rect x="73.6" y="1178.3" width="1" height="1"/><rect x="162.4" y="1235.2" width="1" height="1"/><rect x="81.2" y="1151.8" width="1" height="1"/><rect x="51.7" y="1204.0" width="1" height="1"/><rect x="154.3" y="1247.0" width="1" height="1"/><rect x="170.9" y="1238.7" width="1" height="1"/><rect x="101.9" y="1169.2" width="1" height="1"/><rect x="95.9" y="1169.8" width="1" height="1"/><rect x="162.8" y="1163.5" width="1" height="1"/><rect x="167.2" y="1283.8" width="1" height="1"/><rect x="117.4" y="1253.5" width="1" height="1"/><rect x="102.4" y="1254.1" width="1" height="1"/><rect x="146.8" y="1254.8" width="1" height="1"/><rect x="158.6" y="1280.6" width="1" height="1"/><rect x="135.7" y="1261.8" width="1" height="1"/><rect x="121.6" y="1262.2" width="1" height="1"/><rect x="84.8" y="1263.5" width="1" height="1"/><rect x="130.9" y="1235.6" width="1" height="1"/><rect x="198.9" y="1233.2" width="1" height="1"/><rect x="93.3" y="1260.7" width="1" height="1"/><rect x="56.0" y="1237.2" width="1" height="1"/><rect x="70.4" y="1233.3" width="1" height="1"/><rect x="119.0" y="1261.6" width="1" height="1"/><rect x="162.2" y="1272.2" width="1" height="1"/><rect x="165.0" y="1267.4" width="1" height="1"/><rect x="107.3" y="1279.0" width="1" height="1"/><rect x="106.6" y="1241.0" width="1" height="1"/><rect x="177.0" y="1271.8" width="1" height="1"/><rect x="131.3" y="1271.0" width="1" height="1"/><rect x="120.3" y="1228.6" width="1" height="1"/><rect x="127.9" y="1239.7" width="1" height="1"/><rect x="171.1" y="1265.9" width="1" height="1"/><rect x="95.2" y="1254.1" width="1" height="1"/><rect x="81.2" y="1255.4" width="1" height="1"/><rect x="142.7" y="1260.3" width="1" height="1"/><rect x="56.1" y="1247.1" width="1" height="1"/><rect x="141.3" y="1261.2" width="1" height="1"/><rect x="141.8" y="1240.1" width="1" height="1"/><rect x="130.3" y="1263.4" width="1" height="1"/><rect x="147.5" y="1241.8" width="1" height="1"/><rect x="130.0" y="1228.8" width="1" height="1"/><rect x="74.2" y="1266.7" width="1" height="1"/><rect x="93.8" y="1254.9" width="1" height="1"/><rect x="177.9" y="1277.4" width="1" height="1"/><rect x="120.1" y="1264.9" width="1" height="1"/><rect x="137.2" y="1263.6" width="1" height="1"/><rect x="115.3" y="1293.1" width="1" height="1"/><rect x="175.1" y="1252.4" width="1" height="1"/><rect x="89.2" y="1299.6" width="1" height="1"/><rect x="104.1" y="1280.7" width="1" height="1"/><rect x="190.3" y="1233.7" width="1" height="1"/><rect x="133.6" y="1246.8" width="1" height="1"/><rect x="141.5" y="1261.5" width="1" height="1"/><rect x="191.5" y="1267.4" width="1" height="1"/><rect x="123.1" y="1279.2" width="1" height="1"/><rect x="113.9" y="1246.4" width="1" height="1"/><rect x="201.8" y="1236.4" width="1" height="1"/><rect x="106.3" y="1255.4" width="1" height="1"/><rect x="160.4" y="1237.1" width="1" height="1"/><rect x="104.5" y="1246.2" width="1" height="1"/><rect x="89.1" y="1230.8" width="1" height="1"/><rect x="129.1" y="1307.2" width="1" height="1"/><rect x="149.2" y="1270.8" width="1" height="1"/><rect x="70.8" y="1253.9" width="1" height="1"/><rect x="82.0" y="1271.4" width="1" height="1"/><rect x="115.5" y="1255.2" width="1" height="1"/><rect x="120.3" y="1241.6" width="1" height="1"/><rect x="70.2" y="1267.2" width="1" height="1"/><rect x="75.0" y="1228.4" width="1" height="1"/><rect x="113.0" y="1238.9" width="1" height="1"/><rect x="132.6" y="1276.6" width="1" height="1"/><rect x="132.1" y="1258.7" width="1" height="1"/><rect x="124.3" y="1273.3" width="1" height="1"/><rect x="58.8" y="1262.5" width="1" height="1"/><rect x="123.6" y="1245.9" width="1" height="1"/><rect x="143.8" y="1278.6" width="1" height="1"/><rect x="192.0" y="1273.5" width="1" height="1"/><rect x="174.1" y="1256.6" width="1" height="1"/><rect x="73.2" y="1229.7" width="1" height="1"/><rect x="148.3" y="1275.5" width="1" height="1"/><rect x="97.8" y="1248.5" width="1" height="1"/><rect x="111.2" y="1290.0" width="1" height="1"/><rect x="199.9" y="1252.0" width="1" height="1"/><rect x="187.5" y="1242.9" width="1" height="1"/><rect x="156.9" y="1246.2" width="1" height="1"/><rect x="205.3" y="1261.7" width="1" height="1"/><rect x="176.0" y="1246.4" width="1" height="1"/><rect x="155.9" y="1276.2" width="1" height="1"/><rect x="102.3" y="1256.5" width="1" height="1"/><rect x="137.2" y="1275.6" width="1" height="1"/><rect x="127.2" y="1292.3" width="1" height="1"/><rect x="115.0" y="1241.1" width="1" height="1"/><rect x="95.3" y="1276.6" width="1" height="1"/><rect x="132.8" y="1236.5" width="1" height="1"/><rect x="113.6" y="1266.0" width="1" height="1"/><rect x="148.0" y="1237.5" width="1" height="1"/><rect x="155.5" y="1295.6" width="1" height="1"/><rect x="108.7" y="1270.8" width="1" height="1"/><rect x="145.1" y="1255.5" width="1" height="1"/><rect x="130.6" y="1241.7" width="1" height="1"/><rect x="113.4" y="1272.4" width="1" height="1"/><rect x="183.8" y="1249.8" width="1" height="1"/><rect x="65.9" y="1282.6" width="1" height="1"/><rect x="144.8" y="1269.6" width="1" height="1"/><rect x="130.1" y="1305.7" width="1" height="1"/><rect x="126.3" y="1265.9" width="1" height="1"/><rect x="58.8" y="1241.8" width="1" height="1"/><rect x="99.7" y="1253.9" width="1" height="1"/><rect x="135.9" y="1238.1" width="1" height="1"/><rect x="184.3" y="1231.1" width="1" height="1"/><rect x="107.9" y="1259.8" width="1" height="1"/><rect x="79.9" y="1267.1" width="1" height="1"/><rect x="145.9" y="1248.1" width="1" height="1"/><rect x="190.6" y="1256.4" width="1" height="1"/><rect x="133.6" y="1233.4" width="1" height="1"/><rect x="65.1" y="1240.7" width="1" height="1"/><rect x="112.4" y="1244.5" width="1" height="1"/><rect x="170.7" y="1242.1" width="1" height="1"/><rect x="105.7" y="1230.3" width="1" height="1"/><rect x="155.2" y="1245.5" width="1" height="1"/><rect x="164.7" y="1263.3" width="1" height="1"/><rect x="143.1" y="1281.8" width="1" height="1"/><rect x="117.0" y="1250.9" width="1" height="1"/><rect x="148.9" y="1264.0" width="1" height="1"/><rect x="115.2" y="1255.6" width="1" height="1"/><rect x="106.1" y="1270.4" width="1" height="1"/><rect x="156.5" y="1254.7" width="1" height="1"/><rect x="189.6" y="1220.7" width="1" height="1"/><rect x="115.6" y="1292.3" width="1" height="1"/><rect x="172.7" y="1266.7" width="1" height="1"/><rect x="81.9" y="1271.7" width="1" height="1"/><rect x="118.5" y="1244.0" width="1" height="1"/><rect x="85.3" y="1246.6" width="1" height="1"/><rect x="88.6" y="1256.0" width="1" height="1"/><rect x="123.0" y="1271.1" width="1" height="1"/><rect x="77.5" y="1249.2" width="1" height="1"/><rect x="177.7" y="1273.4" width="1" height="1"/><rect x="101.3" y="1275.4" width="1" height="1"/><rect x="83.1" y="1277.0" width="1" height="1"/><rect x="110.4" y="1271.6" width="1" height="1"/><rect x="145.7" y="1248.5" width="1" height="1"/><rect x="135.4" y="1231.1" width="1" height="1"/><rect x="121.3" y="1278.6" width="1" height="1"/><rect x="127.0" y="1232.3" width="1" height="1"/><rect x="95.7" y="1262.6" width="1" height="1"/><rect x="81.6" y="1288.7" width="1" height="1"/><rect x="162.2" y="1242.1" width="1" height="1"/><rect x="74.7" y="1264.5" width="1" height="1"/><rect x="145.8" y="1262.4" width="1" height="1"/><rect x="133.2" y="1242.3" width="1" height="1"/><rect x="124.2" y="1287.2" width="1" height="1"/><rect x="170.3" y="1244.5" width="1" height="1"/><rect x="112.2" y="1285.1" width="1" height="1"/><rect x="186.7" y="1221.7" width="1" height="1"/><rect x="108.9" y="1259.9" width="1" height="1"/><rect x="166.7" y="1236.2" width="1" height="1"/><rect x="146.5" y="1248.1" width="1" height="1"/><rect x="207.4" y="1264.2" width="1" height="1"/><rect x="119.2" y="1247.3" width="1" height="1"/><rect x="161.0" y="1269.7" width="1" height="1"/><rect x="85.9" y="1259.5" width="1" height="1"/><rect x="76.9" y="1238.0" width="1" height="1"/><rect x="78.4" y="1225.4" width="1" height="1"/><rect x="99.8" y="1233.1" width="1" height="1"/><rect x="142.5" y="1272.3" width="1" height="1"/><rect x="115.5" y="1230.0" width="1" height="1"/><rect x="56.1" y="1270.8" width="1" height="1"/><rect x="147.0" y="1276.2" width="1" height="1"/><rect x="106.0" y="1267.2" width="1" height="1"/><rect x="97.0" y="1239.2" width="1" height="1"/><rect x="74.9" y="1229.0" width="1" height="1"/><rect x="153.6" y="1264.8" width="1" height="1"/><rect x="83.1" y="1230.8" width="1" height="1"/><rect x="104.2" y="1266.8" width="1" height="1"/><rect x="82.9" y="1251.0" width="1" height="1"/><rect x="48.5" y="1226.9" width="1" height="1"/><rect x="138.7" y="1274.6" width="1" height="1"/><rect x="83.3" y="1237.6" width="1" height="1"/><rect x="152.0" y="1246.1" width="1" height="1"/><rect x="104.9" y="1266.2" width="1" height="1"/><rect x="130.8" y="1279.3" width="1" height="1"/><rect x="151.9" y="1242.0" width="1" height="1"/><rect x="119.8" y="1253.4" width="1" height="1"/><rect x="76.3" y="1233.2" width="1" height="1"/><rect x="158.9" y="1261.1" width="1" height="1"/><rect x="119.1" y="1266.6" width="1" height="1"/><rect x="140.7" y="1281.5" width="1" height="1"/><rect x="109.9" y="1249.7" width="1" height="1"/><rect x="115.4" y="1296.3" width="1" height="1"/><rect x="157.2" y="1234.4" width="1" height="1"/><rect x="112.3" y="1239.2" width="1" height="1"/><rect x="124.5" y="1259.5" width="1" height="1"/><rect x="204.6" y="1214.5" width="1" height="1"/><rect x="160.2" y="1264.4" width="1" height="1"/><rect x="99.4" y="1251.5" width="1" height="1"/><rect x="106.7" y="1255.9" width="1" height="1"/><rect x="170.2" y="1246.6" width="1" height="1"/><rect x="176.9" y="1263.9" width="1" height="1"/><rect x="167.5" y="1267.4" width="1" height="1"/><rect x="162.3" y="1256.1" width="1" height="1"/><rect x="95.0" y="1269.7" width="1" height="1"/><rect x="149.2" y="1301.2" width="1" height="1"/><rect x="53.9" y="1250.6" width="1" height="1"/><rect x="116.3" y="1301.6" width="1" height="1"/><rect x="174.0" y="1235.6" width="1" height="1"/><rect x="174.4" y="1281.1" width="1" height="1"/><rect x="151.6" y="1263.4" width="1" height="1"/><rect x="132.7" y="1235.8" width="1" height="1"/><rect x="106.3" y="1271.2" width="1" height="1"/><rect x="129.3" y="1295.8" width="1" height="1"/><rect x="112.7" y="1261.2" width="1" height="1"/><rect x="137.9" y="1256.5" width="1" height="1"/><rect x="95.6" y="1288.0" width="1" height="1"/><rect x="101.2" y="1270.7" width="1" height="1"/><rect x="114.4" y="1228.7" width="1" height="1"/><rect x="94.7" y="1264.6" width="1" height="1"/><rect x="112.1" y="1271.7" width="1" height="1"/><rect x="121.1" y="1245.2" width="1" height="1"/><rect x="200.3" y="1250.3" width="1" height="1"/><rect x="119.1" y="1231.3" width="1" height="1"/><rect x="98.5" y="1269.5" width="1" height="1"/><rect x="144.5" y="1255.3" width="1" height="1"/><rect x="100.2" y="1270.3" width="1" height="1"/><rect x="65.1" y="1247.7" width="1" height="1"/><rect x="116.0" y="1236.6" width="1" height="1"/><rect x="130.2" y="1240.6" width="1" height="1"/><rect x="96.7" y="1295.0" width="1" height="1"/><rect x="150.9" y="1281.7" width="1" height="1"/><rect x="126.8" y="1276.6" width="1" height="1"/><rect x="152.3" y="1282.1" width="1" height="1"/><rect x="208.0" y="1250.4" width="1" height="1"/><rect x="134.2" y="1254.3" width="1" height="1"/><rect x="125.8" y="1269.4" width="1" height="1"/><rect x="105.0" y="1280.5" width="1" height="1"/><rect x="170.2" y="1246.5" width="1" height="1"/><rect x="175.1" y="1294.1" width="1" height="1"/><rect x="141.6" y="1234.0" width="1" height="1"/><rect x="176.7" y="1252.0" width="1" height="1"/><rect x="112.2" y="1258.2" width="1" height="1"/><rect x="106.6" y="1279.2" width="1" height="1"/><rect x="152.7" y="1282.5" width="1" height="1"/><rect x="145.8" y="1238.2" width="1" height="1"/><rect x="119.9" y="1275.0" width="1" height="1"/><rect x="117.0" y="1242.8" width="1" height="1"/><rect x="165.7" y="1272.2" width="1" height="1"/><rect x="124.5" y="1250.6" width="1" height="1"/><rect x="140.4" y="1274.1" width="1" height="1"/><rect x="152.2" y="1249.1" width="1" height="1"/><rect x="140.6" y="1274.3" width="1" height="1"/></g>
<rect x="40.5" y="1137.7" width="185.6" height="184.2" fill="none" stroke="#9a9a9a" stroke-width="1.9"/>
<line x1="129.5" y1="1137.7" x2="129.5" y2="1321.9" stroke="#3a3a3a" stroke-width="1.7"/>
<line x1="40.5" y1="1238.2" x2="226.1" y2="1238.2" stroke="#3a3a3a" stroke-width="1.7"/>
<text transform="translate(43.85,1176.65) scale(0.9750,1)" font-size="26.600">34.5</text>
<text transform="translate(146.85,1176.65) scale(0.9750,1)" font-size="26.600">61.9</text>
<text transform="translate(43.60,1300.45) scale(0.9750,1)" font-size="26.600">1.70</text>
<text transform="translate(146.60,1300.45) scale(0.9750,1)" font-size="26.600">1.90</text>
<g fill="none" stroke="#777" stroke-width="0.8"><path d="M350.2,1304.7 346.2,1304.3 342.2,1303.2 338.2,1301.2 332.9,1297.7 329.8,1296.7 327.2,1297.0 317.2,1300.5 310.2,1301.9 302.2,1302.2 294.2,1301.2 287.2,1299.2 281.2,1296.3 276.3,1292.7 272.7,1288.7 269.6,1282.7 268.2,1275.1 267.2,1272.7 261.0,1264.7 257.8,1257.7 256.8,1252.7 256.6,1248.7 258.3,1237.7 258.2,1234.7 253.5,1223.7 252.0,1215.7 252.0,1211.7 252.7,1206.7 255.7,1198.7 260.2,1192.3 266.2,1186.9 270.2,1184.5 275.2,1182.4 283.2,1180.6 288.2,1180.4 293.2,1180.9 301.2,1183.1 308.2,1186.9 314.2,1192.3 318.1,1197.7 322.7,1206.7 325.1,1209.7 330.0,1212.7 334.2,1214.2 335.2,1214.1 335.8,1212.7 335.5,1201.7 337.0,1194.7 338.9,1190.7 340.9,1187.7 346.2,1183.0 350.2,1181.1 353.2,1180.3 357.2,1180.1 360.2,1180.6 366.2,1183.0 369.2,1185.3 372.2,1188.7 374.6,1192.7 376.0,1196.7 376.9,1201.7 376.8,1206.7 376.0,1210.7 374.6,1214.7 372.2,1218.7 368.3,1223.7 367.4,1226.7 368.2,1228.7 371.9,1233.7 374.8,1238.7 378.5,1248.7 379.7,1254.7 380.2,1260.7 380.1,1266.7 379.4,1272.7 377.7,1279.7 375.8,1284.7 372.6,1290.7 368.8,1295.7 365.2,1299.1 360.2,1302.3 355.2,1304.1 350.2,1304.7"/><path d="M355.2,1300.9 350.2,1301.5 345.2,1300.9 340.2,1298.9 333.2,1294.6 330.2,1293.8 327.2,1294.3 318.2,1298.0 312.2,1299.5 304.2,1300.2 296.2,1299.5 290.2,1298.0 284.2,1295.4 279.2,1292.0 276.0,1288.7 274.0,1285.7 272.6,1282.7 270.4,1272.7 263.0,1263.7 260.8,1259.7 259.7,1256.7 258.9,1252.7 258.7,1248.7 260.8,1236.7 260.7,1233.7 260.2,1231.6 256.6,1223.7 255.0,1216.7 255.1,1209.7 257.0,1202.7 261.1,1195.7 266.2,1190.4 273.2,1186.1 278.2,1184.3 282.2,1183.5 291.2,1183.4 299.2,1185.3 306.2,1189.0 311.7,1193.7 316.0,1199.7 320.4,1208.7 323.2,1212.1 335.2,1218.9 339.2,1220.4 340.2,1220.2 340.7,1218.7 337.9,1208.7 337.4,1204.7 337.6,1200.7 339.6,1193.7 341.3,1190.7 343.8,1187.7 347.2,1185.0 350.2,1183.5 354.2,1182.5 357.2,1182.4 361.2,1183.1 364.2,1184.4 367.2,1186.4 370.2,1189.5 372.8,1193.7 374.4,1198.7 374.9,1202.7 374.6,1207.7 373.6,1211.7 371.7,1215.7 369.2,1219.2 364.0,1224.7 363.4,1226.7 364.3,1228.7 371.4,1237.7 375.5,1246.7 376.8,1251.7 377.7,1257.7 377.9,1263.7 377.5,1269.7 376.6,1274.7 374.8,1280.7 372.5,1285.7 369.4,1290.7 366.2,1294.4 363.2,1297.0 359.2,1299.4 355.2,1300.9"/><path d="M355.2,1298.7 350.2,1299.4 345.2,1298.7 341.2,1297.2 333.8,1292.7 330.2,1291.8 327.2,1292.5 318.2,1296.5 312.2,1298.1 305.2,1298.8 298.2,1298.4 292.2,1297.1 286.2,1294.7 281.2,1291.5 277.4,1287.7 274.6,1282.7 272.2,1272.0 263.5,1261.7 261.6,1257.7 260.4,1252.7 260.3,1246.7 262.2,1237.7 262.5,1233.7 261.9,1230.7 258.7,1223.7 257.5,1219.7 256.8,1214.7 257.0,1210.7 258.0,1205.7 260.1,1200.7 263.2,1196.1 267.2,1192.1 274.2,1187.7 282.2,1185.4 286.2,1185.0 291.2,1185.2 299.2,1187.3 305.4,1190.7 310.9,1195.7 314.3,1200.7 319.2,1210.7 321.9,1213.7 337.2,1222.6 342.2,1224.1 344.7,1223.7 345.4,1222.7 345.3,1221.7 340.2,1211.7 339.0,1206.7 338.8,1202.7 340.0,1196.7 343.2,1190.6 346.2,1187.6 349.2,1185.6 352.2,1184.5 356.2,1184.0 360.2,1184.5 363.2,1185.6 366.2,1187.6 369.2,1190.6 371.7,1194.7 373.2,1199.7 373.6,1204.7 372.8,1209.7 371.2,1213.7 369.3,1216.7 366.2,1220.0 360.7,1224.7 360.0,1226.7 361.2,1228.7 368.7,1236.7 371.7,1241.7 373.4,1245.7 375.0,1250.7 376.1,1256.7 376.4,1262.7 375.9,1269.7 373.4,1279.7 371.7,1283.7 368.7,1288.7 365.3,1292.7 362.2,1295.3 359.2,1297.2 355.2,1298.7"/><path d="M350.2,1297.7 346.2,1297.3 343.2,1296.3 334.2,1291.2 330.2,1290.2 327.2,1290.9 318.2,1295.2 312.2,1296.9 305.2,1297.7 298.2,1297.3 292.2,1295.9 286.2,1293.4 282.2,1290.6 278.4,1286.7 275.9,1281.7 273.9,1271.7 272.2,1269.1 267.2,1264.3 264.4,1260.7 262.5,1256.7 261.5,1251.7 261.7,1245.7 263.5,1237.7 263.9,1233.7 263.2,1230.0 259.1,1219.7 258.4,1215.7 258.5,1210.7 259.6,1205.7 261.9,1200.7 265.2,1196.1 269.2,1192.4 276.2,1188.5 284.2,1186.6 292.2,1186.9 299.2,1188.9 305.2,1192.4 309.7,1196.7 313.1,1201.7 317.9,1211.7 321.2,1215.3 337.4,1224.7 341.2,1226.0 345.2,1226.4 349.9,1225.7 351.0,1224.7 343.5,1215.7 341.9,1212.7 340.6,1208.7 340.0,1204.7 340.2,1200.7 341.2,1196.7 343.2,1192.7 345.7,1189.7 348.2,1187.7 351.2,1186.2 355.2,1185.3 359.2,1185.6 362.2,1186.6 365.6,1188.7 368.5,1191.7 371.2,1196.7 372.3,1201.7 372.2,1206.7 370.8,1211.7 368.5,1215.7 365.8,1218.7 362.2,1221.4 356.0,1224.7 355.1,1225.7 355.6,1226.7 362.2,1231.9 366.1,1235.7 369.1,1239.7 371.7,1244.7 373.7,1250.7 374.9,1256.7 375.2,1263.7 374.6,1270.7 373.4,1275.7 371.7,1280.7 369.1,1285.7 366.1,1289.7 362.2,1293.4 358.2,1295.9 354.2,1297.3 350.2,1297.7"/><path d="M357.2,1221.9 354.2,1222.2 352.2,1221.7 349.2,1220.0 346.7,1217.7 344.3,1214.7 342.7,1211.7 341.7,1208.7 341.1,1204.7 341.7,1198.7 342.8,1195.7 344.5,1192.7 346.3,1190.7 349.2,1188.4 352.2,1187.1 355.2,1186.5 358.2,1186.6 361.2,1187.4 366.2,1190.8 369.6,1195.7 370.7,1198.7 371.3,1202.7 370.7,1208.7 369.6,1211.7 367.9,1214.7 363.2,1219.2 357.2,1221.9"/><path d="M306.2,1296.7 299.2,1296.5 292.2,1294.9 286.2,1292.1 281.8,1288.7 279.3,1285.7 277.7,1282.7 276.8,1279.7 276.1,1273.7 275.1,1270.7 273.2,1268.1 266.2,1261.2 264.2,1257.7 263.2,1254.7 262.6,1247.7 264.9,1236.7 265.1,1232.7 264.5,1229.7 261.4,1222.7 260.1,1217.7 259.7,1212.7 260.5,1207.7 262.8,1201.7 267.4,1195.7 273.2,1191.4 280.2,1188.6 286.2,1187.8 292.2,1188.2 298.2,1189.9 303.2,1192.6 307.0,1195.7 310.2,1199.5 312.6,1203.7 316.3,1211.7 320.2,1216.4 338.2,1226.7 343.2,1227.9 353.2,1228.7 357.2,1230.2 360.2,1232.1 364.2,1235.4 367.7,1239.7 370.9,1245.7 372.9,1251.7 373.9,1257.7 374.2,1263.7 373.7,1269.7 372.3,1275.7 370.5,1280.7 367.7,1285.7 364.2,1290.0 360.2,1293.2 354.2,1295.8 351.2,1296.3 347.2,1296.0 342.2,1294.4 334.2,1289.7 330.2,1288.8 327.2,1289.5 316.2,1294.9 311.2,1296.2 306.2,1296.7"/><path d="M359.2,1219.9 354.2,1220.5 352.2,1219.9 349.2,1218.3 346.5,1215.7 344.4,1212.7 342.3,1206.7 342.3,1200.7 344.5,1194.7 346.8,1191.7 349.2,1189.7 354.2,1187.8 359.2,1188.0 364.2,1190.4 367.9,1194.7 370.1,1200.7 370.1,1206.7 367.9,1212.7 364.2,1217.0 359.2,1219.9"/><path d="M307.2,1295.8 300.2,1295.7 294.2,1294.5 288.2,1292.1 283.2,1288.6 280.6,1285.7 278.6,1281.7 277.3,1272.7 276.3,1269.7 274.8,1267.7 267.3,1260.7 265.5,1257.7 264.2,1254.2 263.7,1247.7 266.0,1236.7 266.3,1232.7 265.8,1229.7 262.4,1221.7 261.3,1217.7 261.0,1212.7 261.8,1207.7 264.3,1201.7 268.2,1196.6 274.2,1192.2 280.2,1189.8 285.2,1189.0 291.2,1189.2 297.2,1190.8 302.2,1193.4 306.2,1196.6 308.8,1199.7 311.3,1203.7 315.4,1212.7 319.2,1217.3 322.6,1219.7 337.2,1227.7 342.2,1229.1 353.2,1230.3 359.2,1232.9 363.2,1236.0 367.1,1240.7 369.8,1245.7 371.9,1251.7 373.0,1257.7 373.3,1263.7 372.7,1269.7 371.6,1274.7 369.8,1279.7 367.1,1284.7 363.9,1288.7 360.2,1291.8 354.2,1294.5 348.2,1294.9 342.2,1293.0 334.2,1288.3 330.2,1287.5 327.2,1288.2 316.2,1293.9 312.2,1295.0 307.2,1295.8"/><path d="M358.2,1218.8 355.2,1219.1 353.2,1218.8 350.2,1217.4 348.2,1215.8 345.1,1211.7 343.2,1205.7 343.6,1199.7 344.6,1196.7 346.2,1194.0 350.2,1190.4 355.2,1188.8 360.2,1189.5 364.2,1191.9 367.3,1195.7 368.6,1198.7 369.2,1201.7 368.8,1207.7 366.7,1212.7 363.2,1216.4 358.2,1218.8"/><path d="M309.2,1294.7 302.2,1295.0 295.2,1293.9 289.2,1291.6 284.2,1288.2 281.3,1284.7 279.8,1281.7 279.1,1278.7 278.5,1271.7 277.4,1268.7 275.9,1266.7 268.2,1259.8 266.3,1256.7 265.3,1253.7 264.9,1247.7 267.1,1236.7 267.4,1232.7 266.6,1228.7 263.6,1221.7 262.5,1217.7 262.2,1212.7 262.7,1208.7 265.0,1202.7 268.8,1197.7 274.2,1193.5 280.2,1191.0 285.2,1190.1 291.2,1190.4 296.2,1191.6 301.2,1194.1 305.2,1197.3 308.1,1200.7 310.5,1204.7 314.6,1213.7 316.8,1216.7 319.2,1219.0 336.2,1228.7 341.2,1230.1 353.2,1231.6 359.2,1234.2 363.2,1237.5 366.2,1241.1 368.8,1245.7 371.0,1251.7 372.0,1256.7 372.4,1262.7 372.0,1268.7 371.0,1273.7 369.3,1278.7 366.6,1283.7 363.4,1287.7 360.2,1290.5 357.2,1292.2 354.2,1293.3 348.2,1293.7 343.2,1292.3 334.2,1287.1 330.2,1286.2 327.2,1287.0 317.2,1292.6 309.2,1294.7"/><path d="M356.2,1217.7 351.6,1216.7 347.8,1213.7 345.2,1209.3 344.1,1203.7 345.2,1198.1 348.0,1193.7 352.2,1190.8 356.2,1190.0 360.2,1190.8 364.4,1193.7 367.2,1198.1 368.3,1203.7 367.2,1209.3 364.5,1213.7 360.4,1216.7 356.2,1217.7"/><path d="M310.2,1293.8 303.2,1294.3 296.2,1293.3 290.2,1291.1 285.1,1287.7 282.5,1284.7 280.7,1280.7 279.8,1270.7 278.8,1267.7 277.2,1265.7 269.9,1259.7 267.8,1256.7 266.6,1253.7 266.1,1247.7 268.2,1236.7 268.5,1232.7 267.8,1228.7 264.8,1221.7 263.7,1217.7 263.3,1212.7 263.9,1208.7 265.8,1203.7 269.3,1198.7 274.2,1194.8 280.2,1192.1 285.2,1191.2 291.2,1191.5 296.2,1192.8 301.2,1195.4 304.2,1197.8 307.2,1201.3 313.9,1214.7 316.2,1217.9 319.2,1220.7 335.2,1229.7 341.2,1231.2 352.2,1232.6 358.2,1234.8 362.0,1237.7 365.2,1241.3 367.8,1245.7 369.8,1250.7 371.0,1255.7 371.6,1261.7 371.3,1267.7 370.4,1272.7 368.8,1277.7 366.2,1282.6 363.2,1286.5 360.2,1289.2 357.2,1291.0 354.2,1292.2 348.2,1292.6 343.2,1291.1 334.2,1285.8 330.2,1284.9 326.2,1286.2 317.2,1291.6 310.2,1293.8"/><path d="M293.8,1258.7 296.2,1257.7 297.2,1256.7 298.2,1254.7 298.0,1252.7 296.2,1250.5 295.2,1250.3 293.2,1251.4 291.2,1254.7 291.2,1257.7 292.2,1258.6 293.8,1258.7"/><path d="M359.2,1215.7 355.2,1216.2 351.2,1214.9 347.9,1211.7 345.7,1206.7 345.5,1201.7 347.2,1196.8 350.2,1193.4 354.2,1191.6 358.2,1191.6 362.2,1193.4 365.1,1196.7 366.7,1200.7 366.9,1205.7 365.7,1209.7 363.2,1213.2 359.2,1215.7"/><path d="M311.2,1292.7 304.2,1293.5 297.2,1292.7 291.2,1290.7 286.2,1287.4 283.8,1284.7 281.8,1280.7 281.2,1276.7 281.2,1269.7 280.2,1266.1 278.2,1263.8 271.2,1258.7 269.2,1256.0 268.2,1253.7 267.6,1247.7 269.3,1236.7 269.5,1231.7 268.7,1227.7 266.0,1221.7 264.8,1217.7 264.4,1213.7 264.8,1209.7 267.1,1203.7 270.2,1199.4 274.8,1195.7 280.2,1193.2 285.2,1192.3 290.2,1192.4 295.2,1193.6 300.2,1196.1 303.5,1198.7 306.1,1201.7 308.2,1205.2 313.2,1215.8 316.2,1219.7 319.2,1222.4 329.9,1228.7 334.2,1230.7 340.2,1232.1 352.2,1233.7 358.2,1236.0 361.2,1238.2 364.4,1241.7 366.9,1245.7 369.0,1250.7 370.2,1255.7 370.8,1260.7 370.6,1266.7 369.8,1271.7 368.3,1276.7 366.2,1281.0 363.2,1285.1 360.2,1288.0 357.2,1289.9 354.2,1291.1 351.2,1291.6 348.2,1291.5 343.2,1289.9 333.2,1284.2 329.2,1283.7 326.2,1284.8 317.2,1290.7 311.2,1292.7"/><path d="M293.8,1260.7 296.2,1259.7 298.7,1257.7 300.0,1255.7 300.5,1253.7 300.2,1251.7 298.5,1248.7 297.2,1247.3 295.2,1246.4 293.2,1247.3 291.9,1248.7 289.5,1252.7 288.1,1256.7 288.1,1258.7 289.2,1260.3 291.2,1261.0 293.8,1260.7"/><path d="M304.2,1292.7 296.2,1291.6 289.5,1288.7 285.1,1284.7 283.4,1281.7 282.6,1278.7 282.5,1274.7 283.2,1267.4 284.2,1263.1 290.2,1263.1 294.2,1262.1 298.4,1259.7 302.0,1255.7 302.6,1253.7 302.4,1251.7 301.1,1248.7 299.2,1245.8 297.2,1243.9 295.2,1243.1 293.2,1243.4 292.2,1244.1 285.7,1254.7 283.2,1261.2 282.2,1261.5 277.2,1259.7 273.8,1257.7 271.2,1254.8 270.0,1251.7 269.6,1247.7 270.6,1231.7 269.9,1227.7 266.0,1217.7 265.6,1213.7 266.0,1209.7 267.8,1204.7 271.5,1199.7 276.2,1196.1 282.2,1193.8 287.2,1193.3 292.2,1193.8 297.2,1195.6 301.2,1198.2 303.9,1200.7 306.1,1203.7 311.3,1214.7 314.2,1219.2 318.2,1223.4 324.2,1227.4 329.2,1230.2 333.2,1231.8 338.2,1232.9 352.2,1234.7 356.2,1236.1 359.2,1237.9 362.4,1240.7 365.4,1244.7 367.8,1249.7 369.2,1254.7 370.0,1259.7 370.0,1264.7 369.4,1269.7 368.2,1274.5 366.5,1278.7 364.2,1282.5 361.2,1285.9 358.2,1288.2 353.2,1290.2 350.2,1290.5 347.2,1290.2 342.2,1288.3 333.2,1282.9 329.2,1282.2 326.2,1283.3 319.2,1288.6 315.2,1290.6 310.2,1292.1 304.2,1292.7"/><path d="M359.2,1213.9 355.2,1214.5 352.2,1213.5 349.0,1210.7 347.2,1206.7 347.0,1201.7 348.2,1198.1 351.1,1194.7 354.2,1193.3 358.2,1193.3 361.2,1194.6 364.0,1197.7 365.2,1200.7 365.5,1204.7 364.5,1208.7 362.2,1212.0 359.2,1213.9"/><path d="M307.2,1291.7 299.2,1291.4 295.2,1290.4 291.3,1288.7 288.4,1286.7 286.2,1284.4 284.6,1281.7 283.8,1278.7 284.2,1272.0 285.2,1268.8 286.2,1267.2 288.2,1265.7 294.2,1263.4 297.5,1261.7 301.5,1258.7 304.1,1255.7 304.9,1253.7 304.8,1251.7 301.9,1245.7 298.0,1241.7 295.2,1240.5 293.2,1240.5 290.2,1242.5 285.2,1248.9 283.2,1250.3 281.2,1250.6 279.2,1250.1 274.2,1247.5 273.2,1246.1 272.3,1243.7 271.6,1229.7 267.2,1217.7 266.8,1213.7 267.2,1209.7 269.1,1204.7 272.2,1200.6 277.2,1196.9 282.2,1195.0 286.2,1194.4 291.2,1194.8 296.2,1196.4 300.2,1198.8 303.2,1201.7 305.2,1204.5 310.5,1215.7 314.2,1221.3 319.2,1226.4 325.2,1230.3 329.2,1232.2 333.2,1233.3 352.2,1235.8 358.2,1238.4 361.2,1240.8 364.4,1244.7 366.5,1248.7 368.2,1253.7 369.1,1258.7 369.3,1263.7 367.9,1272.7 366.2,1277.4 364.2,1280.9 361.2,1284.6 358.2,1287.0 353.2,1289.1 350.2,1289.5 347.2,1289.2 342.2,1287.2 333.2,1281.6 329.2,1280.6 326.2,1281.7 320.2,1286.7 316.2,1289.2 312.2,1290.8 307.2,1291.7"/><path d="M358.2,1211.8 355.2,1212.0 352.2,1210.7 350.3,1208.7 349.2,1206.1 349.0,1202.7 349.8,1199.7 351.2,1197.6 354.2,1195.7 357.2,1195.5 360.1,1196.7 362.0,1198.7 363.2,1201.3 363.4,1204.7 362.6,1207.7 361.2,1209.8 358.2,1211.8"/><path d="M308.2,1290.7 300.2,1290.7 293.4,1288.7 290.2,1286.8 287.9,1284.7 286.2,1282.3 285.2,1279.7 284.9,1276.7 285.3,1273.7 286.3,1270.7 287.6,1268.7 290.2,1266.7 298.2,1262.5 303.5,1258.7 306.9,1255.7 308.4,1252.7 307.6,1249.7 303.6,1243.7 300.1,1240.7 296.2,1238.7 293.2,1238.1 291.2,1238.6 285.2,1244.1 282.2,1245.0 277.2,1243.7 275.2,1242.3 274.2,1240.7 273.4,1237.7 272.7,1228.7 268.3,1216.7 268.3,1210.7 270.0,1205.7 272.9,1201.7 276.5,1198.7 281.2,1196.5 285.2,1195.7 290.2,1195.8 294.2,1196.8 298.2,1198.9 301.2,1201.3 303.2,1203.7 311.2,1219.2 316.2,1226.2 320.2,1230.3 324.2,1232.8 328.2,1234.2 349.2,1236.2 356.2,1238.3 360.2,1241.1 363.2,1244.5 365.6,1248.7 367.2,1253.0 368.2,1257.7 368.6,1262.7 367.4,1271.7 366.0,1275.7 364.0,1279.7 361.2,1283.3 358.2,1285.8 353.2,1288.1 350.2,1288.4 347.2,1288.1 342.2,1286.0 332.2,1279.7 330.2,1278.9 328.2,1278.8 325.2,1280.3 320.8,1284.7 316.9,1287.7 312.5,1289.7 308.2,1290.7"/><path d="M313.2,1241.7 311.2,1242.3 308.2,1242.0 297.2,1237.2 293.2,1236.1 289.8,1236.7 285.2,1240.5 283.2,1241.5 279.2,1241.3 276.6,1239.7 275.1,1236.7 273.9,1227.7 270.2,1218.7 269.4,1214.7 269.7,1210.7 270.6,1207.7 272.2,1204.7 274.2,1202.2 277.2,1199.8 280.2,1198.3 283.2,1197.3 287.2,1196.9 291.2,1197.3 294.2,1198.3 297.2,1199.8 300.2,1202.2 303.5,1206.7 307.7,1215.7 314.7,1227.7 316.8,1232.7 317.4,1235.7 317.2,1237.7 315.9,1239.7 313.2,1241.7"/><path d="M308.2,1289.7 304.2,1290.0 299.9,1289.7 296.1,1288.7 292.0,1286.7 289.2,1284.3 287.4,1281.7 286.4,1278.7 286.6,1274.7 288.2,1270.9 290.2,1268.7 308.2,1257.5 311.2,1256.4 314.2,1256.2 320.2,1258.4 321.2,1258.2 321.2,1255.7 319.5,1250.7 318.8,1246.7 319.6,1242.7 321.1,1239.7 324.8,1237.7 330.2,1236.5 336.2,1236.1 343.2,1236.5 350.2,1237.4 354.2,1238.5 358.2,1240.7 361.2,1243.5 364.1,1247.7 366.3,1252.7 367.6,1258.7 367.7,1264.7 366.8,1270.7 365.1,1275.7 362.2,1280.7 359.4,1283.7 356.2,1285.8 353.2,1287.0 350.2,1287.3 347.2,1287.0 342.2,1284.9 330.2,1276.8 327.2,1276.1 325.2,1277.4 321.0,1282.7 317.2,1286.2 313.2,1288.4 308.2,1289.7"/><path d="M281.2,1238.7 278.5,1237.7 277.0,1235.7 275.3,1226.7 271.3,1216.7 271.0,1213.7 271.3,1210.7 272.3,1207.7 274.1,1204.7 278.6,1200.7 284.2,1198.6 288.2,1198.4 291.2,1198.8 294.2,1199.9 297.2,1201.6 301.2,1205.8 311.1,1224.7 312.4,1228.7 312.4,1231.7 311.7,1233.7 310.2,1235.5 307.2,1237.2 303.2,1237.3 294.2,1234.3 291.2,1233.9 288.2,1234.7 283.2,1238.4 281.2,1238.7"/><path d="M353.2,1285.8 348.2,1286.0 345.2,1285.2 342.2,1283.7 333.1,1276.7 328.8,1271.7 327.7,1268.7 324.5,1255.7 323.6,1249.7 324.3,1245.7 325.7,1242.7 327.2,1240.7 330.1,1238.7 334.2,1237.5 339.2,1237.2 346.2,1237.8 352.2,1239.0 356.2,1240.7 359.2,1242.8 362.2,1246.3 364.2,1249.7 366.0,1254.7 366.9,1260.7 366.7,1266.7 365.7,1271.7 363.7,1276.7 361.0,1280.7 357.2,1284.1 353.2,1285.8"/><path d="M307.2,1288.8 303.2,1288.9 299.2,1288.4 296.2,1287.5 292.8,1285.7 290.5,1283.7 289.0,1281.7 288.0,1278.7 288.0,1275.7 289.1,1272.7 290.2,1271.1 294.3,1267.7 306.2,1260.2 310.2,1259.0 313.2,1259.0 317.2,1260.7 321.2,1264.7 323.7,1269.7 323.7,1273.7 321.8,1278.7 318.1,1283.7 313.2,1287.1 307.2,1288.8"/><path d="M304.2,1234.8 300.2,1234.4 293.2,1232.0 290.2,1231.4 287.2,1231.8 282.2,1234.7 280.2,1234.2 279.2,1232.7 277.7,1226.7 273.8,1218.7 272.9,1214.7 273.0,1211.7 273.9,1208.7 275.2,1206.3 277.5,1203.7 280.2,1201.9 283.1,1200.7 288.2,1200.2 291.2,1200.7 293.9,1201.7 298.2,1205.0 300.2,1207.7 307.8,1221.7 309.7,1226.7 309.7,1229.7 309.0,1231.7 307.0,1233.7 304.2,1234.8"/><path d="M352.2,1284.8 347.2,1284.6 342.2,1282.4 335.2,1276.7 331.5,1271.7 326.6,1256.7 325.8,1250.7 326.5,1246.7 327.8,1243.7 329.3,1241.7 332.2,1239.7 336.2,1238.5 341.2,1238.3 348.2,1239.2 353.2,1240.5 356.2,1241.9 359.2,1244.3 361.3,1246.7 363.6,1250.7 365.3,1255.7 366.1,1261.7 365.7,1267.7 364.4,1272.7 362.2,1277.4 359.2,1281.1 356.2,1283.4 352.2,1284.8"/><path d="M310.2,1286.8 303.2,1287.6 299.2,1287.0 295.6,1285.7 292.7,1283.7 291.1,1281.7 290.1,1279.7 289.9,1276.7 291.3,1272.7 295.5,1268.7 305.2,1262.2 308.2,1261.0 311.2,1260.7 315.2,1261.9 318.4,1264.7 320.5,1268.7 321.0,1272.7 319.9,1277.7 317.7,1281.7 314.5,1284.7 310.2,1286.8"/><path d="M304.2,1232.0 302.2,1232.4 299.2,1232.0 290.2,1228.3 283.2,1227.0 281.2,1225.5 277.1,1219.7 275.5,1214.7 276.3,1209.7 279.1,1205.7 283.2,1203.3 288.2,1202.7 292.3,1203.7 296.2,1206.5 305.2,1220.9 307.0,1224.7 307.2,1228.7 306.0,1230.7 304.2,1232.0"/><path d="M351.2,1283.7 346.2,1283.1 340.4,1279.7 335.3,1274.7 332.6,1269.7 328.0,1256.7 327.4,1250.7 328.0,1247.7 329.3,1244.7 331.2,1242.3 334.2,1240.4 338.2,1239.4 342.2,1239.5 348.2,1240.3 353.2,1241.7 356.2,1243.3 359.2,1245.8 361.4,1248.7 363.4,1252.7 364.8,1257.7 365.2,1262.7 364.8,1267.7 363.2,1273.3 361.2,1277.0 358.2,1280.5 354.9,1282.7 351.2,1283.7"/><path d="M306.2,1285.7 301.2,1285.6 296.2,1283.7 294.0,1281.7 292.8,1279.7 292.4,1277.7 292.7,1275.7 295.2,1271.7 303.2,1264.9 308.2,1262.7 312.2,1262.7 315.8,1264.7 317.8,1267.7 318.6,1271.7 318.0,1275.7 316.3,1279.7 313.6,1282.7 310.3,1284.7 306.2,1285.7"/><path d="M302.2,1229.2 299.2,1229.2 295.9,1227.7 284.8,1218.7 283.3,1216.7 282.6,1214.7 282.7,1212.7 283.8,1210.7 285.2,1209.7 287.2,1209.3 290.2,1209.9 293.2,1212.1 300.2,1218.9 303.2,1222.5 304.2,1224.7 303.9,1227.7 302.2,1229.2"/><path d="M353.2,1281.9 348.2,1282.2 343.2,1280.1 338.0,1275.7 334.3,1269.7 329.6,1257.7 328.8,1251.7 329.2,1248.7 330.5,1245.7 332.2,1243.4 335.2,1241.4 338.2,1240.6 342.2,1240.6 347.2,1241.3 352.2,1242.7 355.2,1244.2 358.2,1246.5 360.2,1248.9 362.2,1252.5 363.6,1256.7 364.2,1261.3 364.1,1265.7 363.2,1270.1 361.3,1274.7 359.2,1277.8 356.2,1280.5 353.2,1281.9"/><path d="M308.2,1280.8 304.2,1281.4 301.2,1280.7 299.2,1279.2 298.4,1277.7 298.3,1274.7 300.2,1270.7 303.9,1266.7 307.6,1264.7 311.2,1264.5 313.2,1265.4 314.7,1266.7 315.6,1268.7 315.9,1271.7 315.2,1274.2 313.2,1277.4 311.2,1279.3 308.2,1280.8"/><path d="M351.2,1280.7 348.2,1280.6 345.5,1279.7 342.3,1277.7 340.1,1275.7 336.6,1270.7 331.6,1259.7 330.2,1254.7 330.4,1249.7 332.2,1245.6 334.0,1243.7 336.2,1242.5 339.2,1241.8 343.2,1241.9 348.2,1242.9 353.2,1244.7 356.2,1246.6 358.2,1248.5 361.4,1253.7 362.6,1257.7 363.1,1262.7 362.6,1267.7 361.4,1271.7 359.2,1275.6 357.2,1277.9 354.2,1279.9 351.2,1280.7"/><path d="M311.2,1270.8 310.2,1271.5 308.2,1271.5 307.0,1270.7 306.7,1269.7 307.1,1268.7 308.2,1268.0 310.2,1267.8 311.3,1268.7 311.2,1270.8"/><path d="M351.2,1278.8 348.4,1278.7 346.2,1278.0 343.9,1276.7 341.2,1274.3 338.2,1270.1 332.6,1258.7 331.4,1253.7 331.8,1249.7 334.0,1245.7 337.2,1243.6 340.2,1243.0 343.2,1243.2 348.2,1244.5 352.2,1246.1 357.1,1249.7 360.2,1254.7 361.4,1258.7 361.7,1262.7 361.4,1266.7 360.2,1270.7 358.2,1274.3 356.2,1276.5 354.2,1277.8 351.2,1278.8"/><path d="M352.2,1276.0 350.2,1276.3 347.2,1275.7 343.2,1273.1 340.2,1269.2 334.2,1259.1 332.9,1254.7 333.0,1250.7 334.3,1247.7 337.2,1245.2 339.2,1244.6 342.2,1244.6 348.8,1246.7 352.5,1248.7 355.1,1250.7 358.2,1255.0 359.2,1257.7 359.8,1261.7 359.2,1267.7 358.0,1270.7 356.2,1273.3 354.2,1275.1 352.2,1276.0"/><path d="M352.2,1270.9 349.2,1271.3 346.2,1270.1 340.2,1264.3 336.2,1259.3 334.6,1255.7 334.3,1252.7 335.2,1249.5 337.2,1247.3 339.2,1246.5 341.2,1246.3 345.6,1247.7 351.0,1251.7 354.4,1255.7 356.2,1260.4 356.2,1264.7 354.6,1268.7 352.2,1270.9"/><path d="M343.2,1259.7 341.2,1259.8 339.2,1258.8 336.9,1255.7 336.4,1253.7 336.7,1251.7 338.0,1249.7 339.2,1249.1 341.2,1248.9 343.1,1249.7 345.6,1252.7 346.0,1254.7 345.7,1256.7 344.5,1258.7 343.2,1259.7"/></g>
<g fill="#555"><rect x="377.0" y="1221.9" width="1" height="1"/><rect x="397.2" y="1277.2" width="1" height="1"/><rect x="333.2" y="1205.6" width="1" height="1"/><rect x="332.4" y="1176.4" width="1" height="1"/><rect x="279.7" y="1298.2" width="1" height="1"/><rect x="272.0" y="1290.4" width="1" height="1"/><rect x="381.6" y="1250.9" width="1" height="1"/><rect x="322.3" y="1184.9" width="1" height="1"/><rect x="337.6" y="1306.4" width="1" height="1"/><rect x="270.4" y="1182.4" width="1" height="1"/><rect x="342.0" y="1306.7" width="1" height="1"/><rect x="252.7" y="1188.3" width="1" height="1"/><rect x="396.1" y="1236.8" width="1" height="1"/><rect x="295.7" y="1301.7" width="1" height="1"/><rect x="391.8" y="1190.6" width="1" height="1"/></g>
<rect x="232.2" y="1137.7" width="185.5" height="184.2" fill="none" stroke="#9a9a9a" stroke-width="1.9"/>
<line x1="320.6" y1="1137.7" x2="320.6" y2="1321.9" stroke="#3a3a3a" stroke-width="1.7"/>
<line x1="232.2" y1="1238.2" x2="417.7" y2="1238.2" stroke="#3a3a3a" stroke-width="1.7"/>
<text transform="translate(235.30,1176.65) scale(0.9750,1)" font-size="26.600">22.0</text>
<text transform="translate(338.20,1176.90) scale(0.9750,1)" font-size="26.600">14.2</text>
<text transform="translate(235.55,1300.45) scale(0.9750,1)" font-size="26.600">22.8</text>
<text transform="translate(337.95,1300.45) scale(0.9750,1)" font-size="26.600">40.9</text>
<g fill="none" stroke="#777" stroke-width="0.8"><path d="M493.7,1264.8 488.7,1265.0 483.7,1264.5 478.7,1263.4 474.7,1262.0 470.7,1259.8 466.7,1256.7 464.2,1253.7 462.6,1250.7 459.7,1238.9 454.6,1230.7 452.2,1225.7 451.1,1221.7 450.7,1216.7 451.4,1210.7 454.0,1203.7 457.7,1198.3 462.7,1193.6 467.7,1190.3 472.7,1188.1 478.7,1186.5 483.7,1185.8 489.7,1185.8 494.7,1186.5 500.7,1188.1 506.7,1190.4 509.7,1190.9 522.7,1188.4 533.7,1188.6 536.7,1187.6 543.7,1182.5 549.7,1179.4 554.7,1177.9 561.7,1177.0 570.7,1177.9 577.7,1180.3 583.7,1183.9 589.5,1189.7 592.1,1193.7 594.5,1199.7 595.3,1204.7 595.1,1210.7 593.9,1215.7 591.5,1220.7 587.8,1225.7 583.7,1229.5 579.7,1232.1 575.7,1234.0 571.7,1235.3 566.7,1236.2 561.7,1236.4 556.7,1235.9 552.7,1235.0 544.1,1231.7 541.7,1231.2 538.7,1231.6 530.7,1234.3 519.7,1236.0 518.6,1236.7 517.5,1238.7 517.8,1245.7 517.1,1249.7 515.8,1252.7 513.6,1255.7 509.7,1259.2 504.7,1262.0 498.7,1263.9 493.7,1264.8"/><path d="M496.7,1261.9 491.7,1262.5 486.7,1262.4 482.7,1261.9 477.7,1260.4 473.7,1258.5 470.7,1256.4 468.1,1253.7 466.2,1250.7 462.6,1238.7 456.9,1229.7 455.0,1225.7 453.8,1221.7 453.3,1217.7 454.0,1210.7 456.3,1204.7 459.8,1199.7 464.7,1195.1 468.7,1192.5 473.7,1190.2 479.7,1188.6 484.7,1188.0 490.7,1188.1 495.7,1189.0 508.7,1193.2 511.7,1193.1 522.7,1190.7 534.7,1190.9 538.0,1189.7 544.7,1184.6 549.7,1181.9 555.7,1179.9 561.7,1179.2 569.7,1179.9 576.7,1182.3 582.7,1186.1 587.3,1190.7 589.9,1194.7 591.9,1199.7 592.9,1204.7 592.8,1209.7 591.6,1214.7 589.4,1219.7 586.5,1223.7 582.7,1227.3 578.7,1230.0 574.7,1231.9 570.7,1233.2 565.7,1234.1 560.7,1234.1 555.7,1233.5 551.7,1232.3 544.7,1229.4 541.7,1228.8 538.7,1229.2 529.7,1232.3 517.7,1233.7 515.7,1234.9 514.5,1236.7 514.1,1238.7 514.1,1247.7 513.2,1250.7 511.3,1253.7 508.3,1256.7 504.7,1259.1 496.7,1261.9"/><path d="M490.7,1260.7 484.7,1260.3 479.7,1259.1 474.8,1256.7 471.2,1253.7 468.0,1248.7 464.7,1238.7 458.3,1228.7 456.4,1224.7 455.4,1220.7 455.0,1216.7 455.4,1212.7 456.4,1208.7 458.3,1204.7 460.3,1201.7 462.9,1198.7 466.7,1195.6 470.7,1193.2 475.7,1191.1 484.7,1189.5 489.7,1189.6 494.7,1190.3 505.7,1194.2 508.7,1194.8 511.8,1194.7 522.7,1192.2 534.7,1192.6 538.7,1191.2 545.7,1185.8 550.7,1183.1 556.7,1181.3 561.7,1180.7 568.7,1181.3 575.7,1183.6 581.7,1187.3 586.8,1192.7 589.1,1196.7 590.5,1200.7 591.3,1205.7 591.0,1210.7 589.5,1215.7 587.5,1219.7 584.3,1223.7 580.7,1226.9 573.7,1230.7 565.7,1232.5 560.7,1232.6 555.7,1231.9 550.7,1230.3 544.7,1227.7 541.7,1227.1 538.7,1227.5 528.7,1230.9 516.7,1232.2 514.0,1233.7 512.6,1235.7 511.9,1238.7 511.5,1247.7 510.3,1250.7 508.2,1253.7 504.7,1256.6 500.7,1258.7 495.7,1260.2 490.7,1260.7"/><path d="M493.7,1258.7 487.7,1258.9 482.7,1258.1 477.7,1256.1 474.2,1253.7 471.0,1249.7 466.4,1238.7 460.4,1229.7 458.3,1225.7 457.0,1221.7 456.4,1217.7 456.6,1213.7 457.5,1209.7 459.2,1205.7 461.2,1202.7 463.7,1199.7 467.3,1196.7 471.7,1194.0 475.7,1192.4 480.7,1191.1 485.7,1190.6 494.7,1191.5 505.7,1195.5 508.7,1196.1 512.7,1195.8 522.7,1193.5 535.7,1193.9 538.8,1192.7 545.7,1187.3 550.7,1184.4 556.7,1182.5 561.7,1181.9 568.7,1182.5 574.7,1184.4 580.7,1188.1 585.2,1192.7 587.6,1196.7 589.4,1201.7 590.0,1206.7 589.6,1210.7 588.1,1215.7 585.9,1219.7 583.5,1222.7 579.7,1226.1 572.7,1229.8 564.7,1231.4 559.7,1231.3 555.7,1230.7 544.7,1226.3 541.7,1225.7 537.7,1226.4 528.7,1229.5 515.7,1231.0 512.8,1232.7 510.9,1235.7 510.1,1238.7 509.3,1246.7 507.0,1251.7 504.7,1254.1 501.7,1256.1 497.7,1257.8 493.7,1258.7"/><path d="M493.7,1256.8 488.7,1257.1 483.7,1256.3 479.4,1254.7 475.7,1252.1 472.7,1248.3 467.3,1237.7 461.1,1228.7 459.1,1224.7 458.0,1220.7 457.6,1216.7 458.8,1209.7 460.6,1205.7 462.6,1202.7 465.3,1199.7 468.7,1197.0 472.7,1194.7 476.7,1193.2 480.7,1192.2 485.7,1191.7 490.7,1191.9 494.7,1192.6 505.7,1196.7 508.7,1197.3 512.7,1197.0 522.7,1194.8 535.7,1195.1 539.7,1193.5 546.7,1187.9 550.7,1185.6 555.7,1183.8 561.7,1183.0 568.7,1183.6 575.7,1186.1 581.0,1189.7 585.3,1194.7 587.3,1198.7 588.5,1202.7 588.8,1206.7 588.3,1211.7 586.9,1215.7 584.6,1219.7 581.7,1223.0 578.4,1225.7 574.7,1227.8 570.7,1229.3 566.7,1230.2 561.7,1230.4 554.7,1229.3 544.7,1225.1 540.7,1224.5 537.7,1225.1 528.7,1228.3 517.7,1229.4 514.7,1230.1 512.0,1231.7 509.8,1234.7 508.8,1237.7 506.8,1246.7 504.8,1250.7 502.7,1252.8 499.9,1254.7 493.7,1256.8"/><path d="M489.7,1254.7 485.7,1254.3 482.7,1253.4 479.7,1251.9 476.7,1249.5 473.7,1245.9 468.0,1236.7 462.3,1228.7 459.9,1223.7 458.9,1219.7 458.7,1215.7 459.3,1211.7 460.2,1208.7 462.4,1204.7 464.7,1201.7 470.7,1196.9 474.7,1194.9 478.7,1193.6 486.7,1192.6 494.7,1193.6 505.7,1197.7 508.7,1198.3 512.7,1198.1 523.7,1195.9 535.7,1196.2 539.7,1194.8 546.7,1189.1 551.7,1186.2 556.7,1184.5 562.7,1183.9 569.7,1184.8 575.7,1187.2 580.7,1190.8 584.7,1195.7 586.6,1199.7 587.6,1203.7 587.8,1207.7 587.2,1211.7 585.8,1215.7 583.3,1219.7 580.6,1222.7 576.7,1225.6 572.7,1227.6 568.7,1228.9 560.7,1229.5 554.7,1228.3 544.7,1224.0 540.7,1223.4 537.7,1223.9 527.7,1227.3 517.7,1228.3 514.7,1229.0 511.7,1230.5 509.6,1232.7 508.1,1235.7 504.7,1245.3 501.7,1250.0 498.7,1252.4 495.8,1253.7 489.7,1254.7"/><path d="M489.7,1250.7 485.7,1250.4 481.7,1249.3 478.7,1247.7 475.7,1245.3 472.7,1241.8 464.1,1229.7 460.9,1223.7 459.9,1219.7 459.7,1215.7 460.3,1211.7 461.3,1208.7 463.5,1204.7 465.7,1202.0 471.7,1197.3 478.7,1194.4 486.7,1193.4 494.7,1194.4 504.7,1198.3 508.7,1199.2 512.7,1199.1 523.7,1197.0 535.7,1197.3 540.1,1195.7 547.4,1189.7 551.7,1187.1 556.7,1185.4 562.7,1184.7 569.7,1185.7 575.7,1188.2 580.7,1192.1 584.2,1196.7 585.9,1200.7 586.8,1204.7 586.8,1208.7 585.9,1212.7 584.2,1216.7 582.2,1219.7 579.2,1222.7 575.7,1225.2 568.7,1228.0 564.7,1228.6 560.7,1228.6 554.7,1227.4 544.7,1223.0 540.7,1222.3 536.7,1223.0 527.7,1226.1 514.7,1227.9 511.7,1229.3 509.1,1231.7 503.7,1242.5 500.7,1246.3 495.7,1249.5 489.7,1250.7"/><path d="M491.7,1246.8 486.7,1247.1 482.7,1246.6 479.7,1245.6 476.7,1243.9 471.7,1238.5 464.5,1228.7 461.9,1223.7 460.8,1219.7 460.6,1215.7 461.2,1211.7 462.3,1208.7 466.2,1202.7 469.6,1199.7 472.7,1197.7 479.7,1195.0 486.7,1194.2 494.7,1195.3 504.7,1199.2 508.7,1200.1 513.7,1200.0 523.7,1198.3 534.7,1198.6 537.7,1197.9 540.7,1196.4 547.7,1190.5 551.7,1188.1 556.7,1186.3 562.7,1185.6 568.7,1186.3 574.9,1188.7 580.1,1192.7 583.7,1197.7 585.0,1200.7 585.8,1204.7 585.8,1208.7 585.0,1212.7 583.2,1216.7 581.0,1219.7 577.9,1222.7 574.7,1224.8 567.7,1227.3 563.7,1227.8 559.7,1227.7 553.7,1226.2 544.7,1222.0 539.7,1221.3 535.7,1222.1 527.7,1224.9 515.7,1226.6 511.7,1228.2 508.7,1230.7 503.7,1239.5 500.7,1243.2 496.7,1245.6 491.7,1246.8"/><path d="M491.7,1244.7 483.7,1244.9 479.7,1243.8 476.7,1242.1 473.1,1238.7 466.7,1230.3 462.8,1223.7 461.7,1219.7 461.5,1215.7 462.1,1211.7 463.2,1208.7 464.9,1205.7 467.4,1202.7 470.7,1199.9 473.7,1198.1 480.7,1195.6 487.7,1195.0 494.7,1196.1 504.7,1200.1 508.7,1201.0 513.7,1201.0 523.7,1199.7 534.7,1199.7 537.7,1199.0 540.7,1197.6 547.7,1191.6 552.3,1188.7 557.7,1186.9 562.7,1186.4 568.7,1187.1 574.7,1189.5 579.7,1193.5 582.8,1197.7 584.1,1200.7 585.0,1204.7 585.0,1208.7 584.1,1212.7 582.2,1216.7 579.9,1219.7 576.7,1222.6 573.7,1224.4 566.7,1226.7 559.7,1226.9 553.7,1225.3 544.7,1221.0 539.7,1220.2 535.7,1220.8 526.7,1223.7 516.7,1225.4 511.7,1227.2 508.7,1229.3 506.8,1231.7 502.7,1238.8 499.7,1241.8 496.7,1243.5 491.7,1244.7"/><path d="M493.7,1242.9 489.7,1243.5 484.7,1243.5 480.7,1242.7 477.7,1241.3 472.7,1236.7 466.5,1228.7 463.7,1223.7 462.8,1220.7 462.3,1216.7 462.8,1212.7 463.7,1209.7 465.3,1206.7 467.7,1203.5 470.9,1200.7 474.7,1198.4 480.7,1196.3 487.7,1195.7 494.7,1196.9 504.7,1201.0 508.7,1201.9 513.7,1202.1 533.7,1201.2 537.7,1200.2 540.7,1198.7 548.7,1191.8 552.7,1189.4 557.7,1187.7 562.7,1187.2 568.7,1187.9 574.7,1190.5 578.8,1193.7 582.3,1198.7 583.5,1201.7 584.2,1205.7 583.9,1209.7 583.2,1212.7 581.2,1216.7 578.8,1219.7 575.7,1222.3 572.7,1224.0 566.7,1225.9 559.7,1226.1 554.3,1224.7 545.7,1220.4 542.7,1219.5 538.7,1219.1 533.7,1219.8 515.7,1224.6 510.7,1226.7 507.2,1229.7 500.7,1239.3 497.7,1241.5 493.7,1242.9"/><path d="M492.7,1241.9 484.7,1242.4 480.7,1241.5 477.7,1240.1 472.7,1235.3 466.8,1227.7 464.6,1223.7 463.6,1220.7 463.2,1216.7 463.6,1212.7 464.6,1209.7 466.2,1206.7 468.7,1203.6 471.7,1201.1 475.7,1198.8 481.7,1196.9 488.7,1196.5 494.7,1197.6 503.7,1201.5 507.7,1202.6 524.7,1203.8 529.7,1203.5 535.7,1202.1 539.7,1200.5 542.7,1198.4 548.9,1192.7 553.7,1189.8 557.7,1188.5 562.7,1187.9 568.7,1188.8 573.7,1190.8 578.6,1194.7 581.7,1199.4 582.9,1202.7 583.3,1205.7 583.1,1209.7 582.3,1212.7 580.8,1215.7 578.6,1218.7 575.7,1221.3 572.7,1223.1 566.7,1225.1 560.7,1225.4 554.7,1224.0 545.7,1219.4 542.7,1218.4 536.7,1217.8 529.7,1218.5 513.7,1224.3 509.7,1226.3 506.1,1229.7 501.7,1236.5 499.7,1238.7 496.7,1240.6 492.7,1241.9"/><path d="M568.7,1223.8 563.7,1224.6 557.7,1224.1 553.7,1222.7 544.7,1218.0 533.7,1215.4 531.7,1214.5 530.0,1212.7 529.4,1210.7 529.6,1208.7 532.0,1205.7 541.7,1200.5 549.0,1193.7 553.7,1190.7 557.7,1189.3 561.7,1188.8 566.7,1189.1 570.7,1190.3 575.7,1193.2 579.7,1197.5 582.0,1202.7 582.4,1207.7 581.3,1212.7 578.3,1217.7 573.7,1221.6 568.7,1223.8"/><path d="M492.7,1240.9 488.7,1241.4 484.7,1241.3 480.7,1240.4 477.7,1238.9 474.2,1235.7 468.6,1228.7 466.0,1224.7 464.8,1221.7 464.1,1218.7 464.1,1214.7 465.1,1210.7 466.6,1207.7 468.8,1204.7 471.7,1202.0 474.7,1200.1 478.7,1198.4 485.7,1197.2 492.7,1197.9 505.7,1203.0 515.8,1204.7 519.1,1205.7 522.0,1207.7 523.2,1209.7 523.9,1214.7 523.4,1216.7 521.9,1218.7 519.2,1220.7 508.7,1225.9 505.7,1228.8 499.7,1237.3 496.7,1239.4 492.7,1240.9"/><path d="M564.7,1223.7 560.3,1223.7 555.7,1222.6 545.7,1217.3 536.7,1214.0 534.3,1211.7 533.8,1209.7 534.3,1207.7 535.9,1205.7 543.7,1200.2 549.7,1194.3 554.7,1191.2 558.7,1190.0 563.7,1189.6 567.7,1190.2 571.8,1191.7 576.2,1194.7 579.7,1199.3 581.4,1204.7 581.3,1209.7 579.4,1214.7 575.7,1219.1 570.7,1222.2 564.7,1223.7"/><path d="M492.7,1239.9 488.7,1240.5 484.7,1240.4 480.7,1239.4 477.7,1237.7 474.7,1235.0 469.6,1228.7 466.9,1224.7 465.6,1221.7 465.0,1218.7 465.0,1214.7 465.7,1211.7 466.9,1208.7 469.0,1205.7 471.7,1203.0 475.2,1200.7 478.7,1199.2 485.7,1197.9 489.7,1198.1 493.7,1198.9 504.7,1203.6 515.7,1206.4 517.8,1207.7 519.7,1210.7 520.3,1213.7 520.2,1215.7 518.7,1218.7 516.3,1220.7 507.6,1225.7 504.7,1228.6 498.9,1236.7 495.9,1238.7 492.7,1239.9"/><path d="M565.7,1222.8 559.7,1222.8 554.7,1221.3 545.7,1216.1 538.7,1212.7 537.7,1211.7 536.9,1209.7 537.9,1206.7 543.7,1201.6 549.7,1195.4 553.7,1192.6 558.7,1190.8 561.7,1190.4 565.7,1190.6 569.7,1191.7 572.7,1193.2 575.7,1195.5 577.6,1197.7 579.3,1200.7 580.3,1203.7 580.6,1206.7 580.3,1209.7 579.3,1212.7 577.6,1215.7 575.7,1217.9 572.7,1220.2 569.7,1221.7 565.7,1222.8"/><path d="M492.7,1238.9 488.7,1239.6 484.7,1239.4 481.7,1238.7 478.7,1237.3 475.6,1234.7 470.6,1228.7 467.9,1224.7 466.6,1221.7 465.9,1218.7 465.9,1214.7 466.6,1211.7 467.9,1208.7 472.2,1203.7 475.1,1201.7 478.7,1200.0 485.7,1198.7 489.7,1198.8 493.7,1199.7 503.7,1204.1 513.7,1207.1 516.0,1208.7 517.7,1211.7 517.9,1215.7 516.4,1218.7 506.2,1225.7 503.7,1228.5 499.7,1234.4 497.7,1236.4 492.7,1238.9"/><path d="M565.7,1221.8 559.7,1221.8 554.7,1220.3 542.3,1212.7 540.7,1211.3 539.8,1209.7 540.6,1206.7 549.8,1196.7 553.7,1193.7 558.7,1191.8 561.7,1191.4 565.7,1191.6 571.7,1193.7 574.5,1195.7 576.7,1198.1 578.3,1200.7 579.3,1203.7 579.6,1206.7 579.3,1209.7 578.3,1212.7 576.7,1215.3 574.5,1217.7 571.7,1219.7 565.7,1221.8"/><path d="M487.7,1238.7 482.7,1238.1 478.1,1235.7 471.7,1228.7 468.4,1223.7 467.0,1219.7 466.8,1214.7 467.9,1210.7 470.7,1206.3 474.7,1202.9 478.7,1200.9 483.2,1199.7 487.7,1199.5 494.7,1200.9 503.7,1205.1 510.7,1207.3 513.7,1208.9 515.3,1210.7 516.2,1213.7 515.7,1216.7 514.4,1218.7 505.7,1224.9 503.2,1227.7 499.1,1233.7 496.7,1236.0 492.7,1237.9 487.7,1238.7"/><path d="M565.7,1220.8 559.7,1220.8 554.7,1219.1 545.4,1212.7 542.8,1209.7 542.8,1207.7 543.9,1205.7 550.3,1197.7 554.0,1194.7 558.7,1192.8 561.7,1192.4 565.7,1192.6 571.4,1194.7 575.8,1198.7 578.1,1203.7 578.5,1206.7 578.1,1209.7 575.8,1214.7 571.4,1218.7 565.7,1220.8"/><path d="M488.7,1237.8 482.7,1237.1 479.7,1235.7 477.7,1234.1 470.6,1225.7 468.7,1222.2 467.7,1218.7 467.6,1215.7 468.2,1212.7 469.4,1209.7 471.5,1206.7 476.7,1202.7 479.7,1201.4 483.7,1200.5 489.7,1200.5 495.7,1202.2 503.7,1206.2 510.7,1208.7 513.2,1210.7 514.4,1213.7 514.2,1215.7 513.2,1217.7 504.5,1224.7 496.8,1234.7 493.4,1236.7 488.7,1237.8"/><path d="M564.7,1219.8 559.7,1219.7 554.5,1217.7 548.0,1212.7 546.2,1210.7 545.4,1208.7 545.7,1206.7 546.7,1204.7 551.0,1198.7 554.7,1195.6 559.7,1193.7 565.7,1193.7 570.8,1195.7 573.4,1197.7 575.1,1199.7 577.1,1204.7 576.9,1209.7 575.7,1212.7 574.3,1214.7 572.2,1216.7 569.7,1218.3 564.7,1219.8"/><path d="M489.7,1236.7 486.7,1236.9 483.7,1236.4 480.7,1235.1 478.7,1233.7 471.7,1225.6 470.0,1222.7 469.0,1219.7 468.6,1216.7 469.0,1213.7 470.0,1210.7 471.7,1208.0 473.9,1205.7 476.7,1203.7 482.7,1201.5 488.7,1201.2 494.7,1202.7 502.7,1206.9 509.5,1209.7 511.7,1211.7 512.5,1213.7 512.3,1215.7 511.2,1217.7 503.7,1224.0 496.7,1233.3 493.7,1235.5 489.7,1236.7"/><path d="M566.7,1218.0 561.7,1218.6 556.7,1217.3 551.5,1213.7 548.4,1209.7 548.2,1206.7 550.5,1201.7 553.7,1198.1 557.7,1195.7 562.7,1194.8 567.7,1195.7 572.4,1198.7 575.0,1202.7 575.7,1207.7 574.6,1211.7 571.2,1215.7 566.7,1218.0"/><path d="M489.7,1235.7 484.7,1235.6 482.1,1234.7 479.7,1233.1 472.7,1225.1 470.1,1219.7 469.7,1216.7 470.1,1213.7 472.5,1208.7 477.0,1204.7 482.7,1202.5 488.7,1202.2 494.5,1203.7 508.0,1210.7 509.7,1212.3 510.4,1213.7 509.7,1216.7 502.7,1223.4 495.8,1232.7 493.0,1234.7 489.7,1235.7"/><path d="M563.7,1216.8 559.7,1216.4 555.7,1214.7 552.5,1211.7 551.3,1209.7 550.8,1207.7 551.7,1203.7 553.7,1200.6 556.7,1198.2 560.7,1196.7 564.7,1196.7 569.5,1198.7 572.4,1201.7 573.8,1205.7 573.3,1209.7 571.7,1212.7 567.8,1215.7 563.7,1216.8"/><path d="M488.7,1234.7 483.7,1234.1 479.9,1231.7 473.7,1224.5 472.1,1221.7 471.2,1218.7 471.4,1213.7 472.6,1210.7 474.0,1208.7 477.7,1205.6 483.7,1203.4 488.7,1203.3 494.0,1204.7 505.9,1211.7 507.7,1214.1 507.0,1216.7 501.6,1222.7 495.0,1231.7 492.4,1233.7 488.7,1234.7"/><path d="M563.7,1213.7 560.7,1213.5 557.7,1212.1 555.7,1210.1 554.7,1207.7 554.8,1205.7 556.2,1202.7 558.6,1200.7 561.7,1199.7 564.7,1199.9 567.7,1201.3 569.7,1203.6 570.4,1205.7 570.1,1208.7 568.7,1211.2 566.7,1212.8 563.7,1213.7"/><path d="M490.7,1232.9 486.7,1233.5 483.7,1232.7 482.1,1231.7 475.6,1224.7 472.9,1219.7 472.6,1214.7 474.3,1210.7 477.0,1207.7 481.7,1205.2 487.7,1204.5 493.1,1205.7 496.8,1207.7 502.1,1211.7 504.0,1213.7 504.3,1214.7 503.3,1217.7 494.8,1229.7 492.9,1231.7 490.7,1232.9"/><path d="M487.7,1231.8 484.7,1231.2 481.5,1228.7 476.3,1222.7 474.8,1219.7 474.4,1217.7 474.8,1213.7 477.4,1209.7 480.7,1207.4 485.7,1206.1 490.7,1206.6 495.1,1208.7 499.5,1212.7 500.7,1215.7 499.3,1219.7 493.2,1228.7 490.7,1231.0 487.7,1231.8"/><path d="M489.7,1227.8 487.7,1228.6 484.7,1227.6 479.7,1222.6 477.5,1218.7 477.3,1215.7 478.4,1212.7 480.7,1210.4 483.7,1209.0 487.7,1208.6 491.6,1209.7 494.4,1211.7 496.4,1214.7 496.7,1216.7 495.8,1219.7 492.7,1224.4 489.7,1227.8"/></g>
<g fill="#555"><rect x="540.9" y="1144.7" width="1" height="1"/><rect x="539.7" y="1177.3" width="1" height="1"/><rect x="604.7" y="1181.5" width="1" height="1"/><rect x="535.9" y="1237.0" width="1" height="1"/><rect x="608.3" y="1173.8" width="1" height="1"/><rect x="457.8" y="1260.7" width="1" height="1"/><rect x="446.4" y="1181.1" width="1" height="1"/><rect x="467.7" y="1263.8" width="1" height="1"/><rect x="598.4" y="1203.4" width="1" height="1"/><rect x="467.5" y="1155.2" width="1" height="1"/><rect x="612.7" y="1243.8" width="1" height="1"/><rect x="595.9" y="1245.1" width="1" height="1"/><rect x="545.3" y="1171.5" width="1" height="1"/><rect x="570.2" y="1248.6" width="1" height="1"/><rect x="473.0" y="1182.5" width="1" height="1"/><rect x="517.9" y="1252.1" width="1" height="1"/><rect x="566.1" y="1257.3" width="1" height="1"/><rect x="568.6" y="1242.8" width="1" height="1"/><rect x="517.7" y="1189.0" width="1" height="1"/><rect x="607.8" y="1155.5" width="1" height="1"/><rect x="522.7" y="1164.4" width="1" height="1"/><rect x="560.1" y="1175.3" width="1" height="1"/><rect x="546.7" y="1165.9" width="1" height="1"/><rect x="512.8" y="1187.2" width="1" height="1"/><rect x="596.6" y="1240.6" width="1" height="1"/><rect x="493.5" y="1289.6" width="1" height="1"/><rect x="605.0" y="1200.1" width="1" height="1"/><rect x="548.1" y="1256.3" width="1" height="1"/><rect x="556.5" y="1177.2" width="1" height="1"/><rect x="475.2" y="1180.1" width="1" height="1"/><rect x="453.5" y="1265.9" width="1" height="1"/><rect x="593.4" y="1221.3" width="1" height="1"/><rect x="439.3" y="1258.0" width="1" height="1"/><rect x="554.1" y="1242.1" width="1" height="1"/><rect x="463.8" y="1169.2" width="1" height="1"/><rect x="471.7" y="1270.9" width="1" height="1"/><rect x="521.2" y="1250.1" width="1" height="1"/><rect x="524.8" y="1187.1" width="1" height="1"/><rect x="443.2" y="1194.4" width="1" height="1"/><rect x="598.4" y="1160.2" width="1" height="1"/><rect x="443.0" y="1244.2" width="1" height="1"/><rect x="511.7" y="1163.7" width="1" height="1"/><rect x="520.3" y="1177.1" width="1" height="1"/><rect x="593.3" y="1231.3" width="1" height="1"/><rect x="600.3" y="1206.7" width="1" height="1"/><rect x="463.6" y="1189.5" width="1" height="1"/><rect x="507.4" y="1267.3" width="1" height="1"/><rect x="485.3" y="1275.1" width="1" height="1"/><rect x="443.4" y="1212.6" width="1" height="1"/><rect x="547.3" y="1241.2" width="1" height="1"/></g>
<rect x="434.7" y="1137.7" width="185.5" height="184.2" fill="none" stroke="#9a9a9a" stroke-width="1.9"/>
<line x1="524" y1="1137.7" x2="524" y2="1321.9" stroke="#3a3a3a" stroke-width="1.7"/>
<line x1="434.7" y1="1238.2" x2="620.2" y2="1238.2" stroke="#3a3a3a" stroke-width="1.7"/>
<text transform="translate(438.05,1176.65) scale(0.9750,1)" font-size="26.600">45.3</text>
<text transform="translate(541.35,1176.65) scale(0.9750,1)" font-size="26.600">43.3</text>
<text transform="translate(438.05,1300.45) scale(0.9750,1)" font-size="26.600">7.73</text>
<text transform="translate(541.35,1300.45) scale(0.9750,1)" font-size="26.600">3.58</text>
<g fill="none" stroke="#777" stroke-width="0.8"><path d="M748.2,1309.7 741.2,1309.0 733.2,1306.4 726.2,1302.1 720.8,1296.7 716.7,1289.7 714.8,1283.7 714.2,1278.7 714.7,1268.7 714.2,1266.5 712.2,1266.9 705.2,1271.0 700.2,1273.1 694.2,1274.5 687.2,1275.0 680.2,1274.2 674.2,1272.4 668.2,1269.2 664.2,1265.6 661.1,1260.7 659.3,1252.7 658.2,1250.2 656.0,1247.7 649.2,1242.0 645.5,1237.7 642.0,1231.7 639.8,1224.7 639.3,1216.7 640.8,1208.7 642.5,1204.7 644.8,1200.7 648.0,1196.7 651.2,1193.6 654.2,1191.3 659.2,1188.5 668.2,1185.5 673.2,1184.8 678.2,1184.7 687.2,1186.2 692.2,1188.0 696.2,1190.1 703.2,1195.4 707.6,1200.7 714.2,1212.4 715.2,1212.4 716.2,1211.3 720.9,1203.7 726.2,1198.3 733.2,1194.2 740.2,1192.1 748.2,1191.6 753.2,1192.3 757.2,1193.4 761.2,1195.1 765.2,1197.5 770.7,1202.7 773.8,1207.7 775.7,1213.7 776.0,1219.7 774.6,1225.7 772.1,1230.7 768.2,1235.4 763.2,1239.2 757.1,1242.7 755.7,1243.7 755.4,1244.7 756.3,1245.7 764.2,1249.4 769.2,1252.5 773.9,1256.7 777.0,1260.7 779.7,1265.7 781.6,1271.7 782.2,1277.7 781.6,1283.7 779.7,1289.7 777.7,1293.7 774.2,1298.3 770.2,1302.1 765.2,1305.4 759.2,1308.0 754.2,1309.2 748.2,1309.7"/><path d="M717.3,1251.7 720.2,1237.6 720.5,1233.7 719.2,1229.5 716.2,1224.6 715.2,1223.7 714.2,1224.1 713.2,1225.6 708.2,1236.6 707.8,1238.7 708.9,1241.7 713.0,1246.7 716.2,1251.6 717.2,1252.1 717.3,1251.7"/><path d="M695.2,1271.9 688.2,1272.6 681.2,1271.9 675.2,1270.0 669.6,1266.7 666.6,1263.7 664.7,1260.7 663.7,1257.7 662.5,1251.7 661.0,1248.7 649.7,1238.7 646.6,1234.7 644.0,1229.7 642.3,1223.7 641.9,1217.7 642.7,1211.7 644.4,1206.7 647.3,1201.7 651.6,1196.7 656.2,1193.1 662.2,1189.9 668.2,1188.0 676.2,1187.1 684.2,1188.0 690.2,1189.9 696.2,1193.1 701.8,1197.7 705.8,1202.7 708.8,1208.7 710.6,1215.7 710.6,1221.7 709.1,1227.7 705.0,1236.7 704.5,1239.7 705.7,1242.7 709.9,1247.7 711.7,1250.7 712.7,1254.7 712.5,1258.7 710.7,1262.7 706.9,1266.7 701.2,1270.0 695.2,1271.9"/><path d="M754.2,1306.9 747.2,1307.4 740.2,1306.4 734.2,1304.3 729.2,1301.4 724.9,1297.7 721.0,1292.7 718.5,1287.7 716.8,1280.7 717.1,1272.7 720.7,1259.7 720.7,1246.7 722.9,1234.7 722.6,1230.7 719.9,1223.7 719.0,1219.7 718.9,1216.7 719.6,1212.7 720.7,1209.7 722.9,1205.7 728.2,1200.1 735.2,1196.1 743.2,1194.2 749.2,1194.2 755.2,1195.4 760.2,1197.5 765.2,1200.9 768.8,1204.7 771.6,1209.7 773.0,1214.7 773.1,1219.7 772.0,1224.7 770.1,1228.7 767.2,1232.6 763.7,1235.7 758.2,1238.9 752.2,1241.0 747.2,1241.7 740.2,1241.1 738.2,1241.5 736.8,1243.7 737.3,1246.7 738.2,1247.9 740.2,1248.5 748.2,1247.7 754.2,1248.4 760.2,1250.2 766.2,1253.3 771.5,1257.7 775.4,1262.7 777.9,1267.7 779.6,1274.7 779.6,1280.7 778.6,1285.7 776.6,1290.7 773.3,1295.7 769.2,1299.9 764.2,1303.3 759.2,1305.5 754.2,1306.9"/><path d="M689.2,1270.7 683.2,1270.3 678.2,1269.1 673.3,1266.7 670.2,1264.2 667.1,1259.7 665.1,1251.7 663.7,1248.7 662.0,1246.7 655.2,1241.6 651.1,1237.7 647.4,1232.7 644.8,1226.7 643.8,1221.7 643.8,1215.7 644.8,1210.7 647.4,1204.7 651.1,1199.7 655.2,1195.9 661.2,1192.2 666.2,1190.2 672.2,1189.0 679.2,1188.9 686.2,1190.2 692.2,1192.7 697.2,1195.9 702.2,1200.7 705.5,1205.7 707.9,1211.7 708.8,1217.7 708.3,1223.7 706.9,1228.7 702.9,1236.7 702.1,1239.7 702.9,1242.7 707.6,1248.7 709.3,1251.7 710.0,1254.7 709.6,1258.7 708.3,1261.7 706.7,1263.7 702.2,1267.2 696.2,1269.7 689.2,1270.7"/><path d="M750.2,1305.8 744.2,1305.6 738.2,1304.2 733.2,1302.1 728.2,1298.6 724.4,1294.7 721.2,1289.7 719.0,1283.7 718.3,1278.7 719.0,1271.7 722.3,1260.7 723.0,1246.7 725.0,1235.7 724.6,1230.7 721.8,1222.7 721.2,1219.7 721.2,1215.7 722.1,1211.7 725.3,1205.7 728.0,1202.7 731.2,1200.2 738.2,1197.0 745.2,1195.8 751.2,1196.2 756.2,1197.6 761.2,1200.2 765.2,1203.5 768.5,1207.7 770.3,1211.7 771.2,1216.7 770.8,1221.7 769.5,1225.7 767.8,1228.7 765.2,1231.9 761.9,1234.7 757.2,1237.4 751.2,1239.2 746.2,1239.7 739.2,1239.0 737.2,1239.2 736.2,1239.7 734.8,1241.7 734.4,1243.7 734.8,1246.7 736.2,1248.9 738.2,1250.2 747.2,1249.5 753.2,1249.9 760.2,1251.9 766.2,1255.2 771.2,1259.7 774.7,1264.7 777.2,1270.7 778.1,1276.7 777.8,1281.7 776.5,1286.7 774.1,1291.7 770.2,1296.7 766.2,1300.2 761.2,1303.1 755.2,1305.1 750.2,1305.8"/><path d="M692.2,1268.7 686.2,1268.9 681.2,1268.1 676.2,1266.1 672.8,1263.7 670.9,1261.7 669.2,1258.7 667.4,1251.7 666.0,1248.7 663.3,1245.7 656.2,1240.6 652.2,1236.9 649.1,1232.7 646.7,1227.7 645.4,1222.7 645.2,1216.7 646.0,1211.7 647.9,1206.7 651.2,1201.7 655.1,1197.7 660.2,1194.2 665.2,1191.9 671.2,1190.5 678.2,1190.2 684.2,1191.1 690.2,1193.2 695.2,1196.0 699.5,1199.7 703.3,1204.7 705.8,1209.7 707.3,1216.7 706.9,1223.7 704.9,1229.7 700.7,1237.7 700.2,1240.7 701.2,1243.9 706.7,1251.7 707.5,1254.7 707.3,1257.7 705.4,1261.7 702.4,1264.7 698.2,1267.1 692.2,1268.7"/><path d="M732.2,1239.2 730.2,1239.7 729.2,1239.1 728.2,1237.5 723.0,1219.7 722.9,1216.7 723.6,1212.7 725.3,1208.7 727.3,1205.7 730.4,1202.7 734.2,1200.2 739.2,1198.2 744.2,1197.4 749.2,1197.5 754.2,1198.5 758.2,1200.2 762.2,1202.9 765.1,1205.7 767.1,1208.7 768.5,1211.7 769.4,1215.7 769.5,1218.7 768.8,1222.7 767.1,1226.7 765.1,1229.7 760.2,1234.0 753.2,1237.2 746.2,1238.1 736.2,1237.2 732.2,1239.2"/><path d="M755.2,1303.8 750.2,1304.6 745.2,1304.5 740.2,1303.5 735.2,1301.7 731.2,1299.3 726.9,1295.7 723.8,1291.7 721.6,1287.7 720.3,1283.7 719.7,1279.7 719.7,1275.7 720.3,1271.7 723.2,1262.7 725.2,1253.7 727.2,1250.7 730.2,1248.8 732.2,1248.7 736.2,1251.2 738.2,1251.8 745.2,1250.9 750.2,1250.8 755.2,1251.6 760.2,1253.3 765.2,1256.1 769.2,1259.4 772.6,1263.7 774.8,1267.7 776.5,1273.7 776.8,1278.7 775.8,1284.7 773.8,1289.7 770.4,1294.7 766.2,1298.6 761.2,1301.7 755.2,1303.8"/><path d="M692.2,1266.8 687.2,1267.1 683.2,1266.6 678.2,1264.8 675.1,1262.7 672.0,1258.7 669.2,1250.7 667.4,1247.7 665.4,1245.7 657.2,1239.9 653.6,1236.7 650.5,1232.7 647.9,1227.7 646.6,1222.7 646.3,1217.7 647.0,1212.7 648.8,1207.7 651.9,1202.7 655.2,1199.1 660.2,1195.5 665.2,1193.1 671.2,1191.6 677.2,1191.2 683.2,1192.0 689.2,1193.9 694.2,1196.8 698.8,1200.7 701.9,1204.7 704.5,1209.7 706.0,1216.7 705.6,1223.7 704.1,1228.7 699.1,1237.7 698.4,1240.7 699.3,1244.7 704.3,1252.7 704.8,1255.7 704.5,1257.7 703.1,1260.7 700.2,1263.6 696.2,1265.7 692.2,1266.8"/><path d="M747.2,1236.7 743.2,1236.6 731.2,1234.6 729.2,1232.3 726.7,1226.7 725.2,1222.7 724.5,1218.7 724.7,1214.7 725.5,1211.7 727.0,1208.7 729.3,1205.7 732.2,1203.1 736.2,1200.8 740.2,1199.4 744.2,1198.7 748.2,1198.7 752.2,1199.4 756.2,1200.8 760.2,1203.1 763.2,1205.8 765.9,1209.7 767.2,1212.7 767.9,1216.7 767.7,1220.7 766.8,1223.7 764.7,1227.7 762.2,1230.6 759.2,1233.0 755.2,1235.0 751.2,1236.2 747.2,1236.7"/><path d="M755.2,1302.7 750.2,1303.5 745.2,1303.4 740.2,1302.4 736.2,1301.0 732.2,1298.7 728.5,1295.7 725.8,1292.7 723.3,1288.7 721.7,1284.7 720.9,1280.7 720.7,1276.7 721.2,1272.7 726.2,1256.9 727.7,1254.7 730.2,1252.7 733.2,1252.1 738.2,1253.1 745.2,1252.0 749.2,1251.8 757.2,1253.3 762.2,1255.4 766.2,1258.2 770.2,1262.2 773.1,1266.7 774.9,1271.7 775.7,1277.7 774.9,1283.7 773.1,1288.7 769.8,1293.7 765.6,1297.7 760.2,1301.0 755.2,1302.7"/><path d="M693.2,1263.9 689.2,1264.6 685.2,1264.4 681.2,1263.2 678.2,1261.5 675.2,1258.1 671.6,1250.7 669.5,1247.7 666.2,1244.7 659.2,1240.1 655.2,1236.8 651.7,1232.7 649.5,1228.7 647.9,1223.7 647.4,1218.7 647.9,1213.7 649.5,1208.7 651.7,1204.7 655.2,1200.6 659.2,1197.3 664.2,1194.6 669.2,1193.0 675.2,1192.2 681.2,1192.6 687.2,1194.2 692.2,1196.7 696.3,1199.7 699.9,1203.7 702.9,1208.7 704.8,1215.7 705.0,1219.7 704.5,1223.7 702.4,1229.7 697.3,1238.7 696.6,1241.7 697.2,1245.7 701.0,1253.7 701.1,1256.7 700.4,1258.7 699.0,1260.7 696.3,1262.7 693.2,1263.9"/><path d="M751.2,1234.9 747.2,1235.4 743.2,1235.2 733.2,1232.6 730.2,1229.9 727.5,1224.7 726.2,1220.7 726.0,1217.7 726.2,1214.7 727.1,1211.7 728.8,1208.7 731.2,1205.8 734.2,1203.4 737.2,1201.8 741.2,1200.5 745.2,1200.0 750.2,1200.3 754.2,1201.4 758.2,1203.4 761.1,1205.7 763.6,1208.7 765.2,1211.7 766.2,1214.7 766.4,1218.7 765.6,1222.7 764.2,1225.8 762.1,1228.7 758.6,1231.7 755.2,1233.6 751.2,1234.9"/><path d="M755.2,1301.7 751.2,1302.5 746.2,1302.6 742.2,1302.0 737.2,1300.4 733.2,1298.2 729.9,1295.7 727.1,1292.7 724.4,1288.7 722.8,1284.7 721.9,1280.7 721.7,1276.7 722.3,1272.7 727.1,1258.7 729.2,1255.9 731.2,1254.6 733.2,1254.1 738.2,1254.2 747.2,1252.8 752.2,1253.1 756.2,1253.9 761.2,1256.0 765.3,1258.7 769.2,1262.5 772.0,1266.7 773.9,1271.7 774.7,1276.7 774.1,1282.7 772.5,1287.7 769.3,1292.7 765.3,1296.7 760.2,1299.9 755.2,1301.7"/><path d="M689.2,1255.7 686.2,1256.5 683.2,1256.5 681.2,1256.0 678.2,1254.3 669.5,1245.7 660.2,1239.7 656.2,1236.5 652.9,1232.7 650.2,1227.7 648.7,1222.7 648.4,1217.7 648.9,1213.7 650.6,1208.7 652.9,1204.7 656.5,1200.7 660.4,1197.7 665.2,1195.2 670.2,1193.7 676.2,1193.1 682.2,1193.7 687.2,1195.2 692.2,1197.8 696.2,1200.9 699.5,1204.7 702.2,1209.7 703.5,1213.7 704.0,1217.7 703.8,1221.7 703.0,1225.7 700.8,1230.7 695.4,1239.7 694.7,1242.7 694.3,1250.7 693.6,1252.7 692.2,1254.4 689.2,1255.7"/><path d="M749.2,1233.9 742.2,1233.7 734.2,1230.8 730.9,1227.7 728.0,1221.7 727.5,1218.7 727.6,1215.7 728.4,1212.7 729.9,1209.7 732.2,1206.8 734.8,1204.7 738.2,1202.9 741.2,1201.9 745.2,1201.4 749.2,1201.5 755.9,1203.7 758.9,1205.7 761.2,1207.9 763.1,1210.7 764.3,1213.7 764.9,1216.7 764.6,1220.7 763.6,1223.7 761.8,1226.7 759.2,1229.5 756.2,1231.5 753.2,1232.9 749.2,1233.9"/><path d="M749.2,1301.7 745.2,1301.6 741.2,1300.8 734.0,1297.7 728.2,1292.7 726.0,1289.7 724.1,1285.7 722.7,1278.7 723.4,1271.7 728.0,1259.7 730.2,1257.2 732.2,1256.0 747.2,1253.7 752.2,1253.9 757.2,1255.2 762.2,1257.6 766.3,1260.7 769.7,1264.7 772.3,1269.7 773.6,1274.7 773.6,1280.7 771.9,1286.7 769.2,1291.4 765.2,1295.7 760.2,1298.9 755.2,1300.8 749.2,1301.7"/><path d="M683.2,1250.8 680.2,1250.6 677.2,1249.6 658.2,1237.0 655.2,1234.1 652.7,1230.7 649.9,1223.7 649.4,1219.7 649.7,1214.7 651.2,1209.7 653.4,1205.7 656.2,1202.2 660.2,1198.9 664.2,1196.6 669.2,1194.9 674.2,1194.1 680.2,1194.3 685.2,1195.4 690.2,1197.6 694.6,1200.7 698.3,1204.7 700.8,1208.7 702.5,1213.7 703.0,1217.7 702.9,1221.7 702.0,1225.7 700.3,1229.7 694.4,1238.7 691.7,1245.7 690.4,1247.7 687.2,1249.9 683.2,1250.8"/><path d="M751.2,1232.0 745.2,1232.6 739.2,1231.3 734.2,1228.6 732.2,1226.5 730.5,1223.7 729.5,1220.7 729.1,1217.7 730.1,1212.7 733.2,1208.0 737.8,1204.7 741.2,1203.4 745.2,1202.8 748.2,1202.9 752.1,1203.7 757.7,1206.7 760.2,1209.2 761.8,1211.7 762.9,1214.7 763.3,1217.7 762.9,1220.7 761.8,1223.7 760.2,1226.2 757.7,1228.7 754.6,1230.7 751.2,1232.0"/><path d="M751.2,1300.8 747.2,1300.9 743.2,1300.5 736.2,1298.0 730.2,1293.6 727.7,1290.7 725.4,1286.7 723.6,1279.7 724.1,1272.7 728.2,1261.7 730.2,1259.0 732.2,1257.6 746.2,1254.5 750.2,1254.5 755.2,1255.4 760.2,1257.4 765.0,1260.7 768.7,1264.7 771.0,1268.7 772.5,1273.7 772.8,1279.7 771.7,1284.7 769.3,1289.7 766.1,1293.7 761.2,1297.5 756.2,1299.7 751.2,1300.8"/><path d="M684.2,1247.8 681.2,1248.1 677.2,1247.2 661.2,1238.2 658.0,1235.7 655.2,1232.7 653.2,1229.7 651.4,1225.7 650.4,1221.7 650.3,1216.7 651.4,1211.7 653.2,1207.7 656.0,1203.7 659.2,1200.7 663.2,1198.1 667.2,1196.3 672.2,1195.1 677.2,1194.9 682.2,1195.5 687.2,1197.1 691.9,1199.7 695.4,1202.7 698.6,1206.7 701.0,1211.7 702.0,1215.7 702.1,1219.7 701.6,1223.7 700.2,1227.8 689.4,1244.7 687.2,1246.6 684.2,1247.8"/><path d="M749.2,1230.7 743.2,1230.7 738.2,1229.0 734.2,1225.9 731.7,1221.7 731.1,1216.7 732.2,1212.5 735.2,1208.5 740.2,1205.5 746.2,1204.4 749.4,1204.7 752.7,1205.7 757.4,1208.7 759.2,1210.8 760.7,1213.7 761.3,1216.7 761.2,1219.7 759.2,1224.6 757.2,1226.9 754.7,1228.7 749.2,1230.7"/><path d="M752.2,1299.8 748.2,1300.2 744.2,1299.8 737.2,1297.6 733.2,1295.2 730.5,1292.7 726.3,1286.7 725.2,1283.7 724.4,1279.7 724.9,1272.7 726.6,1267.7 728.9,1262.7 731.2,1259.8 733.2,1258.5 745.2,1255.4 750.2,1255.3 755.2,1256.2 760.2,1258.3 764.2,1261.1 767.6,1264.7 770.1,1268.7 771.7,1273.7 772.0,1278.7 771.2,1283.7 769.0,1288.7 765.9,1292.7 762.2,1295.9 757.2,1298.5 752.2,1299.8"/><path d="M683.2,1245.8 680.2,1245.9 676.2,1244.9 661.2,1237.2 658.2,1234.7 655.5,1231.7 653.6,1228.7 652.0,1224.7 651.2,1220.7 651.3,1215.7 652.3,1211.7 654.2,1207.7 657.2,1203.7 660.2,1201.0 664.2,1198.5 668.2,1196.9 673.2,1195.8 678.2,1195.7 683.2,1196.6 688.2,1198.5 692.2,1201.0 696.1,1204.7 698.8,1208.7 700.4,1212.7 701.2,1216.7 701.2,1220.7 700.4,1224.7 698.8,1228.7 696.2,1232.7 688.2,1243.1 686.2,1244.6 683.2,1245.8"/><path d="M748.2,1228.8 743.2,1228.6 738.6,1226.7 735.4,1223.7 733.6,1219.7 733.6,1215.7 735.4,1211.7 738.6,1208.7 743.2,1206.8 748.2,1206.6 753.2,1208.3 757.0,1211.7 758.8,1215.7 759.0,1217.7 758.5,1220.7 756.2,1224.7 752.2,1227.6 748.2,1228.8"/><path d="M753.2,1298.9 749.2,1299.4 745.2,1299.2 738.2,1297.2 734.2,1294.9 731.6,1292.7 729.0,1289.7 727.2,1286.7 726.1,1283.7 725.3,1279.7 725.8,1272.7 729.2,1264.1 731.2,1261.4 733.5,1259.7 741.2,1257.0 745.2,1256.2 750.2,1256.1 754.2,1256.8 759.2,1258.6 763.2,1261.2 766.6,1264.7 769.2,1268.7 770.8,1273.7 771.2,1278.7 770.3,1283.7 768.6,1287.7 765.8,1291.7 762.2,1294.9 758.2,1297.2 753.2,1298.9"/><path d="M683.2,1243.8 680.2,1244.2 676.2,1243.4 663.2,1237.5 659.4,1234.7 656.6,1231.7 654.6,1228.7 652.9,1224.7 652.1,1220.7 652.1,1216.7 652.9,1212.7 654.6,1208.7 657.2,1204.9 660.2,1202.0 664.2,1199.4 668.2,1197.7 673.2,1196.6 678.2,1196.5 683.2,1197.4 687.2,1198.9 691.2,1201.3 695.0,1204.7 697.8,1208.7 699.5,1212.7 700.3,1216.7 700.3,1220.7 699.5,1224.7 697.8,1228.7 695.1,1232.7 688.2,1240.7 686.2,1242.4 683.2,1243.8"/><path d="M749.2,1224.9 746.2,1225.4 742.6,1224.7 740.2,1223.3 738.2,1220.8 737.5,1218.7 737.8,1215.7 739.2,1213.1 741.2,1211.4 744.2,1210.3 748.2,1210.3 751.7,1211.7 754.2,1214.6 755.0,1217.7 754.3,1220.7 752.2,1223.3 749.2,1224.9"/><path d="M754.2,1297.9 750.2,1298.5 746.2,1298.5 739.2,1296.8 736.2,1295.3 732.7,1292.7 730.2,1290.0 728.2,1286.8 726.9,1283.7 726.1,1279.7 726.0,1276.7 726.6,1272.7 729.9,1264.7 732.2,1261.9 734.2,1260.5 740.2,1258.1 744.2,1257.1 749.2,1256.8 753.2,1257.3 758.2,1259.0 762.2,1261.4 765.6,1264.7 768.2,1268.6 769.8,1272.7 770.4,1277.7 769.8,1282.7 768.3,1286.7 765.6,1290.7 762.5,1293.7 758.2,1296.4 754.2,1297.9"/><path d="M683.2,1242.1 680.2,1242.6 676.2,1242.1 670.2,1240.0 664.2,1237.1 660.7,1234.7 657.7,1231.7 655.6,1228.7 653.8,1224.7 653.0,1220.7 653.0,1216.7 653.8,1212.7 655.6,1208.7 657.7,1205.7 660.7,1202.7 664.2,1200.3 668.2,1198.6 673.2,1197.4 678.2,1197.3 683.2,1198.3 687.0,1199.7 691.2,1202.3 694.2,1205.1 696.8,1208.7 698.6,1212.7 699.4,1216.7 699.4,1220.7 698.6,1224.7 697.4,1227.7 694.2,1232.5 689.2,1237.9 686.2,1240.5 683.2,1242.1"/><path d="M750.2,1297.8 745.2,1297.7 741.2,1296.8 737.2,1295.0 734.2,1293.0 731.2,1290.0 729.0,1286.7 727.7,1283.7 726.9,1279.7 726.9,1275.7 727.7,1271.7 729.8,1266.7 731.9,1263.7 734.2,1261.7 737.2,1260.2 741.2,1258.6 745.2,1257.7 749.2,1257.5 753.2,1258.1 757.2,1259.4 761.3,1261.7 764.2,1264.3 766.8,1267.7 768.7,1271.7 769.5,1275.7 769.5,1279.7 768.7,1283.7 766.8,1287.7 764.6,1290.7 761.3,1293.7 758.2,1295.5 754.2,1297.1 750.2,1297.8"/><path d="M682.2,1240.8 679.2,1241.1 675.2,1240.6 669.2,1238.6 664.2,1236.2 660.8,1233.7 658.2,1231.0 656.0,1227.7 654.7,1224.7 653.9,1220.7 653.9,1216.7 654.7,1212.7 656.0,1209.7 658.2,1206.4 661.2,1203.4 664.2,1201.3 668.2,1199.4 672.2,1198.4 677.2,1198.1 682.2,1198.8 686.2,1200.2 690.2,1202.6 693.2,1205.2 695.8,1208.7 697.7,1212.7 698.5,1216.7 698.5,1220.7 697.7,1224.7 696.2,1228.1 693.2,1232.3 689.2,1236.4 685.2,1239.5 682.2,1240.8"/><path d="M752.2,1296.7 748.2,1297.1 744.2,1296.7 740.2,1295.6 736.5,1293.7 733.9,1291.7 731.2,1288.7 729.2,1285.2 728.0,1281.7 727.6,1277.7 728.0,1273.7 729.3,1269.7 731.2,1266.1 733.2,1263.7 735.2,1262.2 739.2,1260.2 743.2,1258.9 747.2,1258.3 751.2,1258.5 755.2,1259.4 759.2,1261.3 762.5,1263.7 765.2,1266.7 767.2,1270.2 768.4,1273.7 768.8,1277.7 768.4,1281.7 767.2,1285.2 765.2,1288.7 762.5,1291.7 759.2,1294.1 755.9,1295.7 752.2,1296.7"/><path d="M680.2,1239.7 676.2,1239.6 672.2,1238.7 667.2,1236.8 663.5,1234.7 661.0,1232.7 658.2,1229.6 656.2,1226.0 655.1,1222.7 654.7,1218.7 655.1,1214.7 656.2,1211.4 658.2,1207.8 661.0,1204.7 663.5,1202.7 667.2,1200.7 671.2,1199.4 675.2,1198.9 679.2,1199.1 683.2,1200.0 687.2,1201.7 691.2,1204.5 694.1,1207.7 695.9,1210.7 697.3,1214.7 697.7,1218.7 697.3,1222.7 696.2,1226.0 694.2,1229.6 691.2,1233.1 687.2,1236.6 683.2,1239.0 680.2,1239.7"/><path d="M753.2,1295.7 749.2,1296.3 745.2,1296.1 741.2,1295.1 738.2,1293.8 735.1,1291.7 732.2,1288.7 730.3,1285.7 729.1,1282.7 728.5,1279.7 728.5,1275.7 729.4,1271.7 731.2,1267.8 733.2,1265.1 735.2,1263.3 742.2,1259.9 746.2,1259.2 750.2,1259.2 753.3,1259.7 757.2,1261.1 760.2,1262.9 763.3,1265.7 765.5,1268.7 767.3,1272.7 767.9,1275.7 767.9,1279.7 766.9,1283.7 765.5,1286.7 763.2,1289.9 760.2,1292.5 757.2,1294.3 753.2,1295.7"/><path d="M682.2,1238.0 679.2,1238.5 675.2,1238.3 670.2,1237.0 666.2,1235.3 663.2,1233.4 660.3,1230.7 658.1,1227.7 656.7,1224.7 655.9,1221.7 655.6,1217.7 656.2,1214.1 657.5,1210.7 659.4,1207.7 662.2,1204.8 668.2,1201.2 672.2,1200.1 677.2,1199.8 681.2,1200.3 685.2,1201.7 688.2,1203.3 691.2,1205.7 693.7,1208.7 695.7,1212.7 696.5,1215.7 696.8,1219.7 696.2,1223.3 694.9,1226.7 692.2,1230.7 689.2,1233.7 685.2,1236.6 682.2,1238.0"/><path d="M753.2,1294.9 749.2,1295.5 746.2,1295.4 742.5,1294.7 739.2,1293.4 736.2,1291.5 733.3,1288.7 731.3,1285.7 730.0,1282.7 729.3,1278.7 729.4,1275.7 730.2,1272.1 731.7,1268.7 733.9,1265.7 736.2,1263.7 742.2,1260.8 746.2,1260.0 750.2,1260.0 753.9,1260.7 757.2,1262.0 760.2,1263.9 763.1,1266.7 765.1,1269.7 766.4,1272.7 767.1,1276.7 767.0,1279.7 766.2,1283.2 764.5,1286.7 762.2,1289.7 759.9,1291.7 756.5,1293.7 753.2,1294.9"/><path d="M681.2,1237.0 678.2,1237.4 674.2,1237.1 670.2,1236.0 666.2,1234.2 663.2,1232.2 660.6,1229.7 658.6,1226.7 657.3,1223.7 656.7,1220.7 656.7,1216.7 658.6,1210.7 660.6,1207.7 663.2,1205.2 669.2,1201.8 673.2,1200.9 677.2,1200.7 681.2,1201.3 685.2,1202.7 688.6,1204.7 691.2,1207.1 693.2,1209.7 695.1,1213.7 695.7,1216.7 695.7,1220.7 694.7,1224.7 693.2,1227.7 690.9,1230.7 688.2,1233.2 684.2,1235.8 681.2,1237.0"/><path d="M754.2,1293.7 750.2,1294.6 747.2,1294.7 741.2,1293.3 738.2,1291.8 735.4,1289.7 731.8,1284.7 730.2,1278.7 730.3,1275.7 731.3,1271.7 734.3,1266.7 737.2,1264.2 740.2,1262.5 743.2,1261.4 747.2,1260.7 750.2,1260.8 754.2,1261.7 757.2,1263.0 760.2,1265.0 762.8,1267.7 764.6,1270.7 765.7,1273.7 766.2,1277.7 765.7,1281.7 764.6,1284.7 762.8,1287.7 760.2,1290.4 757.2,1292.4 754.2,1293.7"/><path d="M680.2,1235.9 677.2,1236.2 673.2,1235.8 669.5,1234.7 666.2,1233.1 663.2,1230.9 661.1,1228.7 659.2,1225.7 658.2,1223.0 657.6,1219.7 657.7,1216.7 658.4,1213.7 659.8,1210.7 662.0,1207.7 664.1,1205.7 667.2,1203.8 670.2,1202.5 674.2,1201.7 678.2,1201.7 682.2,1202.5 685.1,1203.7 688.3,1205.7 691.2,1208.6 693.2,1211.7 694.2,1214.4 694.8,1217.7 694.5,1221.7 693.6,1224.7 692.0,1227.7 687.1,1232.7 683.8,1234.7 680.2,1235.9"/><path d="M749.2,1293.8 746.2,1293.7 742.2,1292.8 736.8,1289.7 734.8,1287.7 732.8,1284.7 731.7,1281.7 731.1,1278.7 731.2,1275.7 732.0,1272.7 733.3,1269.7 735.2,1267.2 740.2,1263.5 743.2,1262.3 747.2,1261.6 750.2,1261.7 754.2,1262.6 759.6,1265.7 761.6,1267.7 763.6,1270.7 764.7,1273.7 765.3,1276.7 765.2,1279.7 764.4,1282.7 763.0,1285.7 761.2,1288.1 756.2,1291.9 753.2,1293.1 749.2,1293.8"/><path d="M679.2,1234.8 676.2,1235.0 672.2,1234.4 666.2,1231.8 661.8,1227.7 660.0,1224.7 659.1,1221.7 658.8,1218.7 659.1,1215.7 660.0,1212.7 661.8,1209.7 666.2,1205.6 672.2,1203.1 675.2,1202.7 679.2,1202.9 682.4,1203.7 686.2,1205.6 690.6,1209.7 692.4,1212.7 693.3,1215.7 693.6,1218.7 693.3,1221.7 692.4,1224.7 690.6,1227.7 688.2,1230.4 685.2,1232.6 682.2,1234.1 679.2,1234.8"/><path d="M749.2,1292.8 746.2,1292.7 742.2,1291.7 737.2,1288.7 735.2,1286.5 733.5,1283.7 732.2,1278.7 732.3,1275.7 733.1,1272.7 736.1,1267.7 741.2,1264.1 747.2,1262.6 750.2,1262.7 754.2,1263.7 759.2,1266.7 761.2,1268.9 762.9,1271.7 764.2,1276.7 764.1,1279.7 763.3,1282.7 760.2,1287.7 755.2,1291.3 749.2,1292.8"/><path d="M677.2,1233.7 670.7,1232.7 665.3,1229.7 663.2,1227.5 661.4,1224.7 660.1,1219.7 660.2,1216.7 661.0,1213.7 664.2,1208.7 669.2,1205.3 675.2,1203.9 681.6,1204.7 687.1,1207.7 689.2,1209.9 691.0,1212.7 692.3,1217.7 692.2,1220.7 691.4,1223.7 688.2,1228.7 683.2,1232.2 680.2,1233.3 677.2,1233.7"/><path d="M753.2,1290.9 747.2,1291.7 742.2,1290.5 739.2,1288.8 737.2,1287.1 734.3,1282.7 733.3,1277.7 734.3,1272.7 737.2,1268.3 739.2,1266.6 742.2,1264.9 748.2,1263.7 753.7,1264.7 758.6,1267.7 760.4,1269.7 762.1,1272.7 762.9,1275.7 763.0,1278.7 761.6,1283.7 758.2,1288.0 753.2,1290.9"/><path d="M680.2,1231.8 674.2,1232.1 669.2,1230.5 665.2,1227.6 663.2,1224.9 662.2,1222.7 661.6,1217.7 663.1,1212.7 666.2,1208.9 670.2,1206.4 673.2,1205.5 676.2,1205.2 679.2,1205.5 682.2,1206.4 687.1,1209.7 689.2,1212.5 690.2,1214.7 690.8,1219.7 690.2,1222.7 689.2,1224.9 687.2,1227.6 685.2,1229.4 680.2,1231.8"/><path d="M752.2,1289.8 747.2,1290.3 742.2,1289.0 738.2,1286.2 735.4,1281.7 734.8,1276.7 736.2,1271.9 739.2,1268.3 743.2,1265.9 746.2,1265.2 749.2,1265.1 754.2,1266.4 758.2,1269.2 761.0,1273.7 761.6,1278.7 760.2,1283.5 758.6,1285.7 756.5,1287.7 752.2,1289.8"/><path d="M680.2,1229.8 675.2,1230.4 670.2,1229.0 666.9,1226.7 664.2,1222.7 663.5,1218.7 664.2,1214.7 666.9,1210.7 671.2,1207.9 676.2,1207.0 681.2,1207.9 685.5,1210.7 688.2,1214.7 688.9,1219.7 687.7,1223.7 684.4,1227.7 680.2,1229.8"/><path d="M748.2,1288.7 743.3,1287.7 740.1,1285.7 737.3,1281.7 736.5,1277.7 737.3,1273.7 740.1,1269.7 743.3,1267.7 748.2,1266.7 753.1,1267.7 756.3,1269.7 759.1,1273.7 759.9,1277.7 759.1,1281.7 756.3,1285.7 753.1,1287.7 748.2,1288.7"/><path d="M680.2,1226.9 676.2,1227.7 673.2,1227.2 670.2,1225.8 668.1,1223.7 666.7,1220.7 666.5,1217.7 667.5,1214.7 670.2,1211.6 673.2,1210.2 677.2,1209.8 681.2,1211.0 684.3,1213.7 685.9,1217.7 685.4,1221.7 683.4,1224.7 680.2,1226.9"/><path d="M750.2,1285.9 746.2,1285.9 743.2,1284.7 741.0,1282.7 739.5,1279.7 739.3,1276.7 740.3,1273.7 742.2,1271.4 745.3,1269.7 749.2,1269.3 753.2,1270.7 755.4,1272.7 756.9,1275.7 757.1,1278.7 756.1,1281.7 753.2,1284.7 750.2,1285.9"/></g>
<g fill="#555"><rect x="714.5" y="1287.9" width="1" height="1"/><rect x="651.3" y="1169.5" width="1" height="1"/><rect x="808.1" y="1285.7" width="1" height="1"/><rect x="760.3" y="1186.1" width="1" height="1"/><rect x="776.6" y="1225.1" width="1" height="1"/><rect x="656.9" y="1184.7" width="1" height="1"/><rect x="677.0" y="1148.3" width="1" height="1"/><rect x="671.7" y="1177.0" width="1" height="1"/><rect x="773.7" y="1250.4" width="1" height="1"/><rect x="783.5" y="1292.2" width="1" height="1"/><rect x="681.5" y="1300.5" width="1" height="1"/><rect x="685.2" y="1180.2" width="1" height="1"/><rect x="659.0" y="1158.4" width="1" height="1"/><rect x="800.9" y="1282.9" width="1" height="1"/><rect x="651.5" y="1168.0" width="1" height="1"/><rect x="713.3" y="1244.9" width="1" height="1"/><rect x="638.9" y="1192.8" width="1" height="1"/><rect x="780.1" y="1305.4" width="1" height="1"/><rect x="665.4" y="1277.7" width="1" height="1"/><rect x="705.2" y="1281.2" width="1" height="1"/><rect x="718.3" y="1314.1" width="1" height="1"/><rect x="769.5" y="1197.4" width="1" height="1"/><rect x="737.6" y="1183.1" width="1" height="1"/><rect x="800.5" y="1219.3" width="1" height="1"/><rect x="811.0" y="1308.0" width="1" height="1"/><rect x="766.1" y="1197.3" width="1" height="1"/><rect x="644.8" y="1245.6" width="1" height="1"/><rect x="785.4" y="1273.6" width="1" height="1"/><rect x="717.1" y="1209.8" width="1" height="1"/><rect x="761.2" y="1184.4" width="1" height="1"/><rect x="728.4" y="1312.6" width="1" height="1"/><rect x="704.2" y="1184.3" width="1" height="1"/><rect x="634.3" y="1217.3" width="1" height="1"/><rect x="705.9" y="1306.0" width="1" height="1"/><rect x="787.5" y="1280.4" width="1" height="1"/><rect x="782.1" y="1224.2" width="1" height="1"/><rect x="752.6" y="1311.3" width="1" height="1"/><rect x="755.2" y="1175.7" width="1" height="1"/><rect x="713.6" y="1235.0" width="1" height="1"/><rect x="711.2" y="1286.3" width="1" height="1"/></g>
<rect x="628.2" y="1137.7" width="186" height="184.2" fill="none" stroke="#9a9a9a" stroke-width="1.9"/>
<line x1="717.3" y1="1137.7" x2="717.3" y2="1321.9" stroke="#3a3a3a" stroke-width="1.7"/>
<line x1="628.2" y1="1238.2" x2="814.2" y2="1238.2" stroke="#3a3a3a" stroke-width="1.7"/>
<text transform="translate(631.80,1176.65) scale(0.9750,1)" font-size="26.600">37.7</text>
<text transform="translate(734.65,1176.65) scale(0.9750,1)" font-size="26.600">14.5</text>
<text transform="translate(631.30,1300.45) scale(0.9750,1)" font-size="26.600">12.0</text>
<text transform="translate(734.65,1300.45) scale(0.9750,1)" font-size="26.600">35.8</text>
<g fill="none" stroke="#777" stroke-width="0.8"><path d="M163.5,1479.7 158.5,1479.4 154.5,1478.5 150.5,1477.2 142.5,1473.5 136.5,1472.6 123.5,1472.9 110.5,1478.0 102.5,1479.6 93.5,1479.8 83.5,1478.3 77.5,1476.2 73.5,1474.1 69.5,1471.4 65.8,1467.7 63.8,1464.7 62.2,1460.7 61.7,1456.7 62.2,1452.7 65.1,1446.7 69.5,1442.0 75.5,1438.2 82.5,1435.4 89.5,1433.9 98.5,1433.5 105.5,1434.2 115.5,1436.7 121.0,1436.7 132.5,1433.7 135.4,1431.7 140.2,1426.7 143.5,1424.0 148.5,1421.1 152.5,1419.4 157.5,1418.2 162.5,1417.7 167.5,1417.9 172.5,1418.9 178.5,1421.1 182.5,1423.3 187.5,1427.4 191.1,1431.7 194.0,1436.7 195.7,1441.7 196.4,1446.7 196.2,1452.7 195.1,1457.7 193.0,1462.7 189.6,1467.7 185.5,1471.8 180.5,1475.3 174.5,1478.0 169.5,1479.2 163.5,1479.7"/><path d="M100.5,1477.8 91.5,1477.7 83.5,1476.1 75.5,1472.6 69.3,1467.7 67.0,1464.7 65.6,1461.7 64.8,1458.7 64.7,1455.7 65.2,1452.7 67.0,1448.7 71.3,1443.7 75.5,1440.8 80.5,1438.3 84.5,1437.0 90.5,1435.9 96.5,1435.5 102.5,1435.9 114.5,1438.7 117.5,1439.0 120.7,1438.7 129.5,1436.7 135.5,1434.4 143.5,1427.0 149.5,1423.2 155.5,1421.0 161.5,1420.1 166.5,1420.1 171.5,1421.0 179.5,1424.3 183.5,1427.0 186.5,1429.9 189.5,1433.7 191.7,1437.7 193.3,1442.7 194.0,1447.7 193.7,1452.7 192.1,1458.7 190.1,1462.7 186.4,1467.7 181.5,1471.9 176.5,1474.6 168.5,1477.0 160.5,1477.3 153.5,1475.8 144.5,1471.9 141.5,1471.1 125.5,1470.7 120.5,1471.6 108.5,1476.4 100.5,1477.8"/><path d="M165.5,1475.8 161.5,1475.8 156.5,1475.0 151.5,1473.4 145.5,1470.7 141.5,1469.7 126.5,1469.4 120.5,1470.1 110.5,1474.2 102.5,1476.2 94.5,1476.5 86.5,1475.4 81.5,1473.9 77.5,1472.0 74.0,1469.7 70.8,1466.7 68.6,1463.7 67.3,1460.7 66.7,1457.7 67.0,1453.7 69.2,1448.7 72.8,1444.7 77.5,1441.4 84.5,1438.5 91.5,1437.1 98.5,1436.9 104.5,1437.6 115.5,1440.2 121.5,1439.9 131.5,1437.5 136.2,1435.7 145.5,1427.5 149.5,1425.0 153.5,1423.2 157.5,1422.2 162.5,1421.6 170.5,1422.4 175.5,1424.0 179.5,1426.1 183.5,1429.1 186.8,1432.7 189.4,1436.7 191.1,1440.7 192.2,1445.7 192.3,1450.7 191.7,1454.7 189.9,1459.7 187.6,1463.7 184.1,1467.7 179.5,1471.3 175.5,1473.4 170.5,1475.0 165.5,1475.8"/><path d="M103.5,1474.9 94.5,1475.4 86.5,1474.2 79.5,1471.7 73.7,1467.7 69.8,1462.7 68.4,1457.7 68.5,1454.7 69.4,1451.7 72.7,1446.7 76.2,1443.7 80.5,1441.3 85.5,1439.4 90.5,1438.4 95.5,1437.9 101.5,1438.2 116.5,1441.5 121.5,1440.9 131.5,1438.6 135.5,1437.3 138.3,1435.7 145.5,1429.1 149.5,1426.4 155.5,1423.9 161.5,1422.9 169.5,1423.4 173.5,1424.6 177.5,1426.4 181.5,1429.1 184.3,1431.7 186.7,1434.7 188.9,1438.7 190.6,1443.7 191.1,1448.7 190.6,1453.7 188.9,1458.7 186.7,1462.7 183.3,1466.7 179.5,1469.8 174.5,1472.5 168.5,1474.2 161.5,1474.5 154.5,1473.2 146.1,1469.7 142.5,1468.8 124.5,1468.4 119.5,1469.1 109.5,1473.4 103.5,1474.9"/><path d="M103.5,1473.9 95.5,1474.5 87.5,1473.5 80.5,1470.9 75.5,1467.7 71.4,1462.7 69.8,1457.7 70.5,1452.7 73.5,1447.7 76.8,1444.7 81.5,1442.0 86.5,1440.2 91.5,1439.2 96.5,1438.9 101.5,1439.2 112.5,1441.9 116.5,1442.4 121.5,1441.9 131.5,1439.5 138.6,1436.7 146.4,1429.7 150.5,1427.0 155.5,1425.0 161.5,1423.9 169.5,1424.5 173.5,1425.7 177.5,1427.6 180.6,1429.7 183.8,1432.7 186.1,1435.7 188.2,1439.7 189.4,1443.7 190.0,1448.7 189.4,1453.7 188.2,1457.7 186.1,1461.7 182.8,1465.7 178.5,1469.2 174.5,1471.3 168.5,1473.1 161.5,1473.5 155.5,1472.4 146.5,1468.8 142.5,1467.9 124.5,1467.4 118.5,1468.3 109.5,1472.2 103.5,1473.9"/><path d="M104.5,1472.7 97.5,1473.6 89.5,1472.9 82.5,1470.8 77.3,1467.7 73.4,1463.7 71.3,1458.7 71.6,1453.7 74.2,1448.7 77.3,1445.7 81.5,1443.1 86.5,1441.2 91.5,1440.1 96.5,1439.8 101.5,1440.1 112.5,1442.9 116.5,1443.3 122.2,1442.7 131.5,1440.5 136.5,1438.8 139.5,1437.2 146.7,1430.7 151.5,1427.6 156.5,1425.7 161.5,1424.9 169.5,1425.4 173.5,1426.7 177.5,1428.7 180.5,1430.9 183.5,1433.9 186.1,1437.7 187.5,1440.7 188.8,1445.7 188.9,1449.7 188.2,1454.7 186.6,1458.7 184.1,1462.7 180.5,1466.5 176.5,1469.3 172.5,1471.1 166.5,1472.5 160.5,1472.5 155.5,1471.4 147.5,1468.2 143.5,1467.2 138.5,1466.7 125.5,1466.5 118.5,1467.3 109.5,1471.2 104.5,1472.7"/><path d="M97.5,1472.7 90.5,1472.2 83.5,1470.2 78.5,1467.3 74.5,1463.2 72.6,1458.7 72.9,1453.7 75.5,1448.9 79.5,1445.4 86.5,1442.1 94.5,1440.7 102.5,1441.2 112.0,1443.7 115.5,1444.2 120.5,1443.9 127.5,1442.4 133.5,1440.8 138.5,1438.7 141.5,1436.7 148.2,1430.7 152.5,1428.1 157.5,1426.3 162.5,1425.7 166.5,1425.8 170.5,1426.6 177.5,1429.8 183.0,1434.7 185.1,1437.7 186.9,1441.7 187.8,1445.7 188.0,1450.7 187.2,1454.7 185.6,1458.7 183.0,1462.7 180.1,1465.7 176.5,1468.3 172.5,1470.2 167.5,1471.4 161.5,1471.7 156.5,1470.8 147.5,1467.4 143.5,1466.4 136.5,1465.7 124.5,1465.7 117.5,1466.7 105.5,1471.6 97.5,1472.7"/><path d="M99.5,1471.8 92.5,1471.6 86.5,1470.3 81.5,1468.1 77.1,1464.7 74.5,1460.7 73.8,1455.7 75.0,1451.7 78.2,1447.7 80.8,1445.7 84.7,1443.7 88.5,1442.5 93.5,1441.6 101.5,1441.9 111.5,1444.5 115.5,1445.0 121.5,1444.6 128.5,1443.2 134.5,1441.3 140.0,1438.7 148.5,1431.5 152.5,1429.0 157.5,1427.2 162.5,1426.5 169.5,1427.2 176.5,1430.1 179.9,1432.7 182.5,1435.5 186.0,1441.7 187.0,1445.7 187.1,1450.7 186.3,1454.7 184.6,1458.7 182.5,1461.9 179.5,1465.1 175.5,1467.9 171.5,1469.6 166.5,1470.8 160.5,1470.8 156.5,1469.9 147.9,1466.7 143.5,1465.7 135.5,1464.8 126.5,1464.8 117.5,1465.7 106.5,1470.3 99.5,1471.8"/><path d="M100.5,1470.8 94.5,1471.0 88.5,1470.0 82.7,1467.7 78.7,1464.7 75.9,1460.7 75.0,1456.7 75.9,1452.7 78.7,1448.7 81.5,1446.5 84.8,1444.7 88.5,1443.4 93.5,1442.5 101.5,1442.8 114.5,1445.9 120.5,1445.6 128.5,1444.2 134.5,1442.2 140.5,1439.2 148.5,1432.5 152.5,1429.9 157.5,1428.0 162.5,1427.3 169.5,1428.0 173.5,1429.4 176.5,1431.1 181.6,1435.7 183.7,1438.7 185.4,1442.7 186.2,1446.7 186.2,1450.7 185.4,1454.7 183.7,1458.7 181.5,1461.9 178.5,1464.9 175.5,1466.9 171.5,1468.8 166.5,1470.0 160.5,1470.0 156.5,1469.1 148.5,1466.1 144.5,1465.1 135.5,1463.9 129.5,1463.7 117.5,1464.8 106.5,1469.4 100.5,1470.8"/><path d="M101.5,1469.7 95.5,1470.1 89.5,1469.3 84.5,1467.5 80.3,1464.7 77.8,1461.7 76.4,1457.7 76.9,1453.7 79.3,1449.7 81.6,1447.7 85.5,1445.5 89.5,1444.1 93.5,1443.4 101.5,1443.7 113.5,1446.7 119.5,1446.5 128.5,1445.5 132.5,1444.0 141.1,1439.7 149.5,1432.8 152.5,1430.8 156.5,1429.1 161.5,1428.1 168.5,1428.6 172.5,1429.8 175.5,1431.4 178.6,1433.7 181.4,1436.7 184.5,1442.7 185.4,1446.7 185.4,1450.7 184.5,1454.7 183.3,1457.7 181.4,1460.7 178.5,1463.8 174.5,1466.6 170.5,1468.3 165.5,1469.3 160.5,1469.2 156.5,1468.3 145.8,1464.7 135.5,1462.9 130.5,1462.5 116.5,1464.1 106.5,1468.4 101.5,1469.7"/><path d="M101.5,1468.7 96.5,1469.2 91.5,1468.7 86.5,1467.2 82.2,1464.7 79.4,1461.7 77.9,1457.7 78.4,1453.7 80.1,1450.7 82.2,1448.7 85.5,1446.6 89.5,1445.2 94.5,1444.3 101.5,1444.7 112.5,1447.6 128.5,1447.0 131.5,1445.9 142.4,1439.7 152.5,1431.7 156.5,1429.9 161.5,1428.9 168.5,1429.4 172.5,1430.7 175.5,1432.3 180.4,1436.7 182.4,1439.7 183.7,1442.7 184.6,1446.7 184.6,1450.7 183.7,1454.7 182.4,1457.7 180.4,1460.7 177.5,1463.6 174.5,1465.7 170.5,1467.5 165.5,1468.5 159.5,1468.2 147.5,1464.4 131.5,1461.1 115.5,1463.3 105.5,1467.6 101.5,1468.7"/><path d="M165.5,1467.7 161.5,1467.7 157.5,1467.0 149.5,1464.2 139.0,1461.7 131.5,1458.8 123.5,1461.1 113.5,1462.7 105.5,1466.4 101.5,1467.6 97.5,1468.1 92.5,1467.8 86.5,1465.9 82.5,1463.2 80.0,1459.7 79.5,1455.7 81.2,1451.7 84.4,1448.7 88.5,1446.6 93.5,1445.5 100.9,1445.7 111.5,1448.6 121.5,1448.4 129.5,1449.1 136.9,1443.7 143.7,1439.7 150.5,1434.0 153.5,1432.0 159.5,1430.0 166.5,1429.8 172.8,1431.7 178.5,1435.8 180.8,1438.7 182.4,1441.7 183.4,1444.7 183.9,1448.7 183.4,1452.7 182.4,1455.7 180.8,1458.7 178.5,1461.6 175.5,1464.1 172.5,1465.9 169.5,1467.0 165.5,1467.7"/><path d="M166.5,1466.8 162.5,1467.0 158.5,1466.4 150.2,1463.7 141.5,1461.6 137.2,1459.7 134.8,1457.7 133.3,1454.7 132.9,1450.7 134.1,1447.7 137.0,1444.7 145.0,1439.7 151.5,1434.2 156.5,1431.6 160.5,1430.6 165.5,1430.5 169.5,1431.3 173.5,1433.0 178.3,1436.7 181.5,1441.7 182.9,1446.7 182.6,1452.7 180.5,1457.7 176.5,1462.4 171.5,1465.4 166.5,1466.8"/><path d="M98.5,1466.7 94.4,1466.7 89.6,1465.7 85.6,1463.7 83.3,1461.7 81.7,1458.7 81.4,1455.7 82.5,1452.8 84.3,1450.7 89.6,1447.7 93.5,1446.8 97.5,1446.6 102.5,1447.4 110.5,1449.9 122.5,1449.8 125.2,1450.7 127.3,1452.7 128.0,1454.7 127.6,1456.7 125.8,1458.7 124.5,1459.4 120.5,1460.5 112.5,1461.5 103.5,1465.7 98.5,1466.7"/><path d="M167.5,1465.8 163.5,1466.2 159.5,1465.8 142.5,1461.1 139.3,1459.7 137.0,1457.7 135.5,1454.7 134.9,1450.7 135.8,1447.7 138.5,1444.7 146.2,1439.7 152.5,1434.5 156.5,1432.5 160.5,1431.4 164.5,1431.2 168.5,1431.8 173.1,1433.7 177.5,1437.1 180.6,1441.7 182.0,1446.7 181.9,1451.7 180.1,1456.7 177.1,1460.7 172.5,1464.0 167.5,1465.8"/><path d="M99.5,1464.8 95.5,1465.0 92.5,1464.6 89.5,1463.7 86.4,1461.7 84.8,1459.7 84.0,1457.7 84.3,1454.7 85.5,1452.7 87.7,1450.7 90.5,1449.4 93.5,1448.6 97.5,1448.4 101.5,1449.0 109.5,1451.7 120.5,1451.0 122.7,1451.7 124.6,1453.7 124.8,1455.7 124.5,1456.7 122.0,1458.7 119.5,1459.3 110.5,1459.9 103.4,1463.7 99.5,1464.8"/><path d="M168.5,1464.7 164.5,1465.3 159.5,1465.0 141.2,1459.7 138.6,1457.7 137.0,1454.7 136.4,1450.7 137.2,1447.7 139.8,1444.7 146.5,1440.5 152.5,1435.6 156.5,1433.4 160.5,1432.3 164.5,1432.1 168.5,1432.7 172.5,1434.3 176.5,1437.3 179.5,1441.5 181.0,1445.7 181.1,1450.7 179.6,1455.7 176.8,1459.7 173.1,1462.7 168.5,1464.7"/><path d="M99.5,1461.0 95.5,1461.4 91.5,1460.1 89.5,1457.7 89.5,1455.7 90.0,1454.7 92.5,1452.8 95.5,1452.0 99.5,1452.4 102.4,1453.7 104.3,1455.7 104.1,1457.7 102.2,1459.7 99.5,1461.0"/><path d="M120.5,1456.9 118.5,1457.5 116.5,1457.4 114.2,1456.7 113.3,1455.7 113.5,1454.7 114.8,1453.7 117.5,1452.9 119.5,1452.9 121.0,1453.7 121.7,1454.7 121.6,1455.7 120.5,1456.9"/><path d="M168.5,1463.8 164.5,1464.4 160.5,1464.2 142.5,1459.3 140.1,1457.7 138.3,1454.7 137.6,1450.7 138.4,1447.7 141.2,1444.7 147.6,1440.7 153.5,1436.0 157.5,1434.0 160.5,1433.2 164.5,1433.0 168.5,1433.6 171.5,1434.8 175.5,1437.7 178.6,1441.7 180.0,1445.7 180.2,1450.7 179.0,1454.7 176.5,1458.7 173.0,1461.7 168.5,1463.8"/><path d="M168.5,1462.7 164.5,1463.5 160.5,1463.2 143.2,1458.7 140.6,1456.7 139.1,1453.7 138.8,1450.7 139.6,1447.7 142.5,1444.8 148.5,1441.2 154.3,1436.7 157.5,1435.0 160.5,1434.2 164.5,1433.9 167.5,1434.4 171.0,1435.7 174.5,1438.1 177.4,1441.7 178.9,1445.7 179.2,1449.7 178.3,1453.7 176.0,1457.7 172.7,1460.7 168.5,1462.7"/><path d="M167.5,1461.9 164.5,1462.3 160.5,1462.1 144.5,1458.3 142.0,1456.7 140.7,1454.7 139.9,1451.7 140.3,1448.7 142.7,1445.7 157.5,1436.2 160.5,1435.3 164.5,1435.1 167.5,1435.5 170.5,1436.7 174.5,1439.7 176.6,1442.7 177.9,1446.7 177.9,1450.7 176.6,1454.7 174.5,1457.7 171.5,1460.1 167.5,1461.9"/><path d="M166.5,1460.8 161.5,1460.9 145.4,1457.7 142.6,1455.7 141.5,1453.8 141.0,1450.7 141.5,1448.7 144.4,1445.7 150.1,1442.7 155.7,1438.7 158.5,1437.3 161.5,1436.5 164.5,1436.4 169.5,1437.7 172.5,1439.7 175.5,1443.6 176.5,1446.7 176.5,1450.7 175.5,1453.8 173.5,1456.8 170.5,1459.2 166.5,1460.8"/><path d="M167.5,1458.7 162.5,1459.4 146.5,1457.0 144.2,1455.7 142.7,1453.7 142.2,1451.7 142.4,1449.7 143.5,1447.9 144.8,1446.7 151.5,1443.5 158.5,1439.1 162.5,1438.1 167.5,1438.7 170.5,1440.3 172.9,1442.7 174.4,1445.7 174.9,1448.7 174.4,1451.7 172.9,1454.7 170.5,1457.1 167.5,1458.7"/><path d="M164.5,1456.7 156.5,1456.0 149.5,1456.3 146.6,1455.7 145.1,1454.7 143.8,1452.7 144.0,1449.7 144.5,1448.7 146.5,1447.2 153.9,1444.7 159.5,1441.5 162.5,1440.7 166.5,1441.2 169.2,1442.7 170.9,1444.7 171.8,1446.7 172.0,1449.7 171.4,1451.7 169.5,1454.4 167.5,1455.8 164.5,1456.7"/><path d="M152.5,1453.8 149.5,1454.5 147.5,1454.2 145.8,1452.7 145.6,1450.7 146.5,1449.3 148.5,1448.3 150.5,1448.1 153.4,1448.7 154.6,1449.7 154.8,1451.7 152.5,1453.8"/></g>
<g fill="#555"><rect x="75.4" y="1432.5" width="1" height="1"/><rect x="112.6" y="1381.6" width="1" height="1"/><rect x="195.2" y="1472.1" width="1" height="1"/><rect x="47.8" y="1442.9" width="1" height="1"/><rect x="59.8" y="1488.4" width="1" height="1"/><rect x="169.8" y="1487.3" width="1" height="1"/><rect x="55.8" y="1460.9" width="1" height="1"/><rect x="171.8" y="1488.0" width="1" height="1"/><rect x="205.3" y="1465.3" width="1" height="1"/><rect x="213.3" y="1442.5" width="1" height="1"/><rect x="203.4" y="1490.5" width="1" height="1"/><rect x="92.0" y="1418.2" width="1" height="1"/><rect x="208.5" y="1454.0" width="1" height="1"/><rect x="110.3" y="1416.9" width="1" height="1"/><rect x="136.2" y="1474.7" width="1" height="1"/><rect x="169.8" y="1499.0" width="1" height="1"/><rect x="83.2" y="1412.7" width="1" height="1"/><rect x="121.8" y="1433.4" width="1" height="1"/><rect x="215.3" y="1444.4" width="1" height="1"/><rect x="104.0" y="1406.6" width="1" height="1"/><rect x="198.0" y="1437.8" width="1" height="1"/><rect x="87.7" y="1485.5" width="1" height="1"/><rect x="221.3" y="1440.6" width="1" height="1"/><rect x="56.8" y="1431.9" width="1" height="1"/><rect x="58.5" y="1500.3" width="1" height="1"/><rect x="89.4" y="1489.9" width="1" height="1"/><rect x="156.8" y="1416.6" width="1" height="1"/><rect x="135.7" y="1480.4" width="1" height="1"/><rect x="98.7" y="1424.9" width="1" height="1"/><rect x="96.0" y="1418.0" width="1" height="1"/><rect x="152.6" y="1490.9" width="1" height="1"/><rect x="148.7" y="1415.8" width="1" height="1"/><rect x="131.2" y="1424.7" width="1" height="1"/><rect x="112.1" y="1393.4" width="1" height="1"/><rect x="136.7" y="1396.4" width="1" height="1"/><rect x="138.0" y="1497.3" width="1" height="1"/><rect x="209.2" y="1398.5" width="1" height="1"/><rect x="107.9" y="1508.8" width="1" height="1"/><rect x="54.8" y="1442.6" width="1" height="1"/><rect x="174.8" y="1398.3" width="1" height="1"/><rect x="218.1" y="1481.6" width="1" height="1"/><rect x="142.8" y="1485.2" width="1" height="1"/><rect x="202.7" y="1372.5" width="1" height="1"/><rect x="178.5" y="1399.5" width="1" height="1"/><rect x="106.3" y="1403.0" width="1" height="1"/><rect x="104.4" y="1504.9" width="1" height="1"/><rect x="213.5" y="1445.7" width="1" height="1"/><rect x="110.5" y="1425.9" width="1" height="1"/><rect x="166.9" y="1497.8" width="1" height="1"/><rect x="195.4" y="1479.2" width="1" height="1"/><rect x="133.2" y="1496.7" width="1" height="1"/><rect x="149.4" y="1404.4" width="1" height="1"/><rect x="112.8" y="1427.2" width="1" height="1"/><rect x="187.3" y="1377.7" width="1" height="1"/><rect x="128.7" y="1405.8" width="1" height="1"/><rect x="97.0" y="1413.1" width="1" height="1"/><rect x="164.3" y="1397.4" width="1" height="1"/><rect x="126.8" y="1494.4" width="1" height="1"/><rect x="57.7" y="1432.8" width="1" height="1"/><rect x="145.9" y="1481.4" width="1" height="1"/><rect x="185.2" y="1500.5" width="1" height="1"/><rect x="119.9" y="1486.4" width="1" height="1"/><rect x="111.2" y="1488.6" width="1" height="1"/><rect x="150.9" y="1412.9" width="1" height="1"/><rect x="135.2" y="1488.1" width="1" height="1"/><rect x="198.1" y="1470.9" width="1" height="1"/><rect x="155.6" y="1482.9" width="1" height="1"/><rect x="44.9" y="1476.5" width="1" height="1"/><rect x="197.8" y="1456.1" width="1" height="1"/><rect x="129.2" y="1490.1" width="1" height="1"/><rect x="150.9" y="1481.6" width="1" height="1"/><rect x="121.3" y="1405.5" width="1" height="1"/><rect x="127.3" y="1495.1" width="1" height="1"/><rect x="145.9" y="1484.7" width="1" height="1"/><rect x="198.4" y="1452.4" width="1" height="1"/><rect x="138.9" y="1476.0" width="1" height="1"/><rect x="208.2" y="1495.8" width="1" height="1"/><rect x="125.0" y="1408.9" width="1" height="1"/><rect x="203.5" y="1467.3" width="1" height="1"/><rect x="98.6" y="1414.1" width="1" height="1"/><rect x="185.2" y="1416.8" width="1" height="1"/><rect x="112.8" y="1411.0" width="1" height="1"/><rect x="142.6" y="1476.4" width="1" height="1"/><rect x="166.6" y="1483.8" width="1" height="1"/><rect x="160.1" y="1407.3" width="1" height="1"/><rect x="193.9" y="1420.2" width="1" height="1"/><rect x="168.8" y="1416.4" width="1" height="1"/><rect x="92.2" y="1427.4" width="1" height="1"/><rect x="128.3" y="1417.1" width="1" height="1"/><rect x="221.8" y="1488.2" width="1" height="1"/><rect x="144.1" y="1486.5" width="1" height="1"/><rect x="168.5" y="1404.8" width="1" height="1"/><rect x="173.6" y="1399.3" width="1" height="1"/><rect x="141.4" y="1423.3" width="1" height="1"/><rect x="115.4" y="1436.4" width="1" height="1"/><rect x="133.5" y="1507.9" width="1" height="1"/><rect x="150.8" y="1372.1" width="1" height="1"/><rect x="56.8" y="1454.8" width="1" height="1"/><rect x="131.9" y="1431.5" width="1" height="1"/><rect x="126.4" y="1476.3" width="1" height="1"/><rect x="136.5" y="1500.9" width="1" height="1"/><rect x="206.3" y="1404.6" width="1" height="1"/><rect x="84.9" y="1507.7" width="1" height="1"/><rect x="125.8" y="1502.1" width="1" height="1"/><rect x="61.4" y="1446.0" width="1" height="1"/><rect x="44.6" y="1431.2" width="1" height="1"/><rect x="128.7" y="1480.1" width="1" height="1"/><rect x="121.2" y="1487.7" width="1" height="1"/><rect x="96.8" y="1430.9" width="1" height="1"/><rect x="108.1" y="1431.4" width="1" height="1"/><rect x="170.3" y="1418.2" width="1" height="1"/><rect x="132.8" y="1423.5" width="1" height="1"/><rect x="169.7" y="1493.0" width="1" height="1"/><rect x="192.4" y="1474.0" width="1" height="1"/><rect x="130.2" y="1416.5" width="1" height="1"/><rect x="70.3" y="1427.5" width="1" height="1"/><rect x="69.3" y="1489.5" width="1" height="1"/><rect x="172.6" y="1383.6" width="1" height="1"/><rect x="142.7" y="1409.4" width="1" height="1"/><rect x="169.9" y="1498.2" width="1" height="1"/><rect x="69.5" y="1411.8" width="1" height="1"/><rect x="106.9" y="1431.1" width="1" height="1"/><rect x="60.7" y="1419.3" width="1" height="1"/><rect x="114.1" y="1435.6" width="1" height="1"/><rect x="138.0" y="1423.3" width="1" height="1"/><rect x="79.2" y="1436.1" width="1" height="1"/><rect x="71.9" y="1422.1" width="1" height="1"/><rect x="92.8" y="1422.9" width="1" height="1"/><rect x="85.0" y="1422.1" width="1" height="1"/><rect x="117.2" y="1423.0" width="1" height="1"/><rect x="131.7" y="1428.9" width="1" height="1"/><rect x="118.6" y="1428.0" width="1" height="1"/><rect x="141.8" y="1419.5" width="1" height="1"/><rect x="56.9" y="1423.1" width="1" height="1"/><rect x="125.4" y="1435.5" width="1" height="1"/><rect x="112.2" y="1424.4" width="1" height="1"/><rect x="178.9" y="1420.8" width="1" height="1"/><rect x="67.2" y="1430.1" width="1" height="1"/><rect x="97.5" y="1418.1" width="1" height="1"/><rect x="46.8" y="1412.1" width="1" height="1"/><rect x="135.6" y="1423.6" width="1" height="1"/><rect x="130.0" y="1417.0" width="1" height="1"/><rect x="106.8" y="1424.7" width="1" height="1"/><rect x="58.8" y="1411.1" width="1" height="1"/><rect x="136.6" y="1428.9" width="1" height="1"/><rect x="82.8" y="1426.4" width="1" height="1"/><rect x="84.5" y="1433.5" width="1" height="1"/><rect x="202.3" y="1428.1" width="1" height="1"/><rect x="176.8" y="1402.1" width="1" height="1"/><rect x="45.8" y="1435.0" width="1" height="1"/><rect x="90.0" y="1422.9" width="1" height="1"/><rect x="118.0" y="1431.4" width="1" height="1"/><rect x="100.5" y="1427.9" width="1" height="1"/><rect x="209.3" y="1448.6" width="1" height="1"/><rect x="74.3" y="1421.8" width="1" height="1"/><rect x="68.0" y="1416.0" width="1" height="1"/><rect x="140.8" y="1417.7" width="1" height="1"/><rect x="78.2" y="1424.8" width="1" height="1"/><rect x="156.6" y="1417.5" width="1" height="1"/><rect x="127.8" y="1421.2" width="1" height="1"/><rect x="73.4" y="1438.9" width="1" height="1"/><rect x="127.4" y="1418.8" width="1" height="1"/><rect x="75.4" y="1424.4" width="1" height="1"/><rect x="118.4" y="1420.4" width="1" height="1"/><rect x="141.5" y="1413.6" width="1" height="1"/><rect x="119.0" y="1427.4" width="1" height="1"/><rect x="45.7" y="1430.4" width="1" height="1"/><rect x="69.6" y="1402.8" width="1" height="1"/><rect x="95.2" y="1425.2" width="1" height="1"/><rect x="133.1" y="1421.9" width="1" height="1"/><rect x="128.7" y="1425.0" width="1" height="1"/><rect x="57.5" y="1434.1" width="1" height="1"/><rect x="133.2" y="1414.6" width="1" height="1"/><rect x="123.2" y="1434.5" width="1" height="1"/><rect x="115.0" y="1435.1" width="1" height="1"/><rect x="149.0" y="1412.8" width="1" height="1"/><rect x="107.4" y="1432.2" width="1" height="1"/><rect x="43.6" y="1426.7" width="1" height="1"/><rect x="185.9" y="1418.2" width="1" height="1"/><rect x="104.6" y="1417.0" width="1" height="1"/><rect x="151.6" y="1414.3" width="1" height="1"/><rect x="138.5" y="1406.0" width="1" height="1"/><rect x="63.3" y="1425.0" width="1" height="1"/><rect x="115.2" y="1436.2" width="1" height="1"/><rect x="130.4" y="1430.1" width="1" height="1"/><rect x="101.9" y="1427.4" width="1" height="1"/><rect x="114.0" y="1434.6" width="1" height="1"/><rect x="52.2" y="1439.2" width="1" height="1"/><rect x="122.6" y="1435.8" width="1" height="1"/><rect x="122.4" y="1425.7" width="1" height="1"/><rect x="127.5" y="1411.4" width="1" height="1"/><rect x="112.5" y="1424.9" width="1" height="1"/><rect x="88.2" y="1425.5" width="1" height="1"/><rect x="58.3" y="1441.2" width="1" height="1"/><rect x="84.7" y="1415.8" width="1" height="1"/><rect x="130.3" y="1410.9" width="1" height="1"/><rect x="128.1" y="1420.4" width="1" height="1"/><rect x="106.0" y="1429.9" width="1" height="1"/><rect x="144.1" y="1414.6" width="1" height="1"/><rect x="157.9" y="1414.1" width="1" height="1"/><rect x="122.5" y="1415.0" width="1" height="1"/><rect x="97.1" y="1421.0" width="1" height="1"/><rect x="96.9" y="1424.3" width="1" height="1"/><rect x="176.0" y="1415.7" width="1" height="1"/><rect x="70.2" y="1433.1" width="1" height="1"/><rect x="56.0" y="1423.7" width="1" height="1"/><rect x="100.0" y="1420.3" width="1" height="1"/><rect x="82.7" y="1421.5" width="1" height="1"/><rect x="89.9" y="1434.1" width="1" height="1"/><rect x="47.0" y="1422.9" width="1" height="1"/></g>
<rect x="40.5" y="1327.7" width="185.6" height="184.2" fill="none" stroke="#9a9a9a" stroke-width="1.9"/>
<line x1="129.5" y1="1327.7" x2="129.5" y2="1511.9" stroke="#3a3a3a" stroke-width="1.7"/>
<line x1="40.5" y1="1446.8" x2="226.1" y2="1446.8" stroke="#3a3a3a" stroke-width="1.7"/>
<text transform="translate(44.10,1366.65) scale(0.9750,1)" font-size="26.600">13.7</text>
<text transform="translate(146.85,1366.65) scale(0.9750,1)" font-size="26.600">29.1</text>
<text transform="translate(43.85,1490.45) scale(0.9750,1)" font-size="26.600">22.9</text>
<text transform="translate(146.85,1490.45) scale(0.9750,1)" font-size="26.600">34.3</text>
<g fill="none" stroke="#777" stroke-width="0.8"><path d="M349.2,1488.7 343.2,1488.3 338.2,1487.2 333.2,1485.3 325.2,1480.7 320.2,1479.5 314.6,1479.7 302.2,1483.5 293.2,1484.9 282.2,1484.6 274.2,1482.9 265.2,1479.1 261.2,1476.4 258.5,1473.7 255.8,1469.7 254.7,1466.7 254.4,1462.7 255.0,1459.7 256.3,1456.7 258.5,1453.7 266.7,1446.7 267.3,1444.7 267.2,1439.7 267.8,1436.7 269.2,1434.4 271.2,1433.2 273.2,1433.2 275.2,1434.4 276.6,1436.7 278.2,1441.4 279.7,1442.7 290.2,1442.4 297.2,1443.0 303.2,1444.2 311.2,1446.8 316.2,1447.8 319.8,1447.7 323.0,1446.7 333.2,1440.1 341.2,1437.5 346.2,1436.8 351.2,1436.7 360.2,1438.2 365.2,1440.1 370.2,1443.1 374.2,1446.5 376.9,1449.7 379.7,1454.7 380.9,1458.7 381.2,1463.7 380.6,1467.7 378.8,1472.7 376.9,1475.7 373.4,1479.7 369.2,1483.0 365.2,1485.3 360.2,1487.2 355.2,1488.3 349.2,1488.7"/><path d="M356.2,1485.9 349.2,1486.6 342.2,1485.9 336.2,1484.2 325.4,1478.7 320.2,1477.8 312.2,1478.4 300.2,1481.8 293.2,1482.9 285.2,1482.9 276.2,1481.3 268.2,1478.1 264.2,1475.5 261.2,1472.7 259.2,1469.7 258.0,1466.7 257.6,1463.7 258.0,1460.7 259.7,1456.7 262.2,1453.7 268.5,1448.7 271.2,1446.0 273.2,1444.9 279.2,1445.1 287.2,1444.4 294.2,1444.6 301.2,1445.8 311.2,1448.8 318.2,1449.5 324.2,1448.3 334.2,1442.1 340.2,1439.9 344.2,1439.1 349.2,1438.8 354.2,1439.1 358.2,1439.9 366.2,1443.2 370.2,1446.0 373.2,1448.9 375.9,1452.7 377.3,1455.7 378.4,1459.7 378.6,1463.7 378.0,1467.7 376.9,1470.7 374.7,1474.7 372.1,1477.7 368.2,1481.0 364.2,1483.3 356.2,1485.9"/><path d="M354.2,1484.9 347.2,1485.2 341.2,1484.3 335.2,1482.2 326.2,1477.7 320.2,1476.7 311.2,1477.4 300.2,1480.4 293.2,1481.5 285.2,1481.5 277.2,1480.2 269.2,1476.9 265.9,1474.7 263.2,1472.2 261.4,1469.7 260.2,1466.7 259.7,1463.7 260.2,1460.7 262.1,1456.7 264.7,1453.7 272.2,1448.4 275.2,1447.2 285.2,1445.9 293.2,1445.9 300.2,1447.0 311.2,1450.0 319.2,1450.5 325.2,1449.2 335.2,1443.2 341.2,1441.1 349.2,1440.1 357.2,1441.1 361.2,1442.4 365.2,1444.3 368.7,1446.7 371.9,1449.7 374.1,1452.7 375.9,1456.7 376.7,1459.7 376.9,1463.7 376.2,1467.7 374.6,1471.7 370.2,1477.4 367.2,1479.8 363.2,1482.2 358.2,1484.0 354.2,1484.9"/><path d="M354.2,1483.8 348.2,1484.2 342.2,1483.4 337.2,1481.8 327.2,1477.1 320.2,1475.9 310.2,1476.6 299.2,1479.5 293.2,1480.5 286.2,1480.5 279.2,1479.5 271.5,1476.7 265.7,1472.7 264.0,1470.7 262.3,1467.7 261.5,1464.7 261.7,1461.7 263.3,1457.7 266.8,1453.7 273.2,1449.6 278.2,1448.1 285.2,1446.9 293.2,1446.9 299.2,1447.9 310.2,1450.8 319.2,1451.4 323.2,1450.8 326.2,1449.8 335.2,1444.5 341.2,1442.2 349.2,1441.2 357.2,1442.2 361.2,1443.6 365.2,1445.6 368.2,1447.8 371.1,1450.7 374.6,1456.7 375.5,1460.7 375.6,1463.7 374.9,1467.7 373.7,1470.7 371.9,1473.7 369.2,1476.7 366.2,1479.1 362.2,1481.4 354.2,1483.8"/><path d="M354.2,1482.8 348.2,1483.2 342.2,1482.4 337.2,1480.8 328.2,1476.5 320.2,1475.1 310.2,1475.7 298.2,1478.7 293.2,1479.5 286.2,1479.6 280.2,1478.7 272.2,1475.8 266.6,1471.7 265.0,1469.7 263.5,1466.7 263.0,1463.7 263.2,1461.7 265.0,1457.7 269.2,1453.4 274.2,1450.5 281.2,1448.5 287.2,1447.8 293.2,1447.9 298.2,1448.7 310.2,1451.7 319.2,1452.2 326.3,1450.7 336.2,1445.1 342.2,1443.0 349.2,1442.2 356.2,1443.0 360.2,1444.2 364.2,1446.2 369.7,1450.7 371.9,1453.7 373.4,1456.7 374.4,1460.7 374.5,1463.7 373.7,1467.7 372.5,1470.7 370.5,1473.7 368.2,1476.2 362.2,1480.3 358.2,1481.9 354.2,1482.8"/><path d="M355.2,1481.8 349.2,1482.4 343.2,1481.8 338.2,1480.3 328.2,1475.8 320.2,1474.4 308.2,1475.3 293.2,1478.6 287.2,1478.8 281.2,1478.0 274.2,1475.7 268.2,1471.7 266.5,1469.7 265.0,1466.7 264.5,1464.7 264.7,1461.7 266.5,1457.7 270.2,1454.0 275.2,1451.2 281.2,1449.4 287.2,1448.6 293.2,1448.8 309.2,1452.2 315.2,1452.9 320.2,1452.8 324.2,1452.1 328.2,1450.7 336.2,1446.1 341.2,1444.1 348.2,1443.0 355.2,1443.6 362.2,1446.1 365.2,1447.9 368.4,1450.7 370.8,1453.7 372.3,1456.7 373.5,1462.7 372.3,1468.7 370.8,1471.7 368.4,1474.7 365.2,1477.5 362.2,1479.3 355.2,1481.8"/><path d="M356.2,1480.8 350.2,1481.6 344.2,1481.2 339.2,1479.8 329.2,1475.4 324.2,1474.2 320.2,1473.7 307.5,1474.7 292.2,1477.8 286.2,1477.8 281.2,1477.1 274.4,1474.7 269.2,1471.0 266.4,1466.7 266.0,1464.7 266.1,1461.7 268.1,1457.7 271.2,1454.7 276.2,1451.9 282.2,1450.1 287.2,1449.5 292.2,1449.6 308.2,1452.8 315.2,1453.5 320.2,1453.5 327.5,1451.7 337.2,1446.5 342.2,1444.6 348.2,1443.8 355.2,1444.4 362.2,1447.0 367.2,1450.7 369.7,1453.7 371.3,1456.7 372.5,1462.7 371.3,1468.7 368.2,1473.7 363.2,1477.8 356.2,1480.8"/><path d="M352.2,1480.7 348.2,1480.9 343.2,1480.2 339.2,1479.0 329.2,1474.8 320.2,1473.0 306.2,1474.2 292.2,1477.0 286.2,1477.0 281.2,1476.2 275.2,1474.0 270.5,1470.7 267.9,1466.7 267.4,1464.7 267.5,1461.7 269.6,1457.7 273.0,1454.7 277.2,1452.5 283.2,1450.8 292.2,1450.4 307.2,1453.3 316.2,1454.2 320.2,1454.2 328.2,1452.1 337.2,1447.3 342.2,1445.4 348.2,1444.5 355.2,1445.2 361.9,1447.7 367.2,1451.9 369.3,1454.7 370.7,1457.7 371.5,1460.7 371.6,1463.7 371.0,1466.7 369.9,1469.7 366.0,1474.7 363.2,1476.9 359.8,1478.7 356.2,1480.0 352.2,1480.7"/><path d="M353.2,1479.9 348.2,1480.2 343.2,1479.5 330.2,1474.5 324.2,1472.8 320.2,1472.3 305.2,1473.6 292.2,1476.1 287.2,1476.1 282.2,1475.4 276.2,1473.3 271.3,1469.7 269.0,1465.7 269.0,1461.7 270.5,1458.7 273.5,1455.7 278.2,1453.2 283.2,1451.8 287.2,1451.3 292.2,1451.3 305.2,1453.8 316.2,1454.9 320.2,1454.9 328.4,1452.7 338.2,1447.7 342.2,1446.2 348.2,1445.2 355.2,1445.9 362.1,1448.7 366.8,1452.7 369.8,1457.7 370.6,1460.7 370.7,1463.7 370.1,1466.7 368.9,1469.7 365.2,1474.4 360.2,1477.7 353.2,1479.9"/><path d="M355.2,1478.7 350.2,1479.4 344.2,1479.0 329.7,1473.7 320.2,1471.5 303.2,1473.1 292.2,1475.1 288.2,1475.2 283.5,1474.7 277.4,1472.7 273.2,1469.8 271.0,1466.7 270.4,1462.7 271.5,1459.7 274.2,1456.7 278.2,1454.3 283.5,1452.7 288.2,1452.2 292.2,1452.3 304.2,1454.4 320.2,1455.7 329.2,1453.0 339.2,1448.0 343.0,1446.7 348.2,1446.0 354.2,1446.4 360.5,1448.7 365.8,1452.7 368.9,1457.7 369.8,1462.7 368.9,1467.7 365.8,1472.7 361.2,1476.3 355.2,1478.7"/><path d="M350.2,1478.7 343.2,1478.0 331.6,1473.7 320.2,1470.6 301.2,1472.5 292.2,1474.0 284.1,1473.7 279.2,1472.2 275.2,1469.7 272.8,1466.7 272.2,1464.7 272.2,1462.7 273.4,1459.7 276.2,1456.9 280.2,1454.8 284.2,1453.7 291.2,1453.3 301.2,1454.9 320.2,1456.5 330.2,1453.2 339.2,1448.8 343.2,1447.4 348.2,1446.7 354.2,1447.2 360.8,1449.7 365.6,1453.7 368.3,1458.7 368.9,1461.7 368.8,1464.7 367.0,1469.7 364.7,1472.7 362.3,1474.7 356.2,1477.7 350.2,1478.7"/><path d="M352.2,1477.8 347.2,1477.9 343.2,1477.2 320.2,1469.5 310.2,1471.1 299.2,1471.7 292.2,1472.7 285.2,1472.5 280.2,1471.0 276.6,1468.7 274.6,1465.7 274.3,1462.7 275.7,1459.7 277.9,1457.7 281.2,1456.0 285.2,1454.9 291.2,1454.6 320.2,1457.6 332.2,1453.1 342.2,1448.5 347.2,1447.5 353.2,1447.7 359.2,1449.7 364.2,1453.4 367.0,1457.7 368.1,1462.7 367.0,1467.7 365.3,1470.7 363.5,1472.7 358.2,1476.2 352.2,1477.8"/><path d="M354.2,1476.7 349.2,1477.3 344.1,1476.7 329.0,1471.7 320.2,1468.0 318.2,1468.1 312.2,1470.0 308.2,1470.6 297.2,1470.4 289.2,1471.0 285.6,1470.7 282.2,1469.7 279.1,1467.7 277.7,1465.7 277.3,1462.7 278.2,1460.7 280.2,1458.9 282.3,1457.7 285.6,1456.7 289.2,1456.4 297.2,1457.0 308.2,1456.8 319.2,1459.1 321.2,1458.6 342.2,1449.3 347.2,1448.2 353.2,1448.5 359.2,1450.6 363.3,1453.7 366.1,1457.7 367.2,1462.7 366.1,1467.7 363.3,1471.7 359.2,1474.8 354.2,1476.7"/><path d="M354.2,1475.9 350.2,1476.5 345.2,1476.1 328.2,1470.7 324.4,1468.7 322.1,1466.7 320.2,1464.0 319.5,1463.7 319.8,1462.7 322.4,1459.7 326.6,1456.7 342.2,1450.1 349.2,1448.9 353.2,1449.3 356.2,1450.1 360.9,1452.7 363.8,1455.7 365.8,1459.7 366.1,1463.7 365.0,1467.7 362.2,1471.6 358.2,1474.4 354.2,1475.9"/><path d="M309.2,1469.7 302.2,1469.5 295.1,1467.7 291.7,1465.7 291.3,1462.7 292.9,1460.7 295.1,1459.7 301.2,1458.0 306.2,1457.5 310.2,1457.8 313.6,1458.7 317.0,1460.7 319.0,1462.7 318.6,1464.7 315.5,1467.7 313.2,1468.8 309.2,1469.7"/><path d="M354.2,1475.0 350.2,1475.6 345.2,1475.2 328.2,1470.0 324.9,1467.7 323.6,1465.7 323.1,1462.7 323.6,1460.7 325.1,1458.7 328.1,1456.7 344.2,1450.4 348.2,1449.8 351.2,1449.9 357.2,1451.5 360.6,1453.7 363.3,1456.7 364.7,1459.7 365.1,1463.7 363.9,1467.7 361.7,1470.7 358.2,1473.4 354.2,1475.0"/><path d="M309.2,1468.9 304.2,1468.8 300.2,1467.5 299.0,1466.7 297.7,1464.7 297.7,1462.7 298.2,1461.7 300.6,1459.7 304.2,1458.6 309.2,1458.5 312.9,1459.7 315.0,1461.7 315.4,1464.7 314.2,1466.7 312.9,1467.7 309.2,1468.9"/><path d="M349.2,1474.7 344.2,1474.1 333.2,1471.1 327.5,1468.7 325.6,1466.7 324.7,1464.7 324.7,1461.7 325.7,1459.7 327.8,1457.7 330.2,1456.5 345.2,1451.2 349.2,1450.7 352.2,1451.0 355.2,1451.7 358.2,1453.2 361.2,1455.7 363.2,1458.9 364.0,1462.7 363.1,1466.7 361.2,1469.7 357.4,1472.7 353.2,1474.2 349.2,1474.7"/><path d="M309.2,1467.8 305.2,1467.8 302.2,1466.7 300.5,1464.7 300.5,1462.7 301.1,1461.7 303.2,1460.2 306.2,1459.5 309.2,1459.6 311.9,1460.7 313.3,1462.7 313.3,1464.7 311.8,1466.7 309.2,1467.8"/><path d="M354.2,1472.8 350.2,1473.6 347.2,1473.5 331.0,1469.7 327.7,1467.7 326.4,1465.7 325.9,1462.7 326.4,1460.7 327.9,1458.7 331.2,1456.8 344.2,1452.5 350.2,1451.8 355.2,1453.0 358.2,1454.6 360.4,1456.7 362.1,1459.7 362.6,1462.7 362.1,1465.7 360.4,1468.7 358.2,1470.8 354.2,1472.8"/><path d="M310.2,1465.8 308.2,1466.6 305.2,1466.3 303.1,1464.7 303.1,1462.7 304.2,1461.6 306.2,1460.8 309.2,1461.1 310.3,1461.7 311.2,1463.4 311.0,1464.7 310.2,1465.8"/><path d="M352.2,1471.9 346.2,1472.0 335.2,1470.2 331.2,1469.0 329.1,1467.7 327.6,1465.7 327.0,1462.7 327.6,1460.7 329.3,1458.7 332.2,1457.1 345.2,1453.7 350.2,1453.2 355.2,1454.5 358.2,1456.6 359.8,1458.7 360.6,1460.7 360.8,1463.7 359.8,1466.7 358.2,1468.8 355.5,1470.7 352.2,1471.9"/><path d="M352.2,1469.8 348.2,1470.2 338.2,1469.7 332.6,1468.7 330.2,1467.4 328.8,1465.7 328.2,1463.7 328.4,1461.7 330.2,1459.1 334.2,1457.3 347.2,1455.3 352.4,1455.7 354.6,1456.7 356.9,1458.7 358.0,1460.7 358.4,1462.7 358.0,1464.7 356.9,1466.7 354.6,1468.7 352.2,1469.8"/><path d="M343.2,1467.8 337.2,1468.7 332.5,1467.7 330.1,1465.7 329.4,1463.7 329.6,1461.7 331.2,1459.6 335.2,1458.0 339.2,1457.8 344.1,1458.7 346.9,1460.7 347.5,1463.7 346.8,1465.7 345.7,1466.7 343.2,1467.8"/><path d="M340.2,1466.7 336.2,1467.5 333.0,1466.7 331.0,1464.7 331.0,1461.7 333.2,1459.7 335.2,1459.2 338.2,1459.2 340.2,1459.8 342.1,1461.7 342.5,1463.7 341.6,1465.7 340.2,1466.7"/><path d="M337.2,1465.8 335.2,1465.9 333.2,1464.9 332.5,1463.7 333.1,1461.7 334.2,1461.0 336.2,1460.6 338.7,1461.7 339.4,1463.7 338.9,1464.7 337.2,1465.8"/></g>
<g fill="#555"><rect x="388.7" y="1419.0" width="1" height="1"/><rect x="328.9" y="1484.4" width="1" height="1"/><rect x="245.0" y="1438.1" width="1" height="1"/><rect x="305.6" y="1423.8" width="1" height="1"/><rect x="343.0" y="1417.7" width="1" height="1"/><rect x="310.0" y="1440.3" width="1" height="1"/><rect x="260.5" y="1476.0" width="1" height="1"/><rect x="332.6" y="1490.8" width="1" height="1"/><rect x="248.5" y="1470.0" width="1" height="1"/><rect x="262.4" y="1447.2" width="1" height="1"/><rect x="322.1" y="1436.7" width="1" height="1"/><rect x="326.0" y="1484.3" width="1" height="1"/><rect x="263.4" y="1446.3" width="1" height="1"/><rect x="343.7" y="1423.2" width="1" height="1"/><rect x="368.5" y="1429.5" width="1" height="1"/><rect x="251.5" y="1465.9" width="1" height="1"/><rect x="319.7" y="1488.2" width="1" height="1"/><rect x="297.2" y="1438.7" width="1" height="1"/><rect x="326.8" y="1437.6" width="1" height="1"/><rect x="279.0" y="1501.3" width="1" height="1"/></g>
<rect x="232.2" y="1327.7" width="185.5" height="184.2" fill="none" stroke="#9a9a9a" stroke-width="1.9"/>
<line x1="321.8" y1="1327.7" x2="321.8" y2="1511.9" stroke="#3a3a3a" stroke-width="1.7"/>
<line x1="232.2" y1="1446.8" x2="417.7" y2="1446.8" stroke="#3a3a3a" stroke-width="1.7"/>
<text transform="translate(235.30,1366.65) scale(0.9750,1)" font-size="26.600">6.90</text>
<text transform="translate(339.15,1366.65) scale(0.9750,1)" font-size="26.600">4.53</text>
<text transform="translate(235.05,1490.45) scale(0.9750,1)" font-size="26.600">38.4</text>
<text transform="translate(339.40,1490.45) scale(0.9750,1)" font-size="26.600">50.2</text>
<g fill="none" stroke="#777" stroke-width="0.8"><path d="M487.7,1491.7 482.7,1491.3 477.7,1490.1 472.7,1488.0 467.7,1484.8 463.7,1481.2 460.1,1476.7 457.2,1471.7 455.3,1466.7 454.1,1461.7 453.7,1455.7 454.1,1449.7 455.3,1444.7 457.2,1439.7 460.1,1434.7 463.7,1430.2 467.7,1426.6 472.7,1423.4 477.7,1421.3 481.7,1420.2 486.7,1419.7 494.7,1420.4 499.7,1422.0 507.7,1425.6 511.7,1425.8 519.7,1423.5 529.6,1421.7 532.7,1419.9 539.7,1414.2 543.7,1412.0 548.7,1410.1 555.7,1409.0 562.7,1409.6 569.7,1412.0 576.7,1416.6 581.5,1421.7 585.1,1427.7 587.3,1433.7 588.4,1440.7 588.1,1447.7 586.3,1454.7 583.5,1460.7 579.7,1465.9 574.7,1470.4 567.7,1474.3 559.7,1476.3 552.7,1476.1 542.7,1473.6 539.7,1473.3 528.7,1476.1 518.7,1476.8 514.7,1478.5 507.7,1484.8 501.7,1488.5 494.7,1491.0 487.7,1491.7"/><path d="M491.7,1488.8 486.7,1489.1 480.7,1488.3 476.7,1487.0 471.7,1484.5 467.7,1481.5 463.7,1477.4 460.5,1472.7 458.2,1467.7 456.9,1462.7 456.2,1457.7 456.3,1452.7 457.3,1446.7 459.5,1440.7 462.4,1435.7 465.8,1431.7 469.7,1428.3 473.7,1425.8 477.7,1424.0 482.7,1422.7 487.7,1422.3 495.7,1423.4 507.7,1428.4 511.7,1428.3 519.7,1425.9 530.7,1423.9 533.7,1422.2 540.7,1416.6 544.7,1414.3 550.7,1412.2 555.7,1411.6 562.7,1412.2 568.7,1414.3 574.7,1418.1 579.9,1423.7 582.9,1428.7 585.1,1434.7 586.0,1441.7 585.6,1447.7 584.1,1453.7 581.3,1459.7 577.7,1464.4 573.7,1468.1 566.7,1472.0 559.7,1473.7 552.7,1473.6 540.7,1470.8 537.7,1471.1 527.7,1473.8 516.7,1474.6 513.7,1476.0 506.7,1482.4 502.7,1485.1 497.7,1487.4 491.7,1488.8"/><path d="M493.7,1486.7 488.7,1487.4 483.7,1487.1 478.7,1485.9 473.7,1483.7 469.4,1480.7 465.3,1476.7 462.5,1472.7 460.0,1467.7 458.5,1462.7 457.9,1457.7 458.0,1451.7 459.0,1446.7 460.9,1441.7 463.1,1437.7 466.7,1433.2 470.7,1429.7 474.7,1427.2 478.7,1425.5 483.7,1424.3 487.7,1424.0 495.7,1425.2 506.7,1429.9 508.7,1430.3 511.7,1430.1 520.7,1427.3 528.7,1426.1 531.7,1425.2 534.5,1423.7 540.7,1418.6 544.7,1416.1 549.7,1414.2 555.7,1413.3 562.7,1413.9 568.7,1416.1 574.0,1419.7 578.6,1424.7 581.6,1429.7 583.4,1434.7 584.4,1440.7 584.2,1446.7 583.1,1451.7 580.6,1457.7 577.1,1462.7 572.7,1466.7 566.7,1470.2 559.7,1472.0 552.7,1471.8 543.7,1469.5 540.7,1469.2 536.7,1469.7 527.7,1472.2 516.7,1472.8 512.7,1474.6 506.7,1480.2 502.7,1483.1 498.7,1485.1 493.7,1486.7"/><path d="M490.7,1485.8 485.7,1485.9 480.7,1485.1 475.7,1483.2 471.7,1480.8 468.1,1477.7 464.7,1473.7 462.3,1469.7 460.4,1464.7 459.3,1459.7 459.1,1454.7 459.7,1449.7 461.1,1444.7 462.9,1440.7 465.7,1436.4 468.7,1433.1 472.7,1429.9 476.7,1427.8 480.7,1426.3 488.7,1425.4 492.7,1425.9 496.7,1427.0 506.7,1431.4 510.7,1431.7 520.7,1428.7 531.7,1426.7 535.3,1424.7 541.7,1419.5 545.7,1417.1 550.7,1415.3 555.7,1414.6 562.7,1415.3 568.7,1417.7 574.3,1421.7 578.4,1426.7 581.0,1431.7 582.5,1436.7 583.2,1442.7 582.5,1448.7 581.0,1453.7 578.4,1458.7 574.7,1463.3 570.7,1466.5 564.7,1469.5 558.7,1470.7 552.7,1470.5 543.7,1468.1 540.7,1467.8 536.7,1468.4 527.7,1470.9 515.7,1471.6 511.7,1473.6 505.7,1479.2 501.7,1482.1 496.7,1484.4 490.7,1485.8"/><path d="M489.7,1484.7 484.7,1484.6 480.7,1483.8 476.7,1482.4 472.7,1480.1 468.7,1476.7 466.1,1473.7 463.6,1469.7 461.6,1464.7 460.5,1459.7 460.2,1454.7 460.8,1449.7 461.9,1445.7 464.1,1440.7 466.7,1436.9 469.7,1433.7 473.7,1430.7 480.7,1427.6 484.7,1426.8 488.7,1426.6 492.7,1427.1 496.7,1428.2 506.7,1432.7 511.7,1432.7 520.7,1429.9 532.1,1427.7 535.7,1425.8 541.7,1421.0 545.7,1418.4 550.7,1416.5 555.7,1415.8 561.7,1416.3 567.7,1418.4 573.7,1422.7 577.7,1427.7 580.2,1432.7 581.6,1437.7 582.0,1442.7 581.4,1448.7 579.8,1453.7 577.1,1458.7 573.7,1462.7 569.7,1465.8 564.7,1468.3 558.7,1469.5 552.7,1469.3 543.7,1467.0 540.7,1466.7 536.7,1467.2 526.7,1469.8 515.7,1470.3 511.7,1472.1 504.7,1478.6 500.7,1481.3 495.7,1483.5 489.7,1484.7"/><path d="M488.7,1483.7 483.7,1483.4 479.7,1482.4 475.7,1480.7 472.6,1478.7 469.1,1475.7 466.0,1471.7 463.8,1467.7 462.3,1463.7 461.4,1458.7 461.3,1453.7 462.1,1448.7 463.3,1444.7 465.3,1440.7 468.2,1436.7 471.3,1433.7 474.7,1431.3 481.7,1428.4 485.7,1427.7 489.7,1427.7 496.7,1429.3 506.2,1433.7 508.7,1434.1 511.7,1433.8 520.7,1431.0 532.7,1428.6 536.2,1426.7 542.7,1421.5 546.7,1419.1 551.7,1417.4 555.7,1416.9 561.7,1417.4 567.7,1419.6 573.2,1423.7 577.2,1428.7 579.5,1433.7 580.8,1438.7 581.0,1443.7 580.4,1448.7 578.7,1453.7 575.8,1458.7 572.7,1462.2 568.7,1465.2 563.7,1467.5 558.7,1468.5 552.7,1468.2 544.7,1466.1 540.7,1465.7 536.7,1466.2 526.7,1468.7 515.7,1469.2 512.7,1470.2 510.7,1471.5 504.1,1477.7 499.7,1480.7 494.7,1482.7 488.7,1483.7"/><path d="M488.7,1482.7 484.7,1482.6 480.7,1481.7 476.7,1480.1 472.8,1477.7 469.7,1474.9 467.1,1471.7 464.8,1467.7 463.3,1463.7 462.4,1459.7 462.2,1454.7 462.8,1449.7 463.9,1445.7 465.8,1441.7 468.6,1437.7 471.6,1434.7 474.7,1432.4 481.7,1429.4 485.7,1428.7 489.7,1428.7 495.7,1430.0 505.7,1434.6 508.7,1435.2 511.7,1434.9 520.7,1432.1 532.7,1429.6 536.7,1427.5 542.7,1422.7 546.7,1420.2 550.7,1418.6 555.7,1417.8 561.7,1418.4 566.7,1420.2 571.8,1423.7 576.1,1428.7 578.2,1432.7 579.6,1437.7 580.1,1442.7 579.6,1447.7 578.2,1452.7 575.7,1457.2 572.7,1460.9 568.7,1464.1 563.7,1466.5 558.7,1467.5 552.7,1467.2 544.7,1465.2 540.7,1464.7 536.7,1465.2 526.7,1467.6 514.7,1468.4 510.7,1470.3 503.7,1476.8 499.7,1479.6 494.7,1481.7 488.7,1482.7"/><path d="M489.7,1481.8 485.7,1481.8 481.7,1481.1 477.7,1479.6 473.7,1477.2 470.7,1474.7 468.2,1471.7 465.8,1467.7 464.2,1463.7 463.3,1459.7 463.0,1454.7 463.5,1450.7 464.9,1445.7 466.9,1441.7 468.9,1438.7 471.8,1435.7 475.7,1432.9 482.7,1430.1 489.7,1429.6 495.7,1431.0 505.7,1435.6 508.7,1436.1 511.7,1435.9 520.7,1433.2 532.7,1430.5 536.7,1428.6 546.7,1421.2 550.7,1419.6 555.7,1418.8 561.7,1419.3 566.7,1421.2 571.7,1424.8 575.6,1429.7 577.6,1433.7 578.9,1438.7 579.2,1443.7 578.5,1448.7 577.2,1452.7 574.7,1457.1 571.6,1460.7 567.7,1463.6 563.7,1465.5 558.7,1466.6 553.7,1466.4 544.7,1464.2 540.7,1463.8 536.7,1464.2 526.7,1466.5 514.7,1467.3 509.9,1469.7 503.6,1475.7 499.7,1478.5 494.7,1480.8 489.7,1481.8"/><path d="M490.7,1480.8 486.7,1480.9 482.7,1480.4 478.7,1479.1 474.7,1476.9 471.7,1474.4 468.7,1471.0 466.7,1467.7 465.1,1463.7 464.1,1459.7 463.9,1454.7 464.3,1450.7 465.4,1446.7 467.3,1442.7 469.7,1439.1 472.7,1436.1 476.0,1433.7 482.7,1431.0 489.7,1430.5 495.7,1431.9 505.7,1436.6 508.7,1437.1 511.7,1436.9 533.7,1431.0 537.7,1428.9 546.7,1422.2 550.7,1420.6 555.7,1419.7 561.7,1420.3 566.7,1422.2 571.7,1426.1 575.2,1430.7 577.0,1434.7 578.2,1439.7 578.3,1444.7 577.6,1448.7 576.2,1452.7 573.9,1456.7 570.7,1460.3 567.5,1462.7 562.7,1464.8 557.7,1465.7 553.7,1465.5 544.7,1463.3 540.7,1463.0 535.7,1463.5 526.7,1465.4 514.7,1466.3 509.7,1468.7 503.4,1474.7 499.7,1477.5 495.7,1479.5 490.7,1480.8"/><path d="M491.7,1479.7 487.7,1480.1 483.7,1479.7 479.7,1478.6 476.0,1476.7 472.7,1474.2 469.7,1470.9 467.6,1467.7 465.9,1463.7 465.0,1459.7 464.7,1454.7 465.2,1450.7 466.3,1446.7 468.2,1442.7 470.3,1439.7 473.3,1436.7 476.7,1434.3 482.7,1431.9 489.7,1431.4 495.7,1432.8 505.7,1437.6 508.7,1438.0 512.7,1437.8 533.7,1431.9 538.0,1429.7 547.7,1422.7 551.7,1421.2 555.7,1420.6 561.7,1421.2 566.7,1423.3 570.7,1426.3 574.2,1430.7 576.1,1434.7 577.2,1438.7 577.5,1443.7 577.0,1447.7 575.8,1451.7 573.6,1455.7 570.7,1459.1 566.7,1462.1 562.7,1463.9 557.7,1464.8 553.7,1464.6 544.7,1462.5 540.7,1462.2 535.7,1462.6 526.7,1464.2 514.7,1465.3 509.6,1467.7 499.7,1476.5 495.7,1478.6 491.7,1479.7"/><path d="M491.7,1478.9 487.7,1479.2 483.7,1478.9 479.8,1477.7 476.7,1476.2 473.4,1473.7 470.7,1470.9 468.6,1467.7 466.8,1463.7 465.8,1459.7 465.5,1455.7 465.8,1451.7 466.8,1447.7 468.6,1443.7 470.7,1440.5 473.4,1437.7 476.7,1435.2 482.7,1432.8 489.7,1432.3 495.7,1433.7 505.7,1438.5 509.7,1439.0 513.7,1438.7 526.7,1435.2 533.7,1432.8 538.7,1430.2 547.7,1423.7 551.7,1422.1 555.7,1421.5 560.7,1421.9 565.7,1423.7 570.7,1427.5 573.8,1431.7 575.6,1435.7 576.5,1439.7 576.6,1444.7 575.9,1448.7 574.4,1452.7 571.8,1456.7 568.7,1459.7 565.7,1461.7 561.7,1463.3 557.7,1463.9 553.7,1463.7 545.7,1461.8 540.7,1461.3 515.7,1464.1 512.7,1465.0 509.4,1466.7 502.1,1473.7 498.7,1476.2 495.6,1477.7 491.7,1478.9"/><path d="M492.7,1477.8 488.7,1478.4 484.7,1478.2 480.7,1477.1 477.7,1475.8 474.6,1473.7 471.6,1470.7 469.5,1467.7 467.6,1463.7 466.6,1459.7 466.3,1455.7 466.6,1451.7 467.6,1447.7 469.5,1443.7 471.6,1440.7 474.6,1437.7 477.7,1435.6 483.7,1433.4 489.7,1433.1 495.7,1434.6 505.7,1439.4 510.7,1440.0 516.7,1439.4 524.7,1437.2 534.7,1433.3 539.5,1430.7 547.7,1424.7 551.7,1423.0 555.7,1422.4 560.7,1422.8 565.7,1424.7 569.7,1427.7 572.8,1431.7 574.7,1435.7 575.7,1439.7 575.8,1443.7 575.3,1447.7 573.9,1451.7 571.7,1455.4 568.7,1458.6 565.7,1460.7 561.7,1462.4 557.7,1463.0 553.7,1462.8 545.7,1460.9 540.7,1460.5 525.7,1461.5 516.7,1462.8 512.7,1464.0 509.7,1465.4 499.7,1474.5 496.7,1476.3 492.7,1477.8"/><path d="M492.7,1476.9 489.7,1477.4 485.7,1477.4 482.1,1476.7 478.7,1475.3 475.7,1473.5 472.7,1470.7 470.5,1467.7 468.5,1463.7 467.1,1456.7 467.3,1452.7 468.2,1448.7 469.7,1445.0 471.9,1441.7 474.7,1438.7 477.7,1436.6 483.7,1434.3 489.7,1434.0 494.7,1435.2 502.7,1439.3 506.7,1440.6 512.7,1441.1 519.7,1440.6 523.7,1439.4 537.8,1432.7 548.7,1425.2 551.7,1424.0 555.7,1423.3 560.7,1423.7 565.6,1425.7 569.4,1428.7 572.4,1432.7 573.8,1435.7 574.8,1439.7 575.0,1443.7 574.4,1447.7 572.9,1451.7 571.1,1454.7 568.7,1457.4 565.6,1459.7 561.7,1461.4 556.7,1462.1 542.7,1459.7 526.7,1459.5 521.7,1460.1 514.7,1462.2 509.7,1464.4 506.7,1466.6 499.7,1473.5 496.7,1475.3 492.7,1476.9"/><path d="M492.7,1476.0 489.7,1476.6 485.7,1476.6 481.8,1475.7 478.7,1474.4 475.7,1472.4 472.7,1469.4 470.7,1466.4 469.0,1462.7 468.1,1458.7 467.9,1454.7 469.4,1447.7 473.0,1441.7 475.7,1439.0 478.7,1437.0 484.7,1435.0 490.7,1435.0 495.7,1436.5 502.7,1440.3 505.7,1441.4 521.7,1443.4 523.7,1442.5 529.7,1437.7 539.7,1432.6 548.7,1426.3 552.7,1424.7 555.7,1424.3 560.7,1424.7 565.4,1426.7 569.0,1429.7 571.9,1433.7 573.1,1436.7 574.0,1440.7 574.0,1444.7 573.4,1447.7 571.9,1451.7 569.9,1454.7 567.7,1457.0 564.7,1459.1 560.7,1460.7 555.7,1461.1 544.7,1459.0 532.7,1458.4 525.7,1456.3 523.7,1456.3 508.7,1463.9 499.3,1472.7 496.1,1474.7 492.7,1476.0"/><path d="M559.7,1459.8 554.7,1460.0 545.7,1458.2 535.7,1457.7 531.7,1456.6 529.1,1454.7 527.3,1451.7 526.3,1446.7 527.0,1442.7 529.2,1439.7 531.8,1437.7 540.7,1433.1 547.7,1428.1 550.7,1426.5 553.7,1425.6 557.7,1425.3 560.7,1425.8 563.7,1427.0 567.7,1429.8 570.7,1433.7 572.7,1438.7 573.0,1444.7 571.7,1449.7 568.7,1454.6 564.7,1457.9 559.7,1459.8"/><path d="M488.7,1475.7 482.7,1475.0 477.7,1472.7 473.3,1468.7 470.3,1463.7 468.9,1457.7 469.1,1451.7 471.3,1445.7 474.7,1441.1 477.7,1438.7 481.7,1436.7 485.7,1435.8 489.7,1435.8 494.7,1437.1 504.7,1442.2 513.7,1443.9 517.5,1445.7 519.1,1447.7 520.0,1450.7 519.9,1453.7 518.4,1456.7 516.0,1458.7 507.3,1463.7 500.7,1470.3 497.7,1472.7 493.7,1474.7 488.7,1475.7"/><path d="M558.7,1458.8 554.7,1458.9 545.7,1457.2 537.7,1456.9 533.3,1455.7 530.9,1453.7 529.0,1449.7 528.5,1445.7 529.6,1441.7 531.1,1439.7 533.7,1437.7 541.7,1433.6 548.7,1428.7 551.7,1427.3 554.7,1426.6 558.7,1426.6 561.7,1427.3 564.5,1428.7 568.0,1431.7 570.7,1436.1 571.9,1440.7 571.8,1445.7 570.0,1450.7 567.1,1454.7 562.7,1457.7 558.7,1458.8"/><path d="M488.7,1474.8 483.7,1474.3 478.7,1472.3 474.5,1468.7 471.3,1463.7 469.9,1458.7 469.9,1452.7 471.7,1446.9 474.7,1442.5 477.8,1439.7 481.7,1437.7 485.7,1436.7 489.7,1436.7 494.7,1438.1 503.7,1442.9 511.7,1444.9 515.2,1446.7 516.6,1448.7 517.3,1451.7 516.9,1454.7 515.7,1456.7 513.4,1458.7 506.7,1462.8 497.6,1471.7 493.7,1473.7 488.7,1474.8"/><path d="M556.7,1457.7 546.7,1456.2 538.7,1456.0 534.3,1454.7 532.1,1452.7 530.5,1448.7 530.2,1444.7 531.2,1441.7 532.8,1439.7 534.7,1438.2 542.7,1434.3 551.7,1428.7 554.7,1427.8 557.7,1427.7 560.7,1428.3 563.8,1429.7 567.2,1432.7 569.7,1436.8 570.8,1441.7 570.3,1446.7 568.7,1450.7 565.2,1454.7 561.7,1456.7 556.7,1457.7"/><path d="M488.7,1473.8 485.7,1473.7 481.9,1472.7 476.7,1469.5 474.1,1466.7 472.4,1463.7 471.3,1460.7 470.6,1456.7 470.7,1453.7 471.6,1449.7 472.9,1446.7 474.9,1443.7 479.7,1439.7 482.7,1438.4 486.7,1437.6 489.7,1437.7 493.6,1438.7 503.7,1444.1 511.7,1446.6 514.1,1448.7 515.2,1451.7 514.7,1454.7 513.4,1456.7 505.7,1462.2 498.5,1469.7 493.7,1472.6 488.7,1473.8"/><path d="M559.7,1455.8 555.7,1456.2 547.7,1455.0 539.7,1455.1 535.7,1454.0 533.7,1452.3 532.2,1449.7 531.6,1445.7 532.2,1442.7 533.5,1440.7 535.7,1438.9 543.7,1435.2 551.7,1430.3 556.7,1429.2 561.7,1430.3 565.2,1432.7 567.5,1435.7 569.1,1439.7 569.3,1443.7 568.5,1447.7 566.7,1451.0 563.7,1453.9 559.7,1455.8"/><path d="M492.7,1471.8 489.7,1472.5 486.7,1472.6 483.7,1472.1 480.2,1470.7 475.5,1466.7 473.6,1463.7 472.4,1460.7 471.7,1456.8 471.8,1453.7 473.7,1447.4 475.5,1444.7 477.7,1442.4 480.7,1440.4 483.7,1439.3 488.7,1438.8 493.7,1439.9 502.7,1445.1 510.0,1447.7 511.7,1449.0 512.8,1450.7 512.9,1453.7 510.9,1456.7 504.7,1461.4 497.7,1469.0 492.7,1471.8"/><path d="M559.7,1453.7 556.7,1454.2 548.7,1453.4 541.7,1454.0 537.7,1453.5 535.0,1451.7 533.7,1449.6 533.0,1445.7 533.7,1442.8 535.2,1440.7 536.7,1439.6 545.7,1436.0 552.7,1432.0 556.7,1431.2 560.7,1432.0 563.7,1433.9 565.9,1436.7 567.1,1439.7 567.5,1443.7 566.8,1446.7 565.3,1449.7 562.7,1452.2 559.7,1453.7"/><path d="M491.7,1470.8 488.7,1471.4 485.7,1471.3 480.7,1469.6 476.2,1465.7 474.4,1462.7 473.3,1459.7 473.0,1453.7 473.6,1450.7 474.9,1447.7 476.7,1445.1 479.3,1442.7 484.7,1440.3 489.7,1440.1 493.7,1441.3 501.7,1446.2 508.7,1449.3 510.5,1451.7 510.4,1453.7 509.7,1455.0 503.7,1460.4 498.4,1466.7 494.7,1469.6 491.7,1470.8"/><path d="M545.7,1451.8 542.7,1452.5 539.7,1452.6 537.7,1451.9 536.1,1450.7 534.9,1448.7 534.4,1445.7 534.9,1443.7 536.2,1441.7 539.7,1439.6 547.7,1438.0 555.7,1434.7 558.7,1435.0 561.8,1436.7 563.7,1439.6 564.2,1442.7 563.7,1445.8 561.7,1448.8 557.7,1450.7 550.7,1450.7 545.7,1451.8"/><path d="M489.7,1469.8 484.7,1469.6 479.7,1467.2 477.7,1465.2 476.0,1462.7 474.4,1457.7 474.7,1452.0 476.7,1447.5 480.7,1443.5 485.7,1441.6 489.7,1441.6 493.7,1442.9 505.6,1450.7 507.0,1452.7 506.3,1454.7 497.4,1465.7 493.7,1468.5 489.7,1469.8"/><path d="M542.7,1450.8 540.7,1451.0 538.7,1450.6 537.5,1449.7 536.3,1447.7 536.1,1445.7 536.7,1443.7 537.7,1442.5 539.7,1441.4 541.7,1441.0 544.7,1441.4 546.7,1442.5 547.6,1443.7 548.0,1445.7 547.2,1447.7 545.1,1449.7 542.7,1450.8"/><path d="M489.7,1467.9 484.8,1467.7 480.8,1465.7 477.7,1462.1 476.2,1457.7 476.4,1452.7 478.1,1448.7 481.7,1445.1 485.7,1443.5 490.7,1443.7 494.7,1445.6 500.5,1450.7 502.0,1453.7 500.7,1457.7 496.7,1463.7 493.7,1466.3 489.7,1467.9"/><path d="M541.7,1448.1 539.7,1448.1 538.7,1446.8 538.7,1445.5 539.7,1444.2 541.7,1444.0 542.8,1444.7 543.1,1446.7 541.7,1448.1"/><path d="M489.7,1464.9 485.7,1464.9 482.9,1463.7 480.7,1461.6 478.9,1457.7 478.8,1454.7 480.1,1450.7 482.7,1447.8 485.7,1446.5 489.7,1446.5 492.7,1447.7 495.9,1450.7 497.4,1453.7 497.3,1456.7 495.5,1460.7 492.7,1463.6 489.7,1464.9"/></g>
<g fill="#555"><rect x="526.1" y="1403.1" width="1" height="1"/><rect x="540.6" y="1398.4" width="1" height="1"/><rect x="482.3" y="1500.8" width="1" height="1"/><rect x="530.4" y="1421.4" width="1" height="1"/><rect x="557.4" y="1364.3" width="1" height="1"/><rect x="572.2" y="1405.5" width="1" height="1"/><rect x="563.3" y="1491.3" width="1" height="1"/><rect x="532.5" y="1494.4" width="1" height="1"/><rect x="503.2" y="1411.4" width="1" height="1"/><rect x="461.0" y="1502.3" width="1" height="1"/><rect x="584.9" y="1410.0" width="1" height="1"/><rect x="454.8" y="1479.9" width="1" height="1"/><rect x="564.5" y="1486.1" width="1" height="1"/><rect x="519.2" y="1502.8" width="1" height="1"/><rect x="539.5" y="1492.0" width="1" height="1"/><rect x="562.5" y="1380.0" width="1" height="1"/><rect x="445.2" y="1486.6" width="1" height="1"/><rect x="470.6" y="1397.6" width="1" height="1"/><rect x="533.2" y="1494.8" width="1" height="1"/><rect x="443.7" y="1482.5" width="1" height="1"/><rect x="591.5" y="1413.8" width="1" height="1"/><rect x="538.7" y="1414.8" width="1" height="1"/><rect x="584.7" y="1386.4" width="1" height="1"/><rect x="540.0" y="1479.1" width="1" height="1"/><rect x="503.9" y="1417.7" width="1" height="1"/><rect x="534.0" y="1407.9" width="1" height="1"/><rect x="540.6" y="1491.6" width="1" height="1"/><rect x="540.7" y="1476.1" width="1" height="1"/><rect x="557.3" y="1405.2" width="1" height="1"/><rect x="445.2" y="1500.8" width="1" height="1"/><rect x="455.0" y="1394.8" width="1" height="1"/><rect x="600.1" y="1402.8" width="1" height="1"/><rect x="518.2" y="1487.1" width="1" height="1"/><rect x="453.1" y="1443.7" width="1" height="1"/><rect x="531.5" y="1478.7" width="1" height="1"/><rect x="557.7" y="1495.5" width="1" height="1"/><rect x="561.8" y="1501.4" width="1" height="1"/><rect x="474.6" y="1405.3" width="1" height="1"/><rect x="556.4" y="1485.1" width="1" height="1"/><rect x="562.8" y="1397.2" width="1" height="1"/></g>
<rect x="434.7" y="1327.7" width="185.5" height="184.2" fill="none" stroke="#9a9a9a" stroke-width="1.9"/>
<line x1="524.4" y1="1327.7" x2="524.4" y2="1511.9" stroke="#3a3a3a" stroke-width="1.7"/>
<line x1="434.7" y1="1446.8" x2="620.2" y2="1446.8" stroke="#3a3a3a" stroke-width="1.7"/>
<text transform="translate(437.55,1366.65) scale(0.9750,1)" font-size="26.600">18.4</text>
<text transform="translate(541.50,1366.65) scale(0.9750,1)" font-size="26.600">24.0</text>
<text transform="translate(438.05,1490.45) scale(0.9750,1)" font-size="26.600">34.9</text>
<text transform="translate(541.75,1490.45) scale(0.9750,1)" font-size="26.600">22.6</text>
<g fill="none" stroke="#777" stroke-width="0.8"><path d="M748.2,1491.7 740.2,1490.9 732.2,1488.0 725.8,1483.7 718.5,1475.7 716.2,1474.7 711.2,1473.7 708.2,1473.8 706.2,1474.4 699.2,1479.3 693.2,1482.4 688.2,1484.1 683.2,1485.1 676.2,1485.3 670.2,1484.6 665.2,1483.2 659.2,1480.5 653.2,1476.4 648.6,1471.7 644.5,1465.7 641.8,1458.7 640.7,1452.7 640.8,1445.7 642.4,1438.7 645.1,1432.7 648.6,1427.7 652.2,1423.9 657.2,1420.1 661.2,1417.9 666.2,1415.9 672.2,1414.5 677.2,1414.0 683.2,1414.3 688.2,1415.3 693.2,1417.0 698.2,1419.5 702.2,1422.2 708.6,1428.7 713.9,1437.7 716.0,1439.7 725.2,1442.3 731.4,1444.7 735.2,1445.1 737.2,1444.0 737.9,1442.7 737.6,1431.7 738.6,1424.7 740.9,1418.7 743.4,1414.7 747.2,1410.8 752.2,1408.2 757.2,1407.6 760.2,1408.2 763.2,1409.5 766.3,1411.7 769.8,1415.7 772.0,1419.7 773.8,1424.7 774.8,1430.7 774.8,1436.7 774.0,1441.7 772.2,1448.0 772.0,1450.7 772.5,1452.7 776.0,1458.7 777.6,1462.7 778.2,1466.7 777.8,1471.7 776.5,1475.7 774.2,1479.7 771.2,1483.1 767.2,1486.3 763.2,1488.5 758.2,1490.4 753.2,1491.4 748.2,1491.7"/><path d="M752.2,1489.7 748.2,1490.0 743.2,1489.6 735.2,1487.4 731.2,1485.3 727.6,1482.7 720.2,1474.5 716.2,1472.8 710.2,1471.7 705.2,1472.0 694.2,1479.0 689.2,1481.0 684.2,1482.2 679.2,1482.7 673.2,1482.4 667.2,1481.0 662.2,1479.0 657.2,1476.0 652.2,1471.6 648.4,1466.7 645.4,1460.7 643.8,1454.7 643.4,1447.7 644.4,1441.7 646.7,1435.7 649.7,1430.7 653.2,1426.8 657.2,1423.4 662.2,1420.4 667.2,1418.4 672.2,1417.2 677.2,1416.7 683.2,1417.0 688.2,1418.1 692.2,1419.5 696.2,1421.5 700.2,1424.1 705.9,1429.7 711.9,1439.7 714.2,1441.5 724.2,1443.8 732.2,1446.8 736.2,1446.9 738.7,1445.7 739.9,1443.7 739.3,1433.7 739.7,1428.7 741.6,1421.7 744.5,1416.7 748.2,1412.9 753.2,1410.4 758.2,1410.2 762.2,1411.6 765.2,1413.7 768.6,1417.7 770.8,1421.7 772.3,1426.7 773.0,1431.7 772.9,1437.7 771.8,1442.7 770.2,1447.7 769.8,1450.7 770.7,1453.7 775.0,1461.7 775.9,1465.7 775.9,1469.7 775.0,1473.7 773.7,1476.7 771.7,1479.7 768.2,1483.2 761.2,1487.4 756.2,1489.0 752.2,1489.7"/><path d="M750.2,1488.7 742.2,1488.3 735.2,1486.1 731.2,1483.8 728.5,1481.7 722.5,1474.7 720.2,1472.9 717.1,1471.7 709.2,1470.2 704.2,1470.5 693.2,1477.5 688.2,1479.4 683.2,1480.5 678.2,1480.9 672.2,1480.4 667.2,1479.1 662.2,1477.0 657.2,1473.7 652.9,1469.7 649.3,1464.7 646.7,1458.7 645.4,1452.7 645.4,1446.7 646.7,1440.7 648.8,1435.7 651.3,1431.7 654.9,1427.7 659.2,1424.2 663.2,1421.9 668.2,1420.0 673.2,1418.9 678.2,1418.5 683.2,1418.9 691.2,1421.0 695.2,1423.0 699.2,1425.7 704.3,1430.7 707.1,1434.7 710.2,1440.6 712.2,1442.4 715.2,1443.4 723.2,1444.9 732.2,1448.1 736.2,1448.2 739.7,1446.7 741.2,1444.7 741.4,1442.7 740.6,1434.7 740.8,1429.7 742.3,1423.7 745.2,1418.2 749.2,1414.1 753.2,1412.2 757.2,1411.9 761.2,1413.0 764.2,1414.9 767.2,1418.2 769.7,1422.7 771.0,1426.7 771.8,1431.7 771.7,1436.7 770.8,1441.7 768.5,1448.7 768.3,1450.7 769.1,1453.7 772.6,1459.7 773.8,1462.7 774.6,1466.7 774.5,1469.7 773.5,1473.7 772.1,1476.7 769.9,1479.7 766.8,1482.7 763.2,1485.1 759.2,1486.9 755.2,1488.1 750.2,1488.7"/><path d="M751.2,1487.7 743.2,1487.5 736.2,1485.5 732.2,1483.3 729.2,1481.0 723.2,1473.8 721.2,1472.2 717.2,1470.6 708.2,1468.8 705.2,1468.8 703.2,1469.3 692.2,1476.3 687.2,1478.2 683.2,1479.1 678.2,1479.5 673.2,1479.1 668.2,1477.9 663.2,1475.8 658.2,1472.6 654.0,1468.7 650.5,1463.7 648.3,1458.7 647.0,1452.7 646.9,1447.7 648.0,1441.7 650.0,1436.7 652.4,1432.7 656.0,1428.7 660.2,1425.3 664.2,1423.1 669.2,1421.2 673.2,1420.3 678.2,1419.9 683.2,1420.3 687.2,1421.2 692.2,1423.1 699.2,1427.6 704.0,1432.7 709.1,1441.7 711.2,1443.4 714.2,1444.4 723.2,1446.0 731.2,1449.0 736.2,1449.2 740.2,1447.7 741.4,1446.7 742.5,1444.7 742.6,1442.7 741.6,1434.7 741.9,1429.7 743.5,1423.7 746.2,1418.9 749.2,1415.8 753.2,1413.7 757.2,1413.3 761.2,1414.5 764.2,1416.7 766.8,1419.7 768.9,1423.7 770.1,1427.7 770.8,1432.7 770.5,1437.7 769.6,1441.7 767.5,1447.7 767.1,1450.7 767.9,1453.7 772.7,1462.7 773.4,1466.7 773.3,1469.7 772.7,1472.7 770.8,1476.7 766.2,1481.8 763.2,1483.9 759.2,1485.9 751.2,1487.7"/><path d="M752.2,1486.8 744.2,1486.8 737.2,1485.0 733.2,1482.9 730.2,1480.7 724.2,1473.5 721.2,1471.1 717.2,1469.6 708.2,1467.7 705.2,1467.5 702.2,1468.3 692.2,1474.9 688.2,1476.6 683.2,1477.8 678.2,1478.2 673.2,1477.8 668.2,1476.6 664.2,1474.9 659.2,1471.8 655.2,1468.1 652.0,1463.7 649.6,1458.7 648.4,1453.7 648.2,1447.7 649.0,1442.7 650.9,1437.7 653.3,1433.7 656.2,1430.3 660.2,1426.9 664.2,1424.5 668.2,1422.8 673.2,1421.6 677.2,1421.2 682.2,1421.4 687.2,1422.5 691.2,1424.0 698.2,1428.4 702.4,1432.7 704.4,1435.7 707.5,1441.7 710.2,1444.3 713.2,1445.3 722.2,1446.9 731.2,1449.9 734.2,1450.2 737.2,1449.9 741.2,1448.2 743.3,1445.7 743.7,1442.7 742.7,1435.7 742.8,1430.7 743.9,1425.7 746.3,1420.7 749.2,1417.4 753.2,1415.1 757.2,1414.7 760.2,1415.5 763.2,1417.4 765.4,1419.7 767.8,1423.7 769.1,1427.7 769.8,1432.7 769.5,1437.7 768.6,1441.7 766.3,1447.7 766.0,1450.7 766.9,1453.7 771.6,1462.7 772.4,1466.7 772.3,1469.7 771.6,1472.7 770.3,1475.7 766.2,1480.7 760.2,1484.6 756.2,1486.0 752.2,1486.8"/><path d="M754.2,1485.8 750.2,1486.3 745.2,1486.2 741.2,1485.5 737.2,1484.2 733.2,1482.0 730.3,1479.7 724.6,1472.7 722.2,1470.7 717.2,1468.5 708.2,1466.6 705.2,1466.4 702.2,1467.0 692.2,1473.7 688.2,1475.4 683.2,1476.7 679.2,1477.1 674.2,1476.8 670.2,1476.0 665.2,1474.2 660.2,1471.1 656.4,1467.7 653.4,1463.7 650.9,1458.7 649.6,1453.7 649.3,1448.7 650.0,1443.7 651.7,1438.7 654.0,1434.7 657.2,1430.9 660.2,1428.3 664.2,1425.7 668.2,1424.0 673.2,1422.7 677.2,1422.3 682.2,1422.6 690.2,1424.8 697.2,1429.1 701.7,1433.7 706.7,1442.7 709.2,1445.2 712.2,1446.2 721.2,1447.7 730.5,1450.7 734.2,1451.0 737.0,1450.7 741.9,1448.7 744.5,1445.7 744.8,1443.7 743.6,1435.7 743.7,1430.7 744.9,1425.7 747.2,1421.3 750.2,1418.1 753.2,1416.5 757.2,1416.0 760.2,1416.9 762.9,1418.7 765.2,1421.3 767.1,1424.7 768.3,1428.7 768.8,1432.7 768.5,1437.7 767.5,1441.7 765.2,1447.7 765.0,1450.7 765.9,1453.7 770.7,1462.7 771.4,1465.7 771.5,1468.7 771.0,1471.7 769.9,1474.7 766.2,1479.6 761.2,1483.2 754.2,1485.8"/><path d="M749.2,1485.7 742.2,1485.1 736.2,1483.0 731.2,1479.5 725.2,1472.1 722.2,1469.6 717.2,1467.4 708.2,1465.5 705.2,1465.3 702.2,1465.8 691.2,1473.0 687.2,1474.6 683.2,1475.6 679.2,1476.0 674.2,1475.8 669.2,1474.6 665.2,1473.0 661.2,1470.6 657.0,1466.7 654.0,1462.7 651.7,1457.7 650.6,1452.7 650.5,1447.7 651.4,1442.7 652.9,1438.7 655.2,1434.9 657.9,1431.7 661.2,1428.8 665.2,1426.4 669.2,1424.8 673.2,1423.8 677.2,1423.4 682.2,1423.6 686.2,1424.5 690.2,1425.9 694.2,1428.1 697.2,1430.5 701.2,1434.9 705.9,1443.7 708.2,1446.0 711.2,1447.1 720.3,1448.7 729.2,1451.3 733.2,1451.8 736.2,1451.6 742.2,1449.4 744.4,1447.7 745.6,1445.7 745.9,1443.7 744.7,1436.7 744.6,1431.7 745.6,1426.7 748.2,1421.8 751.2,1418.9 754.2,1417.6 757.2,1417.4 760.2,1418.3 762.3,1419.7 764.8,1422.7 767.3,1428.7 767.9,1432.7 767.5,1437.7 766.4,1441.7 764.3,1446.7 763.8,1449.7 765.0,1453.7 769.9,1462.7 770.6,1465.7 770.6,1469.7 769.9,1472.7 768.4,1475.7 766.2,1478.6 763.8,1480.7 757.2,1484.2 753.2,1485.3 749.2,1485.7"/><path d="M752.2,1484.8 748.2,1485.1 744.2,1484.8 737.2,1482.7 734.2,1481.0 731.3,1478.7 725.8,1471.7 722.2,1468.6 717.2,1466.1 709.2,1464.5 704.2,1464.2 701.2,1464.9 691.2,1471.9 687.2,1473.6 683.2,1474.6 679.2,1475.0 674.2,1474.8 670.2,1473.9 666.2,1472.4 662.2,1470.0 658.3,1466.7 655.2,1462.7 653.2,1458.7 651.8,1453.7 651.5,1448.7 652.2,1443.7 653.6,1439.7 655.9,1435.7 658.3,1432.7 661.7,1429.7 665.2,1427.5 669.2,1425.8 673.2,1424.8 677.2,1424.4 682.2,1424.6 689.5,1426.7 696.2,1430.9 701.2,1436.7 705.2,1444.7 708.2,1447.3 728.2,1452.1 732.2,1452.5 736.2,1452.2 740.2,1451.1 743.2,1449.7 745.6,1447.7 746.8,1445.7 747.0,1442.7 745.8,1436.7 745.6,1432.7 746.4,1427.7 748.3,1423.7 750.2,1421.4 753.2,1419.4 756.2,1418.8 759.2,1419.4 761.2,1420.5 763.4,1422.7 765.2,1425.7 766.2,1428.7 766.8,1432.7 766.6,1436.7 765.6,1440.7 763.0,1446.7 762.8,1449.7 764.1,1453.7 769.1,1462.7 769.8,1465.7 769.9,1468.7 769.4,1471.7 768.1,1474.7 764.2,1479.5 758.2,1483.2 752.2,1484.8"/><path d="M754.2,1483.8 750.2,1484.5 745.2,1484.4 741.2,1483.6 737.2,1482.1 732.2,1478.6 726.2,1471.0 723.2,1468.2 717.2,1464.3 714.2,1463.5 706.2,1463.0 702.2,1463.3 699.2,1464.8 691.2,1470.8 687.2,1472.6 683.2,1473.6 675.2,1473.9 671.2,1473.2 667.2,1471.8 663.2,1469.5 659.2,1466.2 656.4,1462.7 654.3,1458.7 653.0,1454.7 652.4,1449.7 653.0,1444.7 654.3,1440.7 656.2,1437.0 658.8,1433.7 662.0,1430.7 665.2,1428.6 669.2,1426.8 673.2,1425.8 677.2,1425.3 682.2,1425.6 686.2,1426.5 690.2,1428.1 696.2,1432.3 700.6,1437.7 704.5,1445.7 707.2,1448.2 721.2,1452.5 731.2,1453.2 736.2,1452.9 740.5,1451.7 744.2,1449.9 746.9,1447.7 748.1,1445.7 748.3,1442.7 747.0,1436.7 746.8,1432.7 747.4,1428.7 749.2,1424.7 751.2,1422.4 754.2,1420.7 757.2,1420.5 759.2,1421.1 761.2,1422.4 763.2,1424.7 765.2,1429.7 765.7,1433.7 765.2,1437.7 761.9,1445.7 761.5,1448.7 762.7,1452.7 768.3,1462.7 769.1,1465.7 769.2,1468.7 767.9,1473.7 765.1,1477.7 760.2,1481.5 754.2,1483.8"/><path d="M751.2,1483.8 746.2,1483.9 742.2,1483.2 738.2,1481.9 734.5,1479.7 731.3,1476.7 726.2,1469.9 720.7,1464.7 719.4,1462.7 719.0,1460.7 720.3,1457.7 723.2,1455.2 726.2,1454.4 734.2,1453.8 739.2,1452.8 744.2,1450.7 748.3,1447.7 749.7,1445.7 750.2,1443.7 748.2,1434.7 749.1,1428.7 750.2,1426.3 752.2,1424.0 754.8,1422.7 757.2,1422.6 759.2,1423.3 761.2,1425.0 763.6,1429.7 764.2,1433.5 763.9,1436.7 763.0,1439.7 760.3,1444.7 760.0,1447.7 761.8,1452.7 767.6,1462.7 768.4,1465.7 768.5,1468.7 767.1,1473.7 765.2,1476.6 763.2,1478.7 758.2,1481.9 751.2,1483.8"/><path d="M682.2,1472.8 677.2,1473.1 672.2,1472.5 668.2,1471.2 663.7,1468.7 660.1,1465.7 657.2,1462.1 654.9,1457.7 653.8,1453.7 653.5,1448.7 654.0,1444.7 655.3,1440.7 657.6,1436.7 660.2,1433.6 664.2,1430.4 668.2,1428.2 673.2,1426.7 678.2,1426.2 683.2,1426.7 688.2,1428.2 692.7,1430.7 696.2,1433.6 698.8,1436.7 704.5,1447.7 706.2,1449.1 713.7,1452.7 714.7,1453.7 715.4,1455.7 714.9,1458.7 712.8,1460.7 710.2,1461.4 704.2,1461.7 701.2,1462.4 690.2,1470.2 686.2,1471.9 682.2,1472.8"/><path d="M753.2,1482.9 749.2,1483.4 744.2,1483.1 739.3,1481.7 735.6,1479.7 732.1,1476.7 727.2,1469.9 723.3,1465.7 722.1,1463.7 721.8,1461.7 722.9,1458.7 725.2,1456.4 728.2,1455.2 737.2,1454.0 742.2,1452.3 747.3,1449.7 753.5,1444.7 754.0,1443.7 753.9,1442.7 751.2,1436.9 751.0,1431.7 752.9,1427.7 754.2,1426.6 756.2,1426.1 758.2,1426.6 760.2,1428.5 761.2,1430.7 761.6,1433.7 761.2,1436.7 760.4,1438.7 756.5,1443.7 756.5,1444.7 766.4,1461.7 767.5,1464.7 767.8,1468.7 766.3,1473.7 763.3,1477.7 759.2,1480.7 753.2,1482.9"/><path d="M683.2,1471.7 679.2,1472.2 674.2,1471.9 669.7,1470.7 665.5,1468.7 661.5,1465.7 658.8,1462.7 656.4,1458.7 655.0,1454.7 654.5,1450.7 654.8,1445.7 656.0,1441.7 658.1,1437.7 660.5,1434.7 664.2,1431.5 668.2,1429.3 672.2,1427.9 677.2,1427.2 682.2,1427.5 687.2,1428.9 692.2,1431.5 695.9,1434.7 698.3,1437.7 703.6,1448.7 705.2,1450.3 709.3,1452.7 711.0,1454.7 711.1,1456.7 709.8,1458.7 707.4,1459.7 701.2,1461.0 699.2,1462.1 690.9,1468.7 687.2,1470.5 683.2,1471.7"/><path d="M683.2,1470.7 679.2,1471.2 674.2,1470.9 670.2,1469.9 666.2,1468.0 663.0,1465.7 660.1,1462.7 657.5,1458.7 656.1,1454.7 655.5,1450.7 655.7,1446.7 656.7,1442.7 658.6,1438.7 661.2,1435.4 664.2,1432.7 668.2,1430.3 672.2,1428.9 677.2,1428.2 683.2,1428.7 688.2,1430.3 692.2,1432.7 697.2,1437.9 699.3,1441.7 702.2,1449.1 706.8,1454.7 707.0,1455.7 706.5,1456.7 699.2,1460.6 691.2,1467.4 687.2,1469.5 683.2,1470.7"/><path d="M750.2,1482.7 746.2,1482.7 742.2,1482.0 738.5,1480.7 735.2,1478.7 732.1,1475.7 724.7,1465.7 723.7,1463.7 723.6,1461.7 724.9,1458.7 727.4,1456.7 740.2,1453.7 751.2,1448.5 754.2,1447.9 756.2,1448.7 758.2,1450.5 764.2,1459.1 766.5,1463.7 767.1,1468.7 765.6,1473.7 762.2,1477.9 757.2,1481.0 750.2,1482.7"/><path d="M683.2,1469.7 679.2,1470.2 675.2,1470.1 671.2,1469.2 667.2,1467.4 663.4,1464.7 660.6,1461.7 658.7,1458.7 657.1,1454.7 656.5,1450.7 656.7,1446.7 657.8,1442.7 659.2,1439.7 661.4,1436.7 664.6,1433.7 668.2,1431.4 672.2,1429.9 677.2,1429.2 682.2,1429.5 687.2,1431.0 691.8,1433.7 695.2,1436.9 697.7,1440.7 702.0,1452.7 702.3,1454.7 701.3,1456.7 693.2,1464.6 688.7,1467.7 683.2,1469.7"/><path d="M752.2,1481.9 747.2,1482.2 742.2,1481.4 737.9,1479.7 734.2,1477.0 725.4,1464.7 725.1,1461.7 726.7,1458.7 729.2,1457.1 740.2,1454.3 751.2,1449.8 754.2,1449.6 757.2,1451.1 760.2,1454.5 764.9,1461.7 766.2,1465.7 766.2,1469.7 764.8,1473.7 761.4,1477.7 757.2,1480.3 752.2,1481.9"/><path d="M682.2,1468.9 678.2,1469.2 674.2,1468.9 670.2,1467.7 666.4,1465.7 663.8,1463.7 661.2,1460.7 659.2,1457.3 658.0,1453.7 657.6,1449.7 657.8,1446.7 659.0,1442.7 660.5,1439.7 662.8,1436.7 666.2,1433.8 669.2,1432.1 673.2,1430.7 677.2,1430.2 682.2,1430.5 686.2,1431.7 690.0,1433.7 693.2,1436.3 695.9,1439.7 697.8,1443.7 699.0,1447.7 699.8,1453.7 699.3,1455.7 697.2,1458.7 693.7,1462.7 690.2,1465.6 686.2,1467.7 682.2,1468.9"/><path d="M754.2,1480.8 749.2,1481.6 744.2,1481.3 739.3,1479.7 736.0,1477.7 733.1,1474.7 726.7,1464.7 726.4,1461.7 727.5,1459.7 730.3,1457.7 739.2,1455.3 751.2,1450.9 754.2,1450.9 757.2,1452.4 760.2,1455.7 764.1,1461.7 765.3,1464.7 765.6,1468.7 764.5,1472.7 762.2,1476.0 759.0,1478.7 754.2,1480.8"/><path d="M682.2,1467.7 678.2,1468.1 674.2,1467.7 670.7,1466.7 667.2,1464.9 664.4,1462.7 662.2,1460.2 660.2,1456.7 659.2,1453.7 658.7,1449.7 659.0,1446.7 661.2,1440.7 663.4,1437.7 666.2,1435.2 669.2,1433.4 673.2,1431.9 677.2,1431.3 681.2,1431.5 685.2,1432.5 688.2,1433.9 691.2,1436.0 693.8,1438.7 695.7,1441.7 697.2,1445.7 698.1,1452.7 697.7,1454.7 696.2,1457.7 693.2,1461.5 690.2,1464.2 686.2,1466.5 682.2,1467.7"/><path d="M751.2,1480.8 746.2,1481.0 742.2,1480.2 738.2,1478.4 735.2,1476.1 733.2,1473.7 727.9,1464.7 727.8,1461.7 729.1,1459.7 732.2,1458.0 751.2,1451.9 755.2,1452.3 758.2,1454.6 762.1,1459.7 764.2,1463.7 764.9,1467.7 764.5,1470.7 762.4,1474.7 759.3,1477.7 755.5,1479.7 751.2,1480.8"/><path d="M681.2,1466.7 677.2,1466.9 674.2,1466.5 671.2,1465.6 667.6,1463.7 665.1,1461.7 662.7,1458.7 661.1,1455.7 660.3,1452.7 660.0,1448.7 660.5,1445.7 661.6,1442.7 663.4,1439.7 668.2,1435.3 671.4,1433.7 675.2,1432.7 679.2,1432.5 682.2,1432.9 686.2,1434.2 689.2,1436.0 692.2,1438.7 694.2,1441.5 696.3,1447.7 696.3,1453.7 695.1,1456.7 693.1,1459.7 690.2,1462.7 687.2,1464.7 681.2,1466.7"/><path d="M753.2,1479.8 748.2,1480.4 744.2,1480.0 740.2,1478.7 737.0,1476.7 734.1,1473.7 729.5,1465.7 729.0,1462.7 729.9,1460.7 733.0,1458.7 750.2,1453.0 754.2,1453.0 757.2,1454.8 760.2,1458.2 763.0,1462.7 764.1,1466.7 763.9,1469.7 762.8,1472.7 760.6,1475.7 757.2,1478.2 753.2,1479.8"/><path d="M683.2,1464.9 679.2,1465.5 676.2,1465.5 670.3,1463.7 667.2,1461.7 665.2,1459.7 662.3,1454.7 661.6,1451.7 661.5,1448.7 662.0,1445.7 663.2,1442.7 665.2,1439.7 667.2,1437.7 672.2,1434.9 675.2,1434.1 679.2,1433.9 685.2,1435.3 690.3,1438.7 692.7,1441.7 694.1,1444.7 695.0,1450.7 694.6,1453.7 693.4,1456.7 691.2,1459.7 689.2,1461.7 686.2,1463.7 683.2,1464.9"/><path d="M749.2,1479.7 746.2,1479.6 742.2,1478.8 736.9,1475.7 734.4,1472.7 731.2,1466.7 730.5,1464.7 730.4,1462.7 731.7,1460.7 734.2,1459.3 748.2,1454.4 751.2,1453.7 753.2,1453.8 756.9,1455.7 760.3,1459.7 762.8,1464.7 763.2,1468.8 761.9,1472.7 758.2,1476.7 754.2,1478.8 749.2,1479.7"/><path d="M680.2,1463.8 674.2,1463.4 669.2,1461.1 665.2,1456.9 663.3,1451.7 663.5,1446.7 665.7,1441.7 670.1,1437.7 675.2,1435.7 681.2,1435.7 686.3,1437.7 690.7,1441.7 692.3,1444.7 693.1,1447.7 693.3,1450.7 692.7,1453.7 690.2,1458.3 686.2,1461.8 683.2,1463.1 680.2,1463.8"/><path d="M751.2,1478.8 747.2,1479.0 743.2,1478.3 739.6,1476.7 737.2,1474.8 734.9,1471.7 732.1,1465.7 731.9,1463.7 732.7,1461.7 734.2,1460.6 738.4,1458.7 750.2,1454.8 754.2,1455.2 757.2,1457.3 760.0,1460.7 761.5,1463.7 762.3,1466.7 762.1,1469.7 760.9,1472.7 758.2,1475.7 754.8,1477.7 751.2,1478.8"/><path d="M679.2,1461.8 674.2,1461.2 669.6,1458.7 666.5,1454.7 665.4,1450.7 666.1,1445.7 668.2,1442.1 672.2,1439.0 676.2,1437.7 681.2,1437.9 686.2,1440.2 689.3,1443.7 691.0,1448.7 690.3,1453.7 687.8,1457.7 683.6,1460.7 679.2,1461.8"/><path d="M751.2,1477.9 748.2,1478.2 744.2,1477.7 741.2,1476.5 738.2,1474.5 736.0,1471.7 733.9,1466.7 733.6,1463.7 735.0,1461.7 743.5,1457.7 750.2,1455.8 754.2,1456.4 757.2,1458.7 759.4,1461.7 760.8,1464.7 761.3,1466.7 761.1,1469.7 759.7,1472.7 757.9,1474.7 754.9,1476.7 751.2,1477.9"/><path d="M680.2,1457.9 676.2,1457.9 673.2,1456.7 671.0,1454.7 669.5,1451.7 669.3,1448.7 670.3,1445.7 672.2,1443.5 675.3,1441.7 679.2,1441.3 682.2,1442.2 685.2,1444.5 686.9,1447.7 687.1,1450.7 686.1,1453.7 683.2,1456.7 680.2,1457.9"/><path d="M751.2,1476.9 748.2,1477.2 744.4,1476.7 741.8,1475.7 739.0,1473.7 737.2,1471.4 735.7,1467.7 735.4,1464.7 736.4,1462.7 741.3,1459.7 749.2,1457.1 753.2,1457.4 756.2,1459.3 758.2,1461.8 759.6,1464.7 760.1,1467.7 759.8,1469.7 758.3,1472.7 756.2,1474.7 751.2,1476.9"/><path d="M750.2,1475.8 745.7,1475.7 741.2,1473.8 738.6,1470.7 737.4,1466.7 738.2,1463.7 740.5,1461.7 745.2,1459.5 750.2,1458.5 753.2,1459.0 755.5,1460.7 758.0,1464.7 758.5,1467.7 757.8,1470.7 756.2,1472.9 753.6,1474.7 750.2,1475.8"/><path d="M750.2,1473.8 746.2,1473.8 743.4,1472.7 741.3,1470.7 740.1,1467.7 740.4,1465.7 742.2,1463.4 745.1,1461.7 749.2,1460.6 751.2,1460.8 753.2,1461.7 755.2,1464.0 756.1,1466.7 756.0,1468.7 755.1,1470.7 753.0,1472.7 750.2,1473.8"/></g>
<g fill="#555"><rect x="703.7" y="1480.7" width="1" height="1"/><rect x="667.8" y="1393.7" width="1" height="1"/><rect x="734.7" y="1416.0" width="1" height="1"/><rect x="651.8" y="1418.9" width="1" height="1"/><rect x="790.8" y="1438.8" width="1" height="1"/><rect x="652.7" y="1478.7" width="1" height="1"/><rect x="722.6" y="1491.7" width="1" height="1"/><rect x="727.2" y="1431.7" width="1" height="1"/><rect x="647.5" y="1472.1" width="1" height="1"/><rect x="717.6" y="1476.8" width="1" height="1"/><rect x="778.3" y="1488.5" width="1" height="1"/><rect x="745.5" y="1499.0" width="1" height="1"/><rect x="636.2" y="1440.6" width="1" height="1"/><rect x="673.2" y="1490.1" width="1" height="1"/><rect x="746.7" y="1491.7" width="1" height="1"/><rect x="776.3" y="1421.0" width="1" height="1"/><rect x="653.3" y="1399.1" width="1" height="1"/><rect x="710.8" y="1473.9" width="1" height="1"/><rect x="766.0" y="1385.7" width="1" height="1"/><rect x="776.3" y="1456.0" width="1" height="1"/><rect x="709.1" y="1474.7" width="1" height="1"/><rect x="682.3" y="1491.6" width="1" height="1"/><rect x="791.2" y="1414.5" width="1" height="1"/><rect x="703.3" y="1479.8" width="1" height="1"/><rect x="775.4" y="1429.9" width="1" height="1"/><rect x="736.0" y="1445.5" width="1" height="1"/><rect x="795.5" y="1432.6" width="1" height="1"/><rect x="784.8" y="1493.6" width="1" height="1"/><rect x="775.3" y="1457.3" width="1" height="1"/><rect x="726.9" y="1438.0" width="1" height="1"/><rect x="781.4" y="1452.7" width="1" height="1"/><rect x="646.8" y="1485.7" width="1" height="1"/><rect x="783.8" y="1482.6" width="1" height="1"/><rect x="780.7" y="1498.3" width="1" height="1"/><rect x="774.6" y="1440.8" width="1" height="1"/><rect x="756.6" y="1494.5" width="1" height="1"/><rect x="712.2" y="1400.6" width="1" height="1"/><rect x="680.5" y="1409.8" width="1" height="1"/><rect x="732.8" y="1433.8" width="1" height="1"/><rect x="781.5" y="1474.8" width="1" height="1"/><rect x="772.0" y="1497.5" width="1" height="1"/><rect x="692.6" y="1497.7" width="1" height="1"/><rect x="782.8" y="1402.5" width="1" height="1"/><rect x="728.9" y="1436.0" width="1" height="1"/><rect x="758.7" y="1496.9" width="1" height="1"/><rect x="752.9" y="1503.7" width="1" height="1"/><rect x="753.4" y="1496.9" width="1" height="1"/><rect x="721.8" y="1479.8" width="1" height="1"/><rect x="789.8" y="1460.7" width="1" height="1"/><rect x="775.2" y="1479.9" width="1" height="1"/></g>
<rect x="628.2" y="1327.7" width="186" height="184.2" fill="none" stroke="#9a9a9a" stroke-width="1.9"/>
<line x1="718.7" y1="1327.7" x2="718.7" y2="1511.9" stroke="#3a3a3a" stroke-width="1.7"/>
<line x1="628.2" y1="1446.8" x2="814.2" y2="1446.8" stroke="#3a3a3a" stroke-width="1.7"/>
<text transform="translate(631.55,1366.65) scale(0.9750,1)" font-size="26.600">16.9</text>
<text transform="translate(736.05,1366.65) scale(0.9750,1)" font-size="26.600">8.98</text>
<text transform="translate(631.55,1490.45) scale(0.9750,1)" font-size="26.600">32.9</text>
<text transform="translate(736.30,1490.70) scale(0.9750,1)" font-size="26.600">41.2</text>
<ellipse cx="130.85" cy="792.45" rx="85.75" ry="30.2" fill="none" stroke="#ff2020" stroke-width="1"/>
<text transform="translate(30.73,888.05) rotate(-90) scale(0.9195,1)" font-size="31.688" fill="#0000ff">CXCR3</text>
<text transform="translate(30.40,1082.30) rotate(-90) scale(0.9114,1)" font-size="31.052" fill="#0000ff">KLRG1</text>
<text transform="translate(30.20,1273.20) rotate(-90) scale(0.9613,1)" font-size="30.486" fill="#0000ff">ICOS</text>
<text transform="translate(29.70,1441.58) rotate(-90) scale(0.9899,1)" font-size="29.779" fill="#0000ff">TIGIT</text>
<line x1="43" y1="1545.3" x2="320.9" y2="1545.3" stroke="#0000ff" stroke-width="1.6"/>
<line x1="526.8" y1="1545.6" x2="799.6" y2="1545.6" stroke="#0000ff" stroke-width="1.6"/>
<text transform="translate(374.55,1564.57) scale(0.9520,1)" font-size="30.912" fill="#0000ff">CD62L</text>
<text transform="translate(125.75,1599.50)" font-size="28.500">1</text>
<text transform="translate(315.30,1599.75)" font-size="28.500">2</text>
<text transform="translate(514.45,1599.75)" font-size="28.500">3</text>
<text transform="translate(702.95,1599.50)" font-size="28.500">4</text>
<rect x="1006.3" y="1039.6" width="33.1" height="41.1" fill="#fff" stroke="#000" stroke-width="3.8"/>
<rect x="1065.2" y="901.4" width="32.5" height="179.3" fill="#fff" stroke="#000" stroke-width="3.8"/>
<rect x="1123.9" y="1053.3" width="33.2" height="27.4" fill="url(#chk)" stroke="#000" stroke-width="3.8"/>
<rect x="1182.9" y="1008.2" width="33.2" height="72.5" fill="url(#chk)" stroke="#000" stroke-width="3.8"/>
<line x1="984" y1="825" x2="984" y2="1081.7" stroke="#000" stroke-width="2"/>
<line x1="973.5" y1="1080.7" x2="1238.3" y2="1080.7" stroke="#000" stroke-width="2.1"/>
<line x1="973.5" y1="1080.7" x2="984" y2="1080.7" stroke="#000" stroke-width="2.1"/>
<text transform="translate(951.70,1089.33) scale(1.0600,1)" font-size="23.700">0</text>
<line x1="973.5" y1="995.8" x2="984" y2="995.8" stroke="#000" stroke-width="2.1"/>
<text transform="translate(937.70,1004.43) scale(1.0600,1)" font-size="23.700">20</text>
<line x1="973.5" y1="910.9" x2="984" y2="910.9" stroke="#000" stroke-width="2.1"/>
<text transform="translate(937.70,919.53) scale(1.0600,1)" font-size="23.700">40</text>
<line x1="973.5" y1="826" x2="984" y2="826" stroke="#000" stroke-width="2.1"/>
<text transform="translate(937.70,834.62) scale(1.0600,1)" font-size="23.700">60</text>
<text transform="translate(1057.30,781.90) scale(0.9544,1)" font-size="33.494" fill="#0000ff">CXCR3</text>
<text transform="translate(914.62,1072.22) rotate(-90) scale(1.0051,1)" font-size="28.646">CXCR3+ Tregs (%)</text>
<line x1="1022.85" y1="1039.7" x2="1022.85" y2="1020.2" stroke="#000" stroke-width="1.3"/>
<line x1="1012.85" y1="1020.2" x2="1032.85" y2="1020.2" stroke="#000" stroke-width="1.6"/>
<line x1="1081.45" y1="901.5" x2="1081.45" y2="847.5" stroke="#000" stroke-width="1.3"/>
<line x1="1071.45" y1="847.5" x2="1091.45" y2="847.5" stroke="#000" stroke-width="1.6"/>
<line x1="1140.5" y1="1053.4" x2="1140.5" y2="1031.3" stroke="#000" stroke-width="1.3"/>
<line x1="1130.5" y1="1031.3" x2="1150.5" y2="1031.3" stroke="#000" stroke-width="1.6"/>
<line x1="1199.5" y1="1008.3" x2="1199.5" y2="981.1" stroke="#000" stroke-width="1.3"/>
<line x1="1189.5" y1="981.1" x2="1209.5" y2="981.1" stroke="#000" stroke-width="1.6"/>
<circle cx="1022.9" cy="1019" r="4.1" fill="#f00"/>
<circle cx="1022.9" cy="1038.2" r="4.1" fill="#f00"/>
<circle cx="1022.9" cy="1051.6" r="4.1" fill="#f00"/>
<circle cx="1081.6" cy="844.5" r="4.1" fill="#f00"/>
<circle cx="1081.6" cy="904.8" r="4.1" fill="#f00"/>
<circle cx="1081.6" cy="946.2" r="4.1" fill="#f00"/>
<circle cx="1140.5" cy="1030.6" r="4.1" fill="#f00"/>
<circle cx="1140.5" cy="1052" r="4.1" fill="#f00"/>
<circle cx="1140.5" cy="1067.6" r="4.1" fill="#f00"/>
<circle cx="1199.5" cy="978.8" r="4.1" fill="#f00"/>
<circle cx="1199.5" cy="1010.5" r="4.1" fill="#f00"/>
<circle cx="1199.5" cy="1026.6" r="4.1" fill="#f00"/>
<line x1="1083.4" y1="824.4" x2="1197.8" y2="824.4" stroke="#000" stroke-width="2.1"/>
<text transform="translate(1116.15,816.55) scale(1.0213,1)" font-size="24.706">0.03</text>
<rect x="1423.9" y="1040.2" width="33.4" height="51.8" fill="#fff" stroke="#000" stroke-width="3.8"/>
<rect x="1483" y="950.9" width="32.8" height="141.1" fill="#fff" stroke="#000" stroke-width="3.8"/>
<rect x="1541.8" y="1018.9" width="32.8" height="73.1" fill="url(#chk)" stroke="#000" stroke-width="3.8"/>
<rect x="1600.3" y="954.6" width="33.1" height="137.4" fill="url(#chk)" stroke="#000" stroke-width="3.8"/>
<line x1="1401.1" y1="836.11" x2="1401.1" y2="1093" stroke="#000" stroke-width="2"/>
<line x1="1390.6" y1="1092" x2="1656" y2="1092" stroke="#000" stroke-width="2.1"/>
<line x1="1390.6" y1="1092" x2="1401.1" y2="1092" stroke="#000" stroke-width="2.1"/>
<text transform="translate(1364.90,1100.62) scale(1.0600,1)" font-size="23.700">0</text>
<line x1="1390.6" y1="1007.03" x2="1401.1" y2="1007.03" stroke="#000" stroke-width="2.1"/>
<text transform="translate(1350.90,1015.66) scale(1.0600,1)" font-size="23.700">50</text>
<line x1="1390.6" y1="922.07" x2="1401.1" y2="922.07" stroke="#000" stroke-width="2.1"/>
<text transform="translate(1336.90,930.69) scale(1.0600,1)" font-size="23.700">100</text>
<line x1="1390.6" y1="837.11" x2="1401.1" y2="837.11" stroke="#000" stroke-width="2.1"/>
<text transform="translate(1336.90,845.73) scale(1.0600,1)" font-size="23.700">150</text>
<text transform="translate(1489.60,782.27) scale(0.9580,1)" font-size="33.565" fill="#0000ff">ICOS</text>
<text transform="translate(1307.67,1062.17) rotate(-90) scale(0.9896,1)" font-size="28.592">ICOS+ Treg (%)</text>
<line x1="1440.6" y1="1040.3" x2="1440.6" y2="1031.5" stroke="#000" stroke-width="1.3"/>
<line x1="1430.6" y1="1031.5" x2="1450.6" y2="1031.5" stroke="#000" stroke-width="1.6"/>
<line x1="1499.4" y1="951" x2="1499.4" y2="931.3" stroke="#000" stroke-width="1.3"/>
<line x1="1489.4" y1="931.3" x2="1509.4" y2="931.3" stroke="#000" stroke-width="1.6"/>
<line x1="1558.2" y1="1019" x2="1558.2" y2="1005" stroke="#000" stroke-width="1.3"/>
<line x1="1548.2" y1="1005" x2="1568.2" y2="1005" stroke="#000" stroke-width="1.6"/>
<line x1="1616.85" y1="954.7" x2="1616.85" y2="941.1" stroke="#000" stroke-width="1.3"/>
<line x1="1606.85" y1="941.1" x2="1626.85" y2="941.1" stroke="#000" stroke-width="1.6"/>
<circle cx="1432.7" cy="1031" r="4.1" fill="#f00"/>
<circle cx="1448.3" cy="1038.3" r="4.1" fill="#f00"/>
<circle cx="1432.7" cy="1042.8" r="4.1" fill="#f00"/>
<circle cx="1499.5" cy="928.7" r="4.1" fill="#f00"/>
<circle cx="1491.5" cy="959" r="4.1" fill="#f00"/>
<circle cx="1507.1" cy="957" r="4.1" fill="#f00"/>
<circle cx="1558.3" cy="1003.7" r="4.1" fill="#f00"/>
<circle cx="1550" cy="1025.1" r="4.1" fill="#f00"/>
<circle cx="1565.9" cy="1018.8" r="4.1" fill="#f00"/>
<circle cx="1608.8" cy="941.9" r="4.1" fill="#f00"/>
<circle cx="1624.4" cy="949.4" r="4.1" fill="#f00"/>
<circle cx="1616.9" cy="961.5" r="4.1" fill="#f00"/>
<text transform="translate(1639.60,830.20)" font-size="34.000" font-style="italic">n</text>
<text transform="translate(1665.88,832.08)" font-size="33.000">=</text>
<text transform="translate(1694.65,830.25)" font-size="33.200">3</text>
<rect x="1006.8" y="1349.6" width="32.4" height="46.4" fill="#fff" stroke="#000" stroke-width="3.8"/>
<rect x="1064.5" y="1256.4" width="33.3" height="139.6" fill="#fff" stroke="#000" stroke-width="3.8"/>
<rect x="1123.1" y="1347.2" width="33" height="48.8" fill="url(#chk)" stroke="#000" stroke-width="3.8"/>
<rect x="1181.3" y="1259.6" width="33" height="136.4" fill="url(#chk)" stroke="#000" stroke-width="3.8"/>
<line x1="984.2" y1="1141.8" x2="984.2" y2="1397" stroke="#000" stroke-width="2"/>
<line x1="973.7" y1="1396" x2="1236.6" y2="1396" stroke="#000" stroke-width="2.1"/>
<line x1="973.7" y1="1396" x2="984.2" y2="1396" stroke="#000" stroke-width="2.1"/>
<text transform="translate(951.40,1404.62) scale(1.0600,1)" font-size="23.700">0</text>
<line x1="973.7" y1="1345.36" x2="984.2" y2="1345.36" stroke="#000" stroke-width="2.1"/>
<text transform="translate(951.40,1353.86) scale(1.0600,1)" font-size="23.700">5</text>
<line x1="973.7" y1="1294.72" x2="984.2" y2="1294.72" stroke="#000" stroke-width="2.1"/>
<text transform="translate(937.40,1303.35) scale(1.0600,1)" font-size="23.700">10</text>
<line x1="973.7" y1="1244.08" x2="984.2" y2="1244.08" stroke="#000" stroke-width="2.1"/>
<text transform="translate(937.65,1252.58) scale(1.0600,1)" font-size="23.700">15</text>
<line x1="973.7" y1="1193.44" x2="984.2" y2="1193.44" stroke="#000" stroke-width="2.1"/>
<text transform="translate(937.40,1202.07) scale(1.0600,1)" font-size="23.700">20</text>
<line x1="973.7" y1="1142.8" x2="984.2" y2="1142.8" stroke="#000" stroke-width="2.1"/>
<text transform="translate(937.65,1151.42) scale(1.0600,1)" font-size="23.700">25</text>
<text transform="translate(1059.20,1149.10) scale(0.9102,1)" font-size="33.494" fill="#0000ff">KLRG1</text>
<text transform="translate(914.42,1379.30) rotate(-90) scale(0.9934,1)" font-size="28.646">KLRG1+ Treg (%)</text>
<line x1="1023" y1="1349.7" x2="1023" y2="1315.4" stroke="#000" stroke-width="1.3"/>
<line x1="1013" y1="1315.4" x2="1033" y2="1315.4" stroke="#000" stroke-width="1.6"/>
<line x1="1081.15" y1="1256.5" x2="1081.15" y2="1197.3" stroke="#000" stroke-width="1.3"/>
<line x1="1071.15" y1="1197.3" x2="1091.15" y2="1197.3" stroke="#000" stroke-width="1.6"/>
<line x1="1139.6" y1="1347.3" x2="1139.6" y2="1316.8" stroke="#000" stroke-width="1.3"/>
<line x1="1129.6" y1="1316.8" x2="1149.6" y2="1316.8" stroke="#000" stroke-width="1.6"/>
<line x1="1197.8" y1="1259.7" x2="1197.8" y2="1226.8" stroke="#000" stroke-width="1.3"/>
<line x1="1187.8" y1="1226.8" x2="1207.8" y2="1226.8" stroke="#000" stroke-width="1.6"/>
<circle cx="1022.9" cy="1314.6" r="4.1" fill="#f00"/>
<circle cx="1022.9" cy="1348.2" r="4.1" fill="#f00"/>
<circle cx="1022.9" cy="1377.2" r="4.1" fill="#f00"/>
<circle cx="1080.9" cy="1192.7" r="4.1" fill="#f00"/>
<circle cx="1080.9" cy="1265" r="4.1" fill="#f00"/>
<circle cx="1080.9" cy="1302.8" r="4.1" fill="#f00"/>
<circle cx="1139.2" cy="1318.9" r="4.1" fill="#f00"/>
<circle cx="1139.2" cy="1340.2" r="4.1" fill="#f00"/>
<circle cx="1139.2" cy="1374.5" r="4.1" fill="#f00"/>
<circle cx="1197.7" cy="1226.8" r="4.1" fill="#f00"/>
<circle cx="1197.7" cy="1256.4" r="4.1" fill="#f00"/>
<circle cx="1197.7" cy="1285.9" r="4.1" fill="#f00"/>
<rect x="1424.3" y="1316.6" width="32.5" height="78.7" fill="#fff" stroke="#000" stroke-width="3.8"/>
<rect x="1482.6" y="1218.8" width="32.5" height="176.5" fill="#fff" stroke="#000" stroke-width="3.8"/>
<rect x="1540.3" y="1309.9" width="33.3" height="85.4" fill="url(#chk)" stroke="#000" stroke-width="3.8"/>
<rect x="1598.9" y="1226.1" width="32.5" height="169.2" fill="url(#chk)" stroke="#000" stroke-width="3.8"/>
<line x1="1402.2" y1="1141.82" x2="1402.2" y2="1396.3" stroke="#000" stroke-width="2"/>
<line x1="1391.7" y1="1395.3" x2="1653.4" y2="1395.3" stroke="#000" stroke-width="2.1"/>
<line x1="1391.7" y1="1395.3" x2="1402.2" y2="1395.3" stroke="#000" stroke-width="2.1"/>
<text transform="translate(1366.10,1403.92) scale(1.0600,1)" font-size="23.700">0</text>
<line x1="1391.7" y1="1311.14" x2="1402.2" y2="1311.14" stroke="#000" stroke-width="2.1"/>
<text transform="translate(1352.10,1319.76) scale(1.0600,1)" font-size="23.700">20</text>
<line x1="1391.7" y1="1226.98" x2="1402.2" y2="1226.98" stroke="#000" stroke-width="2.1"/>
<text transform="translate(1352.10,1235.61) scale(1.0600,1)" font-size="23.700">40</text>
<line x1="1391.7" y1="1142.82" x2="1402.2" y2="1142.82" stroke="#000" stroke-width="2.1"/>
<text transform="translate(1352.10,1151.44) scale(1.0600,1)" font-size="23.700">60</text>
<text transform="translate(1487.80,1149.10) scale(0.9578,1)" font-size="33.494" fill="#0000ff">TIGIT</text>
<text transform="translate(1317.85,1366.88) rotate(-90) scale(0.9561,1)" font-size="29.132">TIGIT+ Treg (%)</text>
<line x1="1440.55" y1="1316.7" x2="1440.55" y2="1261" stroke="#000" stroke-width="1.3"/>
<line x1="1430.55" y1="1261" x2="1450.55" y2="1261" stroke="#000" stroke-width="1.6"/>
<line x1="1498.85" y1="1218.9" x2="1498.85" y2="1185.8" stroke="#000" stroke-width="1.3"/>
<line x1="1488.85" y1="1185.8" x2="1508.85" y2="1185.8" stroke="#000" stroke-width="1.6"/>
<line x1="1556.95" y1="1310" x2="1556.95" y2="1288.7" stroke="#000" stroke-width="1.3"/>
<line x1="1546.95" y1="1288.7" x2="1566.95" y2="1288.7" stroke="#000" stroke-width="1.6"/>
<line x1="1615.15" y1="1226.2" x2="1615.15" y2="1168.6" stroke="#000" stroke-width="1.3"/>
<line x1="1605.15" y1="1168.6" x2="1625.15" y2="1168.6" stroke="#000" stroke-width="1.6"/>
<circle cx="1440.4" cy="1252.9" r="4.1" fill="#f00"/>
<circle cx="1440.4" cy="1339.2" r="4.1" fill="#f00"/>
<circle cx="1440.4" cy="1347.8" r="4.1" fill="#f00"/>
<circle cx="1499" cy="1185.8" r="4.1" fill="#f00"/>
<circle cx="1499" cy="1215.6" r="4.1" fill="#f00"/>
<circle cx="1499" cy="1245.9" r="4.1" fill="#f00"/>
<circle cx="1556.7" cy="1286.8" r="4.1" fill="#f00"/>
<circle cx="1556.7" cy="1311.5" r="4.1" fill="#f00"/>
<circle cx="1556.7" cy="1321.7" r="4.1" fill="#f00"/>
<circle cx="1615" cy="1171.8" r="4.1" fill="#f00"/>
<circle cx="1615" cy="1217.5" r="4.1" fill="#f00"/>
<circle cx="1615" cy="1279.3" r="4.1" fill="#f00"/>
<text transform="translate(916.90,1431.85) scale(1.0209,1)" font-size="29.063" fill="#0cf00c">GFP</text>
<text transform="translate(1012.33,1431.35) scale(0.9700,1)" font-size="29.500" fill="#0cf00c">+</text>
<text transform="translate(1071.33,1430.55) scale(1.2200,1)" font-size="29.000" fill="#0cf00c">−</text>
<text transform="translate(1130.03,1431.35) scale(0.9700,1)" font-size="29.500" fill="#0cf00c">+</text>
<text transform="translate(1188.92,1430.55) scale(1.2200,1)" font-size="29.000" fill="#0cf00c">−</text>
<line x1="1114.1" y1="1441.8" x2="1220.7" y2="1441.8" stroke="#000" stroke-width="4.3"/>
<line x1="1013.2" y1="1485" x2="1211.9" y2="1485" stroke="#0000ff" stroke-width="4.3"/>
<text transform="translate(1139.25,1474.10) scale(0.9986,1)" font-size="29.508">RUX</text>
<text transform="translate(1077.35,1517.80) scale(0.9931,1)" font-size="31.273" fill="#0000ff">TAM</text>
<text transform="translate(1340.60,1431.85) scale(1.0209,1)" font-size="29.063" fill="#0cf00c">GFP</text>
<text transform="translate(1434.12,1431.35) scale(0.9700,1)" font-size="29.500" fill="#0cf00c">+</text>
<text transform="translate(1492.72,1430.55) scale(1.2200,1)" font-size="29.000" fill="#0cf00c">−</text>
<text transform="translate(1551.72,1431.35) scale(0.9700,1)" font-size="29.500" fill="#0cf00c">+</text>
<text transform="translate(1610.42,1430.55) scale(1.2200,1)" font-size="29.000" fill="#0cf00c">−</text>
<line x1="1531.9" y1="1441.8" x2="1637.5" y2="1441.8" stroke="#000" stroke-width="4.3"/>
<line x1="1430.6" y1="1486" x2="1629.1" y2="1486" stroke="#0000ff" stroke-width="4.3"/>
<text transform="translate(1548.95,1474.10) scale(0.9986,1)" font-size="29.508">RUX</text>
<text transform="translate(1483.35,1517.80) scale(0.9848,1)" font-size="31.273" fill="#0000ff">TAM</text>
</svg>
</body></html>
